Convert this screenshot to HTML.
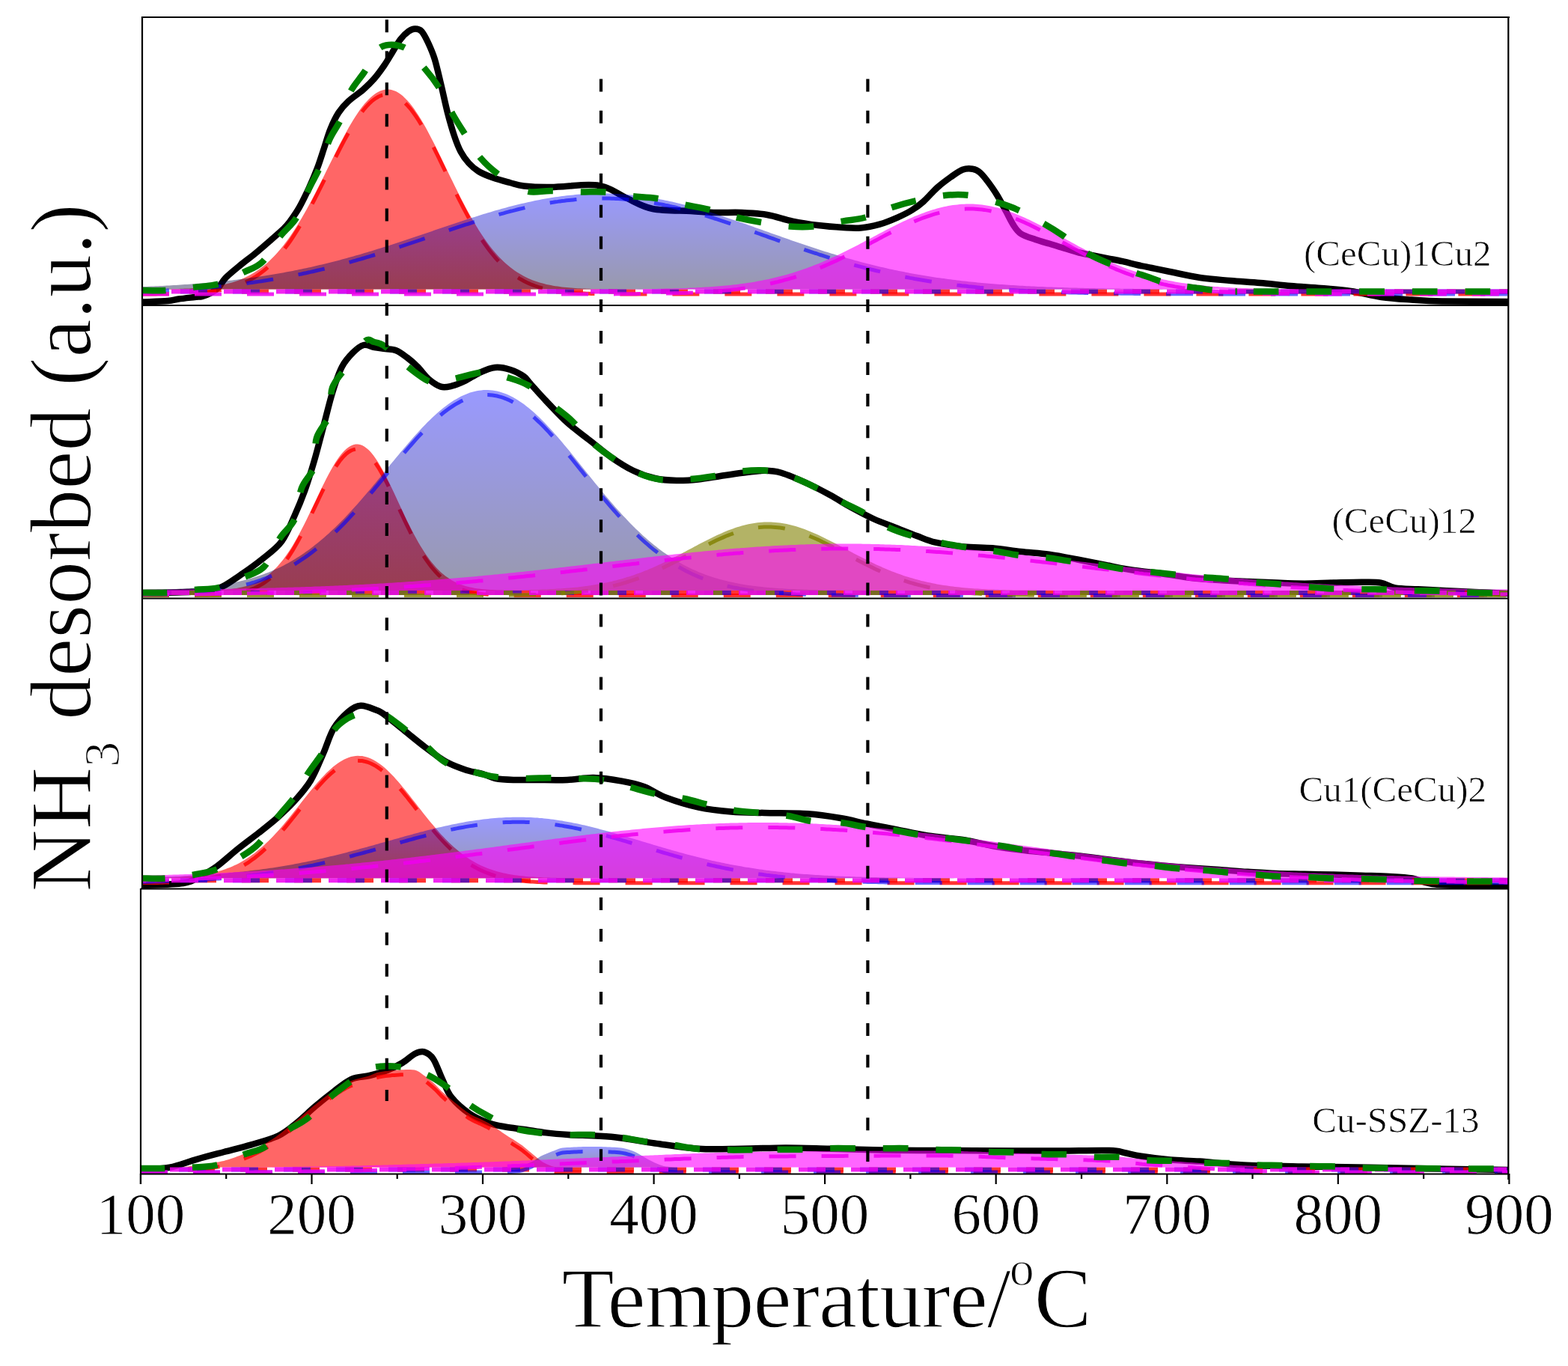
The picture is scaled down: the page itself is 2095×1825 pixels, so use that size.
<!DOCTYPE html><html><head><meta charset="utf-8"><style>html,body{margin:0;padding:0;background:#fff;overflow:hidden;}svg{display:block}</style></head><body>
<svg width="2095" height="1825" viewBox="0 0 2095 1825">
<rect width="2095" height="1825" fill="#fff"/>
<defs>
<linearGradient id="bg0_1" gradientUnits="userSpaceOnUse" x1="0" y1="258.5" x2="0" y2="386.5"><stop offset="0" stop-color="#0000ff"/><stop offset="1" stop-color="#000030"/></linearGradient>
<clipPath id="clip0"><rect x="190.0" y="23.0" width="1825.0" height="385.0"/></clipPath>
<linearGradient id="bg1_1" gradientUnits="userSpaceOnUse" x1="0" y1="521.0" x2="0" y2="789.0"><stop offset="0" stop-color="#0000ff"/><stop offset="1" stop-color="#000030"/></linearGradient>
<clipPath id="clip1"><rect x="190.0" y="408.0" width="1825.0" height="391.5"/></clipPath>
<linearGradient id="bg2_1" gradientUnits="userSpaceOnUse" x1="0" y1="1091.7" x2="0" y2="1173.3"><stop offset="0" stop-color="#0000ff"/><stop offset="1" stop-color="#000030"/></linearGradient>
<clipPath id="clip2"><rect x="190.0" y="799.5" width="1825.0" height="388.0"/></clipPath>
<linearGradient id="bg3_1" gradientUnits="userSpaceOnUse" x1="0" y1="1532.0" x2="0" y2="1559.5"><stop offset="0" stop-color="#0000ff"/><stop offset="1" stop-color="#000030"/></linearGradient>
<clipPath id="clip3"><rect x="188.0" y="1187.5" width="1827.0" height="381.0"/></clipPath>
</defs>
<g clip-path="url(#clip0)">
<path d="M190.0,403.5 C195.7,403.2 215.9,402.7 224.0,402.0 C232.1,401.3 232.5,400.3 238.5,399.5 C244.5,398.7 254.8,397.6 260.0,397.0 C265.2,396.4 266.6,396.8 270.0,396.0 C273.4,395.2 276.8,394.0 280.5,392.0 C284.2,390.0 288.5,387.5 292.0,384.0 C295.5,380.5 296.9,375.9 301.7,371.0 C306.5,366.1 314.5,359.7 321.0,354.4 C327.5,349.1 334.1,344.3 340.6,339.0 C347.1,333.7 353.5,328.1 360.0,322.4 C366.5,316.7 375.0,309.3 379.5,305.0 C384.0,300.7 383.6,301.1 387.0,296.4 C390.4,291.7 395.7,284.4 400.0,276.8 C404.3,269.2 409.0,259.4 413.0,250.7 C417.0,242.0 420.7,233.3 424.0,224.6 C427.3,215.9 429.9,207.2 432.8,198.5 C435.7,189.8 438.2,180.3 441.5,172.3 C444.8,164.3 448.3,156.8 452.3,150.6 C456.3,144.4 459.9,140.4 465.4,135.3 C470.8,130.2 479.2,125.1 485.0,120.0 C490.8,114.9 495.5,110.3 500.2,104.9 C504.9,99.5 509.3,93.3 513.3,87.5 C517.3,81.7 520.6,75.8 524.2,70.0 C527.8,64.2 531.4,57.3 535.0,52.6 C538.6,47.9 542.7,44.1 546.0,41.8 C549.3,39.4 551.7,38.5 554.6,38.5 C557.5,38.5 560.4,38.7 563.3,41.8 C566.2,44.9 569.1,50.8 572.0,57.0 C574.9,63.2 577.8,69.4 580.7,78.8 C583.6,88.2 586.5,101.6 589.4,113.6 C592.3,125.6 595.1,139.4 598.0,150.6 C600.9,161.8 603.9,172.3 606.8,181.0 C609.7,189.7 612.3,196.6 615.6,202.8 C618.9,209.0 622.4,213.6 626.4,218.0 C630.4,222.4 634.1,225.7 639.5,229.0 C644.9,232.3 652.1,235.1 659.0,237.6 C665.9,240.1 674.2,242.2 681.0,244.0 C687.8,245.8 690.8,247.5 700.0,248.5 C709.2,249.5 721.5,250.2 736.0,250.0 C750.5,249.8 774.5,246.8 787.0,247.0 C799.5,247.2 802.5,248.0 811.0,251.0 C819.5,254.0 827.8,260.3 838.0,265.0 C848.2,269.7 857.8,276.2 872.0,279.0 C886.2,281.8 908.8,281.2 923.0,282.0 C937.2,282.8 945.7,283.7 957.0,284.0 C968.3,284.3 979.7,283.5 991.0,284.0 C1002.3,284.5 1013.7,285.1 1025.0,287.0 C1036.3,288.9 1047.7,293.3 1059.0,295.6 C1070.3,297.9 1081.7,299.6 1093.0,301.0 C1104.3,302.4 1117.5,303.4 1127.0,304.0 C1136.5,304.6 1142.0,305.2 1150.0,304.5 C1158.0,303.8 1167.2,301.9 1175.3,299.6 C1183.4,297.3 1191.5,293.9 1198.6,290.8 C1205.7,287.7 1212.2,284.6 1218.0,281.0 C1223.8,277.4 1227.8,274.7 1233.6,269.5 C1239.4,264.3 1246.8,255.5 1253.0,250.0 C1259.2,244.5 1265.1,240.3 1270.6,236.4 C1276.1,232.5 1281.2,228.5 1286.0,226.7 C1290.8,224.9 1295.8,225.0 1299.7,225.7 C1303.6,226.3 1306.0,227.5 1309.5,230.6 C1313.0,233.7 1317.1,239.0 1321.0,244.2 C1324.9,249.4 1328.9,255.2 1332.8,261.7 C1336.7,268.2 1341.0,276.5 1344.5,283.0 C1348.0,289.5 1350.8,295.7 1354.0,300.6 C1357.2,305.5 1359.1,309.0 1364.0,312.2 C1368.9,315.4 1376.9,317.7 1383.4,320.0 C1389.9,322.3 1396.4,323.9 1402.8,325.8 C1409.2,327.8 1415.5,329.8 1422.0,331.7 C1428.5,333.6 1435.2,335.9 1441.7,337.5 C1448.2,339.1 1454.5,340.1 1461.0,341.4 C1467.5,342.7 1474.1,344.0 1480.6,345.3 C1487.1,346.6 1493.5,347.8 1500.0,349.2 C1506.5,350.6 1513.0,352.5 1519.5,354.0 C1526.0,355.5 1531.8,356.5 1539.0,358.0 C1546.2,359.5 1552.2,360.8 1563.0,363.0 C1573.8,365.2 1590.0,369.0 1603.5,371.0 C1617.0,373.0 1630.6,373.8 1644.0,375.0 C1657.4,376.2 1670.6,376.8 1684.0,378.0 C1697.4,379.2 1711.1,380.8 1724.6,382.0 C1738.1,383.2 1751.6,383.8 1765.0,385.0 C1778.4,386.2 1791.5,387.0 1805.0,389.0 C1818.5,391.0 1832.2,395.1 1845.7,397.0 C1859.2,398.9 1872.6,399.6 1886.0,400.5 C1899.4,401.4 1904.5,402.1 1926.0,402.5 C1947.5,402.9 2000.2,402.9 2015.0,403.0" fill="none" stroke="#000" stroke-width="8.5" stroke-linejoin="round" stroke-linecap="round"/>
<polygon points="190.0,386.4 193.0,386.4 196.0,386.4 199.0,386.4 202.0,386.4 205.0,386.4 208.0,386.4 211.0,386.3 214.0,386.3 217.0,386.3 220.0,386.2 223.0,386.2 226.0,386.2 229.0,386.1 232.0,386.1 235.0,386.0 238.0,385.9 241.0,385.8 244.0,385.7 247.0,385.6 250.0,385.5 253.0,385.4 256.0,385.2 259.0,385.1 262.0,384.9 265.0,384.7 268.0,384.5 271.0,384.2 274.0,384.0 277.0,383.6 280.0,383.3 283.0,382.9 286.0,382.5 289.0,382.1 292.0,381.6 295.0,381.0 298.0,380.4 301.0,379.8 304.0,379.0 307.0,378.3 310.0,377.4 313.0,376.5 316.0,375.5 319.0,374.4 322.0,373.2 325.0,372.0 328.0,370.6 331.0,369.1 334.0,367.5 337.0,365.8 340.0,364.0 343.0,362.1 346.0,360.0 349.0,357.8 352.0,355.5 355.0,353.0 358.0,350.4 361.0,347.6 364.0,344.6 367.0,341.5 370.0,338.3 373.0,334.8 376.0,331.2 379.0,327.5 382.0,323.6 385.0,319.5 388.0,315.2 391.0,310.8 394.0,306.2 397.0,301.4 400.0,296.5 403.0,291.5 406.0,286.3 409.0,281.0 412.0,275.5 415.0,269.9 418.0,264.3 421.0,258.5 424.0,252.6 427.0,246.7 430.0,240.7 433.0,234.7 436.0,228.6 439.0,222.5 442.0,216.5 445.0,210.4 448.0,204.4 451.0,198.5 454.0,192.6 457.0,186.9 460.0,181.2 463.0,175.7 466.0,170.3 469.0,165.2 472.0,160.2 475.0,155.4 478.0,150.9 481.0,146.6 484.0,142.6 487.0,138.8 490.0,135.4 493.0,132.2 496.0,129.4 499.0,126.9 502.0,124.8 505.0,123.0 508.0,121.6 511.0,120.5 514.0,119.8 517.0,119.5 520.0,119.6 523.0,120.0 526.0,120.9 529.0,122.1 532.0,123.8 535.0,125.8 538.0,128.1 541.0,130.9 544.0,133.9 547.0,137.3 550.0,141.0 553.0,145.1 556.0,149.4 559.0,154.0 562.0,158.8 565.0,163.8 568.0,169.1 571.0,174.5 574.0,180.2 577.0,185.9 580.0,191.8 583.0,197.8 586.0,203.9 589.0,210.1 592.0,216.3 595.0,222.5 598.0,228.7 601.0,234.9 604.0,241.1 607.0,247.2 610.0,253.3 613.0,259.3 616.0,265.2 619.0,271.0 622.0,276.7 625.0,282.3 628.0,287.7 631.0,293.0 634.0,298.1 637.0,303.1 640.0,307.9 643.0,312.6 646.0,317.0 649.0,321.3 652.0,325.5 655.0,329.4 658.0,333.2 661.0,336.8 664.0,340.2 667.0,343.4 670.0,346.5 673.0,349.4 676.0,352.2 679.0,354.8 682.0,357.2 685.0,359.5 688.0,361.7 691.0,363.7 694.0,365.6 697.0,367.3 700.0,369.0 703.0,370.5 706.0,371.9 709.0,373.2 712.0,374.4 715.0,375.5 718.0,376.5 721.0,377.5 724.0,378.3 727.0,379.1 730.0,379.9 733.0,380.5 736.0,381.1 739.0,381.7 742.0,382.2 745.0,382.6 748.0,383.0 751.0,383.4 754.0,383.8 757.0,384.1 760.0,384.3 763.0,384.6 766.0,384.8 769.0,385.0 772.0,385.2 775.0,385.3 778.0,385.5 781.0,385.6 784.0,385.7 787.0,385.8 790.0,385.9 793.0,386.0 796.0,386.0 799.0,386.1 802.0,386.1 805.0,386.2 808.0,386.2 811.0,386.3 814.0,386.3 817.0,386.3 820.0,386.4 823.0,386.4 826.0,386.4 829.0,386.4 832.0,386.4 835.0,386.4 838.0,386.4 841.0,386.4 844.0,386.5 847.0,386.5 850.0,386.5 853.0,386.5 856.0,386.5 859.0,386.5 862.0,386.5 865.0,386.5 868.0,386.5 871.0,386.5 874.0,386.5 877.0,386.5 880.0,386.5 883.0,386.5 886.0,386.5 889.0,386.5 892.0,386.5 895.0,386.5 898.0,386.5 901.0,386.5 904.0,386.5 907.0,386.5 910.0,386.5 913.0,386.5 916.0,386.5 919.0,386.5 922.0,386.5 925.0,386.5 928.0,386.5 931.0,386.5 934.0,386.5 937.0,386.5 940.0,386.5 943.0,386.5 946.0,386.5 949.0,386.5 952.0,386.5 955.0,386.5 958.0,386.5 961.0,386.5 964.0,386.5 967.0,386.5 970.0,386.5 973.0,386.5 976.0,386.5 979.0,386.5 982.0,386.5 985.0,386.5 988.0,386.5 991.0,386.5 994.0,386.5 997.0,386.5 1000.0,386.5 1003.0,386.5 1006.0,386.5 1009.0,386.5 1012.0,386.5 1015.0,386.5 1018.0,386.5 1021.0,386.5 1024.0,386.5 1027.0,386.5 1030.0,386.5 1033.0,386.5 1036.0,386.5 1039.0,386.5 1042.0,386.5 1045.0,386.5 1048.0,386.5 1051.0,386.5 1054.0,386.5 1057.0,386.5 1060.0,386.5 1063.0,386.5 1066.0,386.5 1069.0,386.5 1072.0,386.5 1075.0,386.5 1078.0,386.5 1081.0,386.5 1084.0,386.5 1087.0,386.5 1090.0,386.5 1093.0,386.5 1096.0,386.5 1099.0,386.5 1102.0,386.5 1105.0,386.5 1108.0,386.5 1111.0,386.5 1114.0,386.5 1117.0,386.5 1120.0,386.5 1123.0,386.5 1126.0,386.5 1129.0,386.5 1132.0,386.5 1135.0,386.5 1138.0,386.5 1141.0,386.5 1144.0,386.5 1147.0,386.5 1150.0,386.5 1153.0,386.5 1156.0,386.5 1159.0,386.5 1162.0,386.5 1165.0,386.5 1168.0,386.5 1171.0,386.5 1174.0,386.5 1177.0,386.5 1180.0,386.5 1183.0,386.5 1186.0,386.5 1189.0,386.5 1192.0,386.5 1195.0,386.5 1198.0,386.5 1201.0,386.5 1204.0,386.5 1207.0,386.5 1210.0,386.5 1213.0,386.5 1216.0,386.5 1219.0,386.5 1222.0,386.5 1225.0,386.5 1228.0,386.5 1231.0,386.5 1234.0,386.5 1237.0,386.5 1240.0,386.5 1243.0,386.5 1246.0,386.5 1249.0,386.5 1252.0,386.5 1255.0,386.5 1258.0,386.5 1261.0,386.5 1264.0,386.5 1267.0,386.5 1270.0,386.5 1273.0,386.5 1276.0,386.5 1279.0,386.5 1282.0,386.5 1285.0,386.5 1288.0,386.5 1291.0,386.5 1294.0,386.5 1297.0,386.5 1300.0,386.5 1303.0,386.5 1306.0,386.5 1309.0,386.5 1312.0,386.5 1315.0,386.5 1318.0,386.5 1321.0,386.5 1324.0,386.5 1327.0,386.5 1330.0,386.5 1333.0,386.5 1336.0,386.5 1339.0,386.5 1342.0,386.5 1345.0,386.5 1348.0,386.5 1351.0,386.5 1354.0,386.5 1357.0,386.5 1360.0,386.5 1363.0,386.5 1366.0,386.5 1369.0,386.5 1372.0,386.5 1375.0,386.5 1378.0,386.5 1381.0,386.5 1384.0,386.5 1387.0,386.5 1390.0,386.5 1393.0,386.5 1396.0,386.5 1399.0,386.5 1402.0,386.5 1405.0,386.5 1408.0,386.5 1411.0,386.5 1414.0,386.5 1417.0,386.5 1420.0,386.5 1423.0,386.5 1426.0,386.5 1429.0,386.5 1432.0,386.5 1435.0,386.5 1438.0,386.5 1441.0,386.5 1444.0,386.5 1447.0,386.5 1450.0,386.5 1453.0,386.5 1456.0,386.5 1459.0,386.5 1462.0,386.5 1465.0,386.5 1468.0,386.5 1471.0,386.5 1474.0,386.5 1477.0,386.5 1480.0,386.5 1483.0,386.5 1486.0,386.5 1489.0,386.5 1492.0,386.5 1495.0,386.5 1498.0,386.5 1501.0,386.5 1504.0,386.5 1507.0,386.5 1510.0,386.5 1513.0,386.5 1516.0,386.5 1519.0,386.5 1522.0,386.5 1525.0,386.5 1528.0,386.5 1531.0,386.5 1534.0,386.5 1537.0,386.5 1540.0,386.5 1543.0,386.5 1546.0,386.5 1549.0,386.5 1552.0,386.5 1555.0,386.5 1558.0,386.5 1561.0,386.5 1564.0,386.5 1567.0,386.5 1570.0,386.5 1573.0,386.5 1576.0,386.5 1579.0,386.5 1582.0,386.5 1585.0,386.5 1588.0,386.5 1591.0,386.5 1594.0,386.5 1597.0,386.5 1600.0,386.5 1603.0,386.5 1606.0,386.5 1609.0,386.5 1612.0,386.5 1615.0,386.5 1618.0,386.5 1621.0,386.5 1624.0,386.5 1627.0,386.5 1630.0,386.5 1633.0,386.5 1636.0,386.5 1639.0,386.5 1642.0,386.5 1645.0,386.5 1648.0,386.5 1651.0,386.5 1654.0,386.5 1657.0,386.5 1660.0,386.5 1663.0,386.5 1666.0,386.5 1669.0,386.5 1672.0,386.5 1675.0,386.5 1678.0,386.5 1681.0,386.5 1684.0,386.5 1687.0,386.5 1690.0,386.5 1693.0,386.5 1696.0,386.5 1699.0,386.5 1702.0,386.5 1705.0,386.5 1708.0,386.5 1711.0,386.5 1714.0,386.5 1717.0,386.5 1720.0,386.5 1723.0,386.5 1726.0,386.5 1729.0,386.5 1732.0,386.5 1735.0,386.5 1738.0,386.5 1741.0,386.5 1744.0,386.5 1747.0,386.5 1750.0,386.5 1753.0,386.5 1756.0,386.5 1759.0,386.5 1762.0,386.5 1765.0,386.5 1768.0,386.5 1771.0,386.5 1774.0,386.5 1777.0,386.5 1780.0,386.5 1783.0,386.5 1786.0,386.5 1789.0,386.5 1792.0,386.5 1795.0,386.5 1798.0,386.5 1801.0,386.5 1804.0,386.5 1807.0,386.5 1810.0,386.5 1813.0,386.5 1816.0,386.5 1819.0,386.5 1822.0,386.5 1825.0,386.5 1828.0,386.5 1831.0,386.5 1834.0,386.5 1837.0,386.5 1840.0,386.5 1843.0,386.5 1846.0,386.5 1849.0,386.5 1852.0,386.5 1855.0,386.5 1858.0,386.5 1861.0,386.5 1864.0,386.5 1867.0,386.5 1870.0,386.5 1873.0,386.5 1876.0,386.5 1879.0,386.5 1882.0,386.5 1885.0,386.5 1888.0,386.5 1891.0,386.5 1894.0,386.5 1897.0,386.5 1900.0,386.5 1903.0,386.5 1906.0,386.5 1909.0,386.5 1912.0,386.5 1915.0,386.5 1918.0,386.5 1921.0,386.5 1924.0,386.5 1927.0,386.5 1930.0,386.5 1933.0,386.5 1936.0,386.5 1939.0,386.5 1942.0,386.5 1945.0,386.5 1948.0,386.5 1951.0,386.5 1954.0,386.5 1957.0,386.5 1960.0,386.5 1963.0,386.5 1966.0,386.5 1969.0,386.5 1972.0,386.5 1975.0,386.5 1978.0,386.5 1981.0,386.5 1984.0,386.5 1987.0,386.5 1990.0,386.5 1993.0,386.5 1996.0,386.5 1999.0,386.5 2002.0,386.5 2005.0,386.5 2008.0,386.5 2011.0,386.5 2014.0,386.5 2017.0,386.5 2017.0,386.5 190.0,386.5" fill="#ff0000" fill-opacity="0.60" stroke="none"/>
<polyline points="190.0,392.9 193.0,392.9 196.0,392.9 199.0,392.9 202.0,392.9 205.0,392.9 208.0,392.9 211.0,392.8 214.0,392.8 217.0,392.8 220.0,392.7 223.0,392.7 226.0,392.7 229.0,392.6 232.0,392.6 235.0,392.5 238.0,392.4 241.0,392.3 244.0,392.2 247.0,392.1 250.0,392.0 253.0,391.9 256.0,391.7 259.0,391.6 262.0,391.4 265.0,391.2 268.0,391.0 271.0,390.7 274.0,390.5 277.0,390.1 280.0,389.8 283.0,389.4 286.0,389.0 289.0,388.6 292.0,388.1 295.0,387.5 298.0,386.9 301.0,386.3 304.0,385.5 307.0,384.8 310.0,383.9 313.0,383.0 316.0,382.0 319.0,380.9 322.0,379.7 325.0,378.5 328.0,377.1 331.0,375.6 334.0,374.0 337.0,372.3 340.0,370.5 343.0,368.6 346.0,366.5 349.0,364.3 352.0,362.0 355.0,359.5 358.0,356.9 361.0,354.1 364.0,351.1 367.0,348.0 370.0,344.8 373.0,341.3 376.0,337.7 379.0,334.0 382.0,330.1 385.0,326.0 388.0,321.7 391.0,317.3 394.0,312.7 397.0,307.9 400.0,303.0 403.0,298.0 406.0,292.8 409.0,287.5 412.0,282.0 415.0,276.4 418.0,270.8 421.0,265.0 424.0,259.1 427.0,253.2 430.0,247.2 433.0,241.2 436.0,235.1 439.0,229.0 442.0,223.0 445.0,216.9 448.0,210.9 451.0,205.0 454.0,199.1 457.0,193.4 460.0,187.7 463.0,182.2 466.0,176.8 469.0,171.7 472.0,166.7 475.0,161.9 478.0,157.4 481.0,153.1 484.0,149.1 487.0,145.3 490.0,141.9 493.0,138.7 496.0,135.9 499.0,133.4 502.0,131.3 505.0,129.5 508.0,128.1 511.0,127.0 514.0,126.3 517.0,126.0 520.0,126.1 523.0,126.5 526.0,127.4 529.0,128.6 532.0,130.3 535.0,132.3 538.0,134.6 541.0,137.4 544.0,140.4 547.0,143.8 550.0,147.5 553.0,151.6 556.0,155.9 559.0,160.5 562.0,165.3 565.0,170.3 568.0,175.6 571.0,181.0 574.0,186.7 577.0,192.4 580.0,198.3 583.0,204.3 586.0,210.4 589.0,216.6 592.0,222.8 595.0,229.0 598.0,235.2 601.0,241.4 604.0,247.6 607.0,253.7 610.0,259.8 613.0,265.8 616.0,271.7 619.0,277.5 622.0,283.2 625.0,288.8 628.0,294.2 631.0,299.5 634.0,304.6 637.0,309.6 640.0,314.4 643.0,319.1 646.0,323.5 649.0,327.8 652.0,332.0 655.0,335.9 658.0,339.7 661.0,343.3 664.0,346.7 667.0,349.9 670.0,353.0 673.0,355.9 676.0,358.7 679.0,361.3 682.0,363.7 685.0,366.0 688.0,368.2 691.0,370.2 694.0,372.1 697.0,373.8 700.0,375.5 703.0,377.0 706.0,378.4 709.0,379.7 712.0,380.9 715.0,382.0 718.0,383.0 721.0,384.0 724.0,384.8 727.0,385.6 730.0,386.4 733.0,387.0 736.0,387.6 739.0,388.2 742.0,388.7 745.0,389.1 748.0,389.5 751.0,389.9 754.0,390.3 757.0,390.6 760.0,390.8 763.0,391.1 766.0,391.3 769.0,391.5 772.0,391.7 775.0,391.8 778.0,392.0 781.0,392.1 784.0,392.2 787.0,392.3 790.0,392.4 793.0,392.5 796.0,392.5 799.0,392.6 802.0,392.6 805.0,392.7 808.0,392.7 811.0,392.8 814.0,392.8 817.0,392.8 820.0,392.9 823.0,392.9 826.0,392.9 829.0,392.9 832.0,392.9 835.0,392.9 838.0,392.9 841.0,392.9 844.0,393.0 847.0,393.0 850.0,393.0 853.0,393.0 856.0,393.0 859.0,393.0 862.0,393.0 865.0,393.0 868.0,393.0 871.0,393.0 874.0,393.0 877.0,393.0 880.0,393.0 883.0,393.0 886.0,393.0 889.0,393.0 892.0,393.0 895.0,393.0 898.0,393.0 901.0,393.0 904.0,393.0 907.0,393.0 910.0,393.0 913.0,393.0 916.0,393.0 919.0,393.0 922.0,393.0 925.0,393.0 928.0,393.0 931.0,393.0 934.0,393.0 937.0,393.0 940.0,393.0 943.0,393.0 946.0,393.0 949.0,393.0 952.0,393.0 955.0,393.0 958.0,393.0 961.0,393.0 964.0,393.0 967.0,393.0 970.0,393.0 973.0,393.0 976.0,393.0 979.0,393.0 982.0,393.0 985.0,393.0 988.0,393.0 991.0,393.0 994.0,393.0 997.0,393.0 1000.0,393.0 1003.0,393.0 1006.0,393.0 1009.0,393.0 1012.0,393.0 1015.0,393.0 1018.0,393.0 1021.0,393.0 1024.0,393.0 1027.0,393.0 1030.0,393.0 1033.0,393.0 1036.0,393.0 1039.0,393.0 1042.0,393.0 1045.0,393.0 1048.0,393.0 1051.0,393.0 1054.0,393.0 1057.0,393.0 1060.0,393.0 1063.0,393.0 1066.0,393.0 1069.0,393.0 1072.0,393.0 1075.0,393.0 1078.0,393.0 1081.0,393.0 1084.0,393.0 1087.0,393.0 1090.0,393.0 1093.0,393.0 1096.0,393.0 1099.0,393.0 1102.0,393.0 1105.0,393.0 1108.0,393.0 1111.0,393.0 1114.0,393.0 1117.0,393.0 1120.0,393.0 1123.0,393.0 1126.0,393.0 1129.0,393.0 1132.0,393.0 1135.0,393.0 1138.0,393.0 1141.0,393.0 1144.0,393.0 1147.0,393.0 1150.0,393.0 1153.0,393.0 1156.0,393.0 1159.0,393.0 1162.0,393.0 1165.0,393.0 1168.0,393.0 1171.0,393.0 1174.0,393.0 1177.0,393.0 1180.0,393.0 1183.0,393.0 1186.0,393.0 1189.0,393.0 1192.0,393.0 1195.0,393.0 1198.0,393.0 1201.0,393.0 1204.0,393.0 1207.0,393.0 1210.0,393.0 1213.0,393.0 1216.0,393.0 1219.0,393.0 1222.0,393.0 1225.0,393.0 1228.0,393.0 1231.0,393.0 1234.0,393.0 1237.0,393.0 1240.0,393.0 1243.0,393.0 1246.0,393.0 1249.0,393.0 1252.0,393.0 1255.0,393.0 1258.0,393.0 1261.0,393.0 1264.0,393.0 1267.0,393.0 1270.0,393.0 1273.0,393.0 1276.0,393.0 1279.0,393.0 1282.0,393.0 1285.0,393.0 1288.0,393.0 1291.0,393.0 1294.0,393.0 1297.0,393.0 1300.0,393.0 1303.0,393.0 1306.0,393.0 1309.0,393.0 1312.0,393.0 1315.0,393.0 1318.0,393.0 1321.0,393.0 1324.0,393.0 1327.0,393.0 1330.0,393.0 1333.0,393.0 1336.0,393.0 1339.0,393.0 1342.0,393.0 1345.0,393.0 1348.0,393.0 1351.0,393.0 1354.0,393.0 1357.0,393.0 1360.0,393.0 1363.0,393.0 1366.0,393.0 1369.0,393.0 1372.0,393.0 1375.0,393.0 1378.0,393.0 1381.0,393.0 1384.0,393.0 1387.0,393.0 1390.0,393.0 1393.0,393.0 1396.0,393.0 1399.0,393.0 1402.0,393.0 1405.0,393.0 1408.0,393.0 1411.0,393.0 1414.0,393.0 1417.0,393.0 1420.0,393.0 1423.0,393.0 1426.0,393.0 1429.0,393.0 1432.0,393.0 1435.0,393.0 1438.0,393.0 1441.0,393.0 1444.0,393.0 1447.0,393.0 1450.0,393.0 1453.0,393.0 1456.0,393.0 1459.0,393.0 1462.0,393.0 1465.0,393.0 1468.0,393.0 1471.0,393.0 1474.0,393.0 1477.0,393.0 1480.0,393.0 1483.0,393.0 1486.0,393.0 1489.0,393.0 1492.0,393.0 1495.0,393.0 1498.0,393.0 1501.0,393.0 1504.0,393.0 1507.0,393.0 1510.0,393.0 1513.0,393.0 1516.0,393.0 1519.0,393.0 1522.0,393.0 1525.0,393.0 1528.0,393.0 1531.0,393.0 1534.0,393.0 1537.0,393.0 1540.0,393.0 1543.0,393.0 1546.0,393.0 1549.0,393.0 1552.0,393.0 1555.0,393.0 1558.0,393.0 1561.0,393.0 1564.0,393.0 1567.0,393.0 1570.0,393.0 1573.0,393.0 1576.0,393.0 1579.0,393.0 1582.0,393.0 1585.0,393.0 1588.0,393.0 1591.0,393.0 1594.0,393.0 1597.0,393.0 1600.0,393.0 1603.0,393.0 1606.0,393.0 1609.0,393.0 1612.0,393.0 1615.0,393.0 1618.0,393.0 1621.0,393.0 1624.0,393.0 1627.0,393.0 1630.0,393.0 1633.0,393.0 1636.0,393.0 1639.0,393.0 1642.0,393.0 1645.0,393.0 1648.0,393.0 1651.0,393.0 1654.0,393.0 1657.0,393.0 1660.0,393.0 1663.0,393.0 1666.0,393.0 1669.0,393.0 1672.0,393.0 1675.0,393.0 1678.0,393.0 1681.0,393.0 1684.0,393.0 1687.0,393.0 1690.0,393.0 1693.0,393.0 1696.0,393.0 1699.0,393.0 1702.0,393.0 1705.0,393.0 1708.0,393.0 1711.0,393.0 1714.0,393.0 1717.0,393.0 1720.0,393.0 1723.0,393.0 1726.0,393.0 1729.0,393.0 1732.0,393.0 1735.0,393.0 1738.0,393.0 1741.0,393.0 1744.0,393.0 1747.0,393.0 1750.0,393.0 1753.0,393.0 1756.0,393.0 1759.0,393.0 1762.0,393.0 1765.0,393.0 1768.0,393.0 1771.0,393.0 1774.0,393.0 1777.0,393.0 1780.0,393.0 1783.0,393.0 1786.0,393.0 1789.0,393.0 1792.0,393.0 1795.0,393.0 1798.0,393.0 1801.0,393.0 1804.0,393.0 1807.0,393.0 1810.0,393.0 1813.0,393.0 1816.0,393.0 1819.0,393.0 1822.0,393.0 1825.0,393.0 1828.0,393.0 1831.0,393.0 1834.0,393.0 1837.0,393.0 1840.0,393.0 1843.0,393.0 1846.0,393.0 1849.0,393.0 1852.0,393.0 1855.0,393.0 1858.0,393.0 1861.0,393.0 1864.0,393.0 1867.0,393.0 1870.0,393.0 1873.0,393.0 1876.0,393.0 1879.0,393.0 1882.0,393.0 1885.0,393.0 1888.0,393.0 1891.0,393.0 1894.0,393.0 1897.0,393.0 1900.0,393.0 1903.0,393.0 1906.0,393.0 1909.0,393.0 1912.0,393.0 1915.0,393.0 1918.0,393.0 1921.0,393.0 1924.0,393.0 1927.0,393.0 1930.0,393.0 1933.0,393.0 1936.0,393.0 1939.0,393.0 1942.0,393.0 1945.0,393.0 1948.0,393.0 1951.0,393.0 1954.0,393.0 1957.0,393.0 1960.0,393.0 1963.0,393.0 1966.0,393.0 1969.0,393.0 1972.0,393.0 1975.0,393.0 1978.0,393.0 1981.0,393.0 1984.0,393.0 1987.0,393.0 1990.0,393.0 1993.0,393.0 1996.0,393.0 1999.0,393.0 2002.0,393.0 2005.0,393.0 2008.0,393.0 2011.0,393.0 2014.0,393.0 2017.0,393.0" fill="none" stroke="#ff0000" stroke-opacity="0.80" stroke-width="5" stroke-dasharray="36 34" stroke-dashoffset="0"/>
<line x1="190.0" y1="389.5" x2="2015.0" y2="389.5" stroke="#ff0000" stroke-opacity="0.80" stroke-width="6" stroke-dasharray="36 34" stroke-dashoffset="7"/>
<polygon points="190.0,383.1 193.0,383.0 196.0,382.9 199.0,382.8 202.0,382.6 205.0,382.5 208.0,382.3 211.0,382.2 214.0,382.1 217.0,381.9 220.0,381.7 223.0,381.6 226.0,381.4 229.0,381.2 232.0,381.1 235.0,380.9 238.0,380.7 241.0,380.5 244.0,380.3 247.0,380.1 250.0,379.9 253.0,379.7 256.0,379.4 259.0,379.2 262.0,379.0 265.0,378.8 268.0,378.5 271.0,378.3 274.0,378.0 277.0,377.7 280.0,377.5 283.0,377.2 286.0,376.9 289.0,376.6 292.0,376.3 295.0,376.0 298.0,375.7 301.0,375.4 304.0,375.1 307.0,374.7 310.0,374.4 313.0,374.0 316.0,373.7 319.0,373.3 322.0,372.9 325.0,372.5 328.0,372.2 331.0,371.8 334.0,371.3 337.0,370.9 340.0,370.5 343.0,370.1 346.0,369.6 349.0,369.2 352.0,368.7 355.0,368.2 358.0,367.8 361.0,367.3 364.0,366.8 367.0,366.3 370.0,365.8 373.0,365.2 376.0,364.7 379.0,364.2 382.0,363.6 385.0,363.0 388.0,362.5 391.0,361.9 394.0,361.3 397.0,360.7 400.0,360.1 403.0,359.5 406.0,358.8 409.0,358.2 412.0,357.5 415.0,356.9 418.0,356.2 421.0,355.5 424.0,354.8 427.0,354.1 430.0,353.4 433.0,352.7 436.0,352.0 439.0,351.2 442.0,350.5 445.0,349.7 448.0,348.9 451.0,348.2 454.0,347.4 457.0,346.6 460.0,345.8 463.0,344.9 466.0,344.1 469.0,343.3 472.0,342.4 475.0,341.6 478.0,340.7 481.0,339.9 484.0,339.0 487.0,338.1 490.0,337.2 493.0,336.3 496.0,335.4 499.0,334.5 502.0,333.6 505.0,332.6 508.0,331.7 511.0,330.8 514.0,329.8 517.0,328.9 520.0,327.9 523.0,326.9 526.0,326.0 529.0,325.0 532.0,324.0 535.0,323.0 538.0,322.0 541.0,321.0 544.0,320.0 547.0,319.0 550.0,318.0 553.0,317.0 556.0,316.0 559.0,315.0 562.0,314.0 565.0,312.9 568.0,311.9 571.0,310.9 574.0,309.9 577.0,308.9 580.0,307.8 583.0,306.8 586.0,305.8 589.0,304.8 592.0,303.8 595.0,302.7 598.0,301.7 601.0,300.7 604.0,299.7 607.0,298.7 610.0,297.7 613.0,296.7 616.0,295.7 619.0,294.7 622.0,293.7 625.0,292.8 628.0,291.8 631.0,290.8 634.0,289.9 637.0,288.9 640.0,288.0 643.0,287.1 646.0,286.1 649.0,285.2 652.0,284.3 655.0,283.4 658.0,282.5 661.0,281.6 664.0,280.8 667.0,279.9 670.0,279.1 673.0,278.3 676.0,277.4 679.0,276.6 682.0,275.8 685.0,275.1 688.0,274.3 691.0,273.5 694.0,272.8 697.0,272.1 700.0,271.4 703.0,270.7 706.0,270.0 709.0,269.4 712.0,268.7 715.0,268.1 718.0,267.5 721.0,266.9 724.0,266.3 727.0,265.8 730.0,265.2 733.0,264.7 736.0,264.2 739.0,263.8 742.0,263.3 745.0,262.9 748.0,262.4 751.0,262.0 754.0,261.7 757.0,261.3 760.0,261.0 763.0,260.7 766.0,260.4 769.0,260.1 772.0,259.8 775.0,259.6 778.0,259.4 781.0,259.2 784.0,259.0 787.0,258.9 790.0,258.8 793.0,258.7 796.0,258.6 799.0,258.5 802.0,258.5 805.0,258.5 808.0,258.5 811.0,258.5 814.0,258.6 817.0,258.7 820.0,258.8 823.0,258.9 826.0,259.1 829.0,259.3 832.0,259.5 835.0,259.7 838.0,260.0 841.0,260.2 844.0,260.5 847.0,260.9 850.0,261.2 853.0,261.6 856.0,262.0 859.0,262.4 862.0,262.8 865.0,263.3 868.0,263.7 871.0,264.2 874.0,264.8 877.0,265.3 880.0,265.9 883.0,266.4 886.0,267.0 889.0,267.7 892.0,268.3 895.0,269.0 898.0,269.6 901.0,270.3 904.0,271.0 907.0,271.8 910.0,272.5 913.0,273.3 916.0,274.1 919.0,274.9 922.0,275.7 925.0,276.5 928.0,277.3 931.0,278.2 934.0,279.1 937.0,279.9 940.0,280.8 943.0,281.7 946.0,282.7 949.0,283.6 952.0,284.5 955.0,285.5 958.0,286.4 961.0,287.4 964.0,288.4 967.0,289.4 970.0,290.4 973.0,291.4 976.0,292.4 979.0,293.4 982.0,294.4 985.0,295.5 988.0,296.5 991.0,297.6 994.0,298.6 997.0,299.6 1000.0,300.7 1003.0,301.8 1006.0,302.8 1009.0,303.9 1012.0,305.0 1015.0,306.0 1018.0,307.1 1021.0,308.2 1024.0,309.2 1027.0,310.3 1030.0,311.4 1033.0,312.4 1036.0,313.5 1039.0,314.6 1042.0,315.6 1045.0,316.7 1048.0,317.7 1051.0,318.8 1054.0,319.8 1057.0,320.9 1060.0,321.9 1063.0,323.0 1066.0,324.0 1069.0,325.0 1072.0,326.0 1075.0,327.1 1078.0,328.1 1081.0,329.1 1084.0,330.1 1087.0,331.1 1090.0,332.0 1093.0,333.0 1096.0,334.0 1099.0,334.9 1102.0,335.9 1105.0,336.8 1108.0,337.8 1111.0,338.7 1114.0,339.6 1117.0,340.5 1120.0,341.4 1123.0,342.3 1126.0,343.2 1129.0,344.1 1132.0,344.9 1135.0,345.8 1138.0,346.6 1141.0,347.5 1144.0,348.3 1147.0,349.1 1150.0,349.9 1153.0,350.7 1156.0,351.5 1159.0,352.3 1162.0,353.0 1165.0,353.8 1168.0,354.5 1171.0,355.2 1174.0,355.9 1177.0,356.7 1180.0,357.3 1183.0,358.0 1186.0,358.7 1189.0,359.4 1192.0,360.0 1195.0,360.7 1198.0,361.3 1201.0,361.9 1204.0,362.5 1207.0,363.1 1210.0,363.7 1213.0,364.3 1216.0,364.9 1219.0,365.4 1222.0,366.0 1225.0,366.5 1228.0,367.0 1231.0,367.5 1234.0,368.0 1237.0,368.5 1240.0,369.0 1243.0,369.5 1246.0,370.0 1249.0,370.4 1252.0,370.9 1255.0,371.3 1258.0,371.7 1261.0,372.1 1264.0,372.6 1267.0,373.0 1270.0,373.3 1273.0,373.7 1276.0,374.1 1279.0,374.5 1282.0,374.8 1285.0,375.2 1288.0,375.5 1291.0,375.8 1294.0,376.2 1297.0,376.5 1300.0,376.8 1303.0,377.1 1306.0,377.4 1309.0,377.7 1312.0,377.9 1315.0,378.2 1318.0,378.5 1321.0,378.7 1324.0,379.0 1327.0,379.2 1330.0,379.5 1333.0,379.7 1336.0,379.9 1339.0,380.1 1342.0,380.3 1345.0,380.5 1348.0,380.7 1351.0,380.9 1354.0,381.1 1357.0,381.3 1360.0,381.5 1363.0,381.7 1366.0,381.8 1369.0,382.0 1372.0,382.2 1375.0,382.3 1378.0,382.5 1381.0,382.6 1384.0,382.7 1387.0,382.9 1390.0,383.0 1393.0,383.1 1396.0,383.3 1399.0,383.4 1402.0,383.5 1405.0,383.6 1408.0,383.7 1411.0,383.8 1414.0,383.9 1417.0,384.0 1420.0,384.1 1423.0,384.2 1426.0,384.3 1429.0,384.4 1432.0,384.5 1435.0,384.5 1438.0,384.6 1441.0,384.7 1444.0,384.8 1447.0,384.8 1450.0,384.9 1453.0,385.0 1456.0,385.0 1459.0,385.1 1462.0,385.1 1465.0,385.2 1468.0,385.2 1471.0,385.3 1474.0,385.3 1477.0,385.4 1480.0,385.4 1483.0,385.5 1486.0,385.5 1489.0,385.6 1492.0,385.6 1495.0,385.6 1498.0,385.7 1501.0,385.7 1504.0,385.8 1507.0,385.8 1510.0,385.8 1513.0,385.8 1516.0,385.9 1519.0,385.9 1522.0,385.9 1525.0,386.0 1528.0,386.0 1531.0,386.0 1534.0,386.0 1537.0,386.0 1540.0,386.1 1543.0,386.1 1546.0,386.1 1549.0,386.1 1552.0,386.1 1555.0,386.2 1558.0,386.2 1561.0,386.2 1564.0,386.2 1567.0,386.2 1570.0,386.2 1573.0,386.2 1576.0,386.3 1579.0,386.3 1582.0,386.3 1585.0,386.3 1588.0,386.3 1591.0,386.3 1594.0,386.3 1597.0,386.3 1600.0,386.3 1603.0,386.3 1606.0,386.4 1609.0,386.4 1612.0,386.4 1615.0,386.4 1618.0,386.4 1621.0,386.4 1624.0,386.4 1627.0,386.4 1630.0,386.4 1633.0,386.4 1636.0,386.4 1639.0,386.4 1642.0,386.4 1645.0,386.4 1648.0,386.4 1651.0,386.4 1654.0,386.4 1657.0,386.4 1660.0,386.4 1663.0,386.4 1666.0,386.4 1669.0,386.5 1672.0,386.5 1675.0,386.5 1678.0,386.5 1681.0,386.5 1684.0,386.5 1687.0,386.5 1690.0,386.5 1693.0,386.5 1696.0,386.5 1699.0,386.5 1702.0,386.5 1705.0,386.5 1708.0,386.5 1711.0,386.5 1714.0,386.5 1717.0,386.5 1720.0,386.5 1723.0,386.5 1726.0,386.5 1729.0,386.5 1732.0,386.5 1735.0,386.5 1738.0,386.5 1741.0,386.5 1744.0,386.5 1747.0,386.5 1750.0,386.5 1753.0,386.5 1756.0,386.5 1759.0,386.5 1762.0,386.5 1765.0,386.5 1768.0,386.5 1771.0,386.5 1774.0,386.5 1777.0,386.5 1780.0,386.5 1783.0,386.5 1786.0,386.5 1789.0,386.5 1792.0,386.5 1795.0,386.5 1798.0,386.5 1801.0,386.5 1804.0,386.5 1807.0,386.5 1810.0,386.5 1813.0,386.5 1816.0,386.5 1819.0,386.5 1822.0,386.5 1825.0,386.5 1828.0,386.5 1831.0,386.5 1834.0,386.5 1837.0,386.5 1840.0,386.5 1843.0,386.5 1846.0,386.5 1849.0,386.5 1852.0,386.5 1855.0,386.5 1858.0,386.5 1861.0,386.5 1864.0,386.5 1867.0,386.5 1870.0,386.5 1873.0,386.5 1876.0,386.5 1879.0,386.5 1882.0,386.5 1885.0,386.5 1888.0,386.5 1891.0,386.5 1894.0,386.5 1897.0,386.5 1900.0,386.5 1903.0,386.5 1906.0,386.5 1909.0,386.5 1912.0,386.5 1915.0,386.5 1918.0,386.5 1921.0,386.5 1924.0,386.5 1927.0,386.5 1930.0,386.5 1933.0,386.5 1936.0,386.5 1939.0,386.5 1942.0,386.5 1945.0,386.5 1948.0,386.5 1951.0,386.5 1954.0,386.5 1957.0,386.5 1960.0,386.5 1963.0,386.5 1966.0,386.5 1969.0,386.5 1972.0,386.5 1975.0,386.5 1978.0,386.5 1981.0,386.5 1984.0,386.5 1987.0,386.5 1990.0,386.5 1993.0,386.5 1996.0,386.5 1999.0,386.5 2002.0,386.5 2005.0,386.5 2008.0,386.5 2011.0,386.5 2014.0,386.5 2017.0,386.5 2017.0,386.5 190.0,386.5" fill="url(#bg0_1)" fill-opacity="0.40" stroke="none"/>
<polyline points="190.0,389.6 193.0,389.5 196.0,389.4 199.0,389.3 202.0,389.1 205.0,389.0 208.0,388.8 211.0,388.7 214.0,388.6 217.0,388.4 220.0,388.2 223.0,388.1 226.0,387.9 229.0,387.7 232.0,387.6 235.0,387.4 238.0,387.2 241.0,387.0 244.0,386.8 247.0,386.6 250.0,386.4 253.0,386.2 256.0,385.9 259.0,385.7 262.0,385.5 265.0,385.3 268.0,385.0 271.0,384.8 274.0,384.5 277.0,384.2 280.0,384.0 283.0,383.7 286.0,383.4 289.0,383.1 292.0,382.8 295.0,382.5 298.0,382.2 301.0,381.9 304.0,381.6 307.0,381.2 310.0,380.9 313.0,380.5 316.0,380.2 319.0,379.8 322.0,379.4 325.0,379.0 328.0,378.7 331.0,378.3 334.0,377.8 337.0,377.4 340.0,377.0 343.0,376.6 346.0,376.1 349.0,375.7 352.0,375.2 355.0,374.7 358.0,374.3 361.0,373.8 364.0,373.3 367.0,372.8 370.0,372.3 373.0,371.7 376.0,371.2 379.0,370.7 382.0,370.1 385.0,369.5 388.0,369.0 391.0,368.4 394.0,367.8 397.0,367.2 400.0,366.6 403.0,366.0 406.0,365.3 409.0,364.7 412.0,364.0 415.0,363.4 418.0,362.7 421.0,362.0 424.0,361.3 427.0,360.6 430.0,359.9 433.0,359.2 436.0,358.5 439.0,357.7 442.0,357.0 445.0,356.2 448.0,355.4 451.0,354.7 454.0,353.9 457.0,353.1 460.0,352.3 463.0,351.4 466.0,350.6 469.0,349.8 472.0,348.9 475.0,348.1 478.0,347.2 481.0,346.4 484.0,345.5 487.0,344.6 490.0,343.7 493.0,342.8 496.0,341.9 499.0,341.0 502.0,340.1 505.0,339.1 508.0,338.2 511.0,337.3 514.0,336.3 517.0,335.4 520.0,334.4 523.0,333.4 526.0,332.5 529.0,331.5 532.0,330.5 535.0,329.5 538.0,328.5 541.0,327.5 544.0,326.5 547.0,325.5 550.0,324.5 553.0,323.5 556.0,322.5 559.0,321.5 562.0,320.5 565.0,319.4 568.0,318.4 571.0,317.4 574.0,316.4 577.0,315.4 580.0,314.3 583.0,313.3 586.0,312.3 589.0,311.3 592.0,310.3 595.0,309.2 598.0,308.2 601.0,307.2 604.0,306.2 607.0,305.2 610.0,304.2 613.0,303.2 616.0,302.2 619.0,301.2 622.0,300.2 625.0,299.3 628.0,298.3 631.0,297.3 634.0,296.4 637.0,295.4 640.0,294.5 643.0,293.6 646.0,292.6 649.0,291.7 652.0,290.8 655.0,289.9 658.0,289.0 661.0,288.1 664.0,287.3 667.0,286.4 670.0,285.6 673.0,284.8 676.0,283.9 679.0,283.1 682.0,282.3 685.0,281.6 688.0,280.8 691.0,280.0 694.0,279.3 697.0,278.6 700.0,277.9 703.0,277.2 706.0,276.5 709.0,275.9 712.0,275.2 715.0,274.6 718.0,274.0 721.0,273.4 724.0,272.8 727.0,272.3 730.0,271.7 733.0,271.2 736.0,270.7 739.0,270.3 742.0,269.8 745.0,269.4 748.0,268.9 751.0,268.5 754.0,268.2 757.0,267.8 760.0,267.5 763.0,267.2 766.0,266.9 769.0,266.6 772.0,266.3 775.0,266.1 778.0,265.9 781.0,265.7 784.0,265.5 787.0,265.4 790.0,265.3 793.0,265.2 796.0,265.1 799.0,265.0 802.0,265.0 805.0,265.0 808.0,265.0 811.0,265.0 814.0,265.1 817.0,265.2 820.0,265.3 823.0,265.4 826.0,265.6 829.0,265.8 832.0,266.0 835.0,266.2 838.0,266.5 841.0,266.7 844.0,267.0 847.0,267.4 850.0,267.7 853.0,268.1 856.0,268.5 859.0,268.9 862.0,269.3 865.0,269.8 868.0,270.2 871.0,270.7 874.0,271.3 877.0,271.8 880.0,272.4 883.0,272.9 886.0,273.5 889.0,274.2 892.0,274.8 895.0,275.5 898.0,276.1 901.0,276.8 904.0,277.5 907.0,278.3 910.0,279.0 913.0,279.8 916.0,280.6 919.0,281.4 922.0,282.2 925.0,283.0 928.0,283.8 931.0,284.7 934.0,285.6 937.0,286.4 940.0,287.3 943.0,288.2 946.0,289.2 949.0,290.1 952.0,291.0 955.0,292.0 958.0,292.9 961.0,293.9 964.0,294.9 967.0,295.9 970.0,296.9 973.0,297.9 976.0,298.9 979.0,299.9 982.0,300.9 985.0,302.0 988.0,303.0 991.0,304.1 994.0,305.1 997.0,306.1 1000.0,307.2 1003.0,308.3 1006.0,309.3 1009.0,310.4 1012.0,311.5 1015.0,312.5 1018.0,313.6 1021.0,314.7 1024.0,315.7 1027.0,316.8 1030.0,317.9 1033.0,318.9 1036.0,320.0 1039.0,321.1 1042.0,322.1 1045.0,323.2 1048.0,324.2 1051.0,325.3 1054.0,326.3 1057.0,327.4 1060.0,328.4 1063.0,329.5 1066.0,330.5 1069.0,331.5 1072.0,332.5 1075.0,333.6 1078.0,334.6 1081.0,335.6 1084.0,336.6 1087.0,337.6 1090.0,338.5 1093.0,339.5 1096.0,340.5 1099.0,341.4 1102.0,342.4 1105.0,343.3 1108.0,344.3 1111.0,345.2 1114.0,346.1 1117.0,347.0 1120.0,347.9 1123.0,348.8 1126.0,349.7 1129.0,350.6 1132.0,351.4 1135.0,352.3 1138.0,353.1 1141.0,354.0 1144.0,354.8 1147.0,355.6 1150.0,356.4 1153.0,357.2 1156.0,358.0 1159.0,358.8 1162.0,359.5 1165.0,360.3 1168.0,361.0 1171.0,361.7 1174.0,362.4 1177.0,363.2 1180.0,363.8 1183.0,364.5 1186.0,365.2 1189.0,365.9 1192.0,366.5 1195.0,367.2 1198.0,367.8 1201.0,368.4 1204.0,369.0 1207.0,369.6 1210.0,370.2 1213.0,370.8 1216.0,371.4 1219.0,371.9 1222.0,372.5 1225.0,373.0 1228.0,373.5 1231.0,374.0 1234.0,374.5 1237.0,375.0 1240.0,375.5 1243.0,376.0 1246.0,376.5 1249.0,376.9 1252.0,377.4 1255.0,377.8 1258.0,378.2 1261.0,378.6 1264.0,379.1 1267.0,379.5 1270.0,379.8 1273.0,380.2 1276.0,380.6 1279.0,381.0 1282.0,381.3 1285.0,381.7 1288.0,382.0 1291.0,382.3 1294.0,382.7 1297.0,383.0 1300.0,383.3 1303.0,383.6 1306.0,383.9 1309.0,384.2 1312.0,384.4 1315.0,384.7 1318.0,385.0 1321.0,385.2 1324.0,385.5 1327.0,385.7 1330.0,386.0 1333.0,386.2 1336.0,386.4 1339.0,386.6 1342.0,386.8 1345.0,387.0 1348.0,387.2 1351.0,387.4 1354.0,387.6 1357.0,387.8 1360.0,388.0 1363.0,388.2 1366.0,388.3 1369.0,388.5 1372.0,388.7 1375.0,388.8 1378.0,389.0 1381.0,389.1 1384.0,389.2 1387.0,389.4 1390.0,389.5 1393.0,389.6 1396.0,389.8 1399.0,389.9 1402.0,390.0 1405.0,390.1 1408.0,390.2 1411.0,390.3 1414.0,390.4 1417.0,390.5 1420.0,390.6 1423.0,390.7 1426.0,390.8 1429.0,390.9 1432.0,391.0 1435.0,391.0 1438.0,391.1 1441.0,391.2 1444.0,391.3 1447.0,391.3 1450.0,391.4 1453.0,391.5 1456.0,391.5 1459.0,391.6 1462.0,391.6 1465.0,391.7 1468.0,391.7 1471.0,391.8 1474.0,391.8 1477.0,391.9 1480.0,391.9 1483.0,392.0 1486.0,392.0 1489.0,392.1 1492.0,392.1 1495.0,392.1 1498.0,392.2 1501.0,392.2 1504.0,392.3 1507.0,392.3 1510.0,392.3 1513.0,392.3 1516.0,392.4 1519.0,392.4 1522.0,392.4 1525.0,392.5 1528.0,392.5 1531.0,392.5 1534.0,392.5 1537.0,392.5 1540.0,392.6 1543.0,392.6 1546.0,392.6 1549.0,392.6 1552.0,392.6 1555.0,392.7 1558.0,392.7 1561.0,392.7 1564.0,392.7 1567.0,392.7 1570.0,392.7 1573.0,392.7 1576.0,392.8 1579.0,392.8 1582.0,392.8 1585.0,392.8 1588.0,392.8 1591.0,392.8 1594.0,392.8 1597.0,392.8 1600.0,392.8 1603.0,392.8 1606.0,392.9 1609.0,392.9 1612.0,392.9 1615.0,392.9 1618.0,392.9 1621.0,392.9 1624.0,392.9 1627.0,392.9 1630.0,392.9 1633.0,392.9 1636.0,392.9 1639.0,392.9 1642.0,392.9 1645.0,392.9 1648.0,392.9 1651.0,392.9 1654.0,392.9 1657.0,392.9 1660.0,392.9 1663.0,392.9 1666.0,392.9 1669.0,393.0 1672.0,393.0 1675.0,393.0 1678.0,393.0 1681.0,393.0 1684.0,393.0 1687.0,393.0 1690.0,393.0 1693.0,393.0 1696.0,393.0 1699.0,393.0 1702.0,393.0 1705.0,393.0 1708.0,393.0 1711.0,393.0 1714.0,393.0 1717.0,393.0 1720.0,393.0 1723.0,393.0 1726.0,393.0 1729.0,393.0 1732.0,393.0 1735.0,393.0 1738.0,393.0 1741.0,393.0 1744.0,393.0 1747.0,393.0 1750.0,393.0 1753.0,393.0 1756.0,393.0 1759.0,393.0 1762.0,393.0 1765.0,393.0 1768.0,393.0 1771.0,393.0 1774.0,393.0 1777.0,393.0 1780.0,393.0 1783.0,393.0 1786.0,393.0 1789.0,393.0 1792.0,393.0 1795.0,393.0 1798.0,393.0 1801.0,393.0 1804.0,393.0 1807.0,393.0 1810.0,393.0 1813.0,393.0 1816.0,393.0 1819.0,393.0 1822.0,393.0 1825.0,393.0 1828.0,393.0 1831.0,393.0 1834.0,393.0 1837.0,393.0 1840.0,393.0 1843.0,393.0 1846.0,393.0 1849.0,393.0 1852.0,393.0 1855.0,393.0 1858.0,393.0 1861.0,393.0 1864.0,393.0 1867.0,393.0 1870.0,393.0 1873.0,393.0 1876.0,393.0 1879.0,393.0 1882.0,393.0 1885.0,393.0 1888.0,393.0 1891.0,393.0 1894.0,393.0 1897.0,393.0 1900.0,393.0 1903.0,393.0 1906.0,393.0 1909.0,393.0 1912.0,393.0 1915.0,393.0 1918.0,393.0 1921.0,393.0 1924.0,393.0 1927.0,393.0 1930.0,393.0 1933.0,393.0 1936.0,393.0 1939.0,393.0 1942.0,393.0 1945.0,393.0 1948.0,393.0 1951.0,393.0 1954.0,393.0 1957.0,393.0 1960.0,393.0 1963.0,393.0 1966.0,393.0 1969.0,393.0 1972.0,393.0 1975.0,393.0 1978.0,393.0 1981.0,393.0 1984.0,393.0 1987.0,393.0 1990.0,393.0 1993.0,393.0 1996.0,393.0 1999.0,393.0 2002.0,393.0 2005.0,393.0 2008.0,393.0 2011.0,393.0 2014.0,393.0 2017.0,393.0" fill="none" stroke="#0000ff" stroke-opacity="0.60" stroke-width="5" stroke-dasharray="36 34" stroke-dashoffset="0"/>
<line x1="190.0" y1="389.5" x2="2015.0" y2="389.5" stroke="#0000ff" stroke-opacity="0.60" stroke-width="6" stroke-dasharray="36 34" stroke-dashoffset="19"/>
<polygon points="190.0,386.5 193.0,386.5 196.0,386.5 199.0,386.5 202.0,386.5 205.0,386.5 208.0,386.5 211.0,386.5 214.0,386.5 217.0,386.5 220.0,386.5 223.0,386.5 226.0,386.5 229.0,386.5 232.0,386.5 235.0,386.5 238.0,386.5 241.0,386.5 244.0,386.5 247.0,386.5 250.0,386.5 253.0,386.5 256.0,386.5 259.0,386.5 262.0,386.5 265.0,386.5 268.0,386.5 271.0,386.5 274.0,386.5 277.0,386.5 280.0,386.5 283.0,386.5 286.0,386.5 289.0,386.5 292.0,386.5 295.0,386.5 298.0,386.5 301.0,386.5 304.0,386.5 307.0,386.5 310.0,386.5 313.0,386.5 316.0,386.5 319.0,386.5 322.0,386.5 325.0,386.5 328.0,386.5 331.0,386.5 334.0,386.5 337.0,386.5 340.0,386.5 343.0,386.5 346.0,386.5 349.0,386.5 352.0,386.5 355.0,386.5 358.0,386.5 361.0,386.5 364.0,386.5 367.0,386.5 370.0,386.5 373.0,386.5 376.0,386.5 379.0,386.5 382.0,386.5 385.0,386.5 388.0,386.5 391.0,386.5 394.0,386.5 397.0,386.5 400.0,386.5 403.0,386.5 406.0,386.5 409.0,386.5 412.0,386.5 415.0,386.5 418.0,386.5 421.0,386.5 424.0,386.5 427.0,386.5 430.0,386.5 433.0,386.5 436.0,386.5 439.0,386.5 442.0,386.5 445.0,386.5 448.0,386.5 451.0,386.5 454.0,386.5 457.0,386.5 460.0,386.5 463.0,386.5 466.0,386.5 469.0,386.5 472.0,386.5 475.0,386.5 478.0,386.5 481.0,386.5 484.0,386.5 487.0,386.5 490.0,386.5 493.0,386.5 496.0,386.5 499.0,386.5 502.0,386.5 505.0,386.5 508.0,386.5 511.0,386.5 514.0,386.5 517.0,386.5 520.0,386.5 523.0,386.5 526.0,386.5 529.0,386.5 532.0,386.5 535.0,386.5 538.0,386.5 541.0,386.5 544.0,386.5 547.0,386.5 550.0,386.5 553.0,386.5 556.0,386.5 559.0,386.5 562.0,386.5 565.0,386.5 568.0,386.5 571.0,386.5 574.0,386.5 577.0,386.5 580.0,386.5 583.0,386.5 586.0,386.5 589.0,386.5 592.0,386.5 595.0,386.5 598.0,386.5 601.0,386.5 604.0,386.5 607.0,386.5 610.0,386.5 613.0,386.5 616.0,386.5 619.0,386.5 622.0,386.5 625.0,386.5 628.0,386.5 631.0,386.5 634.0,386.5 637.0,386.5 640.0,386.5 643.0,386.5 646.0,386.5 649.0,386.5 652.0,386.5 655.0,386.5 658.0,386.5 661.0,386.5 664.0,386.5 667.0,386.5 670.0,386.5 673.0,386.5 676.0,386.5 679.0,386.5 682.0,386.5 685.0,386.5 688.0,386.5 691.0,386.5 694.0,386.5 697.0,386.5 700.0,386.5 703.0,386.5 706.0,386.5 709.0,386.5 712.0,386.5 715.0,386.5 718.0,386.5 721.0,386.5 724.0,386.5 727.0,386.5 730.0,386.5 733.0,386.5 736.0,386.5 739.0,386.5 742.0,386.5 745.0,386.5 748.0,386.5 751.0,386.5 754.0,386.5 757.0,386.5 760.0,386.5 763.0,386.5 766.0,386.5 769.0,386.5 772.0,386.5 775.0,386.5 778.0,386.5 781.0,386.5 784.0,386.4 787.0,386.4 790.0,386.4 793.0,386.4 796.0,386.4 799.0,386.4 802.0,386.4 805.0,386.4 808.0,386.4 811.0,386.4 814.0,386.4 817.0,386.4 820.0,386.4 823.0,386.3 826.0,386.3 829.0,386.3 832.0,386.3 835.0,386.3 838.0,386.3 841.0,386.2 844.0,386.2 847.0,386.2 850.0,386.2 853.0,386.1 856.0,386.1 859.0,386.1 862.0,386.1 865.0,386.0 868.0,386.0 871.0,385.9 874.0,385.9 877.0,385.9 880.0,385.8 883.0,385.7 886.0,385.7 889.0,385.6 892.0,385.6 895.0,385.5 898.0,385.4 901.0,385.3 904.0,385.3 907.0,385.2 910.0,385.1 913.0,385.0 916.0,384.9 919.0,384.8 922.0,384.6 925.0,384.5 928.0,384.4 931.0,384.2 934.0,384.1 937.0,383.9 940.0,383.8 943.0,383.6 946.0,383.4 949.0,383.2 952.0,383.0 955.0,382.8 958.0,382.5 961.0,382.3 964.0,382.0 967.0,381.8 970.0,381.5 973.0,381.2 976.0,380.9 979.0,380.6 982.0,380.2 985.0,379.9 988.0,379.5 991.0,379.1 994.0,378.7 997.0,378.3 1000.0,377.8 1003.0,377.4 1006.0,376.9 1009.0,376.4 1012.0,375.8 1015.0,375.3 1018.0,374.7 1021.0,374.1 1024.0,373.5 1027.0,372.9 1030.0,372.2 1033.0,371.5 1036.0,370.8 1039.0,370.1 1042.0,369.3 1045.0,368.6 1048.0,367.7 1051.0,366.9 1054.0,366.1 1057.0,365.2 1060.0,364.3 1063.0,363.3 1066.0,362.3 1069.0,361.3 1072.0,360.3 1075.0,359.3 1078.0,358.2 1081.0,357.1 1084.0,356.0 1087.0,354.8 1090.0,353.6 1093.0,352.4 1096.0,351.2 1099.0,349.9 1102.0,348.6 1105.0,347.3 1108.0,346.0 1111.0,344.6 1114.0,343.3 1117.0,341.9 1120.0,340.4 1123.0,339.0 1126.0,337.5 1129.0,336.1 1132.0,334.6 1135.0,333.0 1138.0,331.5 1141.0,330.0 1144.0,328.4 1147.0,326.9 1150.0,325.3 1153.0,323.7 1156.0,322.1 1159.0,320.5 1162.0,319.0 1165.0,317.4 1168.0,315.8 1171.0,314.2 1174.0,312.6 1177.0,311.0 1180.0,309.4 1183.0,307.8 1186.0,306.3 1189.0,304.7 1192.0,303.2 1195.0,301.7 1198.0,300.2 1201.0,298.7 1204.0,297.3 1207.0,295.8 1210.0,294.4 1213.0,293.1 1216.0,291.7 1219.0,290.4 1222.0,289.1 1225.0,287.9 1228.0,286.7 1231.0,285.5 1234.0,284.4 1237.0,283.3 1240.0,282.3 1243.0,281.3 1246.0,280.3 1249.0,279.4 1252.0,278.6 1255.0,277.8 1258.0,277.0 1261.0,276.3 1264.0,275.7 1267.0,275.1 1270.0,274.6 1273.0,274.1 1276.0,273.7 1279.0,273.4 1282.0,273.1 1285.0,272.8 1288.0,272.7 1291.0,272.6 1294.0,272.5 1297.0,272.5 1300.0,272.6 1303.0,272.7 1306.0,272.9 1309.0,273.2 1312.0,273.5 1315.0,273.9 1318.0,274.4 1321.0,274.9 1324.0,275.5 1327.0,276.2 1330.0,276.9 1333.0,277.6 1336.0,278.5 1339.0,279.3 1342.0,280.3 1345.0,281.3 1348.0,282.3 1351.0,283.4 1354.0,284.5 1357.0,285.7 1360.0,286.9 1363.0,288.2 1366.0,289.5 1369.0,290.8 1372.0,292.2 1375.0,293.6 1378.0,295.1 1381.0,296.5 1384.0,298.0 1387.0,299.5 1390.0,301.1 1393.0,302.7 1396.0,304.2 1399.0,305.9 1402.0,307.5 1405.0,309.1 1408.0,310.7 1411.0,312.4 1414.0,314.0 1417.0,315.7 1420.0,317.4 1423.0,319.0 1426.0,320.7 1429.0,322.3 1432.0,324.0 1435.0,325.6 1438.0,327.2 1441.0,328.9 1444.0,330.5 1447.0,332.1 1450.0,333.7 1453.0,335.2 1456.0,336.8 1459.0,338.3 1462.0,339.8 1465.0,341.3 1468.0,342.8 1471.0,344.2 1474.0,345.6 1477.0,347.0 1480.0,348.4 1483.0,349.7 1486.0,351.0 1489.0,352.3 1492.0,353.6 1495.0,354.8 1498.0,356.0 1501.0,357.2 1504.0,358.3 1507.0,359.4 1510.0,360.5 1513.0,361.6 1516.0,362.6 1519.0,363.6 1522.0,364.6 1525.0,365.5 1528.0,366.4 1531.0,367.3 1534.0,368.2 1537.0,369.0 1540.0,369.8 1543.0,370.6 1546.0,371.3 1549.0,372.0 1552.0,372.7 1555.0,373.4 1558.0,374.0 1561.0,374.7 1564.0,375.2 1567.0,375.8 1570.0,376.4 1573.0,376.9 1576.0,377.4 1579.0,377.9 1582.0,378.3 1585.0,378.8 1588.0,379.2 1591.0,379.6 1594.0,380.0 1597.0,380.3 1600.0,380.7 1603.0,381.0 1606.0,381.3 1609.0,381.6 1612.0,381.9 1615.0,382.2 1618.0,382.5 1621.0,382.7 1624.0,382.9 1627.0,383.1 1630.0,383.4 1633.0,383.6 1636.0,383.7 1639.0,383.9 1642.0,384.1 1645.0,384.2 1648.0,384.4 1651.0,384.5 1654.0,384.7 1657.0,384.8 1660.0,384.9 1663.0,385.0 1666.0,385.1 1669.0,385.2 1672.0,385.3 1675.0,385.4 1678.0,385.5 1681.0,385.5 1684.0,385.6 1687.0,385.7 1690.0,385.7 1693.0,385.8 1696.0,385.8 1699.0,385.9 1702.0,385.9 1705.0,386.0 1708.0,386.0 1711.0,386.1 1714.0,386.1 1717.0,386.1 1720.0,386.1 1723.0,386.2 1726.0,386.2 1729.0,386.2 1732.0,386.2 1735.0,386.3 1738.0,386.3 1741.0,386.3 1744.0,386.3 1747.0,386.3 1750.0,386.3 1753.0,386.4 1756.0,386.4 1759.0,386.4 1762.0,386.4 1765.0,386.4 1768.0,386.4 1771.0,386.4 1774.0,386.4 1777.0,386.4 1780.0,386.4 1783.0,386.4 1786.0,386.4 1789.0,386.5 1792.0,386.5 1795.0,386.5 1798.0,386.5 1801.0,386.5 1804.0,386.5 1807.0,386.5 1810.0,386.5 1813.0,386.5 1816.0,386.5 1819.0,386.5 1822.0,386.5 1825.0,386.5 1828.0,386.5 1831.0,386.5 1834.0,386.5 1837.0,386.5 1840.0,386.5 1843.0,386.5 1846.0,386.5 1849.0,386.5 1852.0,386.5 1855.0,386.5 1858.0,386.5 1861.0,386.5 1864.0,386.5 1867.0,386.5 1870.0,386.5 1873.0,386.5 1876.0,386.5 1879.0,386.5 1882.0,386.5 1885.0,386.5 1888.0,386.5 1891.0,386.5 1894.0,386.5 1897.0,386.5 1900.0,386.5 1903.0,386.5 1906.0,386.5 1909.0,386.5 1912.0,386.5 1915.0,386.5 1918.0,386.5 1921.0,386.5 1924.0,386.5 1927.0,386.5 1930.0,386.5 1933.0,386.5 1936.0,386.5 1939.0,386.5 1942.0,386.5 1945.0,386.5 1948.0,386.5 1951.0,386.5 1954.0,386.5 1957.0,386.5 1960.0,386.5 1963.0,386.5 1966.0,386.5 1969.0,386.5 1972.0,386.5 1975.0,386.5 1978.0,386.5 1981.0,386.5 1984.0,386.5 1987.0,386.5 1990.0,386.5 1993.0,386.5 1996.0,386.5 1999.0,386.5 2002.0,386.5 2005.0,386.5 2008.0,386.5 2011.0,386.5 2014.0,386.5 2017.0,386.5 2017.0,386.5 190.0,386.5" fill="#ff00ff" fill-opacity="0.60" stroke="none"/>
<polyline points="190.0,393.0 193.0,393.0 196.0,393.0 199.0,393.0 202.0,393.0 205.0,393.0 208.0,393.0 211.0,393.0 214.0,393.0 217.0,393.0 220.0,393.0 223.0,393.0 226.0,393.0 229.0,393.0 232.0,393.0 235.0,393.0 238.0,393.0 241.0,393.0 244.0,393.0 247.0,393.0 250.0,393.0 253.0,393.0 256.0,393.0 259.0,393.0 262.0,393.0 265.0,393.0 268.0,393.0 271.0,393.0 274.0,393.0 277.0,393.0 280.0,393.0 283.0,393.0 286.0,393.0 289.0,393.0 292.0,393.0 295.0,393.0 298.0,393.0 301.0,393.0 304.0,393.0 307.0,393.0 310.0,393.0 313.0,393.0 316.0,393.0 319.0,393.0 322.0,393.0 325.0,393.0 328.0,393.0 331.0,393.0 334.0,393.0 337.0,393.0 340.0,393.0 343.0,393.0 346.0,393.0 349.0,393.0 352.0,393.0 355.0,393.0 358.0,393.0 361.0,393.0 364.0,393.0 367.0,393.0 370.0,393.0 373.0,393.0 376.0,393.0 379.0,393.0 382.0,393.0 385.0,393.0 388.0,393.0 391.0,393.0 394.0,393.0 397.0,393.0 400.0,393.0 403.0,393.0 406.0,393.0 409.0,393.0 412.0,393.0 415.0,393.0 418.0,393.0 421.0,393.0 424.0,393.0 427.0,393.0 430.0,393.0 433.0,393.0 436.0,393.0 439.0,393.0 442.0,393.0 445.0,393.0 448.0,393.0 451.0,393.0 454.0,393.0 457.0,393.0 460.0,393.0 463.0,393.0 466.0,393.0 469.0,393.0 472.0,393.0 475.0,393.0 478.0,393.0 481.0,393.0 484.0,393.0 487.0,393.0 490.0,393.0 493.0,393.0 496.0,393.0 499.0,393.0 502.0,393.0 505.0,393.0 508.0,393.0 511.0,393.0 514.0,393.0 517.0,393.0 520.0,393.0 523.0,393.0 526.0,393.0 529.0,393.0 532.0,393.0 535.0,393.0 538.0,393.0 541.0,393.0 544.0,393.0 547.0,393.0 550.0,393.0 553.0,393.0 556.0,393.0 559.0,393.0 562.0,393.0 565.0,393.0 568.0,393.0 571.0,393.0 574.0,393.0 577.0,393.0 580.0,393.0 583.0,393.0 586.0,393.0 589.0,393.0 592.0,393.0 595.0,393.0 598.0,393.0 601.0,393.0 604.0,393.0 607.0,393.0 610.0,393.0 613.0,393.0 616.0,393.0 619.0,393.0 622.0,393.0 625.0,393.0 628.0,393.0 631.0,393.0 634.0,393.0 637.0,393.0 640.0,393.0 643.0,393.0 646.0,393.0 649.0,393.0 652.0,393.0 655.0,393.0 658.0,393.0 661.0,393.0 664.0,393.0 667.0,393.0 670.0,393.0 673.0,393.0 676.0,393.0 679.0,393.0 682.0,393.0 685.0,393.0 688.0,393.0 691.0,393.0 694.0,393.0 697.0,393.0 700.0,393.0 703.0,393.0 706.0,393.0 709.0,393.0 712.0,393.0 715.0,393.0 718.0,393.0 721.0,393.0 724.0,393.0 727.0,393.0 730.0,393.0 733.0,393.0 736.0,393.0 739.0,393.0 742.0,393.0 745.0,393.0 748.0,393.0 751.0,393.0 754.0,393.0 757.0,393.0 760.0,393.0 763.0,393.0 766.0,393.0 769.0,393.0 772.0,393.0 775.0,393.0 778.0,393.0 781.0,393.0 784.0,392.9 787.0,392.9 790.0,392.9 793.0,392.9 796.0,392.9 799.0,392.9 802.0,392.9 805.0,392.9 808.0,392.9 811.0,392.9 814.0,392.9 817.0,392.9 820.0,392.9 823.0,392.8 826.0,392.8 829.0,392.8 832.0,392.8 835.0,392.8 838.0,392.8 841.0,392.7 844.0,392.7 847.0,392.7 850.0,392.7 853.0,392.6 856.0,392.6 859.0,392.6 862.0,392.6 865.0,392.5 868.0,392.5 871.0,392.4 874.0,392.4 877.0,392.4 880.0,392.3 883.0,392.2 886.0,392.2 889.0,392.1 892.0,392.1 895.0,392.0 898.0,391.9 901.0,391.8 904.0,391.8 907.0,391.7 910.0,391.6 913.0,391.5 916.0,391.4 919.0,391.3 922.0,391.1 925.0,391.0 928.0,390.9 931.0,390.7 934.0,390.6 937.0,390.4 940.0,390.3 943.0,390.1 946.0,389.9 949.0,389.7 952.0,389.5 955.0,389.3 958.0,389.0 961.0,388.8 964.0,388.5 967.0,388.3 970.0,388.0 973.0,387.7 976.0,387.4 979.0,387.1 982.0,386.7 985.0,386.4 988.0,386.0 991.0,385.6 994.0,385.2 997.0,384.8 1000.0,384.3 1003.0,383.9 1006.0,383.4 1009.0,382.9 1012.0,382.3 1015.0,381.8 1018.0,381.2 1021.0,380.6 1024.0,380.0 1027.0,379.4 1030.0,378.7 1033.0,378.0 1036.0,377.3 1039.0,376.6 1042.0,375.8 1045.0,375.1 1048.0,374.2 1051.0,373.4 1054.0,372.6 1057.0,371.7 1060.0,370.8 1063.0,369.8 1066.0,368.8 1069.0,367.8 1072.0,366.8 1075.0,365.8 1078.0,364.7 1081.0,363.6 1084.0,362.5 1087.0,361.3 1090.0,360.1 1093.0,358.9 1096.0,357.7 1099.0,356.4 1102.0,355.1 1105.0,353.8 1108.0,352.5 1111.0,351.1 1114.0,349.8 1117.0,348.4 1120.0,346.9 1123.0,345.5 1126.0,344.0 1129.0,342.6 1132.0,341.1 1135.0,339.5 1138.0,338.0 1141.0,336.5 1144.0,334.9 1147.0,333.4 1150.0,331.8 1153.0,330.2 1156.0,328.6 1159.0,327.0 1162.0,325.5 1165.0,323.9 1168.0,322.3 1171.0,320.7 1174.0,319.1 1177.0,317.5 1180.0,315.9 1183.0,314.3 1186.0,312.8 1189.0,311.2 1192.0,309.7 1195.0,308.2 1198.0,306.7 1201.0,305.2 1204.0,303.8 1207.0,302.3 1210.0,300.9 1213.0,299.6 1216.0,298.2 1219.0,296.9 1222.0,295.6 1225.0,294.4 1228.0,293.2 1231.0,292.0 1234.0,290.9 1237.0,289.8 1240.0,288.8 1243.0,287.8 1246.0,286.8 1249.0,285.9 1252.0,285.1 1255.0,284.3 1258.0,283.5 1261.0,282.8 1264.0,282.2 1267.0,281.6 1270.0,281.1 1273.0,280.6 1276.0,280.2 1279.0,279.9 1282.0,279.6 1285.0,279.3 1288.0,279.2 1291.0,279.1 1294.0,279.0 1297.0,279.0 1300.0,279.1 1303.0,279.2 1306.0,279.4 1309.0,279.7 1312.0,280.0 1315.0,280.4 1318.0,280.9 1321.0,281.4 1324.0,282.0 1327.0,282.7 1330.0,283.4 1333.0,284.1 1336.0,285.0 1339.0,285.8 1342.0,286.8 1345.0,287.8 1348.0,288.8 1351.0,289.9 1354.0,291.0 1357.0,292.2 1360.0,293.4 1363.0,294.7 1366.0,296.0 1369.0,297.3 1372.0,298.7 1375.0,300.1 1378.0,301.6 1381.0,303.0 1384.0,304.5 1387.0,306.0 1390.0,307.6 1393.0,309.2 1396.0,310.7 1399.0,312.4 1402.0,314.0 1405.0,315.6 1408.0,317.2 1411.0,318.9 1414.0,320.5 1417.0,322.2 1420.0,323.9 1423.0,325.5 1426.0,327.2 1429.0,328.8 1432.0,330.5 1435.0,332.1 1438.0,333.7 1441.0,335.4 1444.0,337.0 1447.0,338.6 1450.0,340.2 1453.0,341.7 1456.0,343.3 1459.0,344.8 1462.0,346.3 1465.0,347.8 1468.0,349.3 1471.0,350.7 1474.0,352.1 1477.0,353.5 1480.0,354.9 1483.0,356.2 1486.0,357.5 1489.0,358.8 1492.0,360.1 1495.0,361.3 1498.0,362.5 1501.0,363.7 1504.0,364.8 1507.0,365.9 1510.0,367.0 1513.0,368.1 1516.0,369.1 1519.0,370.1 1522.0,371.1 1525.0,372.0 1528.0,372.9 1531.0,373.8 1534.0,374.7 1537.0,375.5 1540.0,376.3 1543.0,377.1 1546.0,377.8 1549.0,378.5 1552.0,379.2 1555.0,379.9 1558.0,380.5 1561.0,381.2 1564.0,381.7 1567.0,382.3 1570.0,382.9 1573.0,383.4 1576.0,383.9 1579.0,384.4 1582.0,384.8 1585.0,385.3 1588.0,385.7 1591.0,386.1 1594.0,386.5 1597.0,386.8 1600.0,387.2 1603.0,387.5 1606.0,387.8 1609.0,388.1 1612.0,388.4 1615.0,388.7 1618.0,389.0 1621.0,389.2 1624.0,389.4 1627.0,389.6 1630.0,389.9 1633.0,390.1 1636.0,390.2 1639.0,390.4 1642.0,390.6 1645.0,390.7 1648.0,390.9 1651.0,391.0 1654.0,391.2 1657.0,391.3 1660.0,391.4 1663.0,391.5 1666.0,391.6 1669.0,391.7 1672.0,391.8 1675.0,391.9 1678.0,392.0 1681.0,392.0 1684.0,392.1 1687.0,392.2 1690.0,392.2 1693.0,392.3 1696.0,392.3 1699.0,392.4 1702.0,392.4 1705.0,392.5 1708.0,392.5 1711.0,392.6 1714.0,392.6 1717.0,392.6 1720.0,392.6 1723.0,392.7 1726.0,392.7 1729.0,392.7 1732.0,392.7 1735.0,392.8 1738.0,392.8 1741.0,392.8 1744.0,392.8 1747.0,392.8 1750.0,392.8 1753.0,392.9 1756.0,392.9 1759.0,392.9 1762.0,392.9 1765.0,392.9 1768.0,392.9 1771.0,392.9 1774.0,392.9 1777.0,392.9 1780.0,392.9 1783.0,392.9 1786.0,392.9 1789.0,393.0 1792.0,393.0 1795.0,393.0 1798.0,393.0 1801.0,393.0 1804.0,393.0 1807.0,393.0 1810.0,393.0 1813.0,393.0 1816.0,393.0 1819.0,393.0 1822.0,393.0 1825.0,393.0 1828.0,393.0 1831.0,393.0 1834.0,393.0 1837.0,393.0 1840.0,393.0 1843.0,393.0 1846.0,393.0 1849.0,393.0 1852.0,393.0 1855.0,393.0 1858.0,393.0 1861.0,393.0 1864.0,393.0 1867.0,393.0 1870.0,393.0 1873.0,393.0 1876.0,393.0 1879.0,393.0 1882.0,393.0 1885.0,393.0 1888.0,393.0 1891.0,393.0 1894.0,393.0 1897.0,393.0 1900.0,393.0 1903.0,393.0 1906.0,393.0 1909.0,393.0 1912.0,393.0 1915.0,393.0 1918.0,393.0 1921.0,393.0 1924.0,393.0 1927.0,393.0 1930.0,393.0 1933.0,393.0 1936.0,393.0 1939.0,393.0 1942.0,393.0 1945.0,393.0 1948.0,393.0 1951.0,393.0 1954.0,393.0 1957.0,393.0 1960.0,393.0 1963.0,393.0 1966.0,393.0 1969.0,393.0 1972.0,393.0 1975.0,393.0 1978.0,393.0 1981.0,393.0 1984.0,393.0 1987.0,393.0 1990.0,393.0 1993.0,393.0 1996.0,393.0 1999.0,393.0 2002.0,393.0 2005.0,393.0 2008.0,393.0 2011.0,393.0 2014.0,393.0 2017.0,393.0" fill="none" stroke="#ee00ee" stroke-opacity="0.85" stroke-width="5" stroke-dasharray="36 34" stroke-dashoffset="0"/>
<line x1="190.0" y1="389.5" x2="2015.0" y2="389.5" stroke="#ee00ee" stroke-opacity="0.85" stroke-width="6" stroke-dasharray="36 34" stroke-dashoffset="31"/>
<clipPath id="gc0_0"><rect x="190.0" y="23.0" width="272.0" height="385.0"/></clipPath>
<path d="M190.0,388.0 C195.3,388.0 210.7,388.7 222.0,388.0 C233.3,387.3 246.0,385.5 258.0,384.0 C270.0,382.5 282.8,382.3 294.0,379.0 C305.2,375.7 315.6,368.8 325.0,364.0 C334.4,359.2 342.2,358.1 350.5,350.0 C358.8,341.9 367.0,325.3 374.6,315.5 C382.2,305.7 389.8,301.2 396.0,291.0 C402.2,280.8 406.7,265.5 412.0,254.0 C417.3,242.5 423.3,233.2 428.0,222.0 C432.7,210.8 435.3,197.7 440.0,187.0 C444.7,176.3 451.3,168.7 456.0,158.0 C460.7,147.3 462.8,133.3 468.0,123.0 C473.2,112.7 480.3,105.9 487.0,96.0 C493.7,86.1 499.2,68.8 508.0,63.4 C516.8,58.0 530.2,58.8 540.0,63.4 C549.8,68.0 558.9,81.6 567.0,91.0 C575.1,100.4 582.2,109.8 588.5,120.0 C594.8,130.2 598.8,141.7 604.5,152.0 C610.2,162.3 616.8,172.2 623.0,182.0 C629.2,191.8 634.8,202.5 642.0,211.0 C649.2,219.5 656.0,225.7 666.0,233.0 C676.0,240.3 690.3,251.3 702.0,255.0 C713.7,258.7 724.1,254.8 736.0,255.0 C747.9,255.2 761.6,256.2 773.5,256.5 C785.4,256.8 796.0,255.6 807.6,256.5 C819.2,257.4 831.4,260.6 843.0,262.0 C854.6,263.4 865.0,263.1 877.0,265.0 C889.0,266.9 903.3,271.0 915.0,273.5 C926.7,276.0 935.4,277.2 947.0,280.0 C958.6,282.8 972.8,287.7 984.5,290.5 C996.2,293.3 1005.1,295.0 1017.0,297.0 C1028.9,299.0 1044.4,301.6 1056.0,302.5 C1067.6,303.4 1075.0,303.6 1086.6,302.5 C1098.2,301.4 1114.1,297.6 1125.7,295.6 C1137.3,293.6 1145.0,293.6 1156.0,290.5 C1167.0,287.4 1180.8,280.7 1192.0,277.0 C1203.2,273.3 1211.2,271.1 1223.0,268.4 C1234.8,265.7 1250.5,262.2 1262.5,261.0 C1274.5,259.8 1283.6,259.5 1295.0,261.0 C1306.4,262.5 1320.3,266.8 1331.0,270.0 C1341.7,273.2 1348.5,275.2 1359.0,280.0 C1369.5,284.8 1383.8,292.7 1394.0,298.5 C1404.2,304.3 1410.0,307.9 1420.0,314.6 C1430.0,321.4 1441.6,331.9 1454.0,339.0 C1466.4,346.1 1481.8,352.0 1494.6,357.0 C1507.4,362.0 1519.9,365.3 1531.0,369.0 C1542.1,372.7 1549.2,376.3 1561.0,379.0 C1572.8,381.7 1589.3,383.3 1601.5,385.0 C1613.7,386.7 1622.2,388.2 1634.0,389.0 C1645.8,389.8 1608.5,389.4 1672.0,389.5 C1735.5,389.6 1957.8,389.5 2015.0,389.5" clip-path="url(#gc0_0)" fill="none" stroke="#008000" stroke-width="8.5" stroke-dasharray="33.8 36.8" stroke-dashoffset="2.36"/>
<clipPath id="gc0_1"><rect x="462.0" y="23.0" width="222.0" height="385.0"/></clipPath>
<path d="M190.0,388.0 C195.3,388.0 210.7,388.7 222.0,388.0 C233.3,387.3 246.0,385.5 258.0,384.0 C270.0,382.5 282.8,382.3 294.0,379.0 C305.2,375.7 315.6,368.8 325.0,364.0 C334.4,359.2 342.2,358.1 350.5,350.0 C358.8,341.9 367.0,325.3 374.6,315.5 C382.2,305.7 389.8,301.2 396.0,291.0 C402.2,280.8 406.7,265.5 412.0,254.0 C417.3,242.5 423.3,233.2 428.0,222.0 C432.7,210.8 435.3,197.7 440.0,187.0 C444.7,176.3 451.3,168.7 456.0,158.0 C460.7,147.3 462.8,133.3 468.0,123.0 C473.2,112.7 480.3,105.9 487.0,96.0 C493.7,86.1 499.2,68.8 508.0,63.4 C516.8,58.0 530.2,58.8 540.0,63.4 C549.8,68.0 558.9,81.6 567.0,91.0 C575.1,100.4 582.2,109.8 588.5,120.0 C594.8,130.2 598.8,141.7 604.5,152.0 C610.2,162.3 616.8,172.2 623.0,182.0 C629.2,191.8 634.8,202.5 642.0,211.0 C649.2,219.5 656.0,225.7 666.0,233.0 C676.0,240.3 690.3,251.3 702.0,255.0 C713.7,258.7 724.1,254.8 736.0,255.0 C747.9,255.2 761.6,256.2 773.5,256.5 C785.4,256.8 796.0,255.6 807.6,256.5 C819.2,257.4 831.4,260.6 843.0,262.0 C854.6,263.4 865.0,263.1 877.0,265.0 C889.0,266.9 903.3,271.0 915.0,273.5 C926.7,276.0 935.4,277.2 947.0,280.0 C958.6,282.8 972.8,287.7 984.5,290.5 C996.2,293.3 1005.1,295.0 1017.0,297.0 C1028.9,299.0 1044.4,301.6 1056.0,302.5 C1067.6,303.4 1075.0,303.6 1086.6,302.5 C1098.2,301.4 1114.1,297.6 1125.7,295.6 C1137.3,293.6 1145.0,293.6 1156.0,290.5 C1167.0,287.4 1180.8,280.7 1192.0,277.0 C1203.2,273.3 1211.2,271.1 1223.0,268.4 C1234.8,265.7 1250.5,262.2 1262.5,261.0 C1274.5,259.8 1283.6,259.5 1295.0,261.0 C1306.4,262.5 1320.3,266.8 1331.0,270.0 C1341.7,273.2 1348.5,275.2 1359.0,280.0 C1369.5,284.8 1383.8,292.7 1394.0,298.5 C1404.2,304.3 1410.0,307.9 1420.0,314.6 C1430.0,321.4 1441.6,331.9 1454.0,339.0 C1466.4,346.1 1481.8,352.0 1494.6,357.0 C1507.4,362.0 1519.9,365.3 1531.0,369.0 C1542.1,372.7 1549.2,376.3 1561.0,379.0 C1572.8,381.7 1589.3,383.3 1601.5,385.0 C1613.7,386.7 1622.2,388.2 1634.0,389.0 C1645.8,389.8 1608.5,389.4 1672.0,389.5 C1735.5,389.6 1957.8,389.5 2015.0,389.5" clip-path="url(#gc0_1)" fill="none" stroke="#008000" stroke-width="8.5" stroke-dasharray="33.8 36.8" stroke-dashoffset="66.09"/>
<clipPath id="gc0_2"><rect x="684.0" y="23.0" width="629.0" height="385.0"/></clipPath>
<path d="M190.0,388.0 C195.3,388.0 210.7,388.7 222.0,388.0 C233.3,387.3 246.0,385.5 258.0,384.0 C270.0,382.5 282.8,382.3 294.0,379.0 C305.2,375.7 315.6,368.8 325.0,364.0 C334.4,359.2 342.2,358.1 350.5,350.0 C358.8,341.9 367.0,325.3 374.6,315.5 C382.2,305.7 389.8,301.2 396.0,291.0 C402.2,280.8 406.7,265.5 412.0,254.0 C417.3,242.5 423.3,233.2 428.0,222.0 C432.7,210.8 435.3,197.7 440.0,187.0 C444.7,176.3 451.3,168.7 456.0,158.0 C460.7,147.3 462.8,133.3 468.0,123.0 C473.2,112.7 480.3,105.9 487.0,96.0 C493.7,86.1 499.2,68.8 508.0,63.4 C516.8,58.0 530.2,58.8 540.0,63.4 C549.8,68.0 558.9,81.6 567.0,91.0 C575.1,100.4 582.2,109.8 588.5,120.0 C594.8,130.2 598.8,141.7 604.5,152.0 C610.2,162.3 616.8,172.2 623.0,182.0 C629.2,191.8 634.8,202.5 642.0,211.0 C649.2,219.5 656.0,225.7 666.0,233.0 C676.0,240.3 690.3,251.3 702.0,255.0 C713.7,258.7 724.1,254.8 736.0,255.0 C747.9,255.2 761.6,256.2 773.5,256.5 C785.4,256.8 796.0,255.6 807.6,256.5 C819.2,257.4 831.4,260.6 843.0,262.0 C854.6,263.4 865.0,263.1 877.0,265.0 C889.0,266.9 903.3,271.0 915.0,273.5 C926.7,276.0 935.4,277.2 947.0,280.0 C958.6,282.8 972.8,287.7 984.5,290.5 C996.2,293.3 1005.1,295.0 1017.0,297.0 C1028.9,299.0 1044.4,301.6 1056.0,302.5 C1067.6,303.4 1075.0,303.6 1086.6,302.5 C1098.2,301.4 1114.1,297.6 1125.7,295.6 C1137.3,293.6 1145.0,293.6 1156.0,290.5 C1167.0,287.4 1180.8,280.7 1192.0,277.0 C1203.2,273.3 1211.2,271.1 1223.0,268.4 C1234.8,265.7 1250.5,262.2 1262.5,261.0 C1274.5,259.8 1283.6,259.5 1295.0,261.0 C1306.4,262.5 1320.3,266.8 1331.0,270.0 C1341.7,273.2 1348.5,275.2 1359.0,280.0 C1369.5,284.8 1383.8,292.7 1394.0,298.5 C1404.2,304.3 1410.0,307.9 1420.0,314.6 C1430.0,321.4 1441.6,331.9 1454.0,339.0 C1466.4,346.1 1481.8,352.0 1494.6,357.0 C1507.4,362.0 1519.9,365.3 1531.0,369.0 C1542.1,372.7 1549.2,376.3 1561.0,379.0 C1572.8,381.7 1589.3,383.3 1601.5,385.0 C1613.7,386.7 1622.2,388.2 1634.0,389.0 C1645.8,389.8 1608.5,389.4 1672.0,389.5 C1735.5,389.6 1957.8,389.5 2015.0,389.5" clip-path="url(#gc0_2)" fill="none" stroke="#008000" stroke-width="8.5" stroke-dasharray="33.8 36.8" stroke-dashoffset="56.50"/>
<clipPath id="gc0_3"><rect x="1313.0" y="23.0" width="340.0" height="385.0"/></clipPath>
<path d="M190.0,388.0 C195.3,388.0 210.7,388.7 222.0,388.0 C233.3,387.3 246.0,385.5 258.0,384.0 C270.0,382.5 282.8,382.3 294.0,379.0 C305.2,375.7 315.6,368.8 325.0,364.0 C334.4,359.2 342.2,358.1 350.5,350.0 C358.8,341.9 367.0,325.3 374.6,315.5 C382.2,305.7 389.8,301.2 396.0,291.0 C402.2,280.8 406.7,265.5 412.0,254.0 C417.3,242.5 423.3,233.2 428.0,222.0 C432.7,210.8 435.3,197.7 440.0,187.0 C444.7,176.3 451.3,168.7 456.0,158.0 C460.7,147.3 462.8,133.3 468.0,123.0 C473.2,112.7 480.3,105.9 487.0,96.0 C493.7,86.1 499.2,68.8 508.0,63.4 C516.8,58.0 530.2,58.8 540.0,63.4 C549.8,68.0 558.9,81.6 567.0,91.0 C575.1,100.4 582.2,109.8 588.5,120.0 C594.8,130.2 598.8,141.7 604.5,152.0 C610.2,162.3 616.8,172.2 623.0,182.0 C629.2,191.8 634.8,202.5 642.0,211.0 C649.2,219.5 656.0,225.7 666.0,233.0 C676.0,240.3 690.3,251.3 702.0,255.0 C713.7,258.7 724.1,254.8 736.0,255.0 C747.9,255.2 761.6,256.2 773.5,256.5 C785.4,256.8 796.0,255.6 807.6,256.5 C819.2,257.4 831.4,260.6 843.0,262.0 C854.6,263.4 865.0,263.1 877.0,265.0 C889.0,266.9 903.3,271.0 915.0,273.5 C926.7,276.0 935.4,277.2 947.0,280.0 C958.6,282.8 972.8,287.7 984.5,290.5 C996.2,293.3 1005.1,295.0 1017.0,297.0 C1028.9,299.0 1044.4,301.6 1056.0,302.5 C1067.6,303.4 1075.0,303.6 1086.6,302.5 C1098.2,301.4 1114.1,297.6 1125.7,295.6 C1137.3,293.6 1145.0,293.6 1156.0,290.5 C1167.0,287.4 1180.8,280.7 1192.0,277.0 C1203.2,273.3 1211.2,271.1 1223.0,268.4 C1234.8,265.7 1250.5,262.2 1262.5,261.0 C1274.5,259.8 1283.6,259.5 1295.0,261.0 C1306.4,262.5 1320.3,266.8 1331.0,270.0 C1341.7,273.2 1348.5,275.2 1359.0,280.0 C1369.5,284.8 1383.8,292.7 1394.0,298.5 C1404.2,304.3 1410.0,307.9 1420.0,314.6 C1430.0,321.4 1441.6,331.9 1454.0,339.0 C1466.4,346.1 1481.8,352.0 1494.6,357.0 C1507.4,362.0 1519.9,365.3 1531.0,369.0 C1542.1,372.7 1549.2,376.3 1561.0,379.0 C1572.8,381.7 1589.3,383.3 1601.5,385.0 C1613.7,386.7 1622.2,388.2 1634.0,389.0 C1645.8,389.8 1608.5,389.4 1672.0,389.5 C1735.5,389.6 1957.8,389.5 2015.0,389.5" clip-path="url(#gc0_3)" fill="none" stroke="#008000" stroke-width="8.5" stroke-dasharray="33.8 36.8" stroke-dashoffset="55.48"/>
<clipPath id="gc0_4"><rect x="1653.0" y="23.0" width="363.0" height="385.0"/></clipPath>
<path d="M190.0,388.0 C195.3,388.0 210.7,388.7 222.0,388.0 C233.3,387.3 246.0,385.5 258.0,384.0 C270.0,382.5 282.8,382.3 294.0,379.0 C305.2,375.7 315.6,368.8 325.0,364.0 C334.4,359.2 342.2,358.1 350.5,350.0 C358.8,341.9 367.0,325.3 374.6,315.5 C382.2,305.7 389.8,301.2 396.0,291.0 C402.2,280.8 406.7,265.5 412.0,254.0 C417.3,242.5 423.3,233.2 428.0,222.0 C432.7,210.8 435.3,197.7 440.0,187.0 C444.7,176.3 451.3,168.7 456.0,158.0 C460.7,147.3 462.8,133.3 468.0,123.0 C473.2,112.7 480.3,105.9 487.0,96.0 C493.7,86.1 499.2,68.8 508.0,63.4 C516.8,58.0 530.2,58.8 540.0,63.4 C549.8,68.0 558.9,81.6 567.0,91.0 C575.1,100.4 582.2,109.8 588.5,120.0 C594.8,130.2 598.8,141.7 604.5,152.0 C610.2,162.3 616.8,172.2 623.0,182.0 C629.2,191.8 634.8,202.5 642.0,211.0 C649.2,219.5 656.0,225.7 666.0,233.0 C676.0,240.3 690.3,251.3 702.0,255.0 C713.7,258.7 724.1,254.8 736.0,255.0 C747.9,255.2 761.6,256.2 773.5,256.5 C785.4,256.8 796.0,255.6 807.6,256.5 C819.2,257.4 831.4,260.6 843.0,262.0 C854.6,263.4 865.0,263.1 877.0,265.0 C889.0,266.9 903.3,271.0 915.0,273.5 C926.7,276.0 935.4,277.2 947.0,280.0 C958.6,282.8 972.8,287.7 984.5,290.5 C996.2,293.3 1005.1,295.0 1017.0,297.0 C1028.9,299.0 1044.4,301.6 1056.0,302.5 C1067.6,303.4 1075.0,303.6 1086.6,302.5 C1098.2,301.4 1114.1,297.6 1125.7,295.6 C1137.3,293.6 1145.0,293.6 1156.0,290.5 C1167.0,287.4 1180.8,280.7 1192.0,277.0 C1203.2,273.3 1211.2,271.1 1223.0,268.4 C1234.8,265.7 1250.5,262.2 1262.5,261.0 C1274.5,259.8 1283.6,259.5 1295.0,261.0 C1306.4,262.5 1320.3,266.8 1331.0,270.0 C1341.7,273.2 1348.5,275.2 1359.0,280.0 C1369.5,284.8 1383.8,292.7 1394.0,298.5 C1404.2,304.3 1410.0,307.9 1420.0,314.6 C1430.0,321.4 1441.6,331.9 1454.0,339.0 C1466.4,346.1 1481.8,352.0 1494.6,357.0 C1507.4,362.0 1519.9,365.3 1531.0,369.0 C1542.1,372.7 1549.2,376.3 1561.0,379.0 C1572.8,381.7 1589.3,383.3 1601.5,385.0 C1613.7,386.7 1622.2,388.2 1634.0,389.0 C1645.8,389.8 1608.5,389.4 1672.0,389.5 C1735.5,389.6 1957.8,389.5 2015.0,389.5" clip-path="url(#gc0_4)" fill="none" stroke="#008000" stroke-width="8.5" stroke-dasharray="33.8 36.8" stroke-dashoffset="31.24"/>
</g>
<g clip-path="url(#clip1)">
<path d="M190.0,792.0 C201.2,791.8 240.0,791.7 257.0,790.7 C274.0,789.7 281.4,789.7 292.0,786.0 C302.6,782.3 310.7,775.4 320.6,768.7 C330.5,762.0 342.3,753.6 351.6,746.0 C360.9,738.4 369.5,732.5 376.4,723.2 C383.3,713.9 387.8,701.6 393.0,690.2 C398.2,678.8 402.9,667.4 407.4,655.0 C411.9,642.6 415.7,630.0 419.8,615.9 C423.9,601.8 427.9,585.9 432.0,570.4 C436.1,554.9 440.4,536.4 444.6,523.0 C448.8,509.6 452.5,498.5 457.0,489.9 C461.5,481.3 466.6,476.1 471.4,471.3 C476.2,466.5 481.1,462.2 485.9,461.0 C490.7,459.8 495.5,463.2 500.3,464.0 C505.1,464.8 510.0,465.3 514.8,466.0 C519.6,466.7 524.4,466.3 529.2,468.2 C534.0,470.1 538.9,473.9 543.7,477.5 C548.5,481.1 553.2,485.2 558.0,490.0 C562.8,494.8 567.4,501.9 572.6,506.4 C577.8,510.8 583.8,515.2 589.0,516.7 C594.2,518.2 598.4,516.9 603.6,515.7 C608.8,514.5 613.8,512.5 620.0,509.5 C626.2,506.6 633.8,501.1 640.7,498.0 C647.6,494.9 654.5,491.7 661.4,491.0 C668.3,490.3 675.6,492.0 682.0,494.0 C688.4,496.0 695.5,499.8 700.0,503.0 C704.5,506.2 704.2,507.7 709.0,513.0 C713.8,518.3 720.8,526.4 729.0,535.0 C737.2,543.6 748.2,555.8 758.0,564.6 C767.8,573.4 777.7,580.3 787.5,588.0 C797.3,595.7 807.0,604.2 816.7,611.0 C826.5,617.8 836.3,624.1 846.0,628.8 C855.7,633.5 865.3,636.8 875.0,639.0 C884.7,641.2 894.3,641.8 904.0,642.0 C913.7,642.2 923.2,641.5 933.0,640.5 C942.8,639.5 952.7,637.5 962.5,636.0 C972.3,634.5 982.0,632.9 991.7,631.7 C1001.5,630.5 1012.3,628.8 1021.0,628.8 C1029.7,628.8 1034.3,628.8 1044.0,631.7 C1053.7,634.6 1068.3,641.1 1079.0,646.0 C1089.7,650.9 1098.6,655.7 1108.4,661.0 C1118.2,666.3 1127.9,672.7 1137.6,678.0 C1147.3,683.3 1157.0,688.6 1166.7,693.0 C1176.4,697.4 1186.3,700.8 1196.0,704.6 C1205.7,708.4 1216.0,712.6 1225.0,716.0 C1234.0,719.4 1239.5,722.3 1250.0,724.7 C1260.5,727.1 1275.3,729.1 1288.0,730.4 C1300.7,731.7 1313.4,731.2 1326.0,732.3 C1338.6,733.4 1351.2,735.6 1363.8,737.0 C1376.4,738.4 1389.1,739.0 1401.7,740.7 C1414.3,742.5 1427.0,745.1 1439.6,747.5 C1452.2,749.9 1464.8,752.6 1477.5,755.0 C1490.2,757.4 1502.8,760.1 1515.5,762.0 C1528.2,763.9 1540.8,764.8 1553.4,766.5 C1566.0,768.2 1578.4,770.6 1591.0,772.0 C1603.6,773.4 1616.3,774.2 1629.0,775.0 C1641.7,775.8 1654.3,776.4 1667.0,777.0 C1679.7,777.6 1692.3,778.1 1705.0,778.6 C1717.7,779.1 1730.3,779.7 1743.0,779.7 C1755.7,779.7 1768.3,778.9 1781.0,778.6 C1793.7,778.3 1808.3,777.8 1819.0,777.8 C1829.7,777.8 1837.5,777.3 1845.0,778.6 C1852.5,779.9 1855.7,784.0 1864.0,785.4 C1872.3,786.8 1883.3,786.7 1894.7,787.3 C1906.1,787.9 1920.0,788.6 1932.6,789.2 C1945.2,789.8 1956.8,790.4 1970.5,791.0 C1984.2,791.6 2007.6,792.7 2015.0,793.0" fill="none" stroke="#000" stroke-width="8.5" stroke-linejoin="round" stroke-linecap="round"/>
<polygon points="190.0,789.0 193.0,789.0 196.0,789.0 199.0,789.0 202.0,789.0 205.0,789.0 208.0,789.0 211.0,789.0 214.0,789.0 217.0,789.0 220.0,789.0 223.0,789.0 226.0,789.0 229.0,789.0 232.0,789.0 235.0,789.0 238.0,789.0 241.0,789.0 244.0,789.0 247.0,789.0 250.0,788.9 253.0,788.9 256.0,788.9 259.0,788.9 262.0,788.9 265.0,788.8 268.0,788.8 271.0,788.8 274.0,788.7 277.0,788.7 280.0,788.6 283.0,788.5 286.0,788.4 289.0,788.3 292.0,788.2 295.0,788.0 298.0,787.8 301.0,787.6 304.0,787.3 307.0,787.1 310.0,786.7 313.0,786.3 316.0,785.9 319.0,785.3 322.0,784.8 325.0,784.1 328.0,783.3 331.0,782.5 334.0,781.5 337.0,780.4 340.0,779.2 343.0,777.8 346.0,776.3 349.0,774.7 352.0,772.8 355.0,770.8 358.0,768.6 361.0,766.1 364.0,763.5 367.0,760.6 370.0,757.5 373.0,754.1 376.0,750.6 379.0,746.7 382.0,742.6 385.0,738.3 388.0,733.7 391.0,728.9 394.0,723.8 397.0,718.5 400.0,713.0 403.0,707.3 406.0,701.5 409.0,695.5 412.0,689.3 415.0,683.1 418.0,676.8 421.0,670.4 424.0,664.1 427.0,657.8 430.0,651.5 433.0,645.4 436.0,639.5 439.0,633.7 442.0,628.2 445.0,622.9 448.0,618.0 451.0,613.5 454.0,609.3 457.0,605.6 460.0,602.3 463.0,599.5 466.0,597.2 469.0,595.5 472.0,594.3 475.0,593.6 478.0,593.5 481.0,594.0 484.0,595.1 487.0,596.7 490.0,598.9 493.0,601.6 496.0,604.8 499.0,608.5 502.0,612.7 505.0,617.3 508.0,622.2 511.0,627.5 514.0,633.1 517.0,638.9 520.0,645.0 523.0,651.2 526.0,657.5 529.0,664.0 532.0,670.4 535.0,676.9 538.0,683.3 541.0,689.7 544.0,695.9 547.0,702.0 550.0,708.0 553.0,713.7 556.0,719.3 559.0,724.7 562.0,729.8 565.0,734.6 568.0,739.3 571.0,743.6 574.0,747.7 577.0,751.6 580.0,755.1 583.0,758.5 586.0,761.6 589.0,764.4 592.0,767.0 595.0,769.4 598.0,771.6 601.0,773.6 604.0,775.4 607.0,777.0 610.0,778.5 613.0,779.8 616.0,781.0 619.0,782.0 622.0,782.9 625.0,783.8 628.0,784.5 631.0,785.1 634.0,785.7 637.0,786.2 640.0,786.6 643.0,786.9 646.0,787.3 649.0,787.5 652.0,787.8 655.0,788.0 658.0,788.1 661.0,788.3 664.0,788.4 667.0,788.5 670.0,788.6 673.0,788.7 676.0,788.7 679.0,788.8 682.0,788.8 685.0,788.8 688.0,788.9 691.0,788.9 694.0,788.9 697.0,788.9 700.0,788.9 703.0,789.0 706.0,789.0 709.0,789.0 712.0,789.0 715.0,789.0 718.0,789.0 721.0,789.0 724.0,789.0 727.0,789.0 730.0,789.0 733.0,789.0 736.0,789.0 739.0,789.0 742.0,789.0 745.0,789.0 748.0,789.0 751.0,789.0 754.0,789.0 757.0,789.0 760.0,789.0 763.0,789.0 766.0,789.0 769.0,789.0 772.0,789.0 775.0,789.0 778.0,789.0 781.0,789.0 784.0,789.0 787.0,789.0 790.0,789.0 793.0,789.0 796.0,789.0 799.0,789.0 802.0,789.0 805.0,789.0 808.0,789.0 811.0,789.0 814.0,789.0 817.0,789.0 820.0,789.0 823.0,789.0 826.0,789.0 829.0,789.0 832.0,789.0 835.0,789.0 838.0,789.0 841.0,789.0 844.0,789.0 847.0,789.0 850.0,789.0 853.0,789.0 856.0,789.0 859.0,789.0 862.0,789.0 865.0,789.0 868.0,789.0 871.0,789.0 874.0,789.0 877.0,789.0 880.0,789.0 883.0,789.0 886.0,789.0 889.0,789.0 892.0,789.0 895.0,789.0 898.0,789.0 901.0,789.0 904.0,789.0 907.0,789.0 910.0,789.0 913.0,789.0 916.0,789.0 919.0,789.0 922.0,789.0 925.0,789.0 928.0,789.0 931.0,789.0 934.0,789.0 937.0,789.0 940.0,789.0 943.0,789.0 946.0,789.0 949.0,789.0 952.0,789.0 955.0,789.0 958.0,789.0 961.0,789.0 964.0,789.0 967.0,789.0 970.0,789.0 973.0,789.0 976.0,789.0 979.0,789.0 982.0,789.0 985.0,789.0 988.0,789.0 991.0,789.0 994.0,789.0 997.0,789.0 1000.0,789.0 1003.0,789.0 1006.0,789.0 1009.0,789.0 1012.0,789.0 1015.0,789.0 1018.0,789.0 1021.0,789.0 1024.0,789.0 1027.0,789.0 1030.0,789.0 1033.0,789.0 1036.0,789.0 1039.0,789.0 1042.0,789.0 1045.0,789.0 1048.0,789.0 1051.0,789.0 1054.0,789.0 1057.0,789.0 1060.0,789.0 1063.0,789.0 1066.0,789.0 1069.0,789.0 1072.0,789.0 1075.0,789.0 1078.0,789.0 1081.0,789.0 1084.0,789.0 1087.0,789.0 1090.0,789.0 1093.0,789.0 1096.0,789.0 1099.0,789.0 1102.0,789.0 1105.0,789.0 1108.0,789.0 1111.0,789.0 1114.0,789.0 1117.0,789.0 1120.0,789.0 1123.0,789.0 1126.0,789.0 1129.0,789.0 1132.0,789.0 1135.0,789.0 1138.0,789.0 1141.0,789.0 1144.0,789.0 1147.0,789.0 1150.0,789.0 1153.0,789.0 1156.0,789.0 1159.0,789.0 1162.0,789.0 1165.0,789.0 1168.0,789.0 1171.0,789.0 1174.0,789.0 1177.0,789.0 1180.0,789.0 1183.0,789.0 1186.0,789.0 1189.0,789.0 1192.0,789.0 1195.0,789.0 1198.0,789.0 1201.0,789.0 1204.0,789.0 1207.0,789.0 1210.0,789.0 1213.0,789.0 1216.0,789.0 1219.0,789.0 1222.0,789.0 1225.0,789.0 1228.0,789.0 1231.0,789.0 1234.0,789.0 1237.0,789.0 1240.0,789.0 1243.0,789.0 1246.0,789.0 1249.0,789.0 1252.0,789.0 1255.0,789.0 1258.0,789.0 1261.0,789.0 1264.0,789.0 1267.0,789.0 1270.0,789.0 1273.0,789.0 1276.0,789.0 1279.0,789.0 1282.0,789.0 1285.0,789.0 1288.0,789.0 1291.0,789.0 1294.0,789.0 1297.0,789.0 1300.0,789.0 1303.0,789.0 1306.0,789.0 1309.0,789.0 1312.0,789.0 1315.0,789.0 1318.0,789.0 1321.0,789.0 1324.0,789.0 1327.0,789.0 1330.0,789.0 1333.0,789.0 1336.0,789.0 1339.0,789.0 1342.0,789.0 1345.0,789.0 1348.0,789.0 1351.0,789.0 1354.0,789.0 1357.0,789.0 1360.0,789.0 1363.0,789.0 1366.0,789.0 1369.0,789.0 1372.0,789.0 1375.0,789.0 1378.0,789.0 1381.0,789.0 1384.0,789.0 1387.0,789.0 1390.0,789.0 1393.0,789.0 1396.0,789.0 1399.0,789.0 1402.0,789.0 1405.0,789.0 1408.0,789.0 1411.0,789.0 1414.0,789.0 1417.0,789.0 1420.0,789.0 1423.0,789.0 1426.0,789.0 1429.0,789.0 1432.0,789.0 1435.0,789.0 1438.0,789.0 1441.0,789.0 1444.0,789.0 1447.0,789.0 1450.0,789.0 1453.0,789.0 1456.0,789.0 1459.0,789.0 1462.0,789.0 1465.0,789.0 1468.0,789.0 1471.0,789.0 1474.0,789.0 1477.0,789.0 1480.0,789.0 1483.0,789.0 1486.0,789.0 1489.0,789.0 1492.0,789.0 1495.0,789.0 1498.0,789.0 1501.0,789.0 1504.0,789.0 1507.0,789.0 1510.0,789.0 1513.0,789.0 1516.0,789.0 1519.0,789.0 1522.0,789.0 1525.0,789.0 1528.0,789.0 1531.0,789.0 1534.0,789.0 1537.0,789.0 1540.0,789.0 1543.0,789.0 1546.0,789.0 1549.0,789.0 1552.0,789.0 1555.0,789.0 1558.0,789.0 1561.0,789.0 1564.0,789.0 1567.0,789.0 1570.0,789.0 1573.0,789.0 1576.0,789.0 1579.0,789.0 1582.0,789.0 1585.0,789.0 1588.0,789.0 1591.0,789.0 1594.0,789.0 1597.0,789.0 1600.0,789.0 1603.0,789.0 1606.0,789.0 1609.0,789.0 1612.0,789.0 1615.0,789.0 1618.0,789.0 1621.0,789.0 1624.0,789.0 1627.0,789.0 1630.0,789.0 1633.0,789.0 1636.0,789.0 1639.0,789.0 1642.0,789.0 1645.0,789.0 1648.0,789.0 1651.0,789.0 1654.0,789.0 1657.0,789.0 1660.0,789.0 1663.0,789.0 1666.0,789.0 1669.0,789.0 1672.0,789.0 1675.0,789.0 1678.0,789.0 1681.0,789.0 1684.0,789.0 1687.0,789.0 1690.0,789.0 1693.0,789.0 1696.0,789.0 1699.0,789.0 1702.0,789.0 1705.0,789.0 1708.0,789.0 1711.0,789.0 1714.0,789.0 1717.0,789.0 1720.0,789.0 1723.0,789.0 1726.0,789.0 1729.0,789.0 1732.0,789.0 1735.0,789.0 1738.0,789.0 1741.0,789.0 1744.0,789.0 1747.0,789.0 1750.0,789.0 1753.0,789.0 1756.0,789.0 1759.0,789.0 1762.0,789.0 1765.0,789.0 1768.0,789.0 1771.0,789.0 1774.0,789.0 1777.0,789.0 1780.0,789.0 1783.0,789.0 1786.0,789.0 1789.0,789.0 1792.0,789.0 1795.0,789.0 1798.0,789.0 1801.0,789.0 1804.0,789.0 1807.0,789.0 1810.0,789.0 1813.0,789.0 1816.0,789.0 1819.0,789.0 1822.0,789.0 1825.0,789.0 1828.0,789.0 1831.0,789.0 1834.0,789.0 1837.0,789.0 1840.0,789.0 1843.0,789.0 1846.0,789.0 1849.0,789.0 1852.0,789.0 1855.0,789.0 1858.0,789.0 1861.0,789.0 1864.0,789.0 1867.0,789.0 1870.0,789.0 1873.0,789.0 1876.0,789.0 1879.0,789.0 1882.0,789.0 1885.0,789.0 1888.0,789.0 1891.0,789.0 1894.0,789.0 1897.0,789.0 1900.0,789.0 1903.0,789.0 1906.0,789.0 1909.0,789.0 1912.0,789.0 1915.0,789.0 1918.0,789.0 1921.0,789.0 1924.0,789.0 1927.0,789.0 1930.0,789.0 1933.0,789.0 1936.0,789.0 1939.0,789.0 1942.0,789.0 1945.0,789.0 1948.0,789.0 1951.0,789.0 1954.0,789.0 1957.0,789.0 1960.0,789.0 1963.0,789.0 1966.0,789.0 1969.0,789.0 1972.0,789.0 1975.0,789.0 1978.0,789.0 1981.0,789.0 1984.0,789.0 1987.0,789.0 1990.0,789.0 1993.0,789.0 1996.0,789.0 1999.0,789.0 2002.0,789.0 2005.0,789.0 2008.0,789.0 2011.0,789.0 2014.0,789.0 2017.0,789.0 2017.0,789.0 190.0,789.0" fill="#ff0000" fill-opacity="0.60" stroke="none"/>
<polyline points="190.0,795.5 193.0,795.5 196.0,795.5 199.0,795.5 202.0,795.5 205.0,795.5 208.0,795.5 211.0,795.5 214.0,795.5 217.0,795.5 220.0,795.5 223.0,795.5 226.0,795.5 229.0,795.5 232.0,795.5 235.0,795.5 238.0,795.5 241.0,795.5 244.0,795.5 247.0,795.5 250.0,795.4 253.0,795.4 256.0,795.4 259.0,795.4 262.0,795.4 265.0,795.3 268.0,795.3 271.0,795.3 274.0,795.2 277.0,795.2 280.0,795.1 283.0,795.0 286.0,794.9 289.0,794.8 292.0,794.7 295.0,794.5 298.0,794.3 301.0,794.1 304.0,793.8 307.0,793.6 310.0,793.2 313.0,792.8 316.0,792.4 319.0,791.8 322.0,791.3 325.0,790.6 328.0,789.8 331.0,789.0 334.0,788.0 337.0,786.9 340.0,785.7 343.0,784.3 346.0,782.8 349.0,781.2 352.0,779.3 355.0,777.3 358.0,775.1 361.0,772.6 364.0,770.0 367.0,767.1 370.0,764.0 373.0,760.6 376.0,757.1 379.0,753.2 382.0,749.1 385.0,744.8 388.0,740.2 391.0,735.4 394.0,730.3 397.0,725.0 400.0,719.5 403.0,713.8 406.0,708.0 409.0,702.0 412.0,695.8 415.0,689.6 418.0,683.3 421.0,676.9 424.0,670.6 427.0,664.3 430.0,658.0 433.0,651.9 436.0,646.0 439.0,640.2 442.0,634.7 445.0,629.4 448.0,624.5 451.0,620.0 454.0,615.8 457.0,612.1 460.0,608.8 463.0,606.0 466.0,603.7 469.0,602.0 472.0,600.8 475.0,600.1 478.0,600.0 481.0,600.5 484.0,601.6 487.0,603.2 490.0,605.4 493.0,608.1 496.0,611.3 499.0,615.0 502.0,619.2 505.0,623.8 508.0,628.7 511.0,634.0 514.0,639.6 517.0,645.4 520.0,651.5 523.0,657.7 526.0,664.0 529.0,670.5 532.0,676.9 535.0,683.4 538.0,689.8 541.0,696.2 544.0,702.4 547.0,708.5 550.0,714.5 553.0,720.2 556.0,725.8 559.0,731.2 562.0,736.3 565.0,741.1 568.0,745.8 571.0,750.1 574.0,754.2 577.0,758.1 580.0,761.6 583.0,765.0 586.0,768.1 589.0,770.9 592.0,773.5 595.0,775.9 598.0,778.1 601.0,780.1 604.0,781.9 607.0,783.5 610.0,785.0 613.0,786.3 616.0,787.5 619.0,788.5 622.0,789.4 625.0,790.3 628.0,791.0 631.0,791.6 634.0,792.2 637.0,792.7 640.0,793.1 643.0,793.4 646.0,793.8 649.0,794.0 652.0,794.3 655.0,794.5 658.0,794.6 661.0,794.8 664.0,794.9 667.0,795.0 670.0,795.1 673.0,795.2 676.0,795.2 679.0,795.3 682.0,795.3 685.0,795.3 688.0,795.4 691.0,795.4 694.0,795.4 697.0,795.4 700.0,795.4 703.0,795.5 706.0,795.5 709.0,795.5 712.0,795.5 715.0,795.5 718.0,795.5 721.0,795.5 724.0,795.5 727.0,795.5 730.0,795.5 733.0,795.5 736.0,795.5 739.0,795.5 742.0,795.5 745.0,795.5 748.0,795.5 751.0,795.5 754.0,795.5 757.0,795.5 760.0,795.5 763.0,795.5 766.0,795.5 769.0,795.5 772.0,795.5 775.0,795.5 778.0,795.5 781.0,795.5 784.0,795.5 787.0,795.5 790.0,795.5 793.0,795.5 796.0,795.5 799.0,795.5 802.0,795.5 805.0,795.5 808.0,795.5 811.0,795.5 814.0,795.5 817.0,795.5 820.0,795.5 823.0,795.5 826.0,795.5 829.0,795.5 832.0,795.5 835.0,795.5 838.0,795.5 841.0,795.5 844.0,795.5 847.0,795.5 850.0,795.5 853.0,795.5 856.0,795.5 859.0,795.5 862.0,795.5 865.0,795.5 868.0,795.5 871.0,795.5 874.0,795.5 877.0,795.5 880.0,795.5 883.0,795.5 886.0,795.5 889.0,795.5 892.0,795.5 895.0,795.5 898.0,795.5 901.0,795.5 904.0,795.5 907.0,795.5 910.0,795.5 913.0,795.5 916.0,795.5 919.0,795.5 922.0,795.5 925.0,795.5 928.0,795.5 931.0,795.5 934.0,795.5 937.0,795.5 940.0,795.5 943.0,795.5 946.0,795.5 949.0,795.5 952.0,795.5 955.0,795.5 958.0,795.5 961.0,795.5 964.0,795.5 967.0,795.5 970.0,795.5 973.0,795.5 976.0,795.5 979.0,795.5 982.0,795.5 985.0,795.5 988.0,795.5 991.0,795.5 994.0,795.5 997.0,795.5 1000.0,795.5 1003.0,795.5 1006.0,795.5 1009.0,795.5 1012.0,795.5 1015.0,795.5 1018.0,795.5 1021.0,795.5 1024.0,795.5 1027.0,795.5 1030.0,795.5 1033.0,795.5 1036.0,795.5 1039.0,795.5 1042.0,795.5 1045.0,795.5 1048.0,795.5 1051.0,795.5 1054.0,795.5 1057.0,795.5 1060.0,795.5 1063.0,795.5 1066.0,795.5 1069.0,795.5 1072.0,795.5 1075.0,795.5 1078.0,795.5 1081.0,795.5 1084.0,795.5 1087.0,795.5 1090.0,795.5 1093.0,795.5 1096.0,795.5 1099.0,795.5 1102.0,795.5 1105.0,795.5 1108.0,795.5 1111.0,795.5 1114.0,795.5 1117.0,795.5 1120.0,795.5 1123.0,795.5 1126.0,795.5 1129.0,795.5 1132.0,795.5 1135.0,795.5 1138.0,795.5 1141.0,795.5 1144.0,795.5 1147.0,795.5 1150.0,795.5 1153.0,795.5 1156.0,795.5 1159.0,795.5 1162.0,795.5 1165.0,795.5 1168.0,795.5 1171.0,795.5 1174.0,795.5 1177.0,795.5 1180.0,795.5 1183.0,795.5 1186.0,795.5 1189.0,795.5 1192.0,795.5 1195.0,795.5 1198.0,795.5 1201.0,795.5 1204.0,795.5 1207.0,795.5 1210.0,795.5 1213.0,795.5 1216.0,795.5 1219.0,795.5 1222.0,795.5 1225.0,795.5 1228.0,795.5 1231.0,795.5 1234.0,795.5 1237.0,795.5 1240.0,795.5 1243.0,795.5 1246.0,795.5 1249.0,795.5 1252.0,795.5 1255.0,795.5 1258.0,795.5 1261.0,795.5 1264.0,795.5 1267.0,795.5 1270.0,795.5 1273.0,795.5 1276.0,795.5 1279.0,795.5 1282.0,795.5 1285.0,795.5 1288.0,795.5 1291.0,795.5 1294.0,795.5 1297.0,795.5 1300.0,795.5 1303.0,795.5 1306.0,795.5 1309.0,795.5 1312.0,795.5 1315.0,795.5 1318.0,795.5 1321.0,795.5 1324.0,795.5 1327.0,795.5 1330.0,795.5 1333.0,795.5 1336.0,795.5 1339.0,795.5 1342.0,795.5 1345.0,795.5 1348.0,795.5 1351.0,795.5 1354.0,795.5 1357.0,795.5 1360.0,795.5 1363.0,795.5 1366.0,795.5 1369.0,795.5 1372.0,795.5 1375.0,795.5 1378.0,795.5 1381.0,795.5 1384.0,795.5 1387.0,795.5 1390.0,795.5 1393.0,795.5 1396.0,795.5 1399.0,795.5 1402.0,795.5 1405.0,795.5 1408.0,795.5 1411.0,795.5 1414.0,795.5 1417.0,795.5 1420.0,795.5 1423.0,795.5 1426.0,795.5 1429.0,795.5 1432.0,795.5 1435.0,795.5 1438.0,795.5 1441.0,795.5 1444.0,795.5 1447.0,795.5 1450.0,795.5 1453.0,795.5 1456.0,795.5 1459.0,795.5 1462.0,795.5 1465.0,795.5 1468.0,795.5 1471.0,795.5 1474.0,795.5 1477.0,795.5 1480.0,795.5 1483.0,795.5 1486.0,795.5 1489.0,795.5 1492.0,795.5 1495.0,795.5 1498.0,795.5 1501.0,795.5 1504.0,795.5 1507.0,795.5 1510.0,795.5 1513.0,795.5 1516.0,795.5 1519.0,795.5 1522.0,795.5 1525.0,795.5 1528.0,795.5 1531.0,795.5 1534.0,795.5 1537.0,795.5 1540.0,795.5 1543.0,795.5 1546.0,795.5 1549.0,795.5 1552.0,795.5 1555.0,795.5 1558.0,795.5 1561.0,795.5 1564.0,795.5 1567.0,795.5 1570.0,795.5 1573.0,795.5 1576.0,795.5 1579.0,795.5 1582.0,795.5 1585.0,795.5 1588.0,795.5 1591.0,795.5 1594.0,795.5 1597.0,795.5 1600.0,795.5 1603.0,795.5 1606.0,795.5 1609.0,795.5 1612.0,795.5 1615.0,795.5 1618.0,795.5 1621.0,795.5 1624.0,795.5 1627.0,795.5 1630.0,795.5 1633.0,795.5 1636.0,795.5 1639.0,795.5 1642.0,795.5 1645.0,795.5 1648.0,795.5 1651.0,795.5 1654.0,795.5 1657.0,795.5 1660.0,795.5 1663.0,795.5 1666.0,795.5 1669.0,795.5 1672.0,795.5 1675.0,795.5 1678.0,795.5 1681.0,795.5 1684.0,795.5 1687.0,795.5 1690.0,795.5 1693.0,795.5 1696.0,795.5 1699.0,795.5 1702.0,795.5 1705.0,795.5 1708.0,795.5 1711.0,795.5 1714.0,795.5 1717.0,795.5 1720.0,795.5 1723.0,795.5 1726.0,795.5 1729.0,795.5 1732.0,795.5 1735.0,795.5 1738.0,795.5 1741.0,795.5 1744.0,795.5 1747.0,795.5 1750.0,795.5 1753.0,795.5 1756.0,795.5 1759.0,795.5 1762.0,795.5 1765.0,795.5 1768.0,795.5 1771.0,795.5 1774.0,795.5 1777.0,795.5 1780.0,795.5 1783.0,795.5 1786.0,795.5 1789.0,795.5 1792.0,795.5 1795.0,795.5 1798.0,795.5 1801.0,795.5 1804.0,795.5 1807.0,795.5 1810.0,795.5 1813.0,795.5 1816.0,795.5 1819.0,795.5 1822.0,795.5 1825.0,795.5 1828.0,795.5 1831.0,795.5 1834.0,795.5 1837.0,795.5 1840.0,795.5 1843.0,795.5 1846.0,795.5 1849.0,795.5 1852.0,795.5 1855.0,795.5 1858.0,795.5 1861.0,795.5 1864.0,795.5 1867.0,795.5 1870.0,795.5 1873.0,795.5 1876.0,795.5 1879.0,795.5 1882.0,795.5 1885.0,795.5 1888.0,795.5 1891.0,795.5 1894.0,795.5 1897.0,795.5 1900.0,795.5 1903.0,795.5 1906.0,795.5 1909.0,795.5 1912.0,795.5 1915.0,795.5 1918.0,795.5 1921.0,795.5 1924.0,795.5 1927.0,795.5 1930.0,795.5 1933.0,795.5 1936.0,795.5 1939.0,795.5 1942.0,795.5 1945.0,795.5 1948.0,795.5 1951.0,795.5 1954.0,795.5 1957.0,795.5 1960.0,795.5 1963.0,795.5 1966.0,795.5 1969.0,795.5 1972.0,795.5 1975.0,795.5 1978.0,795.5 1981.0,795.5 1984.0,795.5 1987.0,795.5 1990.0,795.5 1993.0,795.5 1996.0,795.5 1999.0,795.5 2002.0,795.5 2005.0,795.5 2008.0,795.5 2011.0,795.5 2014.0,795.5 2017.0,795.5" fill="none" stroke="#ff0000" stroke-opacity="0.80" stroke-width="5" stroke-dasharray="36 34" stroke-dashoffset="0"/>
<line x1="190.0" y1="792.0" x2="2015.0" y2="792.0" stroke="#ff0000" stroke-opacity="0.80" stroke-width="6" stroke-dasharray="36 34" stroke-dashoffset="7"/>
<polygon points="190.0,788.3 193.0,788.3 196.0,788.2 199.0,788.1 202.0,788.1 205.0,788.0 208.0,787.9 211.0,787.8 214.0,787.8 217.0,787.7 220.0,787.6 223.0,787.5 226.0,787.3 229.0,787.2 232.0,787.1 235.0,786.9 238.0,786.8 241.0,786.6 244.0,786.5 247.0,786.3 250.0,786.1 253.0,785.9 256.0,785.7 259.0,785.4 262.0,785.2 265.0,784.9 268.0,784.7 271.0,784.4 274.0,784.1 277.0,783.7 280.0,783.4 283.0,783.0 286.0,782.7 289.0,782.3 292.0,781.8 295.0,781.4 298.0,780.9 301.0,780.4 304.0,779.9 307.0,779.4 310.0,778.8 313.0,778.2 316.0,777.6 319.0,776.9 322.0,776.2 325.0,775.5 328.0,774.7 331.0,773.9 334.0,773.1 337.0,772.2 340.0,771.3 343.0,770.3 346.0,769.3 349.0,768.3 352.0,767.2 355.0,766.1 358.0,764.9 361.0,763.7 364.0,762.5 367.0,761.1 370.0,759.8 373.0,758.4 376.0,756.9 379.0,755.4 382.0,753.8 385.0,752.2 388.0,750.5 391.0,748.8 394.0,747.0 397.0,745.1 400.0,743.2 403.0,741.2 406.0,739.2 409.0,737.1 412.0,735.0 415.0,732.7 418.0,730.5 421.0,728.1 424.0,725.7 427.0,723.3 430.0,720.8 433.0,718.2 436.0,715.6 439.0,712.9 442.0,710.1 445.0,707.3 448.0,704.4 451.0,701.5 454.0,698.5 457.0,695.5 460.0,692.4 463.0,689.3 466.0,686.1 469.0,682.8 472.0,679.6 475.0,676.2 478.0,672.9 481.0,669.5 484.0,666.0 487.0,662.5 490.0,659.0 493.0,655.5 496.0,651.9 499.0,648.3 502.0,644.7 505.0,641.1 508.0,637.4 511.0,633.8 514.0,630.1 517.0,626.4 520.0,622.8 523.0,619.1 526.0,615.5 529.0,611.8 532.0,608.2 535.0,604.6 538.0,601.0 541.0,597.4 544.0,593.9 547.0,590.4 550.0,587.0 553.0,583.6 556.0,580.2 559.0,576.9 562.0,573.7 565.0,570.5 568.0,567.4 571.0,564.3 574.0,561.4 577.0,558.5 580.0,555.7 583.0,552.9 586.0,550.3 589.0,547.8 592.0,545.3 595.0,543.0 598.0,540.7 601.0,538.6 604.0,536.6 607.0,534.6 610.0,532.9 613.0,531.2 616.0,529.6 619.0,528.2 622.0,526.9 625.0,525.7 628.0,524.6 631.0,523.7 634.0,522.9 637.0,522.3 640.0,521.8 643.0,521.4 646.0,521.1 649.0,521.0 652.0,521.0 655.0,521.2 658.0,521.5 661.0,522.0 664.0,522.5 667.0,523.3 670.0,524.2 673.0,525.2 676.0,526.3 679.0,527.6 682.0,529.0 685.0,530.5 688.0,532.2 691.0,534.0 694.0,535.9 697.0,538.0 700.0,540.1 703.0,542.4 706.0,544.7 709.0,547.2 712.0,549.8 715.0,552.5 718.0,555.3 721.0,558.1 724.0,561.1 727.0,564.1 730.0,567.2 733.0,570.4 736.0,573.7 739.0,577.0 742.0,580.4 745.0,583.8 748.0,587.3 751.0,590.8 754.0,594.4 757.0,598.0 760.0,601.6 763.0,605.3 766.0,609.0 769.0,612.7 772.0,616.5 775.0,620.2 778.0,623.9 781.0,627.7 784.0,631.4 787.0,635.2 790.0,638.9 793.0,642.7 796.0,646.4 799.0,650.0 802.0,653.7 805.0,657.3 808.0,661.0 811.0,664.5 814.0,668.1 817.0,671.6 820.0,675.0 823.0,678.4 826.0,681.8 829.0,685.1 832.0,688.4 835.0,691.6 838.0,694.8 841.0,697.9 844.0,701.0 847.0,704.0 850.0,706.9 853.0,709.8 856.0,712.6 859.0,715.4 862.0,718.1 865.0,720.7 868.0,723.3 871.0,725.8 874.0,728.3 877.0,730.6 880.0,733.0 883.0,735.2 886.0,737.4 889.0,739.5 892.0,741.6 895.0,743.6 898.0,745.6 901.0,747.4 904.0,749.3 907.0,751.0 910.0,752.7 913.0,754.4 916.0,756.0 919.0,757.5 922.0,759.0 925.0,760.4 928.0,761.8 931.0,763.1 934.0,764.4 937.0,765.6 940.0,766.7 943.0,767.9 946.0,768.9 949.0,770.0 952.0,771.0 955.0,771.9 958.0,772.8 961.0,773.7 964.0,774.5 967.0,775.3 970.0,776.0 973.0,776.8 976.0,777.4 979.0,778.1 982.0,778.7 985.0,779.3 988.0,779.9 991.0,780.4 994.0,780.9 997.0,781.4 1000.0,781.9 1003.0,782.3 1006.0,782.7 1009.0,783.1 1012.0,783.4 1015.0,783.8 1018.0,784.1 1021.0,784.4 1024.0,784.7 1027.0,785.0 1030.0,785.3 1033.0,785.5 1036.0,785.7 1039.0,786.0 1042.0,786.2 1045.0,786.3 1048.0,786.5 1051.0,786.7 1054.0,786.9 1057.0,787.0 1060.0,787.1 1063.0,787.3 1066.0,787.4 1069.0,787.5 1072.0,787.6 1075.0,787.7 1078.0,787.8 1081.0,787.9 1084.0,788.0 1087.0,788.1 1090.0,788.1 1093.0,788.2 1096.0,788.3 1099.0,788.3 1102.0,788.4 1105.0,788.4 1108.0,788.5 1111.0,788.5 1114.0,788.5 1117.0,788.6 1120.0,788.6 1123.0,788.6 1126.0,788.7 1129.0,788.7 1132.0,788.7 1135.0,788.7 1138.0,788.8 1141.0,788.8 1144.0,788.8 1147.0,788.8 1150.0,788.8 1153.0,788.8 1156.0,788.9 1159.0,788.9 1162.0,788.9 1165.0,788.9 1168.0,788.9 1171.0,788.9 1174.0,788.9 1177.0,788.9 1180.0,788.9 1183.0,788.9 1186.0,788.9 1189.0,789.0 1192.0,789.0 1195.0,789.0 1198.0,789.0 1201.0,789.0 1204.0,789.0 1207.0,789.0 1210.0,789.0 1213.0,789.0 1216.0,789.0 1219.0,789.0 1222.0,789.0 1225.0,789.0 1228.0,789.0 1231.0,789.0 1234.0,789.0 1237.0,789.0 1240.0,789.0 1243.0,789.0 1246.0,789.0 1249.0,789.0 1252.0,789.0 1255.0,789.0 1258.0,789.0 1261.0,789.0 1264.0,789.0 1267.0,789.0 1270.0,789.0 1273.0,789.0 1276.0,789.0 1279.0,789.0 1282.0,789.0 1285.0,789.0 1288.0,789.0 1291.0,789.0 1294.0,789.0 1297.0,789.0 1300.0,789.0 1303.0,789.0 1306.0,789.0 1309.0,789.0 1312.0,789.0 1315.0,789.0 1318.0,789.0 1321.0,789.0 1324.0,789.0 1327.0,789.0 1330.0,789.0 1333.0,789.0 1336.0,789.0 1339.0,789.0 1342.0,789.0 1345.0,789.0 1348.0,789.0 1351.0,789.0 1354.0,789.0 1357.0,789.0 1360.0,789.0 1363.0,789.0 1366.0,789.0 1369.0,789.0 1372.0,789.0 1375.0,789.0 1378.0,789.0 1381.0,789.0 1384.0,789.0 1387.0,789.0 1390.0,789.0 1393.0,789.0 1396.0,789.0 1399.0,789.0 1402.0,789.0 1405.0,789.0 1408.0,789.0 1411.0,789.0 1414.0,789.0 1417.0,789.0 1420.0,789.0 1423.0,789.0 1426.0,789.0 1429.0,789.0 1432.0,789.0 1435.0,789.0 1438.0,789.0 1441.0,789.0 1444.0,789.0 1447.0,789.0 1450.0,789.0 1453.0,789.0 1456.0,789.0 1459.0,789.0 1462.0,789.0 1465.0,789.0 1468.0,789.0 1471.0,789.0 1474.0,789.0 1477.0,789.0 1480.0,789.0 1483.0,789.0 1486.0,789.0 1489.0,789.0 1492.0,789.0 1495.0,789.0 1498.0,789.0 1501.0,789.0 1504.0,789.0 1507.0,789.0 1510.0,789.0 1513.0,789.0 1516.0,789.0 1519.0,789.0 1522.0,789.0 1525.0,789.0 1528.0,789.0 1531.0,789.0 1534.0,789.0 1537.0,789.0 1540.0,789.0 1543.0,789.0 1546.0,789.0 1549.0,789.0 1552.0,789.0 1555.0,789.0 1558.0,789.0 1561.0,789.0 1564.0,789.0 1567.0,789.0 1570.0,789.0 1573.0,789.0 1576.0,789.0 1579.0,789.0 1582.0,789.0 1585.0,789.0 1588.0,789.0 1591.0,789.0 1594.0,789.0 1597.0,789.0 1600.0,789.0 1603.0,789.0 1606.0,789.0 1609.0,789.0 1612.0,789.0 1615.0,789.0 1618.0,789.0 1621.0,789.0 1624.0,789.0 1627.0,789.0 1630.0,789.0 1633.0,789.0 1636.0,789.0 1639.0,789.0 1642.0,789.0 1645.0,789.0 1648.0,789.0 1651.0,789.0 1654.0,789.0 1657.0,789.0 1660.0,789.0 1663.0,789.0 1666.0,789.0 1669.0,789.0 1672.0,789.0 1675.0,789.0 1678.0,789.0 1681.0,789.0 1684.0,789.0 1687.0,789.0 1690.0,789.0 1693.0,789.0 1696.0,789.0 1699.0,789.0 1702.0,789.0 1705.0,789.0 1708.0,789.0 1711.0,789.0 1714.0,789.0 1717.0,789.0 1720.0,789.0 1723.0,789.0 1726.0,789.0 1729.0,789.0 1732.0,789.0 1735.0,789.0 1738.0,789.0 1741.0,789.0 1744.0,789.0 1747.0,789.0 1750.0,789.0 1753.0,789.0 1756.0,789.0 1759.0,789.0 1762.0,789.0 1765.0,789.0 1768.0,789.0 1771.0,789.0 1774.0,789.0 1777.0,789.0 1780.0,789.0 1783.0,789.0 1786.0,789.0 1789.0,789.0 1792.0,789.0 1795.0,789.0 1798.0,789.0 1801.0,789.0 1804.0,789.0 1807.0,789.0 1810.0,789.0 1813.0,789.0 1816.0,789.0 1819.0,789.0 1822.0,789.0 1825.0,789.0 1828.0,789.0 1831.0,789.0 1834.0,789.0 1837.0,789.0 1840.0,789.0 1843.0,789.0 1846.0,789.0 1849.0,789.0 1852.0,789.0 1855.0,789.0 1858.0,789.0 1861.0,789.0 1864.0,789.0 1867.0,789.0 1870.0,789.0 1873.0,789.0 1876.0,789.0 1879.0,789.0 1882.0,789.0 1885.0,789.0 1888.0,789.0 1891.0,789.0 1894.0,789.0 1897.0,789.0 1900.0,789.0 1903.0,789.0 1906.0,789.0 1909.0,789.0 1912.0,789.0 1915.0,789.0 1918.0,789.0 1921.0,789.0 1924.0,789.0 1927.0,789.0 1930.0,789.0 1933.0,789.0 1936.0,789.0 1939.0,789.0 1942.0,789.0 1945.0,789.0 1948.0,789.0 1951.0,789.0 1954.0,789.0 1957.0,789.0 1960.0,789.0 1963.0,789.0 1966.0,789.0 1969.0,789.0 1972.0,789.0 1975.0,789.0 1978.0,789.0 1981.0,789.0 1984.0,789.0 1987.0,789.0 1990.0,789.0 1993.0,789.0 1996.0,789.0 1999.0,789.0 2002.0,789.0 2005.0,789.0 2008.0,789.0 2011.0,789.0 2014.0,789.0 2017.0,789.0 2017.0,789.0 190.0,789.0" fill="url(#bg1_1)" fill-opacity="0.40" stroke="none"/>
<polyline points="190.0,794.8 193.0,794.8 196.0,794.7 199.0,794.6 202.0,794.6 205.0,794.5 208.0,794.4 211.0,794.3 214.0,794.3 217.0,794.2 220.0,794.1 223.0,794.0 226.0,793.8 229.0,793.7 232.0,793.6 235.0,793.4 238.0,793.3 241.0,793.1 244.0,793.0 247.0,792.8 250.0,792.6 253.0,792.4 256.0,792.2 259.0,791.9 262.0,791.7 265.0,791.4 268.0,791.2 271.0,790.9 274.0,790.6 277.0,790.2 280.0,789.9 283.0,789.5 286.0,789.2 289.0,788.8 292.0,788.3 295.0,787.9 298.0,787.4 301.0,786.9 304.0,786.4 307.0,785.9 310.0,785.3 313.0,784.7 316.0,784.1 319.0,783.4 322.0,782.7 325.0,782.0 328.0,781.2 331.0,780.4 334.0,779.6 337.0,778.7 340.0,777.8 343.0,776.8 346.0,775.8 349.0,774.8 352.0,773.7 355.0,772.6 358.0,771.4 361.0,770.2 364.0,769.0 367.0,767.6 370.0,766.3 373.0,764.9 376.0,763.4 379.0,761.9 382.0,760.3 385.0,758.7 388.0,757.0 391.0,755.3 394.0,753.5 397.0,751.6 400.0,749.7 403.0,747.7 406.0,745.7 409.0,743.6 412.0,741.5 415.0,739.2 418.0,737.0 421.0,734.6 424.0,732.2 427.0,729.8 430.0,727.3 433.0,724.7 436.0,722.1 439.0,719.4 442.0,716.6 445.0,713.8 448.0,710.9 451.0,708.0 454.0,705.0 457.0,702.0 460.0,698.9 463.0,695.8 466.0,692.6 469.0,689.3 472.0,686.1 475.0,682.7 478.0,679.4 481.0,676.0 484.0,672.5 487.0,669.0 490.0,665.5 493.0,662.0 496.0,658.4 499.0,654.8 502.0,651.2 505.0,647.6 508.0,643.9 511.0,640.3 514.0,636.6 517.0,632.9 520.0,629.3 523.0,625.6 526.0,622.0 529.0,618.3 532.0,614.7 535.0,611.1 538.0,607.5 541.0,603.9 544.0,600.4 547.0,596.9 550.0,593.5 553.0,590.1 556.0,586.7 559.0,583.4 562.0,580.2 565.0,577.0 568.0,573.9 571.0,570.8 574.0,567.9 577.0,565.0 580.0,562.2 583.0,559.4 586.0,556.8 589.0,554.3 592.0,551.8 595.0,549.5 598.0,547.2 601.0,545.1 604.0,543.1 607.0,541.1 610.0,539.4 613.0,537.7 616.0,536.1 619.0,534.7 622.0,533.4 625.0,532.2 628.0,531.1 631.0,530.2 634.0,529.4 637.0,528.8 640.0,528.3 643.0,527.9 646.0,527.6 649.0,527.5 652.0,527.5 655.0,527.7 658.0,528.0 661.0,528.5 664.0,529.0 667.0,529.8 670.0,530.7 673.0,531.7 676.0,532.8 679.0,534.1 682.0,535.5 685.0,537.0 688.0,538.7 691.0,540.5 694.0,542.4 697.0,544.5 700.0,546.6 703.0,548.9 706.0,551.2 709.0,553.7 712.0,556.3 715.0,559.0 718.0,561.8 721.0,564.6 724.0,567.6 727.0,570.6 730.0,573.7 733.0,576.9 736.0,580.2 739.0,583.5 742.0,586.9 745.0,590.3 748.0,593.8 751.0,597.3 754.0,600.9 757.0,604.5 760.0,608.1 763.0,611.8 766.0,615.5 769.0,619.2 772.0,623.0 775.0,626.7 778.0,630.4 781.0,634.2 784.0,637.9 787.0,641.7 790.0,645.4 793.0,649.2 796.0,652.9 799.0,656.5 802.0,660.2 805.0,663.8 808.0,667.5 811.0,671.0 814.0,674.6 817.0,678.1 820.0,681.5 823.0,684.9 826.0,688.3 829.0,691.6 832.0,694.9 835.0,698.1 838.0,701.3 841.0,704.4 844.0,707.5 847.0,710.5 850.0,713.4 853.0,716.3 856.0,719.1 859.0,721.9 862.0,724.6 865.0,727.2 868.0,729.8 871.0,732.3 874.0,734.8 877.0,737.1 880.0,739.5 883.0,741.7 886.0,743.9 889.0,746.0 892.0,748.1 895.0,750.1 898.0,752.1 901.0,753.9 904.0,755.8 907.0,757.5 910.0,759.2 913.0,760.9 916.0,762.5 919.0,764.0 922.0,765.5 925.0,766.9 928.0,768.3 931.0,769.6 934.0,770.9 937.0,772.1 940.0,773.2 943.0,774.4 946.0,775.4 949.0,776.5 952.0,777.5 955.0,778.4 958.0,779.3 961.0,780.2 964.0,781.0 967.0,781.8 970.0,782.5 973.0,783.3 976.0,783.9 979.0,784.6 982.0,785.2 985.0,785.8 988.0,786.4 991.0,786.9 994.0,787.4 997.0,787.9 1000.0,788.4 1003.0,788.8 1006.0,789.2 1009.0,789.6 1012.0,789.9 1015.0,790.3 1018.0,790.6 1021.0,790.9 1024.0,791.2 1027.0,791.5 1030.0,791.8 1033.0,792.0 1036.0,792.2 1039.0,792.5 1042.0,792.7 1045.0,792.8 1048.0,793.0 1051.0,793.2 1054.0,793.4 1057.0,793.5 1060.0,793.6 1063.0,793.8 1066.0,793.9 1069.0,794.0 1072.0,794.1 1075.0,794.2 1078.0,794.3 1081.0,794.4 1084.0,794.5 1087.0,794.6 1090.0,794.6 1093.0,794.7 1096.0,794.8 1099.0,794.8 1102.0,794.9 1105.0,794.9 1108.0,795.0 1111.0,795.0 1114.0,795.0 1117.0,795.1 1120.0,795.1 1123.0,795.1 1126.0,795.2 1129.0,795.2 1132.0,795.2 1135.0,795.2 1138.0,795.3 1141.0,795.3 1144.0,795.3 1147.0,795.3 1150.0,795.3 1153.0,795.3 1156.0,795.4 1159.0,795.4 1162.0,795.4 1165.0,795.4 1168.0,795.4 1171.0,795.4 1174.0,795.4 1177.0,795.4 1180.0,795.4 1183.0,795.4 1186.0,795.4 1189.0,795.5 1192.0,795.5 1195.0,795.5 1198.0,795.5 1201.0,795.5 1204.0,795.5 1207.0,795.5 1210.0,795.5 1213.0,795.5 1216.0,795.5 1219.0,795.5 1222.0,795.5 1225.0,795.5 1228.0,795.5 1231.0,795.5 1234.0,795.5 1237.0,795.5 1240.0,795.5 1243.0,795.5 1246.0,795.5 1249.0,795.5 1252.0,795.5 1255.0,795.5 1258.0,795.5 1261.0,795.5 1264.0,795.5 1267.0,795.5 1270.0,795.5 1273.0,795.5 1276.0,795.5 1279.0,795.5 1282.0,795.5 1285.0,795.5 1288.0,795.5 1291.0,795.5 1294.0,795.5 1297.0,795.5 1300.0,795.5 1303.0,795.5 1306.0,795.5 1309.0,795.5 1312.0,795.5 1315.0,795.5 1318.0,795.5 1321.0,795.5 1324.0,795.5 1327.0,795.5 1330.0,795.5 1333.0,795.5 1336.0,795.5 1339.0,795.5 1342.0,795.5 1345.0,795.5 1348.0,795.5 1351.0,795.5 1354.0,795.5 1357.0,795.5 1360.0,795.5 1363.0,795.5 1366.0,795.5 1369.0,795.5 1372.0,795.5 1375.0,795.5 1378.0,795.5 1381.0,795.5 1384.0,795.5 1387.0,795.5 1390.0,795.5 1393.0,795.5 1396.0,795.5 1399.0,795.5 1402.0,795.5 1405.0,795.5 1408.0,795.5 1411.0,795.5 1414.0,795.5 1417.0,795.5 1420.0,795.5 1423.0,795.5 1426.0,795.5 1429.0,795.5 1432.0,795.5 1435.0,795.5 1438.0,795.5 1441.0,795.5 1444.0,795.5 1447.0,795.5 1450.0,795.5 1453.0,795.5 1456.0,795.5 1459.0,795.5 1462.0,795.5 1465.0,795.5 1468.0,795.5 1471.0,795.5 1474.0,795.5 1477.0,795.5 1480.0,795.5 1483.0,795.5 1486.0,795.5 1489.0,795.5 1492.0,795.5 1495.0,795.5 1498.0,795.5 1501.0,795.5 1504.0,795.5 1507.0,795.5 1510.0,795.5 1513.0,795.5 1516.0,795.5 1519.0,795.5 1522.0,795.5 1525.0,795.5 1528.0,795.5 1531.0,795.5 1534.0,795.5 1537.0,795.5 1540.0,795.5 1543.0,795.5 1546.0,795.5 1549.0,795.5 1552.0,795.5 1555.0,795.5 1558.0,795.5 1561.0,795.5 1564.0,795.5 1567.0,795.5 1570.0,795.5 1573.0,795.5 1576.0,795.5 1579.0,795.5 1582.0,795.5 1585.0,795.5 1588.0,795.5 1591.0,795.5 1594.0,795.5 1597.0,795.5 1600.0,795.5 1603.0,795.5 1606.0,795.5 1609.0,795.5 1612.0,795.5 1615.0,795.5 1618.0,795.5 1621.0,795.5 1624.0,795.5 1627.0,795.5 1630.0,795.5 1633.0,795.5 1636.0,795.5 1639.0,795.5 1642.0,795.5 1645.0,795.5 1648.0,795.5 1651.0,795.5 1654.0,795.5 1657.0,795.5 1660.0,795.5 1663.0,795.5 1666.0,795.5 1669.0,795.5 1672.0,795.5 1675.0,795.5 1678.0,795.5 1681.0,795.5 1684.0,795.5 1687.0,795.5 1690.0,795.5 1693.0,795.5 1696.0,795.5 1699.0,795.5 1702.0,795.5 1705.0,795.5 1708.0,795.5 1711.0,795.5 1714.0,795.5 1717.0,795.5 1720.0,795.5 1723.0,795.5 1726.0,795.5 1729.0,795.5 1732.0,795.5 1735.0,795.5 1738.0,795.5 1741.0,795.5 1744.0,795.5 1747.0,795.5 1750.0,795.5 1753.0,795.5 1756.0,795.5 1759.0,795.5 1762.0,795.5 1765.0,795.5 1768.0,795.5 1771.0,795.5 1774.0,795.5 1777.0,795.5 1780.0,795.5 1783.0,795.5 1786.0,795.5 1789.0,795.5 1792.0,795.5 1795.0,795.5 1798.0,795.5 1801.0,795.5 1804.0,795.5 1807.0,795.5 1810.0,795.5 1813.0,795.5 1816.0,795.5 1819.0,795.5 1822.0,795.5 1825.0,795.5 1828.0,795.5 1831.0,795.5 1834.0,795.5 1837.0,795.5 1840.0,795.5 1843.0,795.5 1846.0,795.5 1849.0,795.5 1852.0,795.5 1855.0,795.5 1858.0,795.5 1861.0,795.5 1864.0,795.5 1867.0,795.5 1870.0,795.5 1873.0,795.5 1876.0,795.5 1879.0,795.5 1882.0,795.5 1885.0,795.5 1888.0,795.5 1891.0,795.5 1894.0,795.5 1897.0,795.5 1900.0,795.5 1903.0,795.5 1906.0,795.5 1909.0,795.5 1912.0,795.5 1915.0,795.5 1918.0,795.5 1921.0,795.5 1924.0,795.5 1927.0,795.5 1930.0,795.5 1933.0,795.5 1936.0,795.5 1939.0,795.5 1942.0,795.5 1945.0,795.5 1948.0,795.5 1951.0,795.5 1954.0,795.5 1957.0,795.5 1960.0,795.5 1963.0,795.5 1966.0,795.5 1969.0,795.5 1972.0,795.5 1975.0,795.5 1978.0,795.5 1981.0,795.5 1984.0,795.5 1987.0,795.5 1990.0,795.5 1993.0,795.5 1996.0,795.5 1999.0,795.5 2002.0,795.5 2005.0,795.5 2008.0,795.5 2011.0,795.5 2014.0,795.5 2017.0,795.5" fill="none" stroke="#0000ff" stroke-opacity="0.60" stroke-width="5" stroke-dasharray="36 34" stroke-dashoffset="0"/>
<line x1="190.0" y1="792.0" x2="2015.0" y2="792.0" stroke="#0000ff" stroke-opacity="0.60" stroke-width="6" stroke-dasharray="36 34" stroke-dashoffset="19"/>
<polygon points="190.0,789.0 193.0,789.0 196.0,789.0 199.0,789.0 202.0,789.0 205.0,789.0 208.0,789.0 211.0,789.0 214.0,789.0 217.0,789.0 220.0,789.0 223.0,789.0 226.0,789.0 229.0,789.0 232.0,789.0 235.0,789.0 238.0,789.0 241.0,789.0 244.0,789.0 247.0,789.0 250.0,789.0 253.0,789.0 256.0,789.0 259.0,789.0 262.0,789.0 265.0,789.0 268.0,789.0 271.0,789.0 274.0,789.0 277.0,789.0 280.0,789.0 283.0,789.0 286.0,789.0 289.0,789.0 292.0,789.0 295.0,789.0 298.0,789.0 301.0,789.0 304.0,789.0 307.0,789.0 310.0,789.0 313.0,789.0 316.0,789.0 319.0,789.0 322.0,789.0 325.0,789.0 328.0,789.0 331.0,789.0 334.0,789.0 337.0,789.0 340.0,789.0 343.0,789.0 346.0,789.0 349.0,789.0 352.0,789.0 355.0,789.0 358.0,789.0 361.0,789.0 364.0,789.0 367.0,789.0 370.0,789.0 373.0,789.0 376.0,789.0 379.0,789.0 382.0,789.0 385.0,789.0 388.0,789.0 391.0,789.0 394.0,789.0 397.0,789.0 400.0,789.0 403.0,789.0 406.0,789.0 409.0,789.0 412.0,789.0 415.0,789.0 418.0,789.0 421.0,789.0 424.0,789.0 427.0,789.0 430.0,789.0 433.0,789.0 436.0,789.0 439.0,789.0 442.0,789.0 445.0,789.0 448.0,789.0 451.0,789.0 454.0,789.0 457.0,789.0 460.0,789.0 463.0,789.0 466.0,789.0 469.0,789.0 472.0,789.0 475.0,789.0 478.0,789.0 481.0,789.0 484.0,789.0 487.0,789.0 490.0,789.0 493.0,789.0 496.0,789.0 499.0,789.0 502.0,789.0 505.0,789.0 508.0,789.0 511.0,789.0 514.0,789.0 517.0,789.0 520.0,789.0 523.0,789.0 526.0,789.0 529.0,789.0 532.0,789.0 535.0,789.0 538.0,789.0 541.0,789.0 544.0,789.0 547.0,789.0 550.0,789.0 553.0,789.0 556.0,789.0 559.0,789.0 562.0,789.0 565.0,789.0 568.0,789.0 571.0,789.0 574.0,789.0 577.0,789.0 580.0,789.0 583.0,789.0 586.0,789.0 589.0,789.0 592.0,789.0 595.0,789.0 598.0,789.0 601.0,789.0 604.0,789.0 607.0,789.0 610.0,789.0 613.0,789.0 616.0,789.0 619.0,789.0 622.0,789.0 625.0,788.9 628.0,788.9 631.0,788.9 634.0,788.9 637.0,788.9 640.0,788.9 643.0,788.9 646.0,788.9 649.0,788.9 652.0,788.9 655.0,788.8 658.0,788.8 661.0,788.8 664.0,788.8 667.0,788.8 670.0,788.7 673.0,788.7 676.0,788.7 679.0,788.7 682.0,788.6 685.0,788.6 688.0,788.5 691.0,788.5 694.0,788.4 697.0,788.4 700.0,788.3 703.0,788.3 706.0,788.2 709.0,788.1 712.0,788.0 715.0,788.0 718.0,787.9 721.0,787.8 724.0,787.6 727.0,787.5 730.0,787.4 733.0,787.3 736.0,787.1 739.0,787.0 742.0,786.8 745.0,786.6 748.0,786.4 751.0,786.2 754.0,786.0 757.0,785.8 760.0,785.5 763.0,785.3 766.0,785.0 769.0,784.7 772.0,784.4 775.0,784.0 778.0,783.7 781.0,783.3 784.0,782.9 787.0,782.5 790.0,782.0 793.0,781.6 796.0,781.1 799.0,780.5 802.0,780.0 805.0,779.4 808.0,778.8 811.0,778.2 814.0,777.5 817.0,776.9 820.0,776.1 823.0,775.4 826.0,774.6 829.0,773.8 832.0,772.9 835.0,772.1 838.0,771.1 841.0,770.2 844.0,769.2 847.0,768.2 850.0,767.1 853.0,766.1 856.0,764.9 859.0,763.8 862.0,762.6 865.0,761.4 868.0,760.1 871.0,758.9 874.0,757.6 877.0,756.2 880.0,754.8 883.0,753.4 886.0,752.0 889.0,750.6 892.0,749.1 895.0,747.6 898.0,746.1 901.0,744.6 904.0,743.0 907.0,741.5 910.0,739.9 913.0,738.3 916.0,736.7 919.0,735.1 922.0,733.5 925.0,731.9 928.0,730.3 931.0,728.7 934.0,727.1 937.0,725.6 940.0,724.0 943.0,722.5 946.0,720.9 949.0,719.4 952.0,718.0 955.0,716.5 958.0,715.1 961.0,713.7 964.0,712.4 967.0,711.1 970.0,709.8 973.0,708.6 976.0,707.5 979.0,706.4 982.0,705.3 985.0,704.3 988.0,703.4 991.0,702.5 994.0,701.7 997.0,701.0 1000.0,700.3 1003.0,699.7 1006.0,699.2 1009.0,698.7 1012.0,698.3 1015.0,698.0 1018.0,697.8 1021.0,697.6 1024.0,697.5 1027.0,697.5 1030.0,697.6 1033.0,697.7 1036.0,697.9 1039.0,698.2 1042.0,698.6 1045.0,699.0 1048.0,699.5 1051.0,700.1 1054.0,700.8 1057.0,701.5 1060.0,702.3 1063.0,703.1 1066.0,704.0 1069.0,705.0 1072.0,706.0 1075.0,707.1 1078.0,708.3 1081.0,709.4 1084.0,710.7 1087.0,712.0 1090.0,713.3 1093.0,714.6 1096.0,716.0 1099.0,717.5 1102.0,718.9 1105.0,720.4 1108.0,721.9 1111.0,723.5 1114.0,725.0 1117.0,726.6 1120.0,728.2 1123.0,729.8 1126.0,731.4 1129.0,733.0 1132.0,734.6 1135.0,736.2 1138.0,737.8 1141.0,739.4 1144.0,740.9 1147.0,742.5 1150.0,744.1 1153.0,745.6 1156.0,747.1 1159.0,748.6 1162.0,750.1 1165.0,751.5 1168.0,753.0 1171.0,754.4 1174.0,755.8 1177.0,757.1 1180.0,758.4 1183.0,759.7 1186.0,761.0 1189.0,762.2 1192.0,763.4 1195.0,764.6 1198.0,765.7 1201.0,766.8 1204.0,767.8 1207.0,768.9 1210.0,769.9 1213.0,770.8 1216.0,771.8 1219.0,772.6 1222.0,773.5 1225.0,774.3 1228.0,775.1 1231.0,775.9 1234.0,776.6 1237.0,777.3 1240.0,778.0 1243.0,778.6 1246.0,779.2 1249.0,779.8 1252.0,780.4 1255.0,780.9 1258.0,781.4 1261.0,781.9 1264.0,782.3 1267.0,782.8 1270.0,783.2 1273.0,783.5 1276.0,783.9 1279.0,784.3 1282.0,784.6 1285.0,784.9 1288.0,785.2 1291.0,785.4 1294.0,785.7 1297.0,785.9 1300.0,786.2 1303.0,786.4 1306.0,786.6 1309.0,786.7 1312.0,786.9 1315.0,787.1 1318.0,787.2 1321.0,787.4 1324.0,787.5 1327.0,787.6 1330.0,787.7 1333.0,787.8 1336.0,787.9 1339.0,788.0 1342.0,788.1 1345.0,788.2 1348.0,788.2 1351.0,788.3 1354.0,788.4 1357.0,788.4 1360.0,788.5 1363.0,788.5 1366.0,788.6 1369.0,788.6 1372.0,788.6 1375.0,788.7 1378.0,788.7 1381.0,788.7 1384.0,788.8 1387.0,788.8 1390.0,788.8 1393.0,788.8 1396.0,788.8 1399.0,788.9 1402.0,788.9 1405.0,788.9 1408.0,788.9 1411.0,788.9 1414.0,788.9 1417.0,788.9 1420.0,788.9 1423.0,788.9 1426.0,788.9 1429.0,788.9 1432.0,789.0 1435.0,789.0 1438.0,789.0 1441.0,789.0 1444.0,789.0 1447.0,789.0 1450.0,789.0 1453.0,789.0 1456.0,789.0 1459.0,789.0 1462.0,789.0 1465.0,789.0 1468.0,789.0 1471.0,789.0 1474.0,789.0 1477.0,789.0 1480.0,789.0 1483.0,789.0 1486.0,789.0 1489.0,789.0 1492.0,789.0 1495.0,789.0 1498.0,789.0 1501.0,789.0 1504.0,789.0 1507.0,789.0 1510.0,789.0 1513.0,789.0 1516.0,789.0 1519.0,789.0 1522.0,789.0 1525.0,789.0 1528.0,789.0 1531.0,789.0 1534.0,789.0 1537.0,789.0 1540.0,789.0 1543.0,789.0 1546.0,789.0 1549.0,789.0 1552.0,789.0 1555.0,789.0 1558.0,789.0 1561.0,789.0 1564.0,789.0 1567.0,789.0 1570.0,789.0 1573.0,789.0 1576.0,789.0 1579.0,789.0 1582.0,789.0 1585.0,789.0 1588.0,789.0 1591.0,789.0 1594.0,789.0 1597.0,789.0 1600.0,789.0 1603.0,789.0 1606.0,789.0 1609.0,789.0 1612.0,789.0 1615.0,789.0 1618.0,789.0 1621.0,789.0 1624.0,789.0 1627.0,789.0 1630.0,789.0 1633.0,789.0 1636.0,789.0 1639.0,789.0 1642.0,789.0 1645.0,789.0 1648.0,789.0 1651.0,789.0 1654.0,789.0 1657.0,789.0 1660.0,789.0 1663.0,789.0 1666.0,789.0 1669.0,789.0 1672.0,789.0 1675.0,789.0 1678.0,789.0 1681.0,789.0 1684.0,789.0 1687.0,789.0 1690.0,789.0 1693.0,789.0 1696.0,789.0 1699.0,789.0 1702.0,789.0 1705.0,789.0 1708.0,789.0 1711.0,789.0 1714.0,789.0 1717.0,789.0 1720.0,789.0 1723.0,789.0 1726.0,789.0 1729.0,789.0 1732.0,789.0 1735.0,789.0 1738.0,789.0 1741.0,789.0 1744.0,789.0 1747.0,789.0 1750.0,789.0 1753.0,789.0 1756.0,789.0 1759.0,789.0 1762.0,789.0 1765.0,789.0 1768.0,789.0 1771.0,789.0 1774.0,789.0 1777.0,789.0 1780.0,789.0 1783.0,789.0 1786.0,789.0 1789.0,789.0 1792.0,789.0 1795.0,789.0 1798.0,789.0 1801.0,789.0 1804.0,789.0 1807.0,789.0 1810.0,789.0 1813.0,789.0 1816.0,789.0 1819.0,789.0 1822.0,789.0 1825.0,789.0 1828.0,789.0 1831.0,789.0 1834.0,789.0 1837.0,789.0 1840.0,789.0 1843.0,789.0 1846.0,789.0 1849.0,789.0 1852.0,789.0 1855.0,789.0 1858.0,789.0 1861.0,789.0 1864.0,789.0 1867.0,789.0 1870.0,789.0 1873.0,789.0 1876.0,789.0 1879.0,789.0 1882.0,789.0 1885.0,789.0 1888.0,789.0 1891.0,789.0 1894.0,789.0 1897.0,789.0 1900.0,789.0 1903.0,789.0 1906.0,789.0 1909.0,789.0 1912.0,789.0 1915.0,789.0 1918.0,789.0 1921.0,789.0 1924.0,789.0 1927.0,789.0 1930.0,789.0 1933.0,789.0 1936.0,789.0 1939.0,789.0 1942.0,789.0 1945.0,789.0 1948.0,789.0 1951.0,789.0 1954.0,789.0 1957.0,789.0 1960.0,789.0 1963.0,789.0 1966.0,789.0 1969.0,789.0 1972.0,789.0 1975.0,789.0 1978.0,789.0 1981.0,789.0 1984.0,789.0 1987.0,789.0 1990.0,789.0 1993.0,789.0 1996.0,789.0 1999.0,789.0 2002.0,789.0 2005.0,789.0 2008.0,789.0 2011.0,789.0 2014.0,789.0 2017.0,789.0 2017.0,789.0 190.0,789.0" fill="#808000" fill-opacity="0.60" stroke="none"/>
<polyline points="190.0,795.5 193.0,795.5 196.0,795.5 199.0,795.5 202.0,795.5 205.0,795.5 208.0,795.5 211.0,795.5 214.0,795.5 217.0,795.5 220.0,795.5 223.0,795.5 226.0,795.5 229.0,795.5 232.0,795.5 235.0,795.5 238.0,795.5 241.0,795.5 244.0,795.5 247.0,795.5 250.0,795.5 253.0,795.5 256.0,795.5 259.0,795.5 262.0,795.5 265.0,795.5 268.0,795.5 271.0,795.5 274.0,795.5 277.0,795.5 280.0,795.5 283.0,795.5 286.0,795.5 289.0,795.5 292.0,795.5 295.0,795.5 298.0,795.5 301.0,795.5 304.0,795.5 307.0,795.5 310.0,795.5 313.0,795.5 316.0,795.5 319.0,795.5 322.0,795.5 325.0,795.5 328.0,795.5 331.0,795.5 334.0,795.5 337.0,795.5 340.0,795.5 343.0,795.5 346.0,795.5 349.0,795.5 352.0,795.5 355.0,795.5 358.0,795.5 361.0,795.5 364.0,795.5 367.0,795.5 370.0,795.5 373.0,795.5 376.0,795.5 379.0,795.5 382.0,795.5 385.0,795.5 388.0,795.5 391.0,795.5 394.0,795.5 397.0,795.5 400.0,795.5 403.0,795.5 406.0,795.5 409.0,795.5 412.0,795.5 415.0,795.5 418.0,795.5 421.0,795.5 424.0,795.5 427.0,795.5 430.0,795.5 433.0,795.5 436.0,795.5 439.0,795.5 442.0,795.5 445.0,795.5 448.0,795.5 451.0,795.5 454.0,795.5 457.0,795.5 460.0,795.5 463.0,795.5 466.0,795.5 469.0,795.5 472.0,795.5 475.0,795.5 478.0,795.5 481.0,795.5 484.0,795.5 487.0,795.5 490.0,795.5 493.0,795.5 496.0,795.5 499.0,795.5 502.0,795.5 505.0,795.5 508.0,795.5 511.0,795.5 514.0,795.5 517.0,795.5 520.0,795.5 523.0,795.5 526.0,795.5 529.0,795.5 532.0,795.5 535.0,795.5 538.0,795.5 541.0,795.5 544.0,795.5 547.0,795.5 550.0,795.5 553.0,795.5 556.0,795.5 559.0,795.5 562.0,795.5 565.0,795.5 568.0,795.5 571.0,795.5 574.0,795.5 577.0,795.5 580.0,795.5 583.0,795.5 586.0,795.5 589.0,795.5 592.0,795.5 595.0,795.5 598.0,795.5 601.0,795.5 604.0,795.5 607.0,795.5 610.0,795.5 613.0,795.5 616.0,795.5 619.0,795.5 622.0,795.5 625.0,795.4 628.0,795.4 631.0,795.4 634.0,795.4 637.0,795.4 640.0,795.4 643.0,795.4 646.0,795.4 649.0,795.4 652.0,795.4 655.0,795.3 658.0,795.3 661.0,795.3 664.0,795.3 667.0,795.3 670.0,795.2 673.0,795.2 676.0,795.2 679.0,795.2 682.0,795.1 685.0,795.1 688.0,795.0 691.0,795.0 694.0,794.9 697.0,794.9 700.0,794.8 703.0,794.8 706.0,794.7 709.0,794.6 712.0,794.5 715.0,794.5 718.0,794.4 721.0,794.3 724.0,794.1 727.0,794.0 730.0,793.9 733.0,793.8 736.0,793.6 739.0,793.5 742.0,793.3 745.0,793.1 748.0,792.9 751.0,792.7 754.0,792.5 757.0,792.3 760.0,792.0 763.0,791.8 766.0,791.5 769.0,791.2 772.0,790.9 775.0,790.5 778.0,790.2 781.0,789.8 784.0,789.4 787.0,789.0 790.0,788.5 793.0,788.1 796.0,787.6 799.0,787.0 802.0,786.5 805.0,785.9 808.0,785.3 811.0,784.7 814.0,784.0 817.0,783.4 820.0,782.6 823.0,781.9 826.0,781.1 829.0,780.3 832.0,779.4 835.0,778.6 838.0,777.6 841.0,776.7 844.0,775.7 847.0,774.7 850.0,773.6 853.0,772.6 856.0,771.4 859.0,770.3 862.0,769.1 865.0,767.9 868.0,766.6 871.0,765.4 874.0,764.1 877.0,762.7 880.0,761.3 883.0,759.9 886.0,758.5 889.0,757.1 892.0,755.6 895.0,754.1 898.0,752.6 901.0,751.1 904.0,749.5 907.0,748.0 910.0,746.4 913.0,744.8 916.0,743.2 919.0,741.6 922.0,740.0 925.0,738.4 928.0,736.8 931.0,735.2 934.0,733.6 937.0,732.1 940.0,730.5 943.0,729.0 946.0,727.4 949.0,725.9 952.0,724.5 955.0,723.0 958.0,721.6 961.0,720.2 964.0,718.9 967.0,717.6 970.0,716.3 973.0,715.1 976.0,714.0 979.0,712.9 982.0,711.8 985.0,710.8 988.0,709.9 991.0,709.0 994.0,708.2 997.0,707.5 1000.0,706.8 1003.0,706.2 1006.0,705.7 1009.0,705.2 1012.0,704.8 1015.0,704.5 1018.0,704.3 1021.0,704.1 1024.0,704.0 1027.0,704.0 1030.0,704.1 1033.0,704.2 1036.0,704.4 1039.0,704.7 1042.0,705.1 1045.0,705.5 1048.0,706.0 1051.0,706.6 1054.0,707.3 1057.0,708.0 1060.0,708.8 1063.0,709.6 1066.0,710.5 1069.0,711.5 1072.0,712.5 1075.0,713.6 1078.0,714.8 1081.0,715.9 1084.0,717.2 1087.0,718.5 1090.0,719.8 1093.0,721.1 1096.0,722.5 1099.0,724.0 1102.0,725.4 1105.0,726.9 1108.0,728.4 1111.0,730.0 1114.0,731.5 1117.0,733.1 1120.0,734.7 1123.0,736.3 1126.0,737.9 1129.0,739.5 1132.0,741.1 1135.0,742.7 1138.0,744.3 1141.0,745.9 1144.0,747.4 1147.0,749.0 1150.0,750.6 1153.0,752.1 1156.0,753.6 1159.0,755.1 1162.0,756.6 1165.0,758.0 1168.0,759.5 1171.0,760.9 1174.0,762.3 1177.0,763.6 1180.0,764.9 1183.0,766.2 1186.0,767.5 1189.0,768.7 1192.0,769.9 1195.0,771.1 1198.0,772.2 1201.0,773.3 1204.0,774.3 1207.0,775.4 1210.0,776.4 1213.0,777.3 1216.0,778.3 1219.0,779.1 1222.0,780.0 1225.0,780.8 1228.0,781.6 1231.0,782.4 1234.0,783.1 1237.0,783.8 1240.0,784.5 1243.0,785.1 1246.0,785.7 1249.0,786.3 1252.0,786.9 1255.0,787.4 1258.0,787.9 1261.0,788.4 1264.0,788.8 1267.0,789.3 1270.0,789.7 1273.0,790.0 1276.0,790.4 1279.0,790.8 1282.0,791.1 1285.0,791.4 1288.0,791.7 1291.0,791.9 1294.0,792.2 1297.0,792.4 1300.0,792.7 1303.0,792.9 1306.0,793.1 1309.0,793.2 1312.0,793.4 1315.0,793.6 1318.0,793.7 1321.0,793.9 1324.0,794.0 1327.0,794.1 1330.0,794.2 1333.0,794.3 1336.0,794.4 1339.0,794.5 1342.0,794.6 1345.0,794.7 1348.0,794.7 1351.0,794.8 1354.0,794.9 1357.0,794.9 1360.0,795.0 1363.0,795.0 1366.0,795.1 1369.0,795.1 1372.0,795.1 1375.0,795.2 1378.0,795.2 1381.0,795.2 1384.0,795.3 1387.0,795.3 1390.0,795.3 1393.0,795.3 1396.0,795.3 1399.0,795.4 1402.0,795.4 1405.0,795.4 1408.0,795.4 1411.0,795.4 1414.0,795.4 1417.0,795.4 1420.0,795.4 1423.0,795.4 1426.0,795.4 1429.0,795.4 1432.0,795.5 1435.0,795.5 1438.0,795.5 1441.0,795.5 1444.0,795.5 1447.0,795.5 1450.0,795.5 1453.0,795.5 1456.0,795.5 1459.0,795.5 1462.0,795.5 1465.0,795.5 1468.0,795.5 1471.0,795.5 1474.0,795.5 1477.0,795.5 1480.0,795.5 1483.0,795.5 1486.0,795.5 1489.0,795.5 1492.0,795.5 1495.0,795.5 1498.0,795.5 1501.0,795.5 1504.0,795.5 1507.0,795.5 1510.0,795.5 1513.0,795.5 1516.0,795.5 1519.0,795.5 1522.0,795.5 1525.0,795.5 1528.0,795.5 1531.0,795.5 1534.0,795.5 1537.0,795.5 1540.0,795.5 1543.0,795.5 1546.0,795.5 1549.0,795.5 1552.0,795.5 1555.0,795.5 1558.0,795.5 1561.0,795.5 1564.0,795.5 1567.0,795.5 1570.0,795.5 1573.0,795.5 1576.0,795.5 1579.0,795.5 1582.0,795.5 1585.0,795.5 1588.0,795.5 1591.0,795.5 1594.0,795.5 1597.0,795.5 1600.0,795.5 1603.0,795.5 1606.0,795.5 1609.0,795.5 1612.0,795.5 1615.0,795.5 1618.0,795.5 1621.0,795.5 1624.0,795.5 1627.0,795.5 1630.0,795.5 1633.0,795.5 1636.0,795.5 1639.0,795.5 1642.0,795.5 1645.0,795.5 1648.0,795.5 1651.0,795.5 1654.0,795.5 1657.0,795.5 1660.0,795.5 1663.0,795.5 1666.0,795.5 1669.0,795.5 1672.0,795.5 1675.0,795.5 1678.0,795.5 1681.0,795.5 1684.0,795.5 1687.0,795.5 1690.0,795.5 1693.0,795.5 1696.0,795.5 1699.0,795.5 1702.0,795.5 1705.0,795.5 1708.0,795.5 1711.0,795.5 1714.0,795.5 1717.0,795.5 1720.0,795.5 1723.0,795.5 1726.0,795.5 1729.0,795.5 1732.0,795.5 1735.0,795.5 1738.0,795.5 1741.0,795.5 1744.0,795.5 1747.0,795.5 1750.0,795.5 1753.0,795.5 1756.0,795.5 1759.0,795.5 1762.0,795.5 1765.0,795.5 1768.0,795.5 1771.0,795.5 1774.0,795.5 1777.0,795.5 1780.0,795.5 1783.0,795.5 1786.0,795.5 1789.0,795.5 1792.0,795.5 1795.0,795.5 1798.0,795.5 1801.0,795.5 1804.0,795.5 1807.0,795.5 1810.0,795.5 1813.0,795.5 1816.0,795.5 1819.0,795.5 1822.0,795.5 1825.0,795.5 1828.0,795.5 1831.0,795.5 1834.0,795.5 1837.0,795.5 1840.0,795.5 1843.0,795.5 1846.0,795.5 1849.0,795.5 1852.0,795.5 1855.0,795.5 1858.0,795.5 1861.0,795.5 1864.0,795.5 1867.0,795.5 1870.0,795.5 1873.0,795.5 1876.0,795.5 1879.0,795.5 1882.0,795.5 1885.0,795.5 1888.0,795.5 1891.0,795.5 1894.0,795.5 1897.0,795.5 1900.0,795.5 1903.0,795.5 1906.0,795.5 1909.0,795.5 1912.0,795.5 1915.0,795.5 1918.0,795.5 1921.0,795.5 1924.0,795.5 1927.0,795.5 1930.0,795.5 1933.0,795.5 1936.0,795.5 1939.0,795.5 1942.0,795.5 1945.0,795.5 1948.0,795.5 1951.0,795.5 1954.0,795.5 1957.0,795.5 1960.0,795.5 1963.0,795.5 1966.0,795.5 1969.0,795.5 1972.0,795.5 1975.0,795.5 1978.0,795.5 1981.0,795.5 1984.0,795.5 1987.0,795.5 1990.0,795.5 1993.0,795.5 1996.0,795.5 1999.0,795.5 2002.0,795.5 2005.0,795.5 2008.0,795.5 2011.0,795.5 2014.0,795.5 2017.0,795.5" fill="none" stroke="#808000" stroke-opacity="0.80" stroke-width="5" stroke-dasharray="36 34" stroke-dashoffset="0"/>
<line x1="190.0" y1="792.0" x2="2015.0" y2="792.0" stroke="#808000" stroke-opacity="0.80" stroke-width="6" stroke-dasharray="36 34" stroke-dashoffset="31"/>
<polygon points="190.0,788.2 193.0,788.1 196.0,788.1 199.0,788.1 202.0,788.1 205.0,788.0 208.0,788.0 211.0,788.0 214.0,788.0 217.0,787.9 220.0,787.9 223.0,787.9 226.0,787.8 229.0,787.8 232.0,787.8 235.0,787.7 238.0,787.7 241.0,787.7 244.0,787.6 247.0,787.6 250.0,787.6 253.0,787.5 256.0,787.5 259.0,787.5 262.0,787.4 265.0,787.4 268.0,787.3 271.0,787.3 274.0,787.3 277.0,787.2 280.0,787.2 283.0,787.1 286.0,787.1 289.0,787.0 292.0,787.0 295.0,786.9 298.0,786.9 301.0,786.8 304.0,786.8 307.0,786.7 310.0,786.7 313.0,786.6 316.0,786.5 319.0,786.5 322.0,786.4 325.0,786.4 328.0,786.3 331.0,786.2 334.0,786.2 337.0,786.1 340.0,786.0 343.0,786.0 346.0,785.9 349.0,785.8 352.0,785.7 355.0,785.7 358.0,785.6 361.0,785.5 364.0,785.4 367.0,785.4 370.0,785.3 373.0,785.2 376.0,785.1 379.0,785.0 382.0,784.9 385.0,784.8 388.0,784.8 391.0,784.7 394.0,784.6 397.0,784.5 400.0,784.4 403.0,784.3 406.0,784.2 409.0,784.1 412.0,784.0 415.0,783.9 418.0,783.7 421.0,783.6 424.0,783.5 427.0,783.4 430.0,783.3 433.0,783.2 436.0,783.0 439.0,782.9 442.0,782.8 445.0,782.7 448.0,782.6 451.0,782.4 454.0,782.3 457.0,782.2 460.0,782.0 463.0,781.9 466.0,781.7 469.0,781.6 472.0,781.5 475.0,781.3 478.0,781.2 481.0,781.0 484.0,780.9 487.0,780.7 490.0,780.5 493.0,780.4 496.0,780.2 499.0,780.1 502.0,779.9 505.0,779.7 508.0,779.5 511.0,779.4 514.0,779.2 517.0,779.0 520.0,778.8 523.0,778.7 526.0,778.5 529.0,778.3 532.0,778.1 535.0,777.9 538.0,777.7 541.0,777.5 544.0,777.3 547.0,777.1 550.0,776.9 553.0,776.7 556.0,776.5 559.0,776.3 562.0,776.1 565.0,775.8 568.0,775.6 571.0,775.4 574.0,775.2 577.0,775.0 580.0,774.7 583.0,774.5 586.0,774.3 589.0,774.0 592.0,773.8 595.0,773.6 598.0,773.3 601.0,773.1 604.0,772.8 607.0,772.6 610.0,772.3 613.0,772.1 616.0,771.8 619.0,771.5 622.0,771.3 625.0,771.0 628.0,770.7 631.0,770.5 634.0,770.2 637.0,769.9 640.0,769.6 643.0,769.4 646.0,769.1 649.0,768.8 652.0,768.5 655.0,768.2 658.0,767.9 661.0,767.6 664.0,767.4 667.0,767.1 670.0,766.8 673.0,766.5 676.0,766.2 679.0,765.8 682.0,765.5 685.0,765.2 688.0,764.9 691.0,764.6 694.0,764.3 697.0,764.0 700.0,763.7 703.0,763.3 706.0,763.0 709.0,762.7 712.0,762.4 715.0,762.0 718.0,761.7 721.0,761.4 724.0,761.1 727.0,760.7 730.0,760.4 733.0,760.0 736.0,759.7 739.0,759.4 742.0,759.0 745.0,758.7 748.0,758.3 751.0,758.0 754.0,757.7 757.0,757.3 760.0,757.0 763.0,756.6 766.0,756.3 769.0,755.9 772.0,755.6 775.0,755.2 778.0,754.9 781.0,754.5 784.0,754.2 787.0,753.8 790.0,753.5 793.0,753.1 796.0,752.7 799.0,752.4 802.0,752.0 805.0,751.7 808.0,751.3 811.0,751.0 814.0,750.6 817.0,750.3 820.0,749.9 823.0,749.6 826.0,749.2 829.0,748.8 832.0,748.5 835.0,748.1 838.0,747.8 841.0,747.4 844.0,747.1 847.0,746.7 850.0,746.4 853.0,746.0 856.0,745.7 859.0,745.3 862.0,745.0 865.0,744.6 868.0,744.3 871.0,744.0 874.0,743.6 877.0,743.3 880.0,742.9 883.0,742.6 886.0,742.3 889.0,741.9 892.0,741.6 895.0,741.3 898.0,740.9 901.0,740.6 904.0,740.3 907.0,740.0 910.0,739.7 913.0,739.3 916.0,739.0 919.0,738.7 922.0,738.4 925.0,738.1 928.0,737.8 931.0,737.5 934.0,737.2 937.0,736.9 940.0,736.6 943.0,736.3 946.0,736.0 949.0,735.7 952.0,735.5 955.0,735.2 958.0,734.9 961.0,734.6 964.0,734.4 967.0,734.1 970.0,733.8 973.0,733.6 976.0,733.3 979.0,733.1 982.0,732.8 985.0,732.6 988.0,732.4 991.0,732.1 994.0,731.9 997.0,731.7 1000.0,731.5 1003.0,731.2 1006.0,731.0 1009.0,730.8 1012.0,730.6 1015.0,730.4 1018.0,730.2 1021.0,730.0 1024.0,729.8 1027.0,729.7 1030.0,729.5 1033.0,729.3 1036.0,729.1 1039.0,729.0 1042.0,728.8 1045.0,728.7 1048.0,728.5 1051.0,728.4 1054.0,728.2 1057.0,728.1 1060.0,728.0 1063.0,727.9 1066.0,727.7 1069.0,727.6 1072.0,727.5 1075.0,727.4 1078.0,727.3 1081.0,727.2 1084.0,727.1 1087.0,727.1 1090.0,727.0 1093.0,726.9 1096.0,726.9 1099.0,726.8 1102.0,726.7 1105.0,726.7 1108.0,726.6 1111.0,726.6 1114.0,726.6 1117.0,726.6 1120.0,726.5 1123.0,726.5 1126.0,726.5 1129.0,726.5 1132.0,726.5 1135.0,726.5 1138.0,726.5 1141.0,726.5 1144.0,726.6 1147.0,726.6 1150.0,726.6 1153.0,726.7 1156.0,726.7 1159.0,726.8 1162.0,726.8 1165.0,726.9 1168.0,726.9 1171.0,727.0 1174.0,727.1 1177.0,727.2 1180.0,727.3 1183.0,727.4 1186.0,727.4 1189.0,727.6 1192.0,727.7 1195.0,727.8 1198.0,727.9 1201.0,728.0 1204.0,728.1 1207.0,728.3 1210.0,728.4 1213.0,728.6 1216.0,728.7 1219.0,728.9 1222.0,729.0 1225.0,729.2 1228.0,729.4 1231.0,729.5 1234.0,729.7 1237.0,729.9 1240.0,730.1 1243.0,730.3 1246.0,730.5 1249.0,730.7 1252.0,730.9 1255.0,731.1 1258.0,731.3 1261.0,731.5 1264.0,731.7 1267.0,732.0 1270.0,732.2 1273.0,732.4 1276.0,732.7 1279.0,732.9 1282.0,733.2 1285.0,733.4 1288.0,733.7 1291.0,733.9 1294.0,734.2 1297.0,734.5 1300.0,734.7 1303.0,735.0 1306.0,735.3 1309.0,735.6 1312.0,735.8 1315.0,736.1 1318.0,736.4 1321.0,736.7 1324.0,737.0 1327.0,737.3 1330.0,737.6 1333.0,737.9 1336.0,738.2 1339.0,738.5 1342.0,738.8 1345.0,739.1 1348.0,739.4 1351.0,739.8 1354.0,740.1 1357.0,740.4 1360.0,740.7 1363.0,741.1 1366.0,741.4 1369.0,741.7 1372.0,742.0 1375.0,742.4 1378.0,742.7 1381.0,743.1 1384.0,743.4 1387.0,743.7 1390.0,744.1 1393.0,744.4 1396.0,744.8 1399.0,745.1 1402.0,745.4 1405.0,745.8 1408.0,746.1 1411.0,746.5 1414.0,746.8 1417.0,747.2 1420.0,747.5 1423.0,747.9 1426.0,748.3 1429.0,748.6 1432.0,749.0 1435.0,749.3 1438.0,749.7 1441.0,750.0 1444.0,750.4 1447.0,750.7 1450.0,751.1 1453.0,751.4 1456.0,751.8 1459.0,752.2 1462.0,752.5 1465.0,752.9 1468.0,753.2 1471.0,753.6 1474.0,753.9 1477.0,754.3 1480.0,754.6 1483.0,755.0 1486.0,755.3 1489.0,755.7 1492.0,756.0 1495.0,756.4 1498.0,756.7 1501.0,757.1 1504.0,757.4 1507.0,757.8 1510.0,758.1 1513.0,758.5 1516.0,758.8 1519.0,759.1 1522.0,759.5 1525.0,759.8 1528.0,760.2 1531.0,760.5 1534.0,760.8 1537.0,761.2 1540.0,761.5 1543.0,761.8 1546.0,762.2 1549.0,762.5 1552.0,762.8 1555.0,763.1 1558.0,763.4 1561.0,763.8 1564.0,764.1 1567.0,764.4 1570.0,764.7 1573.0,765.0 1576.0,765.3 1579.0,765.6 1582.0,766.0 1585.0,766.3 1588.0,766.6 1591.0,766.9 1594.0,767.2 1597.0,767.5 1600.0,767.7 1603.0,768.0 1606.0,768.3 1609.0,768.6 1612.0,768.9 1615.0,769.2 1618.0,769.5 1621.0,769.7 1624.0,770.0 1627.0,770.3 1630.0,770.6 1633.0,770.8 1636.0,771.1 1639.0,771.4 1642.0,771.6 1645.0,771.9 1648.0,772.1 1651.0,772.4 1654.0,772.6 1657.0,772.9 1660.0,773.1 1663.0,773.4 1666.0,773.6 1669.0,773.9 1672.0,774.1 1675.0,774.3 1678.0,774.6 1681.0,774.8 1684.0,775.0 1687.0,775.3 1690.0,775.5 1693.0,775.7 1696.0,775.9 1699.0,776.1 1702.0,776.4 1705.0,776.6 1708.0,776.8 1711.0,777.0 1714.0,777.2 1717.0,777.4 1720.0,777.6 1723.0,777.8 1726.0,778.0 1729.0,778.2 1732.0,778.3 1735.0,778.5 1738.0,778.7 1741.0,778.9 1744.0,779.1 1747.0,779.3 1750.0,779.4 1753.0,779.6 1756.0,779.8 1759.0,779.9 1762.0,780.1 1765.0,780.3 1768.0,780.4 1771.0,780.6 1774.0,780.8 1777.0,780.9 1780.0,781.1 1783.0,781.2 1786.0,781.4 1789.0,781.5 1792.0,781.6 1795.0,781.8 1798.0,781.9 1801.0,782.1 1804.0,782.2 1807.0,782.3 1810.0,782.5 1813.0,782.6 1816.0,782.7 1819.0,782.8 1822.0,783.0 1825.0,783.1 1828.0,783.2 1831.0,783.3 1834.0,783.4 1837.0,783.6 1840.0,783.7 1843.0,783.8 1846.0,783.9 1849.0,784.0 1852.0,784.1 1855.0,784.2 1858.0,784.3 1861.0,784.4 1864.0,784.5 1867.0,784.6 1870.0,784.7 1873.0,784.8 1876.0,784.9 1879.0,785.0 1882.0,785.0 1885.0,785.1 1888.0,785.2 1891.0,785.3 1894.0,785.4 1897.0,785.5 1900.0,785.5 1903.0,785.6 1906.0,785.7 1909.0,785.8 1912.0,785.8 1915.0,785.9 1918.0,786.0 1921.0,786.1 1924.0,786.1 1927.0,786.2 1930.0,786.3 1933.0,786.3 1936.0,786.4 1939.0,786.4 1942.0,786.5 1945.0,786.6 1948.0,786.6 1951.0,786.7 1954.0,786.7 1957.0,786.8 1960.0,786.8 1963.0,786.9 1966.0,786.9 1969.0,787.0 1972.0,787.0 1975.0,787.1 1978.0,787.1 1981.0,787.2 1984.0,787.2 1987.0,787.3 1990.0,787.3 1993.0,787.4 1996.0,787.4 1999.0,787.4 2002.0,787.5 2005.0,787.5 2008.0,787.6 2011.0,787.6 2014.0,787.6 2017.0,787.7 2017.0,789.0 190.0,789.0" fill="#ff00ff" fill-opacity="0.60" stroke="none"/>
<polyline points="190.0,794.7 193.0,794.6 196.0,794.6 199.0,794.6 202.0,794.6 205.0,794.5 208.0,794.5 211.0,794.5 214.0,794.5 217.0,794.4 220.0,794.4 223.0,794.4 226.0,794.3 229.0,794.3 232.0,794.3 235.0,794.2 238.0,794.2 241.0,794.2 244.0,794.1 247.0,794.1 250.0,794.1 253.0,794.0 256.0,794.0 259.0,794.0 262.0,793.9 265.0,793.9 268.0,793.8 271.0,793.8 274.0,793.8 277.0,793.7 280.0,793.7 283.0,793.6 286.0,793.6 289.0,793.5 292.0,793.5 295.0,793.4 298.0,793.4 301.0,793.3 304.0,793.3 307.0,793.2 310.0,793.2 313.0,793.1 316.0,793.0 319.0,793.0 322.0,792.9 325.0,792.9 328.0,792.8 331.0,792.7 334.0,792.7 337.0,792.6 340.0,792.5 343.0,792.5 346.0,792.4 349.0,792.3 352.0,792.2 355.0,792.2 358.0,792.1 361.0,792.0 364.0,791.9 367.0,791.9 370.0,791.8 373.0,791.7 376.0,791.6 379.0,791.5 382.0,791.4 385.0,791.3 388.0,791.3 391.0,791.2 394.0,791.1 397.0,791.0 400.0,790.9 403.0,790.8 406.0,790.7 409.0,790.6 412.0,790.5 415.0,790.4 418.0,790.2 421.0,790.1 424.0,790.0 427.0,789.9 430.0,789.8 433.0,789.7 436.0,789.5 439.0,789.4 442.0,789.3 445.0,789.2 448.0,789.1 451.0,788.9 454.0,788.8 457.0,788.7 460.0,788.5 463.0,788.4 466.0,788.2 469.0,788.1 472.0,788.0 475.0,787.8 478.0,787.7 481.0,787.5 484.0,787.4 487.0,787.2 490.0,787.0 493.0,786.9 496.0,786.7 499.0,786.6 502.0,786.4 505.0,786.2 508.0,786.0 511.0,785.9 514.0,785.7 517.0,785.5 520.0,785.3 523.0,785.2 526.0,785.0 529.0,784.8 532.0,784.6 535.0,784.4 538.0,784.2 541.0,784.0 544.0,783.8 547.0,783.6 550.0,783.4 553.0,783.2 556.0,783.0 559.0,782.8 562.0,782.6 565.0,782.3 568.0,782.1 571.0,781.9 574.0,781.7 577.0,781.5 580.0,781.2 583.0,781.0 586.0,780.8 589.0,780.5 592.0,780.3 595.0,780.1 598.0,779.8 601.0,779.6 604.0,779.3 607.0,779.1 610.0,778.8 613.0,778.6 616.0,778.3 619.0,778.0 622.0,777.8 625.0,777.5 628.0,777.2 631.0,777.0 634.0,776.7 637.0,776.4 640.0,776.1 643.0,775.9 646.0,775.6 649.0,775.3 652.0,775.0 655.0,774.7 658.0,774.4 661.0,774.1 664.0,773.9 667.0,773.6 670.0,773.3 673.0,773.0 676.0,772.7 679.0,772.3 682.0,772.0 685.0,771.7 688.0,771.4 691.0,771.1 694.0,770.8 697.0,770.5 700.0,770.2 703.0,769.8 706.0,769.5 709.0,769.2 712.0,768.9 715.0,768.5 718.0,768.2 721.0,767.9 724.0,767.6 727.0,767.2 730.0,766.9 733.0,766.5 736.0,766.2 739.0,765.9 742.0,765.5 745.0,765.2 748.0,764.8 751.0,764.5 754.0,764.2 757.0,763.8 760.0,763.5 763.0,763.1 766.0,762.8 769.0,762.4 772.0,762.1 775.0,761.7 778.0,761.4 781.0,761.0 784.0,760.7 787.0,760.3 790.0,760.0 793.0,759.6 796.0,759.2 799.0,758.9 802.0,758.5 805.0,758.2 808.0,757.8 811.0,757.5 814.0,757.1 817.0,756.8 820.0,756.4 823.0,756.1 826.0,755.7 829.0,755.3 832.0,755.0 835.0,754.6 838.0,754.3 841.0,753.9 844.0,753.6 847.0,753.2 850.0,752.9 853.0,752.5 856.0,752.2 859.0,751.8 862.0,751.5 865.0,751.1 868.0,750.8 871.0,750.5 874.0,750.1 877.0,749.8 880.0,749.4 883.0,749.1 886.0,748.8 889.0,748.4 892.0,748.1 895.0,747.8 898.0,747.4 901.0,747.1 904.0,746.8 907.0,746.5 910.0,746.2 913.0,745.8 916.0,745.5 919.0,745.2 922.0,744.9 925.0,744.6 928.0,744.3 931.0,744.0 934.0,743.7 937.0,743.4 940.0,743.1 943.0,742.8 946.0,742.5 949.0,742.2 952.0,742.0 955.0,741.7 958.0,741.4 961.0,741.1 964.0,740.9 967.0,740.6 970.0,740.3 973.0,740.1 976.0,739.8 979.0,739.6 982.0,739.3 985.0,739.1 988.0,738.9 991.0,738.6 994.0,738.4 997.0,738.2 1000.0,738.0 1003.0,737.7 1006.0,737.5 1009.0,737.3 1012.0,737.1 1015.0,736.9 1018.0,736.7 1021.0,736.5 1024.0,736.3 1027.0,736.2 1030.0,736.0 1033.0,735.8 1036.0,735.6 1039.0,735.5 1042.0,735.3 1045.0,735.2 1048.0,735.0 1051.0,734.9 1054.0,734.7 1057.0,734.6 1060.0,734.5 1063.0,734.4 1066.0,734.2 1069.0,734.1 1072.0,734.0 1075.0,733.9 1078.0,733.8 1081.0,733.7 1084.0,733.6 1087.0,733.6 1090.0,733.5 1093.0,733.4 1096.0,733.4 1099.0,733.3 1102.0,733.2 1105.0,733.2 1108.0,733.1 1111.0,733.1 1114.0,733.1 1117.0,733.1 1120.0,733.0 1123.0,733.0 1126.0,733.0 1129.0,733.0 1132.0,733.0 1135.0,733.0 1138.0,733.0 1141.0,733.0 1144.0,733.1 1147.0,733.1 1150.0,733.1 1153.0,733.2 1156.0,733.2 1159.0,733.3 1162.0,733.3 1165.0,733.4 1168.0,733.4 1171.0,733.5 1174.0,733.6 1177.0,733.7 1180.0,733.8 1183.0,733.9 1186.0,733.9 1189.0,734.1 1192.0,734.2 1195.0,734.3 1198.0,734.4 1201.0,734.5 1204.0,734.6 1207.0,734.8 1210.0,734.9 1213.0,735.1 1216.0,735.2 1219.0,735.4 1222.0,735.5 1225.0,735.7 1228.0,735.9 1231.0,736.0 1234.0,736.2 1237.0,736.4 1240.0,736.6 1243.0,736.8 1246.0,737.0 1249.0,737.2 1252.0,737.4 1255.0,737.6 1258.0,737.8 1261.0,738.0 1264.0,738.2 1267.0,738.5 1270.0,738.7 1273.0,738.9 1276.0,739.2 1279.0,739.4 1282.0,739.7 1285.0,739.9 1288.0,740.2 1291.0,740.4 1294.0,740.7 1297.0,741.0 1300.0,741.2 1303.0,741.5 1306.0,741.8 1309.0,742.1 1312.0,742.3 1315.0,742.6 1318.0,742.9 1321.0,743.2 1324.0,743.5 1327.0,743.8 1330.0,744.1 1333.0,744.4 1336.0,744.7 1339.0,745.0 1342.0,745.3 1345.0,745.6 1348.0,745.9 1351.0,746.3 1354.0,746.6 1357.0,746.9 1360.0,747.2 1363.0,747.6 1366.0,747.9 1369.0,748.2 1372.0,748.5 1375.0,748.9 1378.0,749.2 1381.0,749.6 1384.0,749.9 1387.0,750.2 1390.0,750.6 1393.0,750.9 1396.0,751.3 1399.0,751.6 1402.0,751.9 1405.0,752.3 1408.0,752.6 1411.0,753.0 1414.0,753.3 1417.0,753.7 1420.0,754.0 1423.0,754.4 1426.0,754.8 1429.0,755.1 1432.0,755.5 1435.0,755.8 1438.0,756.2 1441.0,756.5 1444.0,756.9 1447.0,757.2 1450.0,757.6 1453.0,757.9 1456.0,758.3 1459.0,758.7 1462.0,759.0 1465.0,759.4 1468.0,759.7 1471.0,760.1 1474.0,760.4 1477.0,760.8 1480.0,761.1 1483.0,761.5 1486.0,761.8 1489.0,762.2 1492.0,762.5 1495.0,762.9 1498.0,763.2 1501.0,763.6 1504.0,763.9 1507.0,764.3 1510.0,764.6 1513.0,765.0 1516.0,765.3 1519.0,765.6 1522.0,766.0 1525.0,766.3 1528.0,766.7 1531.0,767.0 1534.0,767.3 1537.0,767.7 1540.0,768.0 1543.0,768.3 1546.0,768.7 1549.0,769.0 1552.0,769.3 1555.0,769.6 1558.0,769.9 1561.0,770.3 1564.0,770.6 1567.0,770.9 1570.0,771.2 1573.0,771.5 1576.0,771.8 1579.0,772.1 1582.0,772.5 1585.0,772.8 1588.0,773.1 1591.0,773.4 1594.0,773.7 1597.0,774.0 1600.0,774.2 1603.0,774.5 1606.0,774.8 1609.0,775.1 1612.0,775.4 1615.0,775.7 1618.0,776.0 1621.0,776.2 1624.0,776.5 1627.0,776.8 1630.0,777.1 1633.0,777.3 1636.0,777.6 1639.0,777.9 1642.0,778.1 1645.0,778.4 1648.0,778.6 1651.0,778.9 1654.0,779.1 1657.0,779.4 1660.0,779.6 1663.0,779.9 1666.0,780.1 1669.0,780.4 1672.0,780.6 1675.0,780.8 1678.0,781.1 1681.0,781.3 1684.0,781.5 1687.0,781.8 1690.0,782.0 1693.0,782.2 1696.0,782.4 1699.0,782.6 1702.0,782.9 1705.0,783.1 1708.0,783.3 1711.0,783.5 1714.0,783.7 1717.0,783.9 1720.0,784.1 1723.0,784.3 1726.0,784.5 1729.0,784.7 1732.0,784.8 1735.0,785.0 1738.0,785.2 1741.0,785.4 1744.0,785.6 1747.0,785.8 1750.0,785.9 1753.0,786.1 1756.0,786.3 1759.0,786.4 1762.0,786.6 1765.0,786.8 1768.0,786.9 1771.0,787.1 1774.0,787.3 1777.0,787.4 1780.0,787.6 1783.0,787.7 1786.0,787.9 1789.0,788.0 1792.0,788.1 1795.0,788.3 1798.0,788.4 1801.0,788.6 1804.0,788.7 1807.0,788.8 1810.0,789.0 1813.0,789.1 1816.0,789.2 1819.0,789.3 1822.0,789.5 1825.0,789.6 1828.0,789.7 1831.0,789.8 1834.0,789.9 1837.0,790.1 1840.0,790.2 1843.0,790.3 1846.0,790.4 1849.0,790.5 1852.0,790.6 1855.0,790.7 1858.0,790.8 1861.0,790.9 1864.0,791.0 1867.0,791.1 1870.0,791.2 1873.0,791.3 1876.0,791.4 1879.0,791.5 1882.0,791.5 1885.0,791.6 1888.0,791.7 1891.0,791.8 1894.0,791.9 1897.0,792.0 1900.0,792.0 1903.0,792.1 1906.0,792.2 1909.0,792.3 1912.0,792.3 1915.0,792.4 1918.0,792.5 1921.0,792.6 1924.0,792.6 1927.0,792.7 1930.0,792.8 1933.0,792.8 1936.0,792.9 1939.0,792.9 1942.0,793.0 1945.0,793.1 1948.0,793.1 1951.0,793.2 1954.0,793.2 1957.0,793.3 1960.0,793.3 1963.0,793.4 1966.0,793.4 1969.0,793.5 1972.0,793.5 1975.0,793.6 1978.0,793.6 1981.0,793.7 1984.0,793.7 1987.0,793.8 1990.0,793.8 1993.0,793.9 1996.0,793.9 1999.0,793.9 2002.0,794.0 2005.0,794.0 2008.0,794.1 2011.0,794.1 2014.0,794.1 2017.0,794.2" fill="none" stroke="#ee00ee" stroke-opacity="0.85" stroke-width="5" stroke-dasharray="36 34" stroke-dashoffset="0"/>
<line x1="190.0" y1="792.0" x2="2015.0" y2="792.0" stroke="#ee00ee" stroke-opacity="0.85" stroke-width="6" stroke-dasharray="36 34" stroke-dashoffset="43"/>
<clipPath id="gc1_0"><rect x="190.0" y="408.0" width="286.0" height="391.5"/></clipPath>
<path d="M190.0,792.0 C195.3,792.0 210.3,792.7 222.0,792.0 C233.7,791.3 248.3,789.2 260.0,788.0 C271.7,786.8 281.3,787.7 292.0,785.0 C302.7,782.3 313.8,776.7 324.0,772.0 C334.2,767.3 344.7,765.8 353.0,757.0 C361.3,748.2 367.2,729.7 374.0,719.0 C380.8,708.3 389.2,704.2 394.0,693.0 C398.8,681.8 398.7,663.7 403.0,652.0 C407.3,640.3 416.7,634.2 420.0,623.0 C423.3,611.8 419.5,596.7 423.0,585.0 C426.5,573.3 437.5,564.2 441.0,553.0 C444.5,541.8 440.2,528.7 444.0,518.0 C447.8,507.3 456.8,499.3 464.0,489.0 C471.2,478.7 481.5,461.3 487.5,456.0 C493.5,450.7 495.6,455.9 500.0,457.0 C504.4,458.1 507.3,457.7 514.0,462.5 C520.7,467.3 530.3,478.2 540.0,486.0 C549.7,493.8 563.7,505.2 572.0,509.0 C580.3,512.8 584.2,509.5 590.0,509.0 C595.8,508.5 598.3,507.9 607.0,506.0 C615.7,504.1 633.5,498.8 642.0,497.5 C650.5,496.2 652.7,497.1 658.0,498.0 C663.3,498.9 666.0,500.2 674.0,503.0 C682.0,505.8 695.3,508.7 706.0,515.0 C716.7,521.3 728.3,533.2 738.0,541.0 C747.7,548.8 755.5,554.0 764.0,562.0 C772.5,570.0 780.2,580.8 789.0,589.0 C797.8,597.2 806.5,603.9 817.0,611.0 C827.5,618.1 840.6,626.7 851.7,631.7 C862.8,636.7 871.9,639.6 883.8,641.0 C895.7,642.4 911.1,640.8 923.0,640.0 C934.9,639.2 943.5,637.8 955.0,636.0 C966.5,634.2 979.8,630.7 991.7,629.5 C1003.7,628.3 1015.5,627.7 1026.7,629.0 C1037.9,630.3 1048.1,633.7 1058.8,637.5 C1069.5,641.3 1080.3,646.6 1091.0,652.0 C1101.7,657.4 1112.8,664.3 1123.0,669.6 C1133.2,674.9 1141.3,678.2 1152.0,684.0 C1162.7,689.8 1175.8,699.3 1187.0,704.6 C1198.2,709.9 1207.3,712.6 1219.0,716.0 C1230.7,719.4 1244.3,722.3 1257.0,725.0 C1269.7,727.7 1283.2,730.2 1295.0,732.0 C1306.8,733.8 1316.5,734.3 1327.7,736.0 C1338.9,737.7 1350.3,740.5 1362.0,742.0 C1373.7,743.5 1386.3,743.7 1398.0,745.0 C1409.7,746.3 1420.7,748.5 1432.0,750.0 C1443.3,751.5 1455.0,752.3 1466.0,754.0 C1477.0,755.7 1486.3,758.3 1498.0,760.0 C1509.7,761.7 1524.2,762.8 1536.0,764.0 C1547.8,765.2 1556.8,766.3 1568.5,767.5 C1580.2,768.7 1594.8,770.0 1606.5,771.0 C1618.2,772.0 1627.0,772.3 1638.7,773.5 C1650.4,774.7 1664.9,776.8 1676.6,778.0 C1688.3,779.2 1697.3,779.5 1709.0,780.5 C1720.7,781.5 1735.1,783.0 1746.8,784.0 C1758.5,785.0 1767.0,786.0 1779.0,786.5 C1791.0,787.0 1807.1,787.1 1818.8,787.3 C1830.5,787.5 1837.3,787.2 1849.0,787.5 C1860.7,787.8 1877.0,788.9 1889.0,789.2 C1901.0,789.5 1909.3,789.1 1921.0,789.5 C1932.7,789.9 1943.3,791.0 1959.0,791.5 C1974.7,792.0 2005.7,792.3 2015.0,792.5" clip-path="url(#gc1_0)" fill="none" stroke="#008000" stroke-width="8.5" stroke-dasharray="33.8 36.8" stroke-dashoffset="0.38"/>
<clipPath id="gc1_1"><rect x="476.0" y="408.0" width="246.0" height="391.5"/></clipPath>
<path d="M190.0,792.0 C195.3,792.0 210.3,792.7 222.0,792.0 C233.7,791.3 248.3,789.2 260.0,788.0 C271.7,786.8 281.3,787.7 292.0,785.0 C302.7,782.3 313.8,776.7 324.0,772.0 C334.2,767.3 344.7,765.8 353.0,757.0 C361.3,748.2 367.2,729.7 374.0,719.0 C380.8,708.3 389.2,704.2 394.0,693.0 C398.8,681.8 398.7,663.7 403.0,652.0 C407.3,640.3 416.7,634.2 420.0,623.0 C423.3,611.8 419.5,596.7 423.0,585.0 C426.5,573.3 437.5,564.2 441.0,553.0 C444.5,541.8 440.2,528.7 444.0,518.0 C447.8,507.3 456.8,499.3 464.0,489.0 C471.2,478.7 481.5,461.3 487.5,456.0 C493.5,450.7 495.6,455.9 500.0,457.0 C504.4,458.1 507.3,457.7 514.0,462.5 C520.7,467.3 530.3,478.2 540.0,486.0 C549.7,493.8 563.7,505.2 572.0,509.0 C580.3,512.8 584.2,509.5 590.0,509.0 C595.8,508.5 598.3,507.9 607.0,506.0 C615.7,504.1 633.5,498.8 642.0,497.5 C650.5,496.2 652.7,497.1 658.0,498.0 C663.3,498.9 666.0,500.2 674.0,503.0 C682.0,505.8 695.3,508.7 706.0,515.0 C716.7,521.3 728.3,533.2 738.0,541.0 C747.7,548.8 755.5,554.0 764.0,562.0 C772.5,570.0 780.2,580.8 789.0,589.0 C797.8,597.2 806.5,603.9 817.0,611.0 C827.5,618.1 840.6,626.7 851.7,631.7 C862.8,636.7 871.9,639.6 883.8,641.0 C895.7,642.4 911.1,640.8 923.0,640.0 C934.9,639.2 943.5,637.8 955.0,636.0 C966.5,634.2 979.8,630.7 991.7,629.5 C1003.7,628.3 1015.5,627.7 1026.7,629.0 C1037.9,630.3 1048.1,633.7 1058.8,637.5 C1069.5,641.3 1080.3,646.6 1091.0,652.0 C1101.7,657.4 1112.8,664.3 1123.0,669.6 C1133.2,674.9 1141.3,678.2 1152.0,684.0 C1162.7,689.8 1175.8,699.3 1187.0,704.6 C1198.2,709.9 1207.3,712.6 1219.0,716.0 C1230.7,719.4 1244.3,722.3 1257.0,725.0 C1269.7,727.7 1283.2,730.2 1295.0,732.0 C1306.8,733.8 1316.5,734.3 1327.7,736.0 C1338.9,737.7 1350.3,740.5 1362.0,742.0 C1373.7,743.5 1386.3,743.7 1398.0,745.0 C1409.7,746.3 1420.7,748.5 1432.0,750.0 C1443.3,751.5 1455.0,752.3 1466.0,754.0 C1477.0,755.7 1486.3,758.3 1498.0,760.0 C1509.7,761.7 1524.2,762.8 1536.0,764.0 C1547.8,765.2 1556.8,766.3 1568.5,767.5 C1580.2,768.7 1594.8,770.0 1606.5,771.0 C1618.2,772.0 1627.0,772.3 1638.7,773.5 C1650.4,774.7 1664.9,776.8 1676.6,778.0 C1688.3,779.2 1697.3,779.5 1709.0,780.5 C1720.7,781.5 1735.1,783.0 1746.8,784.0 C1758.5,785.0 1767.0,786.0 1779.0,786.5 C1791.0,787.0 1807.1,787.1 1818.8,787.3 C1830.5,787.5 1837.3,787.2 1849.0,787.5 C1860.7,787.8 1877.0,788.9 1889.0,789.2 C1901.0,789.5 1909.3,789.1 1921.0,789.5 C1932.7,789.9 1943.3,791.0 1959.0,791.5 C1974.7,792.0 2005.7,792.3 2015.0,792.5" clip-path="url(#gc1_1)" fill="none" stroke="#008000" stroke-width="8.5" stroke-dasharray="33.8 36.8" stroke-dashoffset="56.08"/>
<clipPath id="gc1_2"><rect x="722.0" y="408.0" width="516.0" height="391.5"/></clipPath>
<path d="M190.0,792.0 C195.3,792.0 210.3,792.7 222.0,792.0 C233.7,791.3 248.3,789.2 260.0,788.0 C271.7,786.8 281.3,787.7 292.0,785.0 C302.7,782.3 313.8,776.7 324.0,772.0 C334.2,767.3 344.7,765.8 353.0,757.0 C361.3,748.2 367.2,729.7 374.0,719.0 C380.8,708.3 389.2,704.2 394.0,693.0 C398.8,681.8 398.7,663.7 403.0,652.0 C407.3,640.3 416.7,634.2 420.0,623.0 C423.3,611.8 419.5,596.7 423.0,585.0 C426.5,573.3 437.5,564.2 441.0,553.0 C444.5,541.8 440.2,528.7 444.0,518.0 C447.8,507.3 456.8,499.3 464.0,489.0 C471.2,478.7 481.5,461.3 487.5,456.0 C493.5,450.7 495.6,455.9 500.0,457.0 C504.4,458.1 507.3,457.7 514.0,462.5 C520.7,467.3 530.3,478.2 540.0,486.0 C549.7,493.8 563.7,505.2 572.0,509.0 C580.3,512.8 584.2,509.5 590.0,509.0 C595.8,508.5 598.3,507.9 607.0,506.0 C615.7,504.1 633.5,498.8 642.0,497.5 C650.5,496.2 652.7,497.1 658.0,498.0 C663.3,498.9 666.0,500.2 674.0,503.0 C682.0,505.8 695.3,508.7 706.0,515.0 C716.7,521.3 728.3,533.2 738.0,541.0 C747.7,548.8 755.5,554.0 764.0,562.0 C772.5,570.0 780.2,580.8 789.0,589.0 C797.8,597.2 806.5,603.9 817.0,611.0 C827.5,618.1 840.6,626.7 851.7,631.7 C862.8,636.7 871.9,639.6 883.8,641.0 C895.7,642.4 911.1,640.8 923.0,640.0 C934.9,639.2 943.5,637.8 955.0,636.0 C966.5,634.2 979.8,630.7 991.7,629.5 C1003.7,628.3 1015.5,627.7 1026.7,629.0 C1037.9,630.3 1048.1,633.7 1058.8,637.5 C1069.5,641.3 1080.3,646.6 1091.0,652.0 C1101.7,657.4 1112.8,664.3 1123.0,669.6 C1133.2,674.9 1141.3,678.2 1152.0,684.0 C1162.7,689.8 1175.8,699.3 1187.0,704.6 C1198.2,709.9 1207.3,712.6 1219.0,716.0 C1230.7,719.4 1244.3,722.3 1257.0,725.0 C1269.7,727.7 1283.2,730.2 1295.0,732.0 C1306.8,733.8 1316.5,734.3 1327.7,736.0 C1338.9,737.7 1350.3,740.5 1362.0,742.0 C1373.7,743.5 1386.3,743.7 1398.0,745.0 C1409.7,746.3 1420.7,748.5 1432.0,750.0 C1443.3,751.5 1455.0,752.3 1466.0,754.0 C1477.0,755.7 1486.3,758.3 1498.0,760.0 C1509.7,761.7 1524.2,762.8 1536.0,764.0 C1547.8,765.2 1556.8,766.3 1568.5,767.5 C1580.2,768.7 1594.8,770.0 1606.5,771.0 C1618.2,772.0 1627.0,772.3 1638.7,773.5 C1650.4,774.7 1664.9,776.8 1676.6,778.0 C1688.3,779.2 1697.3,779.5 1709.0,780.5 C1720.7,781.5 1735.1,783.0 1746.8,784.0 C1758.5,785.0 1767.0,786.0 1779.0,786.5 C1791.0,787.0 1807.1,787.1 1818.8,787.3 C1830.5,787.5 1837.3,787.2 1849.0,787.5 C1860.7,787.8 1877.0,788.9 1889.0,789.2 C1901.0,789.5 1909.3,789.1 1921.0,789.5 C1932.7,789.9 1943.3,791.0 1959.0,791.5 C1974.7,792.0 2005.7,792.3 2015.0,792.5" clip-path="url(#gc1_2)" fill="none" stroke="#008000" stroke-width="8.5" stroke-dasharray="33.8 36.8" stroke-dashoffset="48.21"/>
<clipPath id="gc1_3"><rect x="1238.0" y="408.0" width="349.0" height="391.5"/></clipPath>
<path d="M190.0,792.0 C195.3,792.0 210.3,792.7 222.0,792.0 C233.7,791.3 248.3,789.2 260.0,788.0 C271.7,786.8 281.3,787.7 292.0,785.0 C302.7,782.3 313.8,776.7 324.0,772.0 C334.2,767.3 344.7,765.8 353.0,757.0 C361.3,748.2 367.2,729.7 374.0,719.0 C380.8,708.3 389.2,704.2 394.0,693.0 C398.8,681.8 398.7,663.7 403.0,652.0 C407.3,640.3 416.7,634.2 420.0,623.0 C423.3,611.8 419.5,596.7 423.0,585.0 C426.5,573.3 437.5,564.2 441.0,553.0 C444.5,541.8 440.2,528.7 444.0,518.0 C447.8,507.3 456.8,499.3 464.0,489.0 C471.2,478.7 481.5,461.3 487.5,456.0 C493.5,450.7 495.6,455.9 500.0,457.0 C504.4,458.1 507.3,457.7 514.0,462.5 C520.7,467.3 530.3,478.2 540.0,486.0 C549.7,493.8 563.7,505.2 572.0,509.0 C580.3,512.8 584.2,509.5 590.0,509.0 C595.8,508.5 598.3,507.9 607.0,506.0 C615.7,504.1 633.5,498.8 642.0,497.5 C650.5,496.2 652.7,497.1 658.0,498.0 C663.3,498.9 666.0,500.2 674.0,503.0 C682.0,505.8 695.3,508.7 706.0,515.0 C716.7,521.3 728.3,533.2 738.0,541.0 C747.7,548.8 755.5,554.0 764.0,562.0 C772.5,570.0 780.2,580.8 789.0,589.0 C797.8,597.2 806.5,603.9 817.0,611.0 C827.5,618.1 840.6,626.7 851.7,631.7 C862.8,636.7 871.9,639.6 883.8,641.0 C895.7,642.4 911.1,640.8 923.0,640.0 C934.9,639.2 943.5,637.8 955.0,636.0 C966.5,634.2 979.8,630.7 991.7,629.5 C1003.7,628.3 1015.5,627.7 1026.7,629.0 C1037.9,630.3 1048.1,633.7 1058.8,637.5 C1069.5,641.3 1080.3,646.6 1091.0,652.0 C1101.7,657.4 1112.8,664.3 1123.0,669.6 C1133.2,674.9 1141.3,678.2 1152.0,684.0 C1162.7,689.8 1175.8,699.3 1187.0,704.6 C1198.2,709.9 1207.3,712.6 1219.0,716.0 C1230.7,719.4 1244.3,722.3 1257.0,725.0 C1269.7,727.7 1283.2,730.2 1295.0,732.0 C1306.8,733.8 1316.5,734.3 1327.7,736.0 C1338.9,737.7 1350.3,740.5 1362.0,742.0 C1373.7,743.5 1386.3,743.7 1398.0,745.0 C1409.7,746.3 1420.7,748.5 1432.0,750.0 C1443.3,751.5 1455.0,752.3 1466.0,754.0 C1477.0,755.7 1486.3,758.3 1498.0,760.0 C1509.7,761.7 1524.2,762.8 1536.0,764.0 C1547.8,765.2 1556.8,766.3 1568.5,767.5 C1580.2,768.7 1594.8,770.0 1606.5,771.0 C1618.2,772.0 1627.0,772.3 1638.7,773.5 C1650.4,774.7 1664.9,776.8 1676.6,778.0 C1688.3,779.2 1697.3,779.5 1709.0,780.5 C1720.7,781.5 1735.1,783.0 1746.8,784.0 C1758.5,785.0 1767.0,786.0 1779.0,786.5 C1791.0,787.0 1807.1,787.1 1818.8,787.3 C1830.5,787.5 1837.3,787.2 1849.0,787.5 C1860.7,787.8 1877.0,788.9 1889.0,789.2 C1901.0,789.5 1909.3,789.1 1921.0,789.5 C1932.7,789.9 1943.3,791.0 1959.0,791.5 C1974.7,792.0 2005.7,792.3 2015.0,792.5" clip-path="url(#gc1_3)" fill="none" stroke="#008000" stroke-width="8.5" stroke-dasharray="33.8 36.8" stroke-dashoffset="44.32"/>
<clipPath id="gc1_4"><rect x="1587.0" y="408.0" width="429.0" height="391.5"/></clipPath>
<path d="M190.0,792.0 C195.3,792.0 210.3,792.7 222.0,792.0 C233.7,791.3 248.3,789.2 260.0,788.0 C271.7,786.8 281.3,787.7 292.0,785.0 C302.7,782.3 313.8,776.7 324.0,772.0 C334.2,767.3 344.7,765.8 353.0,757.0 C361.3,748.2 367.2,729.7 374.0,719.0 C380.8,708.3 389.2,704.2 394.0,693.0 C398.8,681.8 398.7,663.7 403.0,652.0 C407.3,640.3 416.7,634.2 420.0,623.0 C423.3,611.8 419.5,596.7 423.0,585.0 C426.5,573.3 437.5,564.2 441.0,553.0 C444.5,541.8 440.2,528.7 444.0,518.0 C447.8,507.3 456.8,499.3 464.0,489.0 C471.2,478.7 481.5,461.3 487.5,456.0 C493.5,450.7 495.6,455.9 500.0,457.0 C504.4,458.1 507.3,457.7 514.0,462.5 C520.7,467.3 530.3,478.2 540.0,486.0 C549.7,493.8 563.7,505.2 572.0,509.0 C580.3,512.8 584.2,509.5 590.0,509.0 C595.8,508.5 598.3,507.9 607.0,506.0 C615.7,504.1 633.5,498.8 642.0,497.5 C650.5,496.2 652.7,497.1 658.0,498.0 C663.3,498.9 666.0,500.2 674.0,503.0 C682.0,505.8 695.3,508.7 706.0,515.0 C716.7,521.3 728.3,533.2 738.0,541.0 C747.7,548.8 755.5,554.0 764.0,562.0 C772.5,570.0 780.2,580.8 789.0,589.0 C797.8,597.2 806.5,603.9 817.0,611.0 C827.5,618.1 840.6,626.7 851.7,631.7 C862.8,636.7 871.9,639.6 883.8,641.0 C895.7,642.4 911.1,640.8 923.0,640.0 C934.9,639.2 943.5,637.8 955.0,636.0 C966.5,634.2 979.8,630.7 991.7,629.5 C1003.7,628.3 1015.5,627.7 1026.7,629.0 C1037.9,630.3 1048.1,633.7 1058.8,637.5 C1069.5,641.3 1080.3,646.6 1091.0,652.0 C1101.7,657.4 1112.8,664.3 1123.0,669.6 C1133.2,674.9 1141.3,678.2 1152.0,684.0 C1162.7,689.8 1175.8,699.3 1187.0,704.6 C1198.2,709.9 1207.3,712.6 1219.0,716.0 C1230.7,719.4 1244.3,722.3 1257.0,725.0 C1269.7,727.7 1283.2,730.2 1295.0,732.0 C1306.8,733.8 1316.5,734.3 1327.7,736.0 C1338.9,737.7 1350.3,740.5 1362.0,742.0 C1373.7,743.5 1386.3,743.7 1398.0,745.0 C1409.7,746.3 1420.7,748.5 1432.0,750.0 C1443.3,751.5 1455.0,752.3 1466.0,754.0 C1477.0,755.7 1486.3,758.3 1498.0,760.0 C1509.7,761.7 1524.2,762.8 1536.0,764.0 C1547.8,765.2 1556.8,766.3 1568.5,767.5 C1580.2,768.7 1594.8,770.0 1606.5,771.0 C1618.2,772.0 1627.0,772.3 1638.7,773.5 C1650.4,774.7 1664.9,776.8 1676.6,778.0 C1688.3,779.2 1697.3,779.5 1709.0,780.5 C1720.7,781.5 1735.1,783.0 1746.8,784.0 C1758.5,785.0 1767.0,786.0 1779.0,786.5 C1791.0,787.0 1807.1,787.1 1818.8,787.3 C1830.5,787.5 1837.3,787.2 1849.0,787.5 C1860.7,787.8 1877.0,788.9 1889.0,789.2 C1901.0,789.5 1909.3,789.1 1921.0,789.5 C1932.7,789.9 1943.3,791.0 1959.0,791.5 C1974.7,792.0 2005.7,792.3 2015.0,792.5" clip-path="url(#gc1_4)" fill="none" stroke="#008000" stroke-width="8.5" stroke-dasharray="33.8 36.8" stroke-dashoffset="43.67"/>
</g>
<g clip-path="url(#clip2)">
<path d="M190.0,1183.0 C199.2,1182.5 232.5,1181.8 245.0,1180.0 C257.5,1178.2 257.6,1175.7 265.0,1172.0 C272.4,1168.3 280.7,1163.9 289.5,1157.6 C298.3,1151.3 308.7,1141.4 318.0,1134.0 C327.3,1126.6 336.6,1119.8 345.3,1113.0 C354.0,1106.2 362.1,1100.0 370.0,1093.0 C377.9,1086.0 385.3,1079.3 392.8,1071.0 C400.3,1062.7 408.5,1053.7 415.0,1043.0 C421.5,1032.3 426.7,1018.6 431.8,1007.0 C436.9,995.4 440.2,982.7 445.8,973.4 C451.4,964.1 459.3,956.1 465.3,951.0 C471.3,945.9 475.9,943.2 482.0,942.8 C488.1,942.3 496.5,946.4 501.6,948.3 C506.7,950.2 506.2,949.3 512.7,954.0 C519.2,958.7 531.3,968.9 540.6,976.3 C549.9,983.7 559.2,991.6 568.5,998.6 C577.8,1005.6 587.1,1012.9 596.4,1018.0 C605.7,1023.1 616.3,1026.6 624.4,1029.3 C632.5,1032.0 638.7,1032.2 645.0,1034.0 C651.3,1035.8 655.2,1038.7 662.0,1040.0 C668.8,1041.3 677.2,1041.7 686.0,1042.0 C694.8,1042.3 703.0,1042.0 715.0,1042.0 C727.0,1042.0 745.0,1042.5 758.0,1042.0 C771.0,1041.5 780.8,1038.7 793.0,1039.0 C805.2,1039.3 819.8,1041.6 831.0,1043.6 C842.2,1045.6 850.6,1047.3 860.4,1051.0 C870.2,1054.7 877.4,1060.9 889.6,1065.5 C901.8,1070.1 918.8,1075.4 933.4,1078.6 C948.0,1081.8 962.4,1083.2 977.0,1084.4 C991.6,1085.6 1004.0,1085.5 1021.0,1086.0 C1038.0,1086.5 1062.0,1086.1 1079.0,1087.3 C1096.0,1088.5 1109.8,1090.8 1123.0,1093.0 C1136.2,1095.2 1145.8,1098.0 1158.0,1100.5 C1170.2,1103.0 1182.4,1105.1 1196.0,1107.8 C1209.6,1110.5 1224.4,1114.1 1239.7,1116.5 C1255.0,1118.9 1273.7,1120.0 1288.0,1122.3 C1302.3,1124.5 1313.2,1127.8 1325.8,1130.0 C1338.4,1132.2 1351.1,1134.0 1363.8,1135.6 C1376.5,1137.2 1389.1,1138.1 1401.7,1139.4 C1414.3,1140.7 1427.0,1141.8 1439.6,1143.2 C1452.2,1144.6 1464.8,1146.4 1477.5,1148.0 C1490.2,1149.6 1502.8,1151.3 1515.5,1152.7 C1528.2,1154.1 1540.8,1155.4 1553.4,1156.5 C1566.0,1157.6 1578.7,1158.6 1591.3,1159.5 C1603.9,1160.4 1616.4,1161.1 1629.0,1162.0 C1641.6,1162.9 1654.3,1164.0 1667.0,1164.8 C1679.7,1165.6 1692.3,1166.5 1705.0,1167.0 C1717.7,1167.5 1730.3,1167.5 1743.0,1167.8 C1755.7,1168.1 1768.3,1168.3 1781.0,1168.6 C1793.7,1168.9 1806.4,1169.3 1819.0,1169.7 C1831.6,1170.1 1845.4,1170.3 1856.7,1170.9 C1868.0,1171.5 1877.5,1171.8 1887.0,1173.5 C1896.5,1175.2 1899.7,1179.3 1913.6,1181.0 C1927.5,1182.7 1953.6,1183.1 1970.5,1183.8 C1987.4,1184.5 2007.6,1184.8 2015.0,1185.0" fill="none" stroke="#000" stroke-width="8.5" stroke-linejoin="round" stroke-linecap="round"/>
<polygon points="190.0,1173.1 193.0,1173.1 196.0,1173.1 199.0,1173.0 202.0,1173.0 205.0,1173.0 208.0,1172.9 211.0,1172.9 214.0,1172.8 217.0,1172.7 220.0,1172.6 223.0,1172.6 226.0,1172.5 229.0,1172.3 232.0,1172.2 235.0,1172.1 238.0,1171.9 241.0,1171.7 244.0,1171.6 247.0,1171.3 250.0,1171.1 253.0,1170.8 256.0,1170.6 259.0,1170.2 262.0,1169.9 265.0,1169.5 268.0,1169.1 271.0,1168.6 274.0,1168.1 277.0,1167.6 280.0,1167.0 283.0,1166.3 286.0,1165.6 289.0,1164.9 292.0,1164.1 295.0,1163.2 298.0,1162.2 301.0,1161.2 304.0,1160.1 307.0,1158.9 310.0,1157.7 313.0,1156.3 316.0,1154.9 319.0,1153.4 322.0,1151.7 325.0,1150.0 328.0,1148.2 331.0,1146.3 334.0,1144.3 337.0,1142.1 340.0,1139.9 343.0,1137.5 346.0,1135.1 349.0,1132.5 352.0,1129.9 355.0,1127.1 358.0,1124.2 361.0,1121.2 364.0,1118.2 367.0,1115.0 370.0,1111.7 373.0,1108.4 376.0,1104.9 379.0,1101.4 382.0,1097.8 385.0,1094.2 388.0,1090.5 391.0,1086.8 394.0,1083.0 397.0,1079.2 400.0,1075.4 403.0,1071.6 406.0,1067.8 409.0,1064.0 412.0,1060.2 415.0,1056.5 418.0,1052.9 421.0,1049.3 424.0,1045.8 427.0,1042.4 430.0,1039.1 433.0,1035.9 436.0,1032.8 439.0,1029.9 442.0,1027.2 445.0,1024.6 448.0,1022.2 451.0,1020.0 454.0,1018.0 457.0,1016.2 460.0,1014.6 463.0,1013.2 466.0,1012.1 469.0,1011.1 472.0,1010.5 475.0,1010.0 478.0,1009.8 481.0,1009.9 484.0,1010.1 487.0,1010.7 490.0,1011.5 493.0,1012.5 496.0,1013.7 499.0,1015.2 502.0,1016.9 505.0,1018.9 508.0,1021.0 511.0,1023.3 514.0,1025.8 517.0,1028.5 520.0,1031.4 523.0,1034.4 526.0,1037.6 529.0,1040.9 532.0,1044.3 535.0,1047.8 538.0,1051.4 541.0,1055.1 544.0,1058.8 547.0,1062.6 550.0,1066.4 553.0,1070.3 556.0,1074.1 559.0,1078.0 562.0,1081.8 565.0,1085.7 568.0,1089.5 571.0,1093.2 574.0,1096.9 577.0,1100.6 580.0,1104.1 583.0,1107.6 586.0,1111.0 589.0,1114.4 592.0,1117.6 595.0,1120.7 598.0,1123.8 601.0,1126.7 604.0,1129.5 607.0,1132.2 610.0,1134.8 613.0,1137.3 616.0,1139.7 619.0,1142.0 622.0,1144.2 625.0,1146.2 628.0,1148.2 631.0,1150.0 634.0,1151.7 637.0,1153.4 640.0,1154.9 643.0,1156.4 646.0,1157.7 649.0,1159.0 652.0,1160.2 655.0,1161.3 658.0,1162.3 661.0,1163.3 664.0,1164.2 667.0,1165.0 670.0,1165.8 673.0,1166.5 676.0,1167.1 679.0,1167.7 682.0,1168.2 685.0,1168.7 688.0,1169.2 691.0,1169.6 694.0,1170.0 697.0,1170.3 700.0,1170.6 703.0,1170.9 706.0,1171.2 709.0,1171.4 712.0,1171.6 715.0,1171.8 718.0,1172.0 721.0,1172.1 724.0,1172.3 727.0,1172.4 730.0,1172.5 733.0,1172.6 736.0,1172.7 739.0,1172.8 742.0,1172.8 745.0,1172.9 748.0,1172.9 751.0,1173.0 754.0,1173.0 757.0,1173.1 760.0,1173.1 763.0,1173.1 766.0,1173.1 769.0,1173.2 772.0,1173.2 775.0,1173.2 778.0,1173.2 781.0,1173.2 784.0,1173.2 787.0,1173.2 790.0,1173.3 793.0,1173.3 796.0,1173.3 799.0,1173.3 802.0,1173.3 805.0,1173.3 808.0,1173.3 811.0,1173.3 814.0,1173.3 817.0,1173.3 820.0,1173.3 823.0,1173.3 826.0,1173.3 829.0,1173.3 832.0,1173.3 835.0,1173.3 838.0,1173.3 841.0,1173.3 844.0,1173.3 847.0,1173.3 850.0,1173.3 853.0,1173.3 856.0,1173.3 859.0,1173.3 862.0,1173.3 865.0,1173.3 868.0,1173.3 871.0,1173.3 874.0,1173.3 877.0,1173.3 880.0,1173.3 883.0,1173.3 886.0,1173.3 889.0,1173.3 892.0,1173.3 895.0,1173.3 898.0,1173.3 901.0,1173.3 904.0,1173.3 907.0,1173.3 910.0,1173.3 913.0,1173.3 916.0,1173.3 919.0,1173.3 922.0,1173.3 925.0,1173.3 928.0,1173.3 931.0,1173.3 934.0,1173.3 937.0,1173.3 940.0,1173.3 943.0,1173.3 946.0,1173.3 949.0,1173.3 952.0,1173.3 955.0,1173.3 958.0,1173.3 961.0,1173.3 964.0,1173.3 967.0,1173.3 970.0,1173.3 973.0,1173.3 976.0,1173.3 979.0,1173.3 982.0,1173.3 985.0,1173.3 988.0,1173.3 991.0,1173.3 994.0,1173.3 997.0,1173.3 1000.0,1173.3 1003.0,1173.3 1006.0,1173.3 1009.0,1173.3 1012.0,1173.3 1015.0,1173.3 1018.0,1173.3 1021.0,1173.3 1024.0,1173.3 1027.0,1173.3 1030.0,1173.3 1033.0,1173.3 1036.0,1173.3 1039.0,1173.3 1042.0,1173.3 1045.0,1173.3 1048.0,1173.3 1051.0,1173.3 1054.0,1173.3 1057.0,1173.3 1060.0,1173.3 1063.0,1173.3 1066.0,1173.3 1069.0,1173.3 1072.0,1173.3 1075.0,1173.3 1078.0,1173.3 1081.0,1173.3 1084.0,1173.3 1087.0,1173.3 1090.0,1173.3 1093.0,1173.3 1096.0,1173.3 1099.0,1173.3 1102.0,1173.3 1105.0,1173.3 1108.0,1173.3 1111.0,1173.3 1114.0,1173.3 1117.0,1173.3 1120.0,1173.3 1123.0,1173.3 1126.0,1173.3 1129.0,1173.3 1132.0,1173.3 1135.0,1173.3 1138.0,1173.3 1141.0,1173.3 1144.0,1173.3 1147.0,1173.3 1150.0,1173.3 1153.0,1173.3 1156.0,1173.3 1159.0,1173.3 1162.0,1173.3 1165.0,1173.3 1168.0,1173.3 1171.0,1173.3 1174.0,1173.3 1177.0,1173.3 1180.0,1173.3 1183.0,1173.3 1186.0,1173.3 1189.0,1173.3 1192.0,1173.3 1195.0,1173.3 1198.0,1173.3 1201.0,1173.3 1204.0,1173.3 1207.0,1173.3 1210.0,1173.3 1213.0,1173.3 1216.0,1173.3 1219.0,1173.3 1222.0,1173.3 1225.0,1173.3 1228.0,1173.3 1231.0,1173.3 1234.0,1173.3 1237.0,1173.3 1240.0,1173.3 1243.0,1173.3 1246.0,1173.3 1249.0,1173.3 1252.0,1173.3 1255.0,1173.3 1258.0,1173.3 1261.0,1173.3 1264.0,1173.3 1267.0,1173.3 1270.0,1173.3 1273.0,1173.3 1276.0,1173.3 1279.0,1173.3 1282.0,1173.3 1285.0,1173.3 1288.0,1173.3 1291.0,1173.3 1294.0,1173.3 1297.0,1173.3 1300.0,1173.3 1303.0,1173.3 1306.0,1173.3 1309.0,1173.3 1312.0,1173.3 1315.0,1173.3 1318.0,1173.3 1321.0,1173.3 1324.0,1173.3 1327.0,1173.3 1330.0,1173.3 1333.0,1173.3 1336.0,1173.3 1339.0,1173.3 1342.0,1173.3 1345.0,1173.3 1348.0,1173.3 1351.0,1173.3 1354.0,1173.3 1357.0,1173.3 1360.0,1173.3 1363.0,1173.3 1366.0,1173.3 1369.0,1173.3 1372.0,1173.3 1375.0,1173.3 1378.0,1173.3 1381.0,1173.3 1384.0,1173.3 1387.0,1173.3 1390.0,1173.3 1393.0,1173.3 1396.0,1173.3 1399.0,1173.3 1402.0,1173.3 1405.0,1173.3 1408.0,1173.3 1411.0,1173.3 1414.0,1173.3 1417.0,1173.3 1420.0,1173.3 1423.0,1173.3 1426.0,1173.3 1429.0,1173.3 1432.0,1173.3 1435.0,1173.3 1438.0,1173.3 1441.0,1173.3 1444.0,1173.3 1447.0,1173.3 1450.0,1173.3 1453.0,1173.3 1456.0,1173.3 1459.0,1173.3 1462.0,1173.3 1465.0,1173.3 1468.0,1173.3 1471.0,1173.3 1474.0,1173.3 1477.0,1173.3 1480.0,1173.3 1483.0,1173.3 1486.0,1173.3 1489.0,1173.3 1492.0,1173.3 1495.0,1173.3 1498.0,1173.3 1501.0,1173.3 1504.0,1173.3 1507.0,1173.3 1510.0,1173.3 1513.0,1173.3 1516.0,1173.3 1519.0,1173.3 1522.0,1173.3 1525.0,1173.3 1528.0,1173.3 1531.0,1173.3 1534.0,1173.3 1537.0,1173.3 1540.0,1173.3 1543.0,1173.3 1546.0,1173.3 1549.0,1173.3 1552.0,1173.3 1555.0,1173.3 1558.0,1173.3 1561.0,1173.3 1564.0,1173.3 1567.0,1173.3 1570.0,1173.3 1573.0,1173.3 1576.0,1173.3 1579.0,1173.3 1582.0,1173.3 1585.0,1173.3 1588.0,1173.3 1591.0,1173.3 1594.0,1173.3 1597.0,1173.3 1600.0,1173.3 1603.0,1173.3 1606.0,1173.3 1609.0,1173.3 1612.0,1173.3 1615.0,1173.3 1618.0,1173.3 1621.0,1173.3 1624.0,1173.3 1627.0,1173.3 1630.0,1173.3 1633.0,1173.3 1636.0,1173.3 1639.0,1173.3 1642.0,1173.3 1645.0,1173.3 1648.0,1173.3 1651.0,1173.3 1654.0,1173.3 1657.0,1173.3 1660.0,1173.3 1663.0,1173.3 1666.0,1173.3 1669.0,1173.3 1672.0,1173.3 1675.0,1173.3 1678.0,1173.3 1681.0,1173.3 1684.0,1173.3 1687.0,1173.3 1690.0,1173.3 1693.0,1173.3 1696.0,1173.3 1699.0,1173.3 1702.0,1173.3 1705.0,1173.3 1708.0,1173.3 1711.0,1173.3 1714.0,1173.3 1717.0,1173.3 1720.0,1173.3 1723.0,1173.3 1726.0,1173.3 1729.0,1173.3 1732.0,1173.3 1735.0,1173.3 1738.0,1173.3 1741.0,1173.3 1744.0,1173.3 1747.0,1173.3 1750.0,1173.3 1753.0,1173.3 1756.0,1173.3 1759.0,1173.3 1762.0,1173.3 1765.0,1173.3 1768.0,1173.3 1771.0,1173.3 1774.0,1173.3 1777.0,1173.3 1780.0,1173.3 1783.0,1173.3 1786.0,1173.3 1789.0,1173.3 1792.0,1173.3 1795.0,1173.3 1798.0,1173.3 1801.0,1173.3 1804.0,1173.3 1807.0,1173.3 1810.0,1173.3 1813.0,1173.3 1816.0,1173.3 1819.0,1173.3 1822.0,1173.3 1825.0,1173.3 1828.0,1173.3 1831.0,1173.3 1834.0,1173.3 1837.0,1173.3 1840.0,1173.3 1843.0,1173.3 1846.0,1173.3 1849.0,1173.3 1852.0,1173.3 1855.0,1173.3 1858.0,1173.3 1861.0,1173.3 1864.0,1173.3 1867.0,1173.3 1870.0,1173.3 1873.0,1173.3 1876.0,1173.3 1879.0,1173.3 1882.0,1173.3 1885.0,1173.3 1888.0,1173.3 1891.0,1173.3 1894.0,1173.3 1897.0,1173.3 1900.0,1173.3 1903.0,1173.3 1906.0,1173.3 1909.0,1173.3 1912.0,1173.3 1915.0,1173.3 1918.0,1173.3 1921.0,1173.3 1924.0,1173.3 1927.0,1173.3 1930.0,1173.3 1933.0,1173.3 1936.0,1173.3 1939.0,1173.3 1942.0,1173.3 1945.0,1173.3 1948.0,1173.3 1951.0,1173.3 1954.0,1173.3 1957.0,1173.3 1960.0,1173.3 1963.0,1173.3 1966.0,1173.3 1969.0,1173.3 1972.0,1173.3 1975.0,1173.3 1978.0,1173.3 1981.0,1173.3 1984.0,1173.3 1987.0,1173.3 1990.0,1173.3 1993.0,1173.3 1996.0,1173.3 1999.0,1173.3 2002.0,1173.3 2005.0,1173.3 2008.0,1173.3 2011.0,1173.3 2014.0,1173.3 2017.0,1173.3 2017.0,1173.3 190.0,1173.3" fill="#ff0000" fill-opacity="0.60" stroke="none"/>
<polyline points="190.0,1179.6 193.0,1179.6 196.0,1179.6 199.0,1179.5 202.0,1179.5 205.0,1179.5 208.0,1179.4 211.0,1179.4 214.0,1179.3 217.0,1179.2 220.0,1179.1 223.0,1179.1 226.0,1179.0 229.0,1178.8 232.0,1178.7 235.0,1178.6 238.0,1178.4 241.0,1178.2 244.0,1178.1 247.0,1177.8 250.0,1177.6 253.0,1177.3 256.0,1177.1 259.0,1176.7 262.0,1176.4 265.0,1176.0 268.0,1175.6 271.0,1175.1 274.0,1174.6 277.0,1174.1 280.0,1173.5 283.0,1172.8 286.0,1172.1 289.0,1171.4 292.0,1170.6 295.0,1169.7 298.0,1168.7 301.0,1167.7 304.0,1166.6 307.0,1165.4 310.0,1164.2 313.0,1162.8 316.0,1161.4 319.0,1159.9 322.0,1158.2 325.0,1156.5 328.0,1154.7 331.0,1152.8 334.0,1150.8 337.0,1148.6 340.0,1146.4 343.0,1144.0 346.0,1141.6 349.0,1139.0 352.0,1136.4 355.0,1133.6 358.0,1130.7 361.0,1127.7 364.0,1124.7 367.0,1121.5 370.0,1118.2 373.0,1114.9 376.0,1111.4 379.0,1107.9 382.0,1104.3 385.0,1100.7 388.0,1097.0 391.0,1093.3 394.0,1089.5 397.0,1085.7 400.0,1081.9 403.0,1078.1 406.0,1074.3 409.0,1070.5 412.0,1066.7 415.0,1063.0 418.0,1059.4 421.0,1055.8 424.0,1052.3 427.0,1048.9 430.0,1045.6 433.0,1042.4 436.0,1039.3 439.0,1036.4 442.0,1033.7 445.0,1031.1 448.0,1028.7 451.0,1026.5 454.0,1024.5 457.0,1022.7 460.0,1021.1 463.0,1019.7 466.0,1018.6 469.0,1017.6 472.0,1017.0 475.0,1016.5 478.0,1016.3 481.0,1016.4 484.0,1016.6 487.0,1017.2 490.0,1018.0 493.0,1019.0 496.0,1020.2 499.0,1021.7 502.0,1023.4 505.0,1025.4 508.0,1027.5 511.0,1029.8 514.0,1032.3 517.0,1035.0 520.0,1037.9 523.0,1040.9 526.0,1044.1 529.0,1047.4 532.0,1050.8 535.0,1054.3 538.0,1057.9 541.0,1061.6 544.0,1065.3 547.0,1069.1 550.0,1072.9 553.0,1076.8 556.0,1080.6 559.0,1084.5 562.0,1088.3 565.0,1092.2 568.0,1096.0 571.0,1099.7 574.0,1103.4 577.0,1107.1 580.0,1110.6 583.0,1114.1 586.0,1117.5 589.0,1120.9 592.0,1124.1 595.0,1127.2 598.0,1130.3 601.0,1133.2 604.0,1136.0 607.0,1138.7 610.0,1141.3 613.0,1143.8 616.0,1146.2 619.0,1148.5 622.0,1150.7 625.0,1152.7 628.0,1154.7 631.0,1156.5 634.0,1158.2 637.0,1159.9 640.0,1161.4 643.0,1162.9 646.0,1164.2 649.0,1165.5 652.0,1166.7 655.0,1167.8 658.0,1168.8 661.0,1169.8 664.0,1170.7 667.0,1171.5 670.0,1172.3 673.0,1173.0 676.0,1173.6 679.0,1174.2 682.0,1174.7 685.0,1175.2 688.0,1175.7 691.0,1176.1 694.0,1176.5 697.0,1176.8 700.0,1177.1 703.0,1177.4 706.0,1177.7 709.0,1177.9 712.0,1178.1 715.0,1178.3 718.0,1178.5 721.0,1178.6 724.0,1178.8 727.0,1178.9 730.0,1179.0 733.0,1179.1 736.0,1179.2 739.0,1179.3 742.0,1179.3 745.0,1179.4 748.0,1179.4 751.0,1179.5 754.0,1179.5 757.0,1179.6 760.0,1179.6 763.0,1179.6 766.0,1179.6 769.0,1179.7 772.0,1179.7 775.0,1179.7 778.0,1179.7 781.0,1179.7 784.0,1179.7 787.0,1179.7 790.0,1179.8 793.0,1179.8 796.0,1179.8 799.0,1179.8 802.0,1179.8 805.0,1179.8 808.0,1179.8 811.0,1179.8 814.0,1179.8 817.0,1179.8 820.0,1179.8 823.0,1179.8 826.0,1179.8 829.0,1179.8 832.0,1179.8 835.0,1179.8 838.0,1179.8 841.0,1179.8 844.0,1179.8 847.0,1179.8 850.0,1179.8 853.0,1179.8 856.0,1179.8 859.0,1179.8 862.0,1179.8 865.0,1179.8 868.0,1179.8 871.0,1179.8 874.0,1179.8 877.0,1179.8 880.0,1179.8 883.0,1179.8 886.0,1179.8 889.0,1179.8 892.0,1179.8 895.0,1179.8 898.0,1179.8 901.0,1179.8 904.0,1179.8 907.0,1179.8 910.0,1179.8 913.0,1179.8 916.0,1179.8 919.0,1179.8 922.0,1179.8 925.0,1179.8 928.0,1179.8 931.0,1179.8 934.0,1179.8 937.0,1179.8 940.0,1179.8 943.0,1179.8 946.0,1179.8 949.0,1179.8 952.0,1179.8 955.0,1179.8 958.0,1179.8 961.0,1179.8 964.0,1179.8 967.0,1179.8 970.0,1179.8 973.0,1179.8 976.0,1179.8 979.0,1179.8 982.0,1179.8 985.0,1179.8 988.0,1179.8 991.0,1179.8 994.0,1179.8 997.0,1179.8 1000.0,1179.8 1003.0,1179.8 1006.0,1179.8 1009.0,1179.8 1012.0,1179.8 1015.0,1179.8 1018.0,1179.8 1021.0,1179.8 1024.0,1179.8 1027.0,1179.8 1030.0,1179.8 1033.0,1179.8 1036.0,1179.8 1039.0,1179.8 1042.0,1179.8 1045.0,1179.8 1048.0,1179.8 1051.0,1179.8 1054.0,1179.8 1057.0,1179.8 1060.0,1179.8 1063.0,1179.8 1066.0,1179.8 1069.0,1179.8 1072.0,1179.8 1075.0,1179.8 1078.0,1179.8 1081.0,1179.8 1084.0,1179.8 1087.0,1179.8 1090.0,1179.8 1093.0,1179.8 1096.0,1179.8 1099.0,1179.8 1102.0,1179.8 1105.0,1179.8 1108.0,1179.8 1111.0,1179.8 1114.0,1179.8 1117.0,1179.8 1120.0,1179.8 1123.0,1179.8 1126.0,1179.8 1129.0,1179.8 1132.0,1179.8 1135.0,1179.8 1138.0,1179.8 1141.0,1179.8 1144.0,1179.8 1147.0,1179.8 1150.0,1179.8 1153.0,1179.8 1156.0,1179.8 1159.0,1179.8 1162.0,1179.8 1165.0,1179.8 1168.0,1179.8 1171.0,1179.8 1174.0,1179.8 1177.0,1179.8 1180.0,1179.8 1183.0,1179.8 1186.0,1179.8 1189.0,1179.8 1192.0,1179.8 1195.0,1179.8 1198.0,1179.8 1201.0,1179.8 1204.0,1179.8 1207.0,1179.8 1210.0,1179.8 1213.0,1179.8 1216.0,1179.8 1219.0,1179.8 1222.0,1179.8 1225.0,1179.8 1228.0,1179.8 1231.0,1179.8 1234.0,1179.8 1237.0,1179.8 1240.0,1179.8 1243.0,1179.8 1246.0,1179.8 1249.0,1179.8 1252.0,1179.8 1255.0,1179.8 1258.0,1179.8 1261.0,1179.8 1264.0,1179.8 1267.0,1179.8 1270.0,1179.8 1273.0,1179.8 1276.0,1179.8 1279.0,1179.8 1282.0,1179.8 1285.0,1179.8 1288.0,1179.8 1291.0,1179.8 1294.0,1179.8 1297.0,1179.8 1300.0,1179.8 1303.0,1179.8 1306.0,1179.8 1309.0,1179.8 1312.0,1179.8 1315.0,1179.8 1318.0,1179.8 1321.0,1179.8 1324.0,1179.8 1327.0,1179.8 1330.0,1179.8 1333.0,1179.8 1336.0,1179.8 1339.0,1179.8 1342.0,1179.8 1345.0,1179.8 1348.0,1179.8 1351.0,1179.8 1354.0,1179.8 1357.0,1179.8 1360.0,1179.8 1363.0,1179.8 1366.0,1179.8 1369.0,1179.8 1372.0,1179.8 1375.0,1179.8 1378.0,1179.8 1381.0,1179.8 1384.0,1179.8 1387.0,1179.8 1390.0,1179.8 1393.0,1179.8 1396.0,1179.8 1399.0,1179.8 1402.0,1179.8 1405.0,1179.8 1408.0,1179.8 1411.0,1179.8 1414.0,1179.8 1417.0,1179.8 1420.0,1179.8 1423.0,1179.8 1426.0,1179.8 1429.0,1179.8 1432.0,1179.8 1435.0,1179.8 1438.0,1179.8 1441.0,1179.8 1444.0,1179.8 1447.0,1179.8 1450.0,1179.8 1453.0,1179.8 1456.0,1179.8 1459.0,1179.8 1462.0,1179.8 1465.0,1179.8 1468.0,1179.8 1471.0,1179.8 1474.0,1179.8 1477.0,1179.8 1480.0,1179.8 1483.0,1179.8 1486.0,1179.8 1489.0,1179.8 1492.0,1179.8 1495.0,1179.8 1498.0,1179.8 1501.0,1179.8 1504.0,1179.8 1507.0,1179.8 1510.0,1179.8 1513.0,1179.8 1516.0,1179.8 1519.0,1179.8 1522.0,1179.8 1525.0,1179.8 1528.0,1179.8 1531.0,1179.8 1534.0,1179.8 1537.0,1179.8 1540.0,1179.8 1543.0,1179.8 1546.0,1179.8 1549.0,1179.8 1552.0,1179.8 1555.0,1179.8 1558.0,1179.8 1561.0,1179.8 1564.0,1179.8 1567.0,1179.8 1570.0,1179.8 1573.0,1179.8 1576.0,1179.8 1579.0,1179.8 1582.0,1179.8 1585.0,1179.8 1588.0,1179.8 1591.0,1179.8 1594.0,1179.8 1597.0,1179.8 1600.0,1179.8 1603.0,1179.8 1606.0,1179.8 1609.0,1179.8 1612.0,1179.8 1615.0,1179.8 1618.0,1179.8 1621.0,1179.8 1624.0,1179.8 1627.0,1179.8 1630.0,1179.8 1633.0,1179.8 1636.0,1179.8 1639.0,1179.8 1642.0,1179.8 1645.0,1179.8 1648.0,1179.8 1651.0,1179.8 1654.0,1179.8 1657.0,1179.8 1660.0,1179.8 1663.0,1179.8 1666.0,1179.8 1669.0,1179.8 1672.0,1179.8 1675.0,1179.8 1678.0,1179.8 1681.0,1179.8 1684.0,1179.8 1687.0,1179.8 1690.0,1179.8 1693.0,1179.8 1696.0,1179.8 1699.0,1179.8 1702.0,1179.8 1705.0,1179.8 1708.0,1179.8 1711.0,1179.8 1714.0,1179.8 1717.0,1179.8 1720.0,1179.8 1723.0,1179.8 1726.0,1179.8 1729.0,1179.8 1732.0,1179.8 1735.0,1179.8 1738.0,1179.8 1741.0,1179.8 1744.0,1179.8 1747.0,1179.8 1750.0,1179.8 1753.0,1179.8 1756.0,1179.8 1759.0,1179.8 1762.0,1179.8 1765.0,1179.8 1768.0,1179.8 1771.0,1179.8 1774.0,1179.8 1777.0,1179.8 1780.0,1179.8 1783.0,1179.8 1786.0,1179.8 1789.0,1179.8 1792.0,1179.8 1795.0,1179.8 1798.0,1179.8 1801.0,1179.8 1804.0,1179.8 1807.0,1179.8 1810.0,1179.8 1813.0,1179.8 1816.0,1179.8 1819.0,1179.8 1822.0,1179.8 1825.0,1179.8 1828.0,1179.8 1831.0,1179.8 1834.0,1179.8 1837.0,1179.8 1840.0,1179.8 1843.0,1179.8 1846.0,1179.8 1849.0,1179.8 1852.0,1179.8 1855.0,1179.8 1858.0,1179.8 1861.0,1179.8 1864.0,1179.8 1867.0,1179.8 1870.0,1179.8 1873.0,1179.8 1876.0,1179.8 1879.0,1179.8 1882.0,1179.8 1885.0,1179.8 1888.0,1179.8 1891.0,1179.8 1894.0,1179.8 1897.0,1179.8 1900.0,1179.8 1903.0,1179.8 1906.0,1179.8 1909.0,1179.8 1912.0,1179.8 1915.0,1179.8 1918.0,1179.8 1921.0,1179.8 1924.0,1179.8 1927.0,1179.8 1930.0,1179.8 1933.0,1179.8 1936.0,1179.8 1939.0,1179.8 1942.0,1179.8 1945.0,1179.8 1948.0,1179.8 1951.0,1179.8 1954.0,1179.8 1957.0,1179.8 1960.0,1179.8 1963.0,1179.8 1966.0,1179.8 1969.0,1179.8 1972.0,1179.8 1975.0,1179.8 1978.0,1179.8 1981.0,1179.8 1984.0,1179.8 1987.0,1179.8 1990.0,1179.8 1993.0,1179.8 1996.0,1179.8 1999.0,1179.8 2002.0,1179.8 2005.0,1179.8 2008.0,1179.8 2011.0,1179.8 2014.0,1179.8 2017.0,1179.8" fill="none" stroke="#ff0000" stroke-opacity="0.80" stroke-width="5" stroke-dasharray="36 34" stroke-dashoffset="0"/>
<line x1="190.0" y1="1176.3" x2="2015.0" y2="1176.3" stroke="#ff0000" stroke-opacity="0.80" stroke-width="6" stroke-dasharray="36 34" stroke-dashoffset="7"/>
<polygon points="190.0,1172.0 193.0,1171.9 196.0,1171.9 199.0,1171.8 202.0,1171.7 205.0,1171.6 208.0,1171.5 211.0,1171.5 214.0,1171.4 217.0,1171.3 220.0,1171.2 223.0,1171.1 226.0,1171.0 229.0,1170.9 232.0,1170.8 235.0,1170.6 238.0,1170.5 241.0,1170.4 244.0,1170.3 247.0,1170.1 250.0,1170.0 253.0,1169.8 256.0,1169.7 259.0,1169.5 262.0,1169.4 265.0,1169.2 268.0,1169.0 271.0,1168.8 274.0,1168.7 277.0,1168.5 280.0,1168.3 283.0,1168.1 286.0,1167.8 289.0,1167.6 292.0,1167.4 295.0,1167.2 298.0,1166.9 301.0,1166.7 304.0,1166.4 307.0,1166.1 310.0,1165.9 313.0,1165.6 316.0,1165.3 319.0,1165.0 322.0,1164.7 325.0,1164.4 328.0,1164.0 331.0,1163.7 334.0,1163.3 337.0,1163.0 340.0,1162.6 343.0,1162.3 346.0,1161.9 349.0,1161.5 352.0,1161.1 355.0,1160.7 358.0,1160.2 361.0,1159.8 364.0,1159.4 367.0,1158.9 370.0,1158.4 373.0,1158.0 376.0,1157.5 379.0,1157.0 382.0,1156.5 385.0,1156.0 388.0,1155.4 391.0,1154.9 394.0,1154.3 397.0,1153.8 400.0,1153.2 403.0,1152.6 406.0,1152.0 409.0,1151.4 412.0,1150.8 415.0,1150.2 418.0,1149.6 421.0,1148.9 424.0,1148.3 427.0,1147.6 430.0,1146.9 433.0,1146.2 436.0,1145.5 439.0,1144.8 442.0,1144.1 445.0,1143.4 448.0,1142.7 451.0,1141.9 454.0,1141.2 457.0,1140.4 460.0,1139.7 463.0,1138.9 466.0,1138.1 469.0,1137.3 472.0,1136.5 475.0,1135.7 478.0,1134.9 481.0,1134.1 484.0,1133.3 487.0,1132.5 490.0,1131.7 493.0,1130.8 496.0,1130.0 499.0,1129.2 502.0,1128.3 505.0,1127.5 508.0,1126.6 511.0,1125.8 514.0,1124.9 517.0,1124.1 520.0,1123.2 523.0,1122.4 526.0,1121.5 529.0,1120.7 532.0,1119.9 535.0,1119.0 538.0,1118.2 541.0,1117.3 544.0,1116.5 547.0,1115.7 550.0,1114.9 553.0,1114.0 556.0,1113.2 559.0,1112.4 562.0,1111.6 565.0,1110.9 568.0,1110.1 571.0,1109.3 574.0,1108.5 577.0,1107.8 580.0,1107.1 583.0,1106.3 586.0,1105.6 589.0,1104.9 592.0,1104.2 595.0,1103.5 598.0,1102.9 601.0,1102.2 604.0,1101.6 607.0,1101.0 610.0,1100.4 613.0,1099.8 616.0,1099.2 619.0,1098.7 622.0,1098.1 625.0,1097.6 628.0,1097.1 631.0,1096.7 634.0,1096.2 637.0,1095.8 640.0,1095.4 643.0,1095.0 646.0,1094.6 649.0,1094.2 652.0,1093.9 655.0,1093.6 658.0,1093.3 661.0,1093.1 664.0,1092.8 667.0,1092.6 670.0,1092.4 673.0,1092.2 676.0,1092.1 679.0,1092.0 682.0,1091.9 685.0,1091.8 688.0,1091.7 691.0,1091.7 694.0,1091.7 697.0,1091.7 700.0,1091.8 703.0,1091.9 706.0,1092.0 709.0,1092.1 712.0,1092.2 715.0,1092.4 718.0,1092.6 721.0,1092.9 724.0,1093.1 727.0,1093.4 730.0,1093.8 733.0,1094.1 736.0,1094.5 739.0,1094.8 742.0,1095.3 745.0,1095.7 748.0,1096.2 751.0,1096.6 754.0,1097.2 757.0,1097.7 760.0,1098.2 763.0,1098.8 766.0,1099.4 769.0,1100.0 772.0,1100.6 775.0,1101.3 778.0,1102.0 781.0,1102.6 784.0,1103.3 787.0,1104.1 790.0,1104.8 793.0,1105.5 796.0,1106.3 799.0,1107.1 802.0,1107.9 805.0,1108.7 808.0,1109.5 811.0,1110.3 814.0,1111.1 817.0,1112.0 820.0,1112.8 823.0,1113.7 826.0,1114.6 829.0,1115.4 832.0,1116.3 835.0,1117.2 838.0,1118.1 841.0,1119.0 844.0,1119.9 847.0,1120.8 850.0,1121.7 853.0,1122.6 856.0,1123.5 859.0,1124.4 862.0,1125.3 865.0,1126.2 868.0,1127.1 871.0,1128.0 874.0,1128.9 877.0,1129.8 880.0,1130.7 883.0,1131.6 886.0,1132.5 889.0,1133.3 892.0,1134.2 895.0,1135.1 898.0,1135.9 901.0,1136.8 904.0,1137.6 907.0,1138.5 910.0,1139.3 913.0,1140.1 916.0,1140.9 919.0,1141.7 922.0,1142.5 925.0,1143.3 928.0,1144.1 931.0,1144.8 934.0,1145.6 937.0,1146.3 940.0,1147.1 943.0,1147.8 946.0,1148.5 949.0,1149.2 952.0,1149.9 955.0,1150.5 958.0,1151.2 961.0,1151.8 964.0,1152.5 967.0,1153.1 970.0,1153.7 973.0,1154.3 976.0,1154.9 979.0,1155.5 982.0,1156.0 985.0,1156.6 988.0,1157.1 991.0,1157.6 994.0,1158.2 997.0,1158.7 1000.0,1159.1 1003.0,1159.6 1006.0,1160.1 1009.0,1160.6 1012.0,1161.0 1015.0,1161.4 1018.0,1161.8 1021.0,1162.3 1024.0,1162.7 1027.0,1163.0 1030.0,1163.4 1033.0,1163.8 1036.0,1164.1 1039.0,1164.5 1042.0,1164.8 1045.0,1165.1 1048.0,1165.5 1051.0,1165.8 1054.0,1166.1 1057.0,1166.4 1060.0,1166.6 1063.0,1166.9 1066.0,1167.2 1069.0,1167.4 1072.0,1167.7 1075.0,1167.9 1078.0,1168.1 1081.0,1168.3 1084.0,1168.5 1087.0,1168.7 1090.0,1168.9 1093.0,1169.1 1096.0,1169.3 1099.0,1169.5 1102.0,1169.7 1105.0,1169.8 1108.0,1170.0 1111.0,1170.1 1114.0,1170.3 1117.0,1170.4 1120.0,1170.5 1123.0,1170.7 1126.0,1170.8 1129.0,1170.9 1132.0,1171.0 1135.0,1171.1 1138.0,1171.2 1141.0,1171.3 1144.0,1171.4 1147.0,1171.5 1150.0,1171.6 1153.0,1171.7 1156.0,1171.8 1159.0,1171.9 1162.0,1171.9 1165.0,1172.0 1168.0,1172.1 1171.0,1172.1 1174.0,1172.2 1177.0,1172.3 1180.0,1172.3 1183.0,1172.4 1186.0,1172.4 1189.0,1172.5 1192.0,1172.5 1195.0,1172.5 1198.0,1172.6 1201.0,1172.6 1204.0,1172.7 1207.0,1172.7 1210.0,1172.7 1213.0,1172.8 1216.0,1172.8 1219.0,1172.8 1222.0,1172.9 1225.0,1172.9 1228.0,1172.9 1231.0,1172.9 1234.0,1172.9 1237.0,1173.0 1240.0,1173.0 1243.0,1173.0 1246.0,1173.0 1249.0,1173.0 1252.0,1173.1 1255.0,1173.1 1258.0,1173.1 1261.0,1173.1 1264.0,1173.1 1267.0,1173.1 1270.0,1173.1 1273.0,1173.1 1276.0,1173.2 1279.0,1173.2 1282.0,1173.2 1285.0,1173.2 1288.0,1173.2 1291.0,1173.2 1294.0,1173.2 1297.0,1173.2 1300.0,1173.2 1303.0,1173.2 1306.0,1173.2 1309.0,1173.2 1312.0,1173.2 1315.0,1173.2 1318.0,1173.2 1321.0,1173.2 1324.0,1173.3 1327.0,1173.3 1330.0,1173.3 1333.0,1173.3 1336.0,1173.3 1339.0,1173.3 1342.0,1173.3 1345.0,1173.3 1348.0,1173.3 1351.0,1173.3 1354.0,1173.3 1357.0,1173.3 1360.0,1173.3 1363.0,1173.3 1366.0,1173.3 1369.0,1173.3 1372.0,1173.3 1375.0,1173.3 1378.0,1173.3 1381.0,1173.3 1384.0,1173.3 1387.0,1173.3 1390.0,1173.3 1393.0,1173.3 1396.0,1173.3 1399.0,1173.3 1402.0,1173.3 1405.0,1173.3 1408.0,1173.3 1411.0,1173.3 1414.0,1173.3 1417.0,1173.3 1420.0,1173.3 1423.0,1173.3 1426.0,1173.3 1429.0,1173.3 1432.0,1173.3 1435.0,1173.3 1438.0,1173.3 1441.0,1173.3 1444.0,1173.3 1447.0,1173.3 1450.0,1173.3 1453.0,1173.3 1456.0,1173.3 1459.0,1173.3 1462.0,1173.3 1465.0,1173.3 1468.0,1173.3 1471.0,1173.3 1474.0,1173.3 1477.0,1173.3 1480.0,1173.3 1483.0,1173.3 1486.0,1173.3 1489.0,1173.3 1492.0,1173.3 1495.0,1173.3 1498.0,1173.3 1501.0,1173.3 1504.0,1173.3 1507.0,1173.3 1510.0,1173.3 1513.0,1173.3 1516.0,1173.3 1519.0,1173.3 1522.0,1173.3 1525.0,1173.3 1528.0,1173.3 1531.0,1173.3 1534.0,1173.3 1537.0,1173.3 1540.0,1173.3 1543.0,1173.3 1546.0,1173.3 1549.0,1173.3 1552.0,1173.3 1555.0,1173.3 1558.0,1173.3 1561.0,1173.3 1564.0,1173.3 1567.0,1173.3 1570.0,1173.3 1573.0,1173.3 1576.0,1173.3 1579.0,1173.3 1582.0,1173.3 1585.0,1173.3 1588.0,1173.3 1591.0,1173.3 1594.0,1173.3 1597.0,1173.3 1600.0,1173.3 1603.0,1173.3 1606.0,1173.3 1609.0,1173.3 1612.0,1173.3 1615.0,1173.3 1618.0,1173.3 1621.0,1173.3 1624.0,1173.3 1627.0,1173.3 1630.0,1173.3 1633.0,1173.3 1636.0,1173.3 1639.0,1173.3 1642.0,1173.3 1645.0,1173.3 1648.0,1173.3 1651.0,1173.3 1654.0,1173.3 1657.0,1173.3 1660.0,1173.3 1663.0,1173.3 1666.0,1173.3 1669.0,1173.3 1672.0,1173.3 1675.0,1173.3 1678.0,1173.3 1681.0,1173.3 1684.0,1173.3 1687.0,1173.3 1690.0,1173.3 1693.0,1173.3 1696.0,1173.3 1699.0,1173.3 1702.0,1173.3 1705.0,1173.3 1708.0,1173.3 1711.0,1173.3 1714.0,1173.3 1717.0,1173.3 1720.0,1173.3 1723.0,1173.3 1726.0,1173.3 1729.0,1173.3 1732.0,1173.3 1735.0,1173.3 1738.0,1173.3 1741.0,1173.3 1744.0,1173.3 1747.0,1173.3 1750.0,1173.3 1753.0,1173.3 1756.0,1173.3 1759.0,1173.3 1762.0,1173.3 1765.0,1173.3 1768.0,1173.3 1771.0,1173.3 1774.0,1173.3 1777.0,1173.3 1780.0,1173.3 1783.0,1173.3 1786.0,1173.3 1789.0,1173.3 1792.0,1173.3 1795.0,1173.3 1798.0,1173.3 1801.0,1173.3 1804.0,1173.3 1807.0,1173.3 1810.0,1173.3 1813.0,1173.3 1816.0,1173.3 1819.0,1173.3 1822.0,1173.3 1825.0,1173.3 1828.0,1173.3 1831.0,1173.3 1834.0,1173.3 1837.0,1173.3 1840.0,1173.3 1843.0,1173.3 1846.0,1173.3 1849.0,1173.3 1852.0,1173.3 1855.0,1173.3 1858.0,1173.3 1861.0,1173.3 1864.0,1173.3 1867.0,1173.3 1870.0,1173.3 1873.0,1173.3 1876.0,1173.3 1879.0,1173.3 1882.0,1173.3 1885.0,1173.3 1888.0,1173.3 1891.0,1173.3 1894.0,1173.3 1897.0,1173.3 1900.0,1173.3 1903.0,1173.3 1906.0,1173.3 1909.0,1173.3 1912.0,1173.3 1915.0,1173.3 1918.0,1173.3 1921.0,1173.3 1924.0,1173.3 1927.0,1173.3 1930.0,1173.3 1933.0,1173.3 1936.0,1173.3 1939.0,1173.3 1942.0,1173.3 1945.0,1173.3 1948.0,1173.3 1951.0,1173.3 1954.0,1173.3 1957.0,1173.3 1960.0,1173.3 1963.0,1173.3 1966.0,1173.3 1969.0,1173.3 1972.0,1173.3 1975.0,1173.3 1978.0,1173.3 1981.0,1173.3 1984.0,1173.3 1987.0,1173.3 1990.0,1173.3 1993.0,1173.3 1996.0,1173.3 1999.0,1173.3 2002.0,1173.3 2005.0,1173.3 2008.0,1173.3 2011.0,1173.3 2014.0,1173.3 2017.0,1173.3 2017.0,1173.3 190.0,1173.3" fill="url(#bg2_1)" fill-opacity="0.40" stroke="none"/>
<polyline points="190.0,1178.5 193.0,1178.4 196.0,1178.4 199.0,1178.3 202.0,1178.2 205.0,1178.1 208.0,1178.0 211.0,1178.0 214.0,1177.9 217.0,1177.8 220.0,1177.7 223.0,1177.6 226.0,1177.5 229.0,1177.4 232.0,1177.3 235.0,1177.1 238.0,1177.0 241.0,1176.9 244.0,1176.8 247.0,1176.6 250.0,1176.5 253.0,1176.3 256.0,1176.2 259.0,1176.0 262.0,1175.9 265.0,1175.7 268.0,1175.5 271.0,1175.3 274.0,1175.2 277.0,1175.0 280.0,1174.8 283.0,1174.6 286.0,1174.3 289.0,1174.1 292.0,1173.9 295.0,1173.7 298.0,1173.4 301.0,1173.2 304.0,1172.9 307.0,1172.6 310.0,1172.4 313.0,1172.1 316.0,1171.8 319.0,1171.5 322.0,1171.2 325.0,1170.9 328.0,1170.5 331.0,1170.2 334.0,1169.8 337.0,1169.5 340.0,1169.1 343.0,1168.8 346.0,1168.4 349.0,1168.0 352.0,1167.6 355.0,1167.2 358.0,1166.7 361.0,1166.3 364.0,1165.9 367.0,1165.4 370.0,1164.9 373.0,1164.5 376.0,1164.0 379.0,1163.5 382.0,1163.0 385.0,1162.5 388.0,1161.9 391.0,1161.4 394.0,1160.8 397.0,1160.3 400.0,1159.7 403.0,1159.1 406.0,1158.5 409.0,1157.9 412.0,1157.3 415.0,1156.7 418.0,1156.1 421.0,1155.4 424.0,1154.8 427.0,1154.1 430.0,1153.4 433.0,1152.7 436.0,1152.0 439.0,1151.3 442.0,1150.6 445.0,1149.9 448.0,1149.2 451.0,1148.4 454.0,1147.7 457.0,1146.9 460.0,1146.2 463.0,1145.4 466.0,1144.6 469.0,1143.8 472.0,1143.0 475.0,1142.2 478.0,1141.4 481.0,1140.6 484.0,1139.8 487.0,1139.0 490.0,1138.2 493.0,1137.3 496.0,1136.5 499.0,1135.7 502.0,1134.8 505.0,1134.0 508.0,1133.1 511.0,1132.3 514.0,1131.4 517.0,1130.6 520.0,1129.7 523.0,1128.9 526.0,1128.0 529.0,1127.2 532.0,1126.4 535.0,1125.5 538.0,1124.7 541.0,1123.8 544.0,1123.0 547.0,1122.2 550.0,1121.4 553.0,1120.5 556.0,1119.7 559.0,1118.9 562.0,1118.1 565.0,1117.4 568.0,1116.6 571.0,1115.8 574.0,1115.0 577.0,1114.3 580.0,1113.6 583.0,1112.8 586.0,1112.1 589.0,1111.4 592.0,1110.7 595.0,1110.0 598.0,1109.4 601.0,1108.7 604.0,1108.1 607.0,1107.5 610.0,1106.9 613.0,1106.3 616.0,1105.7 619.0,1105.2 622.0,1104.6 625.0,1104.1 628.0,1103.6 631.0,1103.2 634.0,1102.7 637.0,1102.3 640.0,1101.9 643.0,1101.5 646.0,1101.1 649.0,1100.7 652.0,1100.4 655.0,1100.1 658.0,1099.8 661.0,1099.6 664.0,1099.3 667.0,1099.1 670.0,1098.9 673.0,1098.7 676.0,1098.6 679.0,1098.5 682.0,1098.4 685.0,1098.3 688.0,1098.2 691.0,1098.2 694.0,1098.2 697.0,1098.2 700.0,1098.3 703.0,1098.4 706.0,1098.5 709.0,1098.6 712.0,1098.7 715.0,1098.9 718.0,1099.1 721.0,1099.4 724.0,1099.6 727.0,1099.9 730.0,1100.3 733.0,1100.6 736.0,1101.0 739.0,1101.3 742.0,1101.8 745.0,1102.2 748.0,1102.7 751.0,1103.1 754.0,1103.7 757.0,1104.2 760.0,1104.7 763.0,1105.3 766.0,1105.9 769.0,1106.5 772.0,1107.1 775.0,1107.8 778.0,1108.5 781.0,1109.1 784.0,1109.8 787.0,1110.6 790.0,1111.3 793.0,1112.0 796.0,1112.8 799.0,1113.6 802.0,1114.4 805.0,1115.2 808.0,1116.0 811.0,1116.8 814.0,1117.6 817.0,1118.5 820.0,1119.3 823.0,1120.2 826.0,1121.1 829.0,1121.9 832.0,1122.8 835.0,1123.7 838.0,1124.6 841.0,1125.5 844.0,1126.4 847.0,1127.3 850.0,1128.2 853.0,1129.1 856.0,1130.0 859.0,1130.9 862.0,1131.8 865.0,1132.7 868.0,1133.6 871.0,1134.5 874.0,1135.4 877.0,1136.3 880.0,1137.2 883.0,1138.1 886.0,1139.0 889.0,1139.8 892.0,1140.7 895.0,1141.6 898.0,1142.4 901.0,1143.3 904.0,1144.1 907.0,1145.0 910.0,1145.8 913.0,1146.6 916.0,1147.4 919.0,1148.2 922.0,1149.0 925.0,1149.8 928.0,1150.6 931.0,1151.3 934.0,1152.1 937.0,1152.8 940.0,1153.6 943.0,1154.3 946.0,1155.0 949.0,1155.7 952.0,1156.4 955.0,1157.0 958.0,1157.7 961.0,1158.3 964.0,1159.0 967.0,1159.6 970.0,1160.2 973.0,1160.8 976.0,1161.4 979.0,1162.0 982.0,1162.5 985.0,1163.1 988.0,1163.6 991.0,1164.1 994.0,1164.7 997.0,1165.2 1000.0,1165.6 1003.0,1166.1 1006.0,1166.6 1009.0,1167.1 1012.0,1167.5 1015.0,1167.9 1018.0,1168.3 1021.0,1168.8 1024.0,1169.2 1027.0,1169.5 1030.0,1169.9 1033.0,1170.3 1036.0,1170.6 1039.0,1171.0 1042.0,1171.3 1045.0,1171.6 1048.0,1172.0 1051.0,1172.3 1054.0,1172.6 1057.0,1172.9 1060.0,1173.1 1063.0,1173.4 1066.0,1173.7 1069.0,1173.9 1072.0,1174.2 1075.0,1174.4 1078.0,1174.6 1081.0,1174.8 1084.0,1175.0 1087.0,1175.2 1090.0,1175.4 1093.0,1175.6 1096.0,1175.8 1099.0,1176.0 1102.0,1176.2 1105.0,1176.3 1108.0,1176.5 1111.0,1176.6 1114.0,1176.8 1117.0,1176.9 1120.0,1177.0 1123.0,1177.2 1126.0,1177.3 1129.0,1177.4 1132.0,1177.5 1135.0,1177.6 1138.0,1177.7 1141.0,1177.8 1144.0,1177.9 1147.0,1178.0 1150.0,1178.1 1153.0,1178.2 1156.0,1178.3 1159.0,1178.4 1162.0,1178.4 1165.0,1178.5 1168.0,1178.6 1171.0,1178.6 1174.0,1178.7 1177.0,1178.8 1180.0,1178.8 1183.0,1178.9 1186.0,1178.9 1189.0,1179.0 1192.0,1179.0 1195.0,1179.0 1198.0,1179.1 1201.0,1179.1 1204.0,1179.2 1207.0,1179.2 1210.0,1179.2 1213.0,1179.3 1216.0,1179.3 1219.0,1179.3 1222.0,1179.4 1225.0,1179.4 1228.0,1179.4 1231.0,1179.4 1234.0,1179.4 1237.0,1179.5 1240.0,1179.5 1243.0,1179.5 1246.0,1179.5 1249.0,1179.5 1252.0,1179.6 1255.0,1179.6 1258.0,1179.6 1261.0,1179.6 1264.0,1179.6 1267.0,1179.6 1270.0,1179.6 1273.0,1179.6 1276.0,1179.7 1279.0,1179.7 1282.0,1179.7 1285.0,1179.7 1288.0,1179.7 1291.0,1179.7 1294.0,1179.7 1297.0,1179.7 1300.0,1179.7 1303.0,1179.7 1306.0,1179.7 1309.0,1179.7 1312.0,1179.7 1315.0,1179.7 1318.0,1179.7 1321.0,1179.7 1324.0,1179.8 1327.0,1179.8 1330.0,1179.8 1333.0,1179.8 1336.0,1179.8 1339.0,1179.8 1342.0,1179.8 1345.0,1179.8 1348.0,1179.8 1351.0,1179.8 1354.0,1179.8 1357.0,1179.8 1360.0,1179.8 1363.0,1179.8 1366.0,1179.8 1369.0,1179.8 1372.0,1179.8 1375.0,1179.8 1378.0,1179.8 1381.0,1179.8 1384.0,1179.8 1387.0,1179.8 1390.0,1179.8 1393.0,1179.8 1396.0,1179.8 1399.0,1179.8 1402.0,1179.8 1405.0,1179.8 1408.0,1179.8 1411.0,1179.8 1414.0,1179.8 1417.0,1179.8 1420.0,1179.8 1423.0,1179.8 1426.0,1179.8 1429.0,1179.8 1432.0,1179.8 1435.0,1179.8 1438.0,1179.8 1441.0,1179.8 1444.0,1179.8 1447.0,1179.8 1450.0,1179.8 1453.0,1179.8 1456.0,1179.8 1459.0,1179.8 1462.0,1179.8 1465.0,1179.8 1468.0,1179.8 1471.0,1179.8 1474.0,1179.8 1477.0,1179.8 1480.0,1179.8 1483.0,1179.8 1486.0,1179.8 1489.0,1179.8 1492.0,1179.8 1495.0,1179.8 1498.0,1179.8 1501.0,1179.8 1504.0,1179.8 1507.0,1179.8 1510.0,1179.8 1513.0,1179.8 1516.0,1179.8 1519.0,1179.8 1522.0,1179.8 1525.0,1179.8 1528.0,1179.8 1531.0,1179.8 1534.0,1179.8 1537.0,1179.8 1540.0,1179.8 1543.0,1179.8 1546.0,1179.8 1549.0,1179.8 1552.0,1179.8 1555.0,1179.8 1558.0,1179.8 1561.0,1179.8 1564.0,1179.8 1567.0,1179.8 1570.0,1179.8 1573.0,1179.8 1576.0,1179.8 1579.0,1179.8 1582.0,1179.8 1585.0,1179.8 1588.0,1179.8 1591.0,1179.8 1594.0,1179.8 1597.0,1179.8 1600.0,1179.8 1603.0,1179.8 1606.0,1179.8 1609.0,1179.8 1612.0,1179.8 1615.0,1179.8 1618.0,1179.8 1621.0,1179.8 1624.0,1179.8 1627.0,1179.8 1630.0,1179.8 1633.0,1179.8 1636.0,1179.8 1639.0,1179.8 1642.0,1179.8 1645.0,1179.8 1648.0,1179.8 1651.0,1179.8 1654.0,1179.8 1657.0,1179.8 1660.0,1179.8 1663.0,1179.8 1666.0,1179.8 1669.0,1179.8 1672.0,1179.8 1675.0,1179.8 1678.0,1179.8 1681.0,1179.8 1684.0,1179.8 1687.0,1179.8 1690.0,1179.8 1693.0,1179.8 1696.0,1179.8 1699.0,1179.8 1702.0,1179.8 1705.0,1179.8 1708.0,1179.8 1711.0,1179.8 1714.0,1179.8 1717.0,1179.8 1720.0,1179.8 1723.0,1179.8 1726.0,1179.8 1729.0,1179.8 1732.0,1179.8 1735.0,1179.8 1738.0,1179.8 1741.0,1179.8 1744.0,1179.8 1747.0,1179.8 1750.0,1179.8 1753.0,1179.8 1756.0,1179.8 1759.0,1179.8 1762.0,1179.8 1765.0,1179.8 1768.0,1179.8 1771.0,1179.8 1774.0,1179.8 1777.0,1179.8 1780.0,1179.8 1783.0,1179.8 1786.0,1179.8 1789.0,1179.8 1792.0,1179.8 1795.0,1179.8 1798.0,1179.8 1801.0,1179.8 1804.0,1179.8 1807.0,1179.8 1810.0,1179.8 1813.0,1179.8 1816.0,1179.8 1819.0,1179.8 1822.0,1179.8 1825.0,1179.8 1828.0,1179.8 1831.0,1179.8 1834.0,1179.8 1837.0,1179.8 1840.0,1179.8 1843.0,1179.8 1846.0,1179.8 1849.0,1179.8 1852.0,1179.8 1855.0,1179.8 1858.0,1179.8 1861.0,1179.8 1864.0,1179.8 1867.0,1179.8 1870.0,1179.8 1873.0,1179.8 1876.0,1179.8 1879.0,1179.8 1882.0,1179.8 1885.0,1179.8 1888.0,1179.8 1891.0,1179.8 1894.0,1179.8 1897.0,1179.8 1900.0,1179.8 1903.0,1179.8 1906.0,1179.8 1909.0,1179.8 1912.0,1179.8 1915.0,1179.8 1918.0,1179.8 1921.0,1179.8 1924.0,1179.8 1927.0,1179.8 1930.0,1179.8 1933.0,1179.8 1936.0,1179.8 1939.0,1179.8 1942.0,1179.8 1945.0,1179.8 1948.0,1179.8 1951.0,1179.8 1954.0,1179.8 1957.0,1179.8 1960.0,1179.8 1963.0,1179.8 1966.0,1179.8 1969.0,1179.8 1972.0,1179.8 1975.0,1179.8 1978.0,1179.8 1981.0,1179.8 1984.0,1179.8 1987.0,1179.8 1990.0,1179.8 1993.0,1179.8 1996.0,1179.8 1999.0,1179.8 2002.0,1179.8 2005.0,1179.8 2008.0,1179.8 2011.0,1179.8 2014.0,1179.8 2017.0,1179.8" fill="none" stroke="#0000ff" stroke-opacity="0.60" stroke-width="5" stroke-dasharray="36 34" stroke-dashoffset="0"/>
<line x1="190.0" y1="1176.3" x2="2015.0" y2="1176.3" stroke="#0000ff" stroke-opacity="0.60" stroke-width="6" stroke-dasharray="36 34" stroke-dashoffset="19"/>
<polygon points="190.0,1169.8 193.0,1169.8 196.0,1169.7 199.0,1169.6 202.0,1169.5 205.0,1169.4 208.0,1169.4 211.0,1169.3 214.0,1169.2 217.0,1169.1 220.0,1169.0 223.0,1168.9 226.0,1168.8 229.0,1168.7 232.0,1168.6 235.0,1168.5 238.0,1168.4 241.0,1168.3 244.0,1168.2 247.0,1168.1 250.0,1168.0 253.0,1167.9 256.0,1167.8 259.0,1167.7 262.0,1167.6 265.0,1167.4 268.0,1167.3 271.0,1167.2 274.0,1167.1 277.0,1166.9 280.0,1166.8 283.0,1166.7 286.0,1166.6 289.0,1166.4 292.0,1166.3 295.0,1166.2 298.0,1166.0 301.0,1165.9 304.0,1165.7 307.0,1165.6 310.0,1165.4 313.0,1165.3 316.0,1165.1 319.0,1165.0 322.0,1164.8 325.0,1164.7 328.0,1164.5 331.0,1164.3 334.0,1164.2 337.0,1164.0 340.0,1163.8 343.0,1163.7 346.0,1163.5 349.0,1163.3 352.0,1163.1 355.0,1162.9 358.0,1162.8 361.0,1162.6 364.0,1162.4 367.0,1162.2 370.0,1162.0 373.0,1161.8 376.0,1161.6 379.0,1161.4 382.0,1161.2 385.0,1161.0 388.0,1160.8 391.0,1160.6 394.0,1160.3 397.0,1160.1 400.0,1159.9 403.0,1159.7 406.0,1159.4 409.0,1159.2 412.0,1159.0 415.0,1158.8 418.0,1158.5 421.0,1158.3 424.0,1158.0 427.0,1157.8 430.0,1157.5 433.0,1157.3 436.0,1157.0 439.0,1156.8 442.0,1156.5 445.0,1156.3 448.0,1156.0 451.0,1155.7 454.0,1155.5 457.0,1155.2 460.0,1154.9 463.0,1154.6 466.0,1154.4 469.0,1154.1 472.0,1153.8 475.0,1153.5 478.0,1153.2 481.0,1152.9 484.0,1152.6 487.0,1152.3 490.0,1152.0 493.0,1151.7 496.0,1151.4 499.0,1151.1 502.0,1150.8 505.0,1150.5 508.0,1150.2 511.0,1149.9 514.0,1149.6 517.0,1149.2 520.0,1148.9 523.0,1148.6 526.0,1148.3 529.0,1147.9 532.0,1147.6 535.0,1147.2 538.0,1146.9 541.0,1146.6 544.0,1146.2 547.0,1145.9 550.0,1145.5 553.0,1145.2 556.0,1144.8 559.0,1144.5 562.0,1144.1 565.0,1143.8 568.0,1143.4 571.0,1143.0 574.0,1142.7 577.0,1142.3 580.0,1141.9 583.0,1141.6 586.0,1141.2 589.0,1140.8 592.0,1140.4 595.0,1140.1 598.0,1139.7 601.0,1139.3 604.0,1138.9 607.0,1138.6 610.0,1138.2 613.0,1137.8 616.0,1137.4 619.0,1137.0 622.0,1136.6 625.0,1136.2 628.0,1135.8 631.0,1135.4 634.0,1135.0 637.0,1134.6 640.0,1134.3 643.0,1133.9 646.0,1133.5 649.0,1133.1 652.0,1132.7 655.0,1132.3 658.0,1131.9 661.0,1131.5 664.0,1131.1 667.0,1130.7 670.0,1130.3 673.0,1129.8 676.0,1129.4 679.0,1129.0 682.0,1128.6 685.0,1128.2 688.0,1127.8 691.0,1127.4 694.0,1127.0 697.0,1126.6 700.0,1126.2 703.0,1125.8 706.0,1125.4 709.0,1125.0 712.0,1124.6 715.0,1124.2 718.0,1123.8 721.0,1123.4 724.0,1123.0 727.0,1122.6 730.0,1122.2 733.0,1121.8 736.0,1121.4 739.0,1121.0 742.0,1120.6 745.0,1120.3 748.0,1119.9 751.0,1119.5 754.0,1119.1 757.0,1118.7 760.0,1118.3 763.0,1117.9 766.0,1117.6 769.0,1117.2 772.0,1116.8 775.0,1116.4 778.0,1116.1 781.0,1115.7 784.0,1115.3 787.0,1115.0 790.0,1114.6 793.0,1114.2 796.0,1113.9 799.0,1113.5 802.0,1113.2 805.0,1112.8 808.0,1112.5 811.0,1112.1 814.0,1111.8 817.0,1111.5 820.0,1111.1 823.0,1110.8 826.0,1110.5 829.0,1110.1 832.0,1109.8 835.0,1109.5 838.0,1109.2 841.0,1108.9 844.0,1108.6 847.0,1108.3 850.0,1108.0 853.0,1107.7 856.0,1107.4 859.0,1107.1 862.0,1106.8 865.0,1106.5 868.0,1106.3 871.0,1106.0 874.0,1105.7 877.0,1105.5 880.0,1105.2 883.0,1105.0 886.0,1104.7 889.0,1104.5 892.0,1104.2 895.0,1104.0 898.0,1103.8 901.0,1103.5 904.0,1103.3 907.0,1103.1 910.0,1102.9 913.0,1102.7 916.0,1102.5 919.0,1102.3 922.0,1102.1 925.0,1101.9 928.0,1101.7 931.0,1101.6 934.0,1101.4 937.0,1101.2 940.0,1101.1 943.0,1100.9 946.0,1100.8 949.0,1100.7 952.0,1100.5 955.0,1100.4 958.0,1100.3 961.0,1100.1 964.0,1100.0 967.0,1099.9 970.0,1099.8 973.0,1099.7 976.0,1099.6 979.0,1099.6 982.0,1099.5 985.0,1099.4 988.0,1099.3 991.0,1099.3 994.0,1099.2 997.0,1099.2 1000.0,1099.1 1003.0,1099.1 1006.0,1099.1 1009.0,1099.0 1012.0,1099.0 1015.0,1099.0 1018.0,1099.0 1021.0,1099.0 1024.0,1099.0 1027.0,1099.0 1030.0,1099.0 1033.0,1099.1 1036.0,1099.1 1039.0,1099.1 1042.0,1099.2 1045.0,1099.2 1048.0,1099.3 1051.0,1099.3 1054.0,1099.4 1057.0,1099.5 1060.0,1099.5 1063.0,1099.6 1066.0,1099.7 1069.0,1099.8 1072.0,1099.9 1075.0,1100.0 1078.0,1100.1 1081.0,1100.2 1084.0,1100.3 1087.0,1100.5 1090.0,1100.6 1093.0,1100.7 1096.0,1100.9 1099.0,1101.0 1102.0,1101.2 1105.0,1101.4 1108.0,1101.5 1111.0,1101.7 1114.0,1101.9 1117.0,1102.1 1120.0,1102.2 1123.0,1102.4 1126.0,1102.6 1129.0,1102.8 1132.0,1103.0 1135.0,1103.3 1138.0,1103.5 1141.0,1103.7 1144.0,1103.9 1147.0,1104.2 1150.0,1104.4 1153.0,1104.6 1156.0,1104.9 1159.0,1105.1 1162.0,1105.4 1165.0,1105.6 1168.0,1105.9 1171.0,1106.2 1174.0,1106.5 1177.0,1106.7 1180.0,1107.0 1183.0,1107.3 1186.0,1107.6 1189.0,1107.9 1192.0,1108.2 1195.0,1108.5 1198.0,1108.8 1201.0,1109.1 1204.0,1109.4 1207.0,1109.7 1210.0,1110.0 1213.0,1110.4 1216.0,1110.7 1219.0,1111.0 1222.0,1111.4 1225.0,1111.7 1228.0,1112.0 1231.0,1112.4 1234.0,1112.7 1237.0,1113.1 1240.0,1113.4 1243.0,1113.8 1246.0,1114.1 1249.0,1114.5 1252.0,1114.8 1255.0,1115.2 1258.0,1115.6 1261.0,1115.9 1264.0,1116.3 1267.0,1116.7 1270.0,1117.1 1273.0,1117.4 1276.0,1117.8 1279.0,1118.2 1282.0,1118.6 1285.0,1119.0 1288.0,1119.3 1291.0,1119.7 1294.0,1120.1 1297.0,1120.5 1300.0,1120.9 1303.0,1121.3 1306.0,1121.7 1309.0,1122.1 1312.0,1122.5 1315.0,1122.9 1318.0,1123.3 1321.0,1123.7 1324.0,1124.1 1327.0,1124.5 1330.0,1124.9 1333.0,1125.3 1336.0,1125.7 1339.0,1126.1 1342.0,1126.5 1345.0,1126.9 1348.0,1127.3 1351.0,1127.7 1354.0,1128.1 1357.0,1128.5 1360.0,1128.9 1363.0,1129.3 1366.0,1129.7 1369.0,1130.1 1372.0,1130.5 1375.0,1130.9 1378.0,1131.3 1381.0,1131.7 1384.0,1132.1 1387.0,1132.5 1390.0,1132.9 1393.0,1133.3 1396.0,1133.7 1399.0,1134.1 1402.0,1134.5 1405.0,1134.9 1408.0,1135.3 1411.0,1135.7 1414.0,1136.1 1417.0,1136.5 1420.0,1136.9 1423.0,1137.3 1426.0,1137.7 1429.0,1138.0 1432.0,1138.4 1435.0,1138.8 1438.0,1139.2 1441.0,1139.6 1444.0,1139.9 1447.0,1140.3 1450.0,1140.7 1453.0,1141.1 1456.0,1141.4 1459.0,1141.8 1462.0,1142.2 1465.0,1142.6 1468.0,1142.9 1471.0,1143.3 1474.0,1143.6 1477.0,1144.0 1480.0,1144.4 1483.0,1144.7 1486.0,1145.1 1489.0,1145.4 1492.0,1145.8 1495.0,1146.1 1498.0,1146.5 1501.0,1146.8 1504.0,1147.1 1507.0,1147.5 1510.0,1147.8 1513.0,1148.1 1516.0,1148.5 1519.0,1148.8 1522.0,1149.1 1525.0,1149.4 1528.0,1149.8 1531.0,1150.1 1534.0,1150.4 1537.0,1150.7 1540.0,1151.0 1543.0,1151.3 1546.0,1151.6 1549.0,1151.9 1552.0,1152.2 1555.0,1152.5 1558.0,1152.8 1561.0,1153.1 1564.0,1153.4 1567.0,1153.7 1570.0,1154.0 1573.0,1154.3 1576.0,1154.6 1579.0,1154.8 1582.0,1155.1 1585.0,1155.4 1588.0,1155.7 1591.0,1155.9 1594.0,1156.2 1597.0,1156.4 1600.0,1156.7 1603.0,1157.0 1606.0,1157.2 1609.0,1157.5 1612.0,1157.7 1615.0,1158.0 1618.0,1158.2 1621.0,1158.4 1624.0,1158.7 1627.0,1158.9 1630.0,1159.1 1633.0,1159.4 1636.0,1159.6 1639.0,1159.8 1642.0,1160.0 1645.0,1160.3 1648.0,1160.5 1651.0,1160.7 1654.0,1160.9 1657.0,1161.1 1660.0,1161.3 1663.0,1161.5 1666.0,1161.7 1669.0,1161.9 1672.0,1162.1 1675.0,1162.3 1678.0,1162.5 1681.0,1162.7 1684.0,1162.9 1687.0,1163.1 1690.0,1163.2 1693.0,1163.4 1696.0,1163.6 1699.0,1163.8 1702.0,1163.9 1705.0,1164.1 1708.0,1164.3 1711.0,1164.4 1714.0,1164.6 1717.0,1164.8 1720.0,1164.9 1723.0,1165.1 1726.0,1165.2 1729.0,1165.4 1732.0,1165.5 1735.0,1165.7 1738.0,1165.8 1741.0,1166.0 1744.0,1166.1 1747.0,1166.2 1750.0,1166.4 1753.0,1166.5 1756.0,1166.6 1759.0,1166.8 1762.0,1166.9 1765.0,1167.0 1768.0,1167.2 1771.0,1167.3 1774.0,1167.4 1777.0,1167.5 1780.0,1167.6 1783.0,1167.7 1786.0,1167.9 1789.0,1168.0 1792.0,1168.1 1795.0,1168.2 1798.0,1168.3 1801.0,1168.4 1804.0,1168.5 1807.0,1168.6 1810.0,1168.7 1813.0,1168.8 1816.0,1168.9 1819.0,1169.0 1822.0,1169.1 1825.0,1169.2 1828.0,1169.2 1831.0,1169.3 1834.0,1169.4 1837.0,1169.5 1840.0,1169.6 1843.0,1169.7 1846.0,1169.7 1849.0,1169.8 1852.0,1169.9 1855.0,1170.0 1858.0,1170.0 1861.0,1170.1 1864.0,1170.2 1867.0,1170.3 1870.0,1170.3 1873.0,1170.4 1876.0,1170.5 1879.0,1170.5 1882.0,1170.6 1885.0,1170.7 1888.0,1170.7 1891.0,1170.8 1894.0,1170.8 1897.0,1170.9 1900.0,1170.9 1903.0,1171.0 1906.0,1171.1 1909.0,1171.1 1912.0,1171.2 1915.0,1171.2 1918.0,1171.3 1921.0,1171.3 1924.0,1171.4 1927.0,1171.4 1930.0,1171.4 1933.0,1171.5 1936.0,1171.5 1939.0,1171.6 1942.0,1171.6 1945.0,1171.7 1948.0,1171.7 1951.0,1171.7 1954.0,1171.8 1957.0,1171.8 1960.0,1171.9 1963.0,1171.9 1966.0,1171.9 1969.0,1172.0 1972.0,1172.0 1975.0,1172.0 1978.0,1172.1 1981.0,1172.1 1984.0,1172.1 1987.0,1172.1 1990.0,1172.2 1993.0,1172.2 1996.0,1172.2 1999.0,1172.3 2002.0,1172.3 2005.0,1172.3 2008.0,1172.3 2011.0,1172.4 2014.0,1172.4 2017.0,1172.4 2017.0,1173.3 190.0,1173.3" fill="#ff00ff" fill-opacity="0.60" stroke="none"/>
<polyline points="190.0,1176.3 193.0,1176.3 196.0,1176.2 199.0,1176.1 202.0,1176.0 205.0,1175.9 208.0,1175.9 211.0,1175.8 214.0,1175.7 217.0,1175.6 220.0,1175.5 223.0,1175.4 226.0,1175.3 229.0,1175.2 232.0,1175.1 235.0,1175.0 238.0,1174.9 241.0,1174.8 244.0,1174.7 247.0,1174.6 250.0,1174.5 253.0,1174.4 256.0,1174.3 259.0,1174.2 262.0,1174.1 265.0,1173.9 268.0,1173.8 271.0,1173.7 274.0,1173.6 277.0,1173.4 280.0,1173.3 283.0,1173.2 286.0,1173.1 289.0,1172.9 292.0,1172.8 295.0,1172.7 298.0,1172.5 301.0,1172.4 304.0,1172.2 307.0,1172.1 310.0,1171.9 313.0,1171.8 316.0,1171.6 319.0,1171.5 322.0,1171.3 325.0,1171.2 328.0,1171.0 331.0,1170.8 334.0,1170.7 337.0,1170.5 340.0,1170.3 343.0,1170.2 346.0,1170.0 349.0,1169.8 352.0,1169.6 355.0,1169.4 358.0,1169.3 361.0,1169.1 364.0,1168.9 367.0,1168.7 370.0,1168.5 373.0,1168.3 376.0,1168.1 379.0,1167.9 382.0,1167.7 385.0,1167.5 388.0,1167.3 391.0,1167.1 394.0,1166.8 397.0,1166.6 400.0,1166.4 403.0,1166.2 406.0,1165.9 409.0,1165.7 412.0,1165.5 415.0,1165.3 418.0,1165.0 421.0,1164.8 424.0,1164.5 427.0,1164.3 430.0,1164.0 433.0,1163.8 436.0,1163.5 439.0,1163.3 442.0,1163.0 445.0,1162.8 448.0,1162.5 451.0,1162.2 454.0,1162.0 457.0,1161.7 460.0,1161.4 463.0,1161.1 466.0,1160.9 469.0,1160.6 472.0,1160.3 475.0,1160.0 478.0,1159.7 481.0,1159.4 484.0,1159.1 487.0,1158.8 490.0,1158.5 493.0,1158.2 496.0,1157.9 499.0,1157.6 502.0,1157.3 505.0,1157.0 508.0,1156.7 511.0,1156.4 514.0,1156.1 517.0,1155.7 520.0,1155.4 523.0,1155.1 526.0,1154.8 529.0,1154.4 532.0,1154.1 535.0,1153.7 538.0,1153.4 541.0,1153.1 544.0,1152.7 547.0,1152.4 550.0,1152.0 553.0,1151.7 556.0,1151.3 559.0,1151.0 562.0,1150.6 565.0,1150.3 568.0,1149.9 571.0,1149.5 574.0,1149.2 577.0,1148.8 580.0,1148.4 583.0,1148.1 586.0,1147.7 589.0,1147.3 592.0,1146.9 595.0,1146.6 598.0,1146.2 601.0,1145.8 604.0,1145.4 607.0,1145.1 610.0,1144.7 613.0,1144.3 616.0,1143.9 619.0,1143.5 622.0,1143.1 625.0,1142.7 628.0,1142.3 631.0,1141.9 634.0,1141.5 637.0,1141.1 640.0,1140.8 643.0,1140.4 646.0,1140.0 649.0,1139.6 652.0,1139.2 655.0,1138.8 658.0,1138.4 661.0,1138.0 664.0,1137.6 667.0,1137.2 670.0,1136.8 673.0,1136.3 676.0,1135.9 679.0,1135.5 682.0,1135.1 685.0,1134.7 688.0,1134.3 691.0,1133.9 694.0,1133.5 697.0,1133.1 700.0,1132.7 703.0,1132.3 706.0,1131.9 709.0,1131.5 712.0,1131.1 715.0,1130.7 718.0,1130.3 721.0,1129.9 724.0,1129.5 727.0,1129.1 730.0,1128.7 733.0,1128.3 736.0,1127.9 739.0,1127.5 742.0,1127.1 745.0,1126.8 748.0,1126.4 751.0,1126.0 754.0,1125.6 757.0,1125.2 760.0,1124.8 763.0,1124.4 766.0,1124.1 769.0,1123.7 772.0,1123.3 775.0,1122.9 778.0,1122.6 781.0,1122.2 784.0,1121.8 787.0,1121.5 790.0,1121.1 793.0,1120.7 796.0,1120.4 799.0,1120.0 802.0,1119.7 805.0,1119.3 808.0,1119.0 811.0,1118.6 814.0,1118.3 817.0,1118.0 820.0,1117.6 823.0,1117.3 826.0,1117.0 829.0,1116.6 832.0,1116.3 835.0,1116.0 838.0,1115.7 841.0,1115.4 844.0,1115.1 847.0,1114.8 850.0,1114.5 853.0,1114.2 856.0,1113.9 859.0,1113.6 862.0,1113.3 865.0,1113.0 868.0,1112.8 871.0,1112.5 874.0,1112.2 877.0,1112.0 880.0,1111.7 883.0,1111.5 886.0,1111.2 889.0,1111.0 892.0,1110.7 895.0,1110.5 898.0,1110.3 901.0,1110.0 904.0,1109.8 907.0,1109.6 910.0,1109.4 913.0,1109.2 916.0,1109.0 919.0,1108.8 922.0,1108.6 925.0,1108.4 928.0,1108.2 931.0,1108.1 934.0,1107.9 937.0,1107.7 940.0,1107.6 943.0,1107.4 946.0,1107.3 949.0,1107.2 952.0,1107.0 955.0,1106.9 958.0,1106.8 961.0,1106.6 964.0,1106.5 967.0,1106.4 970.0,1106.3 973.0,1106.2 976.0,1106.1 979.0,1106.1 982.0,1106.0 985.0,1105.9 988.0,1105.8 991.0,1105.8 994.0,1105.7 997.0,1105.7 1000.0,1105.6 1003.0,1105.6 1006.0,1105.6 1009.0,1105.5 1012.0,1105.5 1015.0,1105.5 1018.0,1105.5 1021.0,1105.5 1024.0,1105.5 1027.0,1105.5 1030.0,1105.5 1033.0,1105.6 1036.0,1105.6 1039.0,1105.6 1042.0,1105.7 1045.0,1105.7 1048.0,1105.8 1051.0,1105.8 1054.0,1105.9 1057.0,1106.0 1060.0,1106.0 1063.0,1106.1 1066.0,1106.2 1069.0,1106.3 1072.0,1106.4 1075.0,1106.5 1078.0,1106.6 1081.0,1106.7 1084.0,1106.8 1087.0,1107.0 1090.0,1107.1 1093.0,1107.2 1096.0,1107.4 1099.0,1107.5 1102.0,1107.7 1105.0,1107.9 1108.0,1108.0 1111.0,1108.2 1114.0,1108.4 1117.0,1108.6 1120.0,1108.7 1123.0,1108.9 1126.0,1109.1 1129.0,1109.3 1132.0,1109.5 1135.0,1109.8 1138.0,1110.0 1141.0,1110.2 1144.0,1110.4 1147.0,1110.7 1150.0,1110.9 1153.0,1111.1 1156.0,1111.4 1159.0,1111.6 1162.0,1111.9 1165.0,1112.1 1168.0,1112.4 1171.0,1112.7 1174.0,1113.0 1177.0,1113.2 1180.0,1113.5 1183.0,1113.8 1186.0,1114.1 1189.0,1114.4 1192.0,1114.7 1195.0,1115.0 1198.0,1115.3 1201.0,1115.6 1204.0,1115.9 1207.0,1116.2 1210.0,1116.5 1213.0,1116.9 1216.0,1117.2 1219.0,1117.5 1222.0,1117.9 1225.0,1118.2 1228.0,1118.5 1231.0,1118.9 1234.0,1119.2 1237.0,1119.6 1240.0,1119.9 1243.0,1120.3 1246.0,1120.6 1249.0,1121.0 1252.0,1121.3 1255.0,1121.7 1258.0,1122.1 1261.0,1122.4 1264.0,1122.8 1267.0,1123.2 1270.0,1123.6 1273.0,1123.9 1276.0,1124.3 1279.0,1124.7 1282.0,1125.1 1285.0,1125.5 1288.0,1125.8 1291.0,1126.2 1294.0,1126.6 1297.0,1127.0 1300.0,1127.4 1303.0,1127.8 1306.0,1128.2 1309.0,1128.6 1312.0,1129.0 1315.0,1129.4 1318.0,1129.8 1321.0,1130.2 1324.0,1130.6 1327.0,1131.0 1330.0,1131.4 1333.0,1131.8 1336.0,1132.2 1339.0,1132.6 1342.0,1133.0 1345.0,1133.4 1348.0,1133.8 1351.0,1134.2 1354.0,1134.6 1357.0,1135.0 1360.0,1135.4 1363.0,1135.8 1366.0,1136.2 1369.0,1136.6 1372.0,1137.0 1375.0,1137.4 1378.0,1137.8 1381.0,1138.2 1384.0,1138.6 1387.0,1139.0 1390.0,1139.4 1393.0,1139.8 1396.0,1140.2 1399.0,1140.6 1402.0,1141.0 1405.0,1141.4 1408.0,1141.8 1411.0,1142.2 1414.0,1142.6 1417.0,1143.0 1420.0,1143.4 1423.0,1143.8 1426.0,1144.2 1429.0,1144.5 1432.0,1144.9 1435.0,1145.3 1438.0,1145.7 1441.0,1146.1 1444.0,1146.4 1447.0,1146.8 1450.0,1147.2 1453.0,1147.6 1456.0,1147.9 1459.0,1148.3 1462.0,1148.7 1465.0,1149.1 1468.0,1149.4 1471.0,1149.8 1474.0,1150.1 1477.0,1150.5 1480.0,1150.9 1483.0,1151.2 1486.0,1151.6 1489.0,1151.9 1492.0,1152.3 1495.0,1152.6 1498.0,1153.0 1501.0,1153.3 1504.0,1153.6 1507.0,1154.0 1510.0,1154.3 1513.0,1154.6 1516.0,1155.0 1519.0,1155.3 1522.0,1155.6 1525.0,1155.9 1528.0,1156.3 1531.0,1156.6 1534.0,1156.9 1537.0,1157.2 1540.0,1157.5 1543.0,1157.8 1546.0,1158.1 1549.0,1158.4 1552.0,1158.7 1555.0,1159.0 1558.0,1159.3 1561.0,1159.6 1564.0,1159.9 1567.0,1160.2 1570.0,1160.5 1573.0,1160.8 1576.0,1161.1 1579.0,1161.3 1582.0,1161.6 1585.0,1161.9 1588.0,1162.2 1591.0,1162.4 1594.0,1162.7 1597.0,1162.9 1600.0,1163.2 1603.0,1163.5 1606.0,1163.7 1609.0,1164.0 1612.0,1164.2 1615.0,1164.5 1618.0,1164.7 1621.0,1164.9 1624.0,1165.2 1627.0,1165.4 1630.0,1165.6 1633.0,1165.9 1636.0,1166.1 1639.0,1166.3 1642.0,1166.5 1645.0,1166.8 1648.0,1167.0 1651.0,1167.2 1654.0,1167.4 1657.0,1167.6 1660.0,1167.8 1663.0,1168.0 1666.0,1168.2 1669.0,1168.4 1672.0,1168.6 1675.0,1168.8 1678.0,1169.0 1681.0,1169.2 1684.0,1169.4 1687.0,1169.6 1690.0,1169.7 1693.0,1169.9 1696.0,1170.1 1699.0,1170.3 1702.0,1170.4 1705.0,1170.6 1708.0,1170.8 1711.0,1170.9 1714.0,1171.1 1717.0,1171.3 1720.0,1171.4 1723.0,1171.6 1726.0,1171.7 1729.0,1171.9 1732.0,1172.0 1735.0,1172.2 1738.0,1172.3 1741.0,1172.5 1744.0,1172.6 1747.0,1172.7 1750.0,1172.9 1753.0,1173.0 1756.0,1173.1 1759.0,1173.3 1762.0,1173.4 1765.0,1173.5 1768.0,1173.7 1771.0,1173.8 1774.0,1173.9 1777.0,1174.0 1780.0,1174.1 1783.0,1174.2 1786.0,1174.4 1789.0,1174.5 1792.0,1174.6 1795.0,1174.7 1798.0,1174.8 1801.0,1174.9 1804.0,1175.0 1807.0,1175.1 1810.0,1175.2 1813.0,1175.3 1816.0,1175.4 1819.0,1175.5 1822.0,1175.6 1825.0,1175.7 1828.0,1175.7 1831.0,1175.8 1834.0,1175.9 1837.0,1176.0 1840.0,1176.1 1843.0,1176.2 1846.0,1176.2 1849.0,1176.3 1852.0,1176.4 1855.0,1176.5 1858.0,1176.5 1861.0,1176.6 1864.0,1176.7 1867.0,1176.8 1870.0,1176.8 1873.0,1176.9 1876.0,1177.0 1879.0,1177.0 1882.0,1177.1 1885.0,1177.2 1888.0,1177.2 1891.0,1177.3 1894.0,1177.3 1897.0,1177.4 1900.0,1177.4 1903.0,1177.5 1906.0,1177.6 1909.0,1177.6 1912.0,1177.7 1915.0,1177.7 1918.0,1177.8 1921.0,1177.8 1924.0,1177.9 1927.0,1177.9 1930.0,1177.9 1933.0,1178.0 1936.0,1178.0 1939.0,1178.1 1942.0,1178.1 1945.0,1178.2 1948.0,1178.2 1951.0,1178.2 1954.0,1178.3 1957.0,1178.3 1960.0,1178.4 1963.0,1178.4 1966.0,1178.4 1969.0,1178.5 1972.0,1178.5 1975.0,1178.5 1978.0,1178.6 1981.0,1178.6 1984.0,1178.6 1987.0,1178.6 1990.0,1178.7 1993.0,1178.7 1996.0,1178.7 1999.0,1178.8 2002.0,1178.8 2005.0,1178.8 2008.0,1178.8 2011.0,1178.9 2014.0,1178.9 2017.0,1178.9" fill="none" stroke="#ee00ee" stroke-opacity="0.85" stroke-width="5" stroke-dasharray="36 34" stroke-dashoffset="0"/>
<line x1="190.0" y1="1176.3" x2="2015.0" y2="1176.3" stroke="#ee00ee" stroke-opacity="0.85" stroke-width="6" stroke-dasharray="36 34" stroke-dashoffset="31"/>
<clipPath id="gc2_0"><rect x="190.0" y="799.5" width="308.0" height="388.0"/></clipPath>
<path d="M190.0,1173.4 C195.3,1173.4 210.8,1174.1 222.0,1173.4 C233.2,1172.7 245.8,1171.0 257.0,1169.0 C268.2,1167.0 278.8,1165.4 289.0,1161.7 C299.2,1158.0 308.5,1152.8 318.0,1147.0 C327.5,1141.2 337.2,1135.9 346.0,1126.7 C354.8,1117.5 363.0,1102.2 371.0,1091.7 C379.0,1081.2 387.2,1073.8 394.0,1064.0 C400.8,1054.2 405.4,1043.0 411.7,1033.0 C418.0,1023.0 426.2,1013.7 432.0,1004.0 C437.8,994.3 441.4,982.3 446.7,975.0 C452.0,967.7 458.2,963.7 464.0,960.0 C469.8,956.3 475.7,954.3 481.7,953.0 C487.7,951.7 494.6,951.7 500.0,952.0 C505.4,952.3 507.3,951.0 514.0,954.6 C520.7,958.2 531.0,966.8 540.0,973.6 C549.0,980.4 558.8,988.0 568.0,995.5 C577.2,1003.0 585.1,1013.0 595.5,1018.8 C605.9,1024.6 619.3,1027.3 630.5,1030.5 C641.7,1033.7 650.5,1036.4 662.6,1038.0 C674.7,1039.6 690.9,1039.8 703.0,1040.0 C715.1,1040.2 723.8,1039.2 735.5,1039.2 C747.2,1039.2 761.4,1039.5 773.0,1040.0 C784.6,1040.5 793.3,1040.0 805.0,1042.0 C816.7,1044.0 831.1,1048.8 843.0,1052.0 C854.9,1055.2 864.6,1058.5 876.5,1061.0 C888.4,1063.5 902.5,1064.5 914.4,1067.0 C926.3,1069.5 936.6,1073.0 948.0,1075.7 C959.4,1078.4 971.6,1081.3 983.0,1083.0 C994.4,1084.7 1004.8,1084.8 1016.5,1086.0 C1028.2,1087.2 1041.3,1088.1 1053.0,1090.0 C1064.7,1091.9 1074.8,1096.0 1086.5,1097.5 C1098.2,1099.0 1111.3,1097.8 1123.0,1099.0 C1134.7,1100.2 1144.8,1103.3 1156.5,1105.0 C1168.2,1106.7 1181.3,1107.3 1193.0,1109.0 C1204.7,1110.7 1214.3,1113.2 1226.5,1115.0 C1238.7,1116.8 1254.2,1118.5 1266.0,1120.0 C1277.8,1121.5 1285.2,1122.3 1297.0,1124.0 C1308.8,1125.7 1324.9,1128.1 1337.0,1130.0 C1349.1,1131.9 1357.8,1133.9 1369.5,1135.6 C1381.2,1137.3 1395.3,1138.4 1407.0,1140.0 C1418.7,1141.6 1429.8,1143.7 1439.6,1145.0 C1449.4,1146.3 1456.2,1146.7 1466.0,1148.0 C1475.8,1149.3 1486.7,1151.4 1498.4,1152.7 C1510.1,1154.0 1524.0,1154.8 1536.0,1156.0 C1548.0,1157.2 1558.7,1158.9 1570.4,1160.0 C1582.2,1161.1 1595.1,1161.6 1606.5,1162.5 C1617.9,1163.4 1627.0,1164.5 1638.7,1165.5 C1650.4,1166.5 1664.9,1167.6 1676.6,1168.5 C1688.3,1169.4 1697.3,1170.4 1709.0,1171.0 C1720.7,1171.6 1734.8,1171.6 1746.8,1172.0 C1758.8,1172.4 1769.0,1173.2 1781.0,1173.5 C1793.0,1173.8 1807.1,1173.8 1818.8,1174.0 C1830.5,1174.2 1839.3,1174.5 1851.0,1175.0 C1862.7,1175.5 1861.7,1176.6 1889.0,1177.0 C1916.3,1177.4 1994.0,1177.4 2015.0,1177.5" clip-path="url(#gc2_0)" fill="none" stroke="#008000" stroke-width="8.5" stroke-dasharray="33.8 36.8" stroke-dashoffset="3.30"/>
<clipPath id="gc2_1"><rect x="498.0" y="799.5" width="606.0" height="388.0"/></clipPath>
<path d="M190.0,1173.4 C195.3,1173.4 210.8,1174.1 222.0,1173.4 C233.2,1172.7 245.8,1171.0 257.0,1169.0 C268.2,1167.0 278.8,1165.4 289.0,1161.7 C299.2,1158.0 308.5,1152.8 318.0,1147.0 C327.5,1141.2 337.2,1135.9 346.0,1126.7 C354.8,1117.5 363.0,1102.2 371.0,1091.7 C379.0,1081.2 387.2,1073.8 394.0,1064.0 C400.8,1054.2 405.4,1043.0 411.7,1033.0 C418.0,1023.0 426.2,1013.7 432.0,1004.0 C437.8,994.3 441.4,982.3 446.7,975.0 C452.0,967.7 458.2,963.7 464.0,960.0 C469.8,956.3 475.7,954.3 481.7,953.0 C487.7,951.7 494.6,951.7 500.0,952.0 C505.4,952.3 507.3,951.0 514.0,954.6 C520.7,958.2 531.0,966.8 540.0,973.6 C549.0,980.4 558.8,988.0 568.0,995.5 C577.2,1003.0 585.1,1013.0 595.5,1018.8 C605.9,1024.6 619.3,1027.3 630.5,1030.5 C641.7,1033.7 650.5,1036.4 662.6,1038.0 C674.7,1039.6 690.9,1039.8 703.0,1040.0 C715.1,1040.2 723.8,1039.2 735.5,1039.2 C747.2,1039.2 761.4,1039.5 773.0,1040.0 C784.6,1040.5 793.3,1040.0 805.0,1042.0 C816.7,1044.0 831.1,1048.8 843.0,1052.0 C854.9,1055.2 864.6,1058.5 876.5,1061.0 C888.4,1063.5 902.5,1064.5 914.4,1067.0 C926.3,1069.5 936.6,1073.0 948.0,1075.7 C959.4,1078.4 971.6,1081.3 983.0,1083.0 C994.4,1084.7 1004.8,1084.8 1016.5,1086.0 C1028.2,1087.2 1041.3,1088.1 1053.0,1090.0 C1064.7,1091.9 1074.8,1096.0 1086.5,1097.5 C1098.2,1099.0 1111.3,1097.8 1123.0,1099.0 C1134.7,1100.2 1144.8,1103.3 1156.5,1105.0 C1168.2,1106.7 1181.3,1107.3 1193.0,1109.0 C1204.7,1110.7 1214.3,1113.2 1226.5,1115.0 C1238.7,1116.8 1254.2,1118.5 1266.0,1120.0 C1277.8,1121.5 1285.2,1122.3 1297.0,1124.0 C1308.8,1125.7 1324.9,1128.1 1337.0,1130.0 C1349.1,1131.9 1357.8,1133.9 1369.5,1135.6 C1381.2,1137.3 1395.3,1138.4 1407.0,1140.0 C1418.7,1141.6 1429.8,1143.7 1439.6,1145.0 C1449.4,1146.3 1456.2,1146.7 1466.0,1148.0 C1475.8,1149.3 1486.7,1151.4 1498.4,1152.7 C1510.1,1154.0 1524.0,1154.8 1536.0,1156.0 C1548.0,1157.2 1558.7,1158.9 1570.4,1160.0 C1582.2,1161.1 1595.1,1161.6 1606.5,1162.5 C1617.9,1163.4 1627.0,1164.5 1638.7,1165.5 C1650.4,1166.5 1664.9,1167.6 1676.6,1168.5 C1688.3,1169.4 1697.3,1170.4 1709.0,1171.0 C1720.7,1171.6 1734.8,1171.6 1746.8,1172.0 C1758.8,1172.4 1769.0,1173.2 1781.0,1173.5 C1793.0,1173.8 1807.1,1173.8 1818.8,1174.0 C1830.5,1174.2 1839.3,1174.5 1851.0,1175.0 C1862.7,1175.5 1861.7,1176.6 1889.0,1177.0 C1916.3,1177.4 1994.0,1177.4 2015.0,1177.5" clip-path="url(#gc2_1)" fill="none" stroke="#008000" stroke-width="8.5" stroke-dasharray="33.8 36.8" stroke-dashoffset="66.95"/>
<clipPath id="gc2_2"><rect x="1104.0" y="799.5" width="484.0" height="388.0"/></clipPath>
<path d="M190.0,1173.4 C195.3,1173.4 210.8,1174.1 222.0,1173.4 C233.2,1172.7 245.8,1171.0 257.0,1169.0 C268.2,1167.0 278.8,1165.4 289.0,1161.7 C299.2,1158.0 308.5,1152.8 318.0,1147.0 C327.5,1141.2 337.2,1135.9 346.0,1126.7 C354.8,1117.5 363.0,1102.2 371.0,1091.7 C379.0,1081.2 387.2,1073.8 394.0,1064.0 C400.8,1054.2 405.4,1043.0 411.7,1033.0 C418.0,1023.0 426.2,1013.7 432.0,1004.0 C437.8,994.3 441.4,982.3 446.7,975.0 C452.0,967.7 458.2,963.7 464.0,960.0 C469.8,956.3 475.7,954.3 481.7,953.0 C487.7,951.7 494.6,951.7 500.0,952.0 C505.4,952.3 507.3,951.0 514.0,954.6 C520.7,958.2 531.0,966.8 540.0,973.6 C549.0,980.4 558.8,988.0 568.0,995.5 C577.2,1003.0 585.1,1013.0 595.5,1018.8 C605.9,1024.6 619.3,1027.3 630.5,1030.5 C641.7,1033.7 650.5,1036.4 662.6,1038.0 C674.7,1039.6 690.9,1039.8 703.0,1040.0 C715.1,1040.2 723.8,1039.2 735.5,1039.2 C747.2,1039.2 761.4,1039.5 773.0,1040.0 C784.6,1040.5 793.3,1040.0 805.0,1042.0 C816.7,1044.0 831.1,1048.8 843.0,1052.0 C854.9,1055.2 864.6,1058.5 876.5,1061.0 C888.4,1063.5 902.5,1064.5 914.4,1067.0 C926.3,1069.5 936.6,1073.0 948.0,1075.7 C959.4,1078.4 971.6,1081.3 983.0,1083.0 C994.4,1084.7 1004.8,1084.8 1016.5,1086.0 C1028.2,1087.2 1041.3,1088.1 1053.0,1090.0 C1064.7,1091.9 1074.8,1096.0 1086.5,1097.5 C1098.2,1099.0 1111.3,1097.8 1123.0,1099.0 C1134.7,1100.2 1144.8,1103.3 1156.5,1105.0 C1168.2,1106.7 1181.3,1107.3 1193.0,1109.0 C1204.7,1110.7 1214.3,1113.2 1226.5,1115.0 C1238.7,1116.8 1254.2,1118.5 1266.0,1120.0 C1277.8,1121.5 1285.2,1122.3 1297.0,1124.0 C1308.8,1125.7 1324.9,1128.1 1337.0,1130.0 C1349.1,1131.9 1357.8,1133.9 1369.5,1135.6 C1381.2,1137.3 1395.3,1138.4 1407.0,1140.0 C1418.7,1141.6 1429.8,1143.7 1439.6,1145.0 C1449.4,1146.3 1456.2,1146.7 1466.0,1148.0 C1475.8,1149.3 1486.7,1151.4 1498.4,1152.7 C1510.1,1154.0 1524.0,1154.8 1536.0,1156.0 C1548.0,1157.2 1558.7,1158.9 1570.4,1160.0 C1582.2,1161.1 1595.1,1161.6 1606.5,1162.5 C1617.9,1163.4 1627.0,1164.5 1638.7,1165.5 C1650.4,1166.5 1664.9,1167.6 1676.6,1168.5 C1688.3,1169.4 1697.3,1170.4 1709.0,1171.0 C1720.7,1171.6 1734.8,1171.6 1746.8,1172.0 C1758.8,1172.4 1769.0,1173.2 1781.0,1173.5 C1793.0,1173.8 1807.1,1173.8 1818.8,1174.0 C1830.5,1174.2 1839.3,1174.5 1851.0,1175.0 C1862.7,1175.5 1861.7,1176.6 1889.0,1177.0 C1916.3,1177.4 1994.0,1177.4 2015.0,1177.5" clip-path="url(#gc2_2)" fill="none" stroke="#008000" stroke-width="8.5" stroke-dasharray="33.8 36.8" stroke-dashoffset="63.72"/>
<clipPath id="gc2_3"><rect x="1588.0" y="799.5" width="428.0" height="388.0"/></clipPath>
<path d="M190.0,1173.4 C195.3,1173.4 210.8,1174.1 222.0,1173.4 C233.2,1172.7 245.8,1171.0 257.0,1169.0 C268.2,1167.0 278.8,1165.4 289.0,1161.7 C299.2,1158.0 308.5,1152.8 318.0,1147.0 C327.5,1141.2 337.2,1135.9 346.0,1126.7 C354.8,1117.5 363.0,1102.2 371.0,1091.7 C379.0,1081.2 387.2,1073.8 394.0,1064.0 C400.8,1054.2 405.4,1043.0 411.7,1033.0 C418.0,1023.0 426.2,1013.7 432.0,1004.0 C437.8,994.3 441.4,982.3 446.7,975.0 C452.0,967.7 458.2,963.7 464.0,960.0 C469.8,956.3 475.7,954.3 481.7,953.0 C487.7,951.7 494.6,951.7 500.0,952.0 C505.4,952.3 507.3,951.0 514.0,954.6 C520.7,958.2 531.0,966.8 540.0,973.6 C549.0,980.4 558.8,988.0 568.0,995.5 C577.2,1003.0 585.1,1013.0 595.5,1018.8 C605.9,1024.6 619.3,1027.3 630.5,1030.5 C641.7,1033.7 650.5,1036.4 662.6,1038.0 C674.7,1039.6 690.9,1039.8 703.0,1040.0 C715.1,1040.2 723.8,1039.2 735.5,1039.2 C747.2,1039.2 761.4,1039.5 773.0,1040.0 C784.6,1040.5 793.3,1040.0 805.0,1042.0 C816.7,1044.0 831.1,1048.8 843.0,1052.0 C854.9,1055.2 864.6,1058.5 876.5,1061.0 C888.4,1063.5 902.5,1064.5 914.4,1067.0 C926.3,1069.5 936.6,1073.0 948.0,1075.7 C959.4,1078.4 971.6,1081.3 983.0,1083.0 C994.4,1084.7 1004.8,1084.8 1016.5,1086.0 C1028.2,1087.2 1041.3,1088.1 1053.0,1090.0 C1064.7,1091.9 1074.8,1096.0 1086.5,1097.5 C1098.2,1099.0 1111.3,1097.8 1123.0,1099.0 C1134.7,1100.2 1144.8,1103.3 1156.5,1105.0 C1168.2,1106.7 1181.3,1107.3 1193.0,1109.0 C1204.7,1110.7 1214.3,1113.2 1226.5,1115.0 C1238.7,1116.8 1254.2,1118.5 1266.0,1120.0 C1277.8,1121.5 1285.2,1122.3 1297.0,1124.0 C1308.8,1125.7 1324.9,1128.1 1337.0,1130.0 C1349.1,1131.9 1357.8,1133.9 1369.5,1135.6 C1381.2,1137.3 1395.3,1138.4 1407.0,1140.0 C1418.7,1141.6 1429.8,1143.7 1439.6,1145.0 C1449.4,1146.3 1456.2,1146.7 1466.0,1148.0 C1475.8,1149.3 1486.7,1151.4 1498.4,1152.7 C1510.1,1154.0 1524.0,1154.8 1536.0,1156.0 C1548.0,1157.2 1558.7,1158.9 1570.4,1160.0 C1582.2,1161.1 1595.1,1161.6 1606.5,1162.5 C1617.9,1163.4 1627.0,1164.5 1638.7,1165.5 C1650.4,1166.5 1664.9,1167.6 1676.6,1168.5 C1688.3,1169.4 1697.3,1170.4 1709.0,1171.0 C1720.7,1171.6 1734.8,1171.6 1746.8,1172.0 C1758.8,1172.4 1769.0,1173.2 1781.0,1173.5 C1793.0,1173.8 1807.1,1173.8 1818.8,1174.0 C1830.5,1174.2 1839.3,1174.5 1851.0,1175.0 C1862.7,1175.5 1861.7,1176.6 1889.0,1177.0 C1916.3,1177.4 1994.0,1177.4 2015.0,1177.5" clip-path="url(#gc2_3)" fill="none" stroke="#008000" stroke-width="8.5" stroke-dasharray="33.8 36.8" stroke-dashoffset="69.40"/>
</g>
<g clip-path="url(#clip3)">
<path d="M188.0,1562.5 C194.4,1562.0 214.0,1562.0 226.5,1559.7 C239.0,1557.4 250.8,1552.2 263.0,1548.8 C275.1,1545.3 287.3,1542.2 299.4,1539.0 C311.5,1535.8 323.6,1532.9 335.8,1529.3 C348.0,1525.7 362.2,1522.1 372.3,1517.2 C382.4,1512.3 388.5,1506.5 396.6,1500.0 C404.7,1493.5 412.9,1485.2 421.0,1478.3 C429.1,1471.4 437.1,1464.9 445.2,1458.8 C453.3,1452.7 461.4,1445.4 469.5,1441.8 C477.6,1438.2 485.7,1439.0 493.8,1437.0 C501.9,1435.0 510.7,1432.5 518.0,1429.7 C525.3,1426.9 531.5,1423.7 537.6,1420.0 C543.7,1416.3 549.7,1410.2 554.6,1407.8 C559.5,1405.4 562.7,1404.2 566.8,1405.4 C570.9,1406.6 575.0,1408.9 579.0,1415.0 C583.0,1421.1 587.0,1433.3 591.0,1441.8 C595.0,1450.3 597.1,1458.3 603.2,1466.0 C609.3,1473.7 619.4,1482.3 627.5,1488.0 C635.6,1493.7 644.1,1497.1 652.0,1500.0 C659.9,1502.9 666.9,1504.0 675.0,1505.5 C683.1,1507.0 691.4,1507.7 700.5,1509.0 C709.6,1510.3 720.0,1512.2 729.7,1513.4 C739.4,1514.6 744.4,1515.1 758.9,1516.0 C773.4,1516.9 797.4,1516.9 816.7,1518.8 C836.1,1520.7 855.5,1524.8 875.0,1527.5 C894.5,1530.2 913.9,1533.6 933.4,1534.8 C952.9,1536.0 972.3,1535.0 991.7,1534.8 C1011.1,1534.6 1030.5,1533.4 1050.0,1533.4 C1069.5,1533.4 1089.0,1534.3 1108.4,1534.8 C1127.9,1535.3 1147.3,1535.9 1166.7,1536.3 C1186.1,1536.7 1202.8,1536.8 1225.0,1536.9 C1247.2,1537.1 1270.5,1537.1 1300.0,1537.2 C1329.5,1537.3 1371.4,1537.5 1401.7,1537.5 C1432.0,1537.5 1465.3,1536.6 1482.0,1537.0 C1498.7,1537.4 1494.8,1538.7 1502.0,1540.0 C1509.2,1541.3 1514.7,1543.1 1525.0,1544.7 C1535.3,1546.3 1551.0,1548.4 1564.0,1549.6 C1577.0,1550.8 1586.8,1550.5 1603.0,1551.6 C1619.2,1552.7 1638.3,1555.3 1661.0,1556.4 C1683.7,1557.5 1719.0,1558.0 1739.0,1558.4 C1759.0,1558.8 1761.4,1558.7 1781.0,1559.0 C1800.6,1559.3 1831.4,1559.8 1856.7,1560.2 C1882.0,1560.7 1906.0,1561.2 1932.6,1561.7 C1959.1,1562.2 2002.1,1562.7 2016.0,1562.9" fill="none" stroke="#000" stroke-width="8.5" stroke-linejoin="round" stroke-linecap="round"/>
<polygon points="188.0,1559.5 191.0,1559.5 194.0,1559.5 197.0,1559.5 200.0,1559.5 203.0,1559.5 206.0,1559.5 209.0,1559.5 212.0,1559.5 215.0,1559.5 218.0,1559.5 221.0,1559.5 224.0,1559.5 227.0,1559.5 230.0,1559.5 233.0,1559.5 236.0,1559.4 239.0,1559.3 242.0,1559.1 245.0,1558.9 248.0,1558.7 251.0,1558.4 254.0,1558.1 257.0,1557.8 260.0,1557.4 263.0,1557.1 266.0,1556.6 269.0,1556.2 272.0,1555.8 275.0,1555.3 278.0,1554.8 281.0,1554.3 284.0,1553.8 287.0,1553.3 290.0,1552.8 293.0,1552.2 296.0,1551.6 299.0,1550.9 302.0,1550.1 305.0,1549.2 308.0,1548.3 311.0,1547.3 314.0,1546.2 317.0,1545.1 320.0,1544.0 323.0,1542.8 326.0,1541.6 329.0,1540.4 332.0,1539.2 335.0,1537.9 338.0,1536.5 341.0,1535.1 344.0,1533.5 347.0,1532.0 350.0,1530.3 353.0,1528.6 356.0,1526.9 359.0,1525.1 362.0,1523.2 365.0,1521.3 368.0,1519.2 371.0,1517.0 374.0,1514.7 377.0,1512.4 380.0,1510.0 383.0,1507.6 386.0,1505.2 389.0,1502.8 392.0,1500.4 395.0,1497.9 398.0,1495.4 401.0,1492.9 404.0,1490.3 407.0,1487.7 410.0,1485.1 413.0,1482.6 416.0,1480.1 419.0,1477.6 422.0,1475.2 425.0,1472.8 428.0,1470.5 431.0,1468.1 434.0,1465.8 437.0,1463.6 440.0,1461.4 443.0,1459.3 446.0,1457.3 449.0,1455.4 452.0,1453.5 455.0,1451.6 458.0,1449.7 461.0,1448.0 464.0,1446.4 467.0,1445.0 470.0,1443.8 473.0,1442.8 476.0,1441.8 479.0,1441.0 482.0,1440.2 485.0,1439.5 488.0,1438.7 491.0,1437.9 494.0,1436.9 497.0,1435.8 500.0,1434.5 503.0,1433.3 506.0,1432.5 509.0,1432.0 512.0,1431.5 515.0,1431.1 518.0,1430.7 521.0,1430.4 524.0,1430.1 527.0,1429.9 530.0,1429.7 533.0,1429.5 536.0,1429.3 539.0,1429.2 542.0,1429.1 545.0,1429.0 548.0,1429.0 551.0,1429.3 554.0,1429.6 557.0,1430.4 560.0,1432.0 563.0,1434.2 566.0,1436.4 569.0,1438.6 572.0,1440.8 575.0,1443.3 578.0,1445.8 581.0,1448.6 584.0,1451.6 587.0,1454.8 590.0,1457.9 593.0,1460.6 596.0,1463.3 599.0,1465.8 602.0,1468.3 605.0,1470.8 608.0,1473.2 611.0,1475.6 614.0,1478.0 617.0,1480.5 620.0,1482.8 623.0,1485.0 626.0,1487.1 629.0,1488.9 632.0,1490.5 635.0,1491.9 638.0,1493.3 641.0,1494.6 644.0,1496.0 647.0,1497.4 650.0,1498.9 653.0,1500.6 656.0,1502.4 659.0,1504.4 662.0,1506.5 665.0,1508.7 668.0,1510.8 671.0,1513.0 674.0,1515.0 677.0,1517.0 680.0,1518.9 683.0,1520.7 686.0,1522.6 689.0,1524.5 692.0,1526.4 695.0,1528.4 698.0,1530.6 701.0,1532.9 704.0,1535.4 707.0,1538.0 710.0,1540.6 713.0,1543.0 716.0,1545.4 719.0,1547.9 722.0,1550.3 725.0,1552.4 728.0,1554.0 731.0,1555.4 734.0,1556.7 737.0,1557.9 740.0,1558.8 743.0,1559.4 746.0,1559.5 749.0,1559.5 752.0,1559.5 755.0,1559.5 758.0,1559.5 761.0,1559.5 764.0,1559.5 767.0,1559.5 770.0,1559.5 773.0,1559.5 776.0,1559.5 779.0,1559.5 782.0,1559.5 785.0,1559.5 788.0,1559.5 791.0,1559.5 794.0,1559.5 797.0,1559.5 800.0,1559.5 803.0,1559.5 806.0,1559.5 809.0,1559.5 812.0,1559.5 815.0,1559.5 818.0,1559.5 821.0,1559.5 824.0,1559.5 827.0,1559.5 830.0,1559.5 833.0,1559.5 836.0,1559.5 839.0,1559.5 842.0,1559.5 845.0,1559.5 848.0,1559.5 851.0,1559.5 854.0,1559.5 857.0,1559.5 860.0,1559.5 863.0,1559.5 866.0,1559.5 869.0,1559.5 872.0,1559.5 875.0,1559.5 878.0,1559.5 881.0,1559.5 884.0,1559.5 887.0,1559.5 890.0,1559.5 893.0,1559.5 896.0,1559.5 899.0,1559.5 902.0,1559.5 905.0,1559.5 908.0,1559.5 911.0,1559.5 914.0,1559.5 917.0,1559.5 920.0,1559.5 923.0,1559.5 926.0,1559.5 929.0,1559.5 932.0,1559.5 935.0,1559.5 938.0,1559.5 941.0,1559.5 944.0,1559.5 947.0,1559.5 950.0,1559.5 953.0,1559.5 956.0,1559.5 959.0,1559.5 962.0,1559.5 965.0,1559.5 968.0,1559.5 971.0,1559.5 974.0,1559.5 977.0,1559.5 980.0,1559.5 983.0,1559.5 986.0,1559.5 989.0,1559.5 992.0,1559.5 995.0,1559.5 998.0,1559.5 1001.0,1559.5 1004.0,1559.5 1007.0,1559.5 1010.0,1559.5 1013.0,1559.5 1016.0,1559.5 1019.0,1559.5 1022.0,1559.5 1025.0,1559.5 1028.0,1559.5 1031.0,1559.5 1034.0,1559.5 1037.0,1559.5 1040.0,1559.5 1043.0,1559.5 1046.0,1559.5 1049.0,1559.5 1052.0,1559.5 1055.0,1559.5 1058.0,1559.5 1061.0,1559.5 1064.0,1559.5 1067.0,1559.5 1070.0,1559.5 1073.0,1559.5 1076.0,1559.5 1079.0,1559.5 1082.0,1559.5 1085.0,1559.5 1088.0,1559.5 1091.0,1559.5 1094.0,1559.5 1097.0,1559.5 1100.0,1559.5 1103.0,1559.5 1106.0,1559.5 1109.0,1559.5 1112.0,1559.5 1115.0,1559.5 1118.0,1559.5 1121.0,1559.5 1124.0,1559.5 1127.0,1559.5 1130.0,1559.5 1133.0,1559.5 1136.0,1559.5 1139.0,1559.5 1142.0,1559.5 1145.0,1559.5 1148.0,1559.5 1151.0,1559.5 1154.0,1559.5 1157.0,1559.5 1160.0,1559.5 1163.0,1559.5 1166.0,1559.5 1169.0,1559.5 1172.0,1559.5 1175.0,1559.5 1178.0,1559.5 1181.0,1559.5 1184.0,1559.5 1187.0,1559.5 1190.0,1559.5 1193.0,1559.5 1196.0,1559.5 1199.0,1559.5 1202.0,1559.5 1205.0,1559.5 1208.0,1559.5 1211.0,1559.5 1214.0,1559.5 1217.0,1559.5 1220.0,1559.5 1223.0,1559.5 1226.0,1559.5 1229.0,1559.5 1232.0,1559.5 1235.0,1559.5 1238.0,1559.5 1241.0,1559.5 1244.0,1559.5 1247.0,1559.5 1250.0,1559.5 1253.0,1559.5 1256.0,1559.5 1259.0,1559.5 1262.0,1559.5 1265.0,1559.5 1268.0,1559.5 1271.0,1559.5 1274.0,1559.5 1277.0,1559.5 1280.0,1559.5 1283.0,1559.5 1286.0,1559.5 1289.0,1559.5 1292.0,1559.5 1295.0,1559.5 1298.0,1559.5 1301.0,1559.5 1304.0,1559.5 1307.0,1559.5 1310.0,1559.5 1313.0,1559.5 1316.0,1559.5 1319.0,1559.5 1322.0,1559.5 1325.0,1559.5 1328.0,1559.5 1331.0,1559.5 1334.0,1559.5 1337.0,1559.5 1340.0,1559.5 1343.0,1559.5 1346.0,1559.5 1349.0,1559.5 1352.0,1559.5 1355.0,1559.5 1358.0,1559.5 1361.0,1559.5 1364.0,1559.5 1367.0,1559.5 1370.0,1559.5 1373.0,1559.5 1376.0,1559.5 1379.0,1559.5 1382.0,1559.5 1385.0,1559.5 1388.0,1559.5 1391.0,1559.5 1394.0,1559.5 1397.0,1559.5 1400.0,1559.5 1403.0,1559.5 1406.0,1559.5 1409.0,1559.5 1412.0,1559.5 1415.0,1559.5 1418.0,1559.5 1421.0,1559.5 1424.0,1559.5 1427.0,1559.5 1430.0,1559.5 1433.0,1559.5 1436.0,1559.5 1439.0,1559.5 1442.0,1559.5 1445.0,1559.5 1448.0,1559.5 1451.0,1559.5 1454.0,1559.5 1457.0,1559.5 1460.0,1559.5 1463.0,1559.5 1466.0,1559.5 1469.0,1559.5 1472.0,1559.5 1475.0,1559.5 1478.0,1559.5 1481.0,1559.5 1484.0,1559.5 1487.0,1559.5 1490.0,1559.5 1493.0,1559.5 1496.0,1559.5 1499.0,1559.5 1502.0,1559.5 1505.0,1559.5 1508.0,1559.5 1511.0,1559.5 1514.0,1559.5 1517.0,1559.5 1520.0,1559.5 1523.0,1559.5 1526.0,1559.5 1529.0,1559.5 1532.0,1559.5 1535.0,1559.5 1538.0,1559.5 1541.0,1559.5 1544.0,1559.5 1547.0,1559.5 1550.0,1559.5 1553.0,1559.5 1556.0,1559.5 1559.0,1559.5 1562.0,1559.5 1565.0,1559.5 1568.0,1559.5 1571.0,1559.5 1574.0,1559.5 1577.0,1559.5 1580.0,1559.5 1583.0,1559.5 1586.0,1559.5 1589.0,1559.5 1592.0,1559.5 1595.0,1559.5 1598.0,1559.5 1601.0,1559.5 1604.0,1559.5 1607.0,1559.5 1610.0,1559.5 1613.0,1559.5 1616.0,1559.5 1619.0,1559.5 1622.0,1559.5 1625.0,1559.5 1628.0,1559.5 1631.0,1559.5 1634.0,1559.5 1637.0,1559.5 1640.0,1559.5 1643.0,1559.5 1646.0,1559.5 1649.0,1559.5 1652.0,1559.5 1655.0,1559.5 1658.0,1559.5 1661.0,1559.5 1664.0,1559.5 1667.0,1559.5 1670.0,1559.5 1673.0,1559.5 1676.0,1559.5 1679.0,1559.5 1682.0,1559.5 1685.0,1559.5 1688.0,1559.5 1691.0,1559.5 1694.0,1559.5 1697.0,1559.5 1700.0,1559.5 1703.0,1559.5 1706.0,1559.5 1709.0,1559.5 1712.0,1559.5 1715.0,1559.5 1718.0,1559.5 1721.0,1559.5 1724.0,1559.5 1727.0,1559.5 1730.0,1559.5 1733.0,1559.5 1736.0,1559.5 1739.0,1559.5 1742.0,1559.5 1745.0,1559.5 1748.0,1559.5 1751.0,1559.5 1754.0,1559.5 1757.0,1559.5 1760.0,1559.5 1763.0,1559.5 1766.0,1559.5 1769.0,1559.5 1772.0,1559.5 1775.0,1559.5 1778.0,1559.5 1781.0,1559.5 1784.0,1559.5 1787.0,1559.5 1790.0,1559.5 1793.0,1559.5 1796.0,1559.5 1799.0,1559.5 1802.0,1559.5 1805.0,1559.5 1808.0,1559.5 1811.0,1559.5 1814.0,1559.5 1817.0,1559.5 1820.0,1559.5 1823.0,1559.5 1826.0,1559.5 1829.0,1559.5 1832.0,1559.5 1835.0,1559.5 1838.0,1559.5 1841.0,1559.5 1844.0,1559.5 1847.0,1559.5 1850.0,1559.5 1853.0,1559.5 1856.0,1559.5 1859.0,1559.5 1862.0,1559.5 1865.0,1559.5 1868.0,1559.5 1871.0,1559.5 1874.0,1559.5 1877.0,1559.5 1880.0,1559.5 1883.0,1559.5 1886.0,1559.5 1889.0,1559.5 1892.0,1559.5 1895.0,1559.5 1898.0,1559.5 1901.0,1559.5 1904.0,1559.5 1907.0,1559.5 1910.0,1559.5 1913.0,1559.5 1916.0,1559.5 1919.0,1559.5 1922.0,1559.5 1925.0,1559.5 1928.0,1559.5 1931.0,1559.5 1934.0,1559.5 1937.0,1559.5 1940.0,1559.5 1943.0,1559.5 1946.0,1559.5 1949.0,1559.5 1952.0,1559.5 1955.0,1559.5 1958.0,1559.5 1961.0,1559.5 1964.0,1559.5 1967.0,1559.5 1970.0,1559.5 1973.0,1559.5 1976.0,1559.5 1979.0,1559.5 1982.0,1559.5 1985.0,1559.5 1988.0,1559.5 1991.0,1559.5 1994.0,1559.5 1997.0,1559.5 2000.0,1559.5 2003.0,1559.5 2006.0,1559.5 2009.0,1559.5 2012.0,1559.5 2015.0,1559.5 2018.0,1559.5 2018.0,1559.5 188.0,1559.5" fill="#ff0000" fill-opacity="0.60" stroke="none"/>
<polyline points="188.0,1566.0 191.0,1566.0 194.0,1566.0 197.0,1566.0 200.0,1566.0 203.0,1566.0 206.0,1566.0 209.0,1566.0 212.0,1566.0 215.0,1566.0 218.0,1566.0 221.0,1566.0 224.0,1566.0 227.0,1566.0 230.0,1566.0 233.0,1566.0 236.0,1565.9 239.0,1565.8 242.0,1565.6 245.0,1565.4 248.0,1565.2 251.0,1564.9 254.0,1564.6 257.0,1564.3 260.0,1563.9 263.0,1563.6 266.0,1563.1 269.0,1562.7 272.0,1562.3 275.0,1561.8 278.0,1561.3 281.0,1560.8 284.0,1560.3 287.0,1559.8 290.0,1559.3 293.0,1558.7 296.0,1558.1 299.0,1557.4 302.0,1556.6 305.0,1555.7 308.0,1554.8 311.0,1553.8 314.0,1552.7 317.0,1551.6 320.0,1550.5 323.0,1549.3 326.0,1548.1 329.0,1546.9 332.0,1545.7 335.0,1544.4 338.0,1543.0 341.0,1541.6 344.0,1540.0 347.0,1538.5 350.0,1536.8 353.0,1535.1 356.0,1533.4 359.0,1531.6 362.0,1529.7 365.0,1527.8 368.0,1525.7 371.0,1523.5 374.0,1521.2 377.0,1518.9 380.0,1516.5 383.0,1514.1 386.0,1511.7 389.0,1509.3 392.0,1506.9 395.0,1504.4 398.0,1501.9 401.0,1499.4 404.0,1496.8 407.0,1494.2 410.0,1491.6 413.0,1489.1 416.0,1486.6 419.0,1484.1 422.0,1481.7 425.0,1479.3 428.0,1477.0 431.0,1474.6 434.0,1472.3 437.0,1470.1 440.0,1467.9 443.0,1465.8 446.0,1463.8 449.0,1461.9 452.0,1460.0 455.0,1458.1 458.0,1456.2 461.0,1454.5 464.0,1452.9 467.0,1451.5 470.0,1450.3 473.0,1449.3 476.0,1448.3 479.0,1447.5 482.0,1446.7 485.0,1446.0 488.0,1445.2 491.0,1444.4 494.0,1443.4 497.0,1442.3 500.0,1441.0 503.0,1439.8 506.0,1439.0 509.0,1438.5 512.0,1438.0 515.0,1437.6 518.0,1437.2 521.0,1436.9 524.0,1436.6 527.0,1436.4 530.0,1436.2 533.0,1436.0 536.0,1435.8 539.0,1435.7 542.0,1435.6 545.0,1435.5 548.0,1435.5 551.0,1435.8 554.0,1436.1 557.0,1436.9 560.0,1438.5 563.0,1440.7 566.0,1442.9 569.0,1445.1 572.0,1447.3 575.0,1449.8 578.0,1452.3 581.0,1455.1 584.0,1458.1 587.0,1461.3 590.0,1464.4 593.0,1467.1 596.0,1469.8 599.0,1472.3 602.0,1474.8 605.0,1477.3 608.0,1479.7 611.0,1482.1 614.0,1484.5 617.0,1487.0 620.0,1489.3 623.0,1491.5 626.0,1493.6 629.0,1495.4 632.0,1497.0 635.0,1498.4 638.0,1499.8 641.0,1501.1 644.0,1502.5 647.0,1503.9 650.0,1505.4 653.0,1507.1 656.0,1508.9 659.0,1510.9 662.0,1513.0 665.0,1515.2 668.0,1517.3 671.0,1519.5 674.0,1521.5 677.0,1523.5 680.0,1525.4 683.0,1527.2 686.0,1529.1 689.0,1531.0 692.0,1532.9 695.0,1534.9 698.0,1537.1 701.0,1539.4 704.0,1541.9 707.0,1544.5 710.0,1547.1 713.0,1549.5 716.0,1551.9 719.0,1554.4 722.0,1556.8 725.0,1558.9 728.0,1560.5 731.0,1561.9 734.0,1563.2 737.0,1564.4 740.0,1565.3 743.0,1565.9 746.0,1566.0 749.0,1566.0 752.0,1566.0 755.0,1566.0 758.0,1566.0 761.0,1566.0 764.0,1566.0 767.0,1566.0 770.0,1566.0 773.0,1566.0 776.0,1566.0 779.0,1566.0 782.0,1566.0 785.0,1566.0 788.0,1566.0 791.0,1566.0 794.0,1566.0 797.0,1566.0 800.0,1566.0 803.0,1566.0 806.0,1566.0 809.0,1566.0 812.0,1566.0 815.0,1566.0 818.0,1566.0 821.0,1566.0 824.0,1566.0 827.0,1566.0 830.0,1566.0 833.0,1566.0 836.0,1566.0 839.0,1566.0 842.0,1566.0 845.0,1566.0 848.0,1566.0 851.0,1566.0 854.0,1566.0 857.0,1566.0 860.0,1566.0 863.0,1566.0 866.0,1566.0 869.0,1566.0 872.0,1566.0 875.0,1566.0 878.0,1566.0 881.0,1566.0 884.0,1566.0 887.0,1566.0 890.0,1566.0 893.0,1566.0 896.0,1566.0 899.0,1566.0 902.0,1566.0 905.0,1566.0 908.0,1566.0 911.0,1566.0 914.0,1566.0 917.0,1566.0 920.0,1566.0 923.0,1566.0 926.0,1566.0 929.0,1566.0 932.0,1566.0 935.0,1566.0 938.0,1566.0 941.0,1566.0 944.0,1566.0 947.0,1566.0 950.0,1566.0 953.0,1566.0 956.0,1566.0 959.0,1566.0 962.0,1566.0 965.0,1566.0 968.0,1566.0 971.0,1566.0 974.0,1566.0 977.0,1566.0 980.0,1566.0 983.0,1566.0 986.0,1566.0 989.0,1566.0 992.0,1566.0 995.0,1566.0 998.0,1566.0 1001.0,1566.0 1004.0,1566.0 1007.0,1566.0 1010.0,1566.0 1013.0,1566.0 1016.0,1566.0 1019.0,1566.0 1022.0,1566.0 1025.0,1566.0 1028.0,1566.0 1031.0,1566.0 1034.0,1566.0 1037.0,1566.0 1040.0,1566.0 1043.0,1566.0 1046.0,1566.0 1049.0,1566.0 1052.0,1566.0 1055.0,1566.0 1058.0,1566.0 1061.0,1566.0 1064.0,1566.0 1067.0,1566.0 1070.0,1566.0 1073.0,1566.0 1076.0,1566.0 1079.0,1566.0 1082.0,1566.0 1085.0,1566.0 1088.0,1566.0 1091.0,1566.0 1094.0,1566.0 1097.0,1566.0 1100.0,1566.0 1103.0,1566.0 1106.0,1566.0 1109.0,1566.0 1112.0,1566.0 1115.0,1566.0 1118.0,1566.0 1121.0,1566.0 1124.0,1566.0 1127.0,1566.0 1130.0,1566.0 1133.0,1566.0 1136.0,1566.0 1139.0,1566.0 1142.0,1566.0 1145.0,1566.0 1148.0,1566.0 1151.0,1566.0 1154.0,1566.0 1157.0,1566.0 1160.0,1566.0 1163.0,1566.0 1166.0,1566.0 1169.0,1566.0 1172.0,1566.0 1175.0,1566.0 1178.0,1566.0 1181.0,1566.0 1184.0,1566.0 1187.0,1566.0 1190.0,1566.0 1193.0,1566.0 1196.0,1566.0 1199.0,1566.0 1202.0,1566.0 1205.0,1566.0 1208.0,1566.0 1211.0,1566.0 1214.0,1566.0 1217.0,1566.0 1220.0,1566.0 1223.0,1566.0 1226.0,1566.0 1229.0,1566.0 1232.0,1566.0 1235.0,1566.0 1238.0,1566.0 1241.0,1566.0 1244.0,1566.0 1247.0,1566.0 1250.0,1566.0 1253.0,1566.0 1256.0,1566.0 1259.0,1566.0 1262.0,1566.0 1265.0,1566.0 1268.0,1566.0 1271.0,1566.0 1274.0,1566.0 1277.0,1566.0 1280.0,1566.0 1283.0,1566.0 1286.0,1566.0 1289.0,1566.0 1292.0,1566.0 1295.0,1566.0 1298.0,1566.0 1301.0,1566.0 1304.0,1566.0 1307.0,1566.0 1310.0,1566.0 1313.0,1566.0 1316.0,1566.0 1319.0,1566.0 1322.0,1566.0 1325.0,1566.0 1328.0,1566.0 1331.0,1566.0 1334.0,1566.0 1337.0,1566.0 1340.0,1566.0 1343.0,1566.0 1346.0,1566.0 1349.0,1566.0 1352.0,1566.0 1355.0,1566.0 1358.0,1566.0 1361.0,1566.0 1364.0,1566.0 1367.0,1566.0 1370.0,1566.0 1373.0,1566.0 1376.0,1566.0 1379.0,1566.0 1382.0,1566.0 1385.0,1566.0 1388.0,1566.0 1391.0,1566.0 1394.0,1566.0 1397.0,1566.0 1400.0,1566.0 1403.0,1566.0 1406.0,1566.0 1409.0,1566.0 1412.0,1566.0 1415.0,1566.0 1418.0,1566.0 1421.0,1566.0 1424.0,1566.0 1427.0,1566.0 1430.0,1566.0 1433.0,1566.0 1436.0,1566.0 1439.0,1566.0 1442.0,1566.0 1445.0,1566.0 1448.0,1566.0 1451.0,1566.0 1454.0,1566.0 1457.0,1566.0 1460.0,1566.0 1463.0,1566.0 1466.0,1566.0 1469.0,1566.0 1472.0,1566.0 1475.0,1566.0 1478.0,1566.0 1481.0,1566.0 1484.0,1566.0 1487.0,1566.0 1490.0,1566.0 1493.0,1566.0 1496.0,1566.0 1499.0,1566.0 1502.0,1566.0 1505.0,1566.0 1508.0,1566.0 1511.0,1566.0 1514.0,1566.0 1517.0,1566.0 1520.0,1566.0 1523.0,1566.0 1526.0,1566.0 1529.0,1566.0 1532.0,1566.0 1535.0,1566.0 1538.0,1566.0 1541.0,1566.0 1544.0,1566.0 1547.0,1566.0 1550.0,1566.0 1553.0,1566.0 1556.0,1566.0 1559.0,1566.0 1562.0,1566.0 1565.0,1566.0 1568.0,1566.0 1571.0,1566.0 1574.0,1566.0 1577.0,1566.0 1580.0,1566.0 1583.0,1566.0 1586.0,1566.0 1589.0,1566.0 1592.0,1566.0 1595.0,1566.0 1598.0,1566.0 1601.0,1566.0 1604.0,1566.0 1607.0,1566.0 1610.0,1566.0 1613.0,1566.0 1616.0,1566.0 1619.0,1566.0 1622.0,1566.0 1625.0,1566.0 1628.0,1566.0 1631.0,1566.0 1634.0,1566.0 1637.0,1566.0 1640.0,1566.0 1643.0,1566.0 1646.0,1566.0 1649.0,1566.0 1652.0,1566.0 1655.0,1566.0 1658.0,1566.0 1661.0,1566.0 1664.0,1566.0 1667.0,1566.0 1670.0,1566.0 1673.0,1566.0 1676.0,1566.0 1679.0,1566.0 1682.0,1566.0 1685.0,1566.0 1688.0,1566.0 1691.0,1566.0 1694.0,1566.0 1697.0,1566.0 1700.0,1566.0 1703.0,1566.0 1706.0,1566.0 1709.0,1566.0 1712.0,1566.0 1715.0,1566.0 1718.0,1566.0 1721.0,1566.0 1724.0,1566.0 1727.0,1566.0 1730.0,1566.0 1733.0,1566.0 1736.0,1566.0 1739.0,1566.0 1742.0,1566.0 1745.0,1566.0 1748.0,1566.0 1751.0,1566.0 1754.0,1566.0 1757.0,1566.0 1760.0,1566.0 1763.0,1566.0 1766.0,1566.0 1769.0,1566.0 1772.0,1566.0 1775.0,1566.0 1778.0,1566.0 1781.0,1566.0 1784.0,1566.0 1787.0,1566.0 1790.0,1566.0 1793.0,1566.0 1796.0,1566.0 1799.0,1566.0 1802.0,1566.0 1805.0,1566.0 1808.0,1566.0 1811.0,1566.0 1814.0,1566.0 1817.0,1566.0 1820.0,1566.0 1823.0,1566.0 1826.0,1566.0 1829.0,1566.0 1832.0,1566.0 1835.0,1566.0 1838.0,1566.0 1841.0,1566.0 1844.0,1566.0 1847.0,1566.0 1850.0,1566.0 1853.0,1566.0 1856.0,1566.0 1859.0,1566.0 1862.0,1566.0 1865.0,1566.0 1868.0,1566.0 1871.0,1566.0 1874.0,1566.0 1877.0,1566.0 1880.0,1566.0 1883.0,1566.0 1886.0,1566.0 1889.0,1566.0 1892.0,1566.0 1895.0,1566.0 1898.0,1566.0 1901.0,1566.0 1904.0,1566.0 1907.0,1566.0 1910.0,1566.0 1913.0,1566.0 1916.0,1566.0 1919.0,1566.0 1922.0,1566.0 1925.0,1566.0 1928.0,1566.0 1931.0,1566.0 1934.0,1566.0 1937.0,1566.0 1940.0,1566.0 1943.0,1566.0 1946.0,1566.0 1949.0,1566.0 1952.0,1566.0 1955.0,1566.0 1958.0,1566.0 1961.0,1566.0 1964.0,1566.0 1967.0,1566.0 1970.0,1566.0 1973.0,1566.0 1976.0,1566.0 1979.0,1566.0 1982.0,1566.0 1985.0,1566.0 1988.0,1566.0 1991.0,1566.0 1994.0,1566.0 1997.0,1566.0 2000.0,1566.0 2003.0,1566.0 2006.0,1566.0 2009.0,1566.0 2012.0,1566.0 2015.0,1566.0 2018.0,1566.0" fill="none" stroke="#ff0000" stroke-opacity="0.80" stroke-width="5" stroke-dasharray="36 34" stroke-dashoffset="0"/>
<line x1="188.0" y1="1562.5" x2="2015.0" y2="1562.5" stroke="#ff0000" stroke-opacity="0.80" stroke-width="6" stroke-dasharray="36 34" stroke-dashoffset="7"/>
<polygon points="188.0,1559.5 191.0,1559.5 194.0,1559.5 197.0,1559.5 200.0,1559.5 203.0,1559.5 206.0,1559.5 209.0,1559.5 212.0,1559.5 215.0,1559.5 218.0,1559.5 221.0,1559.5 224.0,1559.5 227.0,1559.5 230.0,1559.5 233.0,1559.5 236.0,1559.5 239.0,1559.5 242.0,1559.5 245.0,1559.5 248.0,1559.5 251.0,1559.5 254.0,1559.5 257.0,1559.5 260.0,1559.5 263.0,1559.5 266.0,1559.5 269.0,1559.5 272.0,1559.5 275.0,1559.5 278.0,1559.5 281.0,1559.5 284.0,1559.5 287.0,1559.5 290.0,1559.5 293.0,1559.5 296.0,1559.5 299.0,1559.5 302.0,1559.5 305.0,1559.5 308.0,1559.5 311.0,1559.5 314.0,1559.5 317.0,1559.5 320.0,1559.5 323.0,1559.5 326.0,1559.5 329.0,1559.5 332.0,1559.5 335.0,1559.5 338.0,1559.5 341.0,1559.5 344.0,1559.5 347.0,1559.5 350.0,1559.5 353.0,1559.5 356.0,1559.5 359.0,1559.5 362.0,1559.5 365.0,1559.5 368.0,1559.5 371.0,1559.5 374.0,1559.5 377.0,1559.5 380.0,1559.5 383.0,1559.5 386.0,1559.5 389.0,1559.5 392.0,1559.5 395.0,1559.5 398.0,1559.5 401.0,1559.5 404.0,1559.5 407.0,1559.5 410.0,1559.5 413.0,1559.5 416.0,1559.5 419.0,1559.5 422.0,1559.5 425.0,1559.5 428.0,1559.5 431.0,1559.5 434.0,1559.5 437.0,1559.5 440.0,1559.5 443.0,1559.5 446.0,1559.5 449.0,1559.5 452.0,1559.5 455.0,1559.5 458.0,1559.5 461.0,1559.5 464.0,1559.5 467.0,1559.5 470.0,1559.5 473.0,1559.5 476.0,1559.5 479.0,1559.5 482.0,1559.5 485.0,1559.5 488.0,1559.5 491.0,1559.5 494.0,1559.5 497.0,1559.5 500.0,1559.5 503.0,1559.5 506.0,1559.5 509.0,1559.5 512.0,1559.5 515.0,1559.5 518.0,1559.5 521.0,1559.5 524.0,1559.5 527.0,1559.5 530.0,1559.5 533.0,1559.5 536.0,1559.5 539.0,1559.5 542.0,1559.5 545.0,1559.5 548.0,1559.5 551.0,1559.5 554.0,1559.5 557.0,1559.5 560.0,1559.5 563.0,1559.5 566.0,1559.5 569.0,1559.5 572.0,1559.5 575.0,1559.5 578.0,1559.5 581.0,1559.5 584.0,1559.5 587.0,1559.5 590.0,1559.5 593.0,1559.5 596.0,1559.5 599.0,1559.5 602.0,1559.5 605.0,1559.5 608.0,1559.5 611.0,1559.5 614.0,1559.5 617.0,1559.5 620.0,1559.5 623.0,1559.5 626.0,1559.5 629.0,1559.5 632.0,1559.5 635.0,1559.5 638.0,1559.5 641.0,1559.5 644.0,1559.5 647.0,1559.5 650.0,1559.5 653.0,1559.5 656.0,1559.5 659.0,1559.5 662.0,1559.5 665.0,1559.5 668.0,1559.4 671.0,1559.4 674.0,1559.3 677.0,1559.2 680.0,1559.0 683.0,1558.9 686.0,1558.7 689.0,1558.6 692.0,1558.3 695.0,1557.8 698.0,1557.0 701.0,1556.0 704.0,1554.9 707.0,1553.7 710.0,1552.5 713.0,1550.9 716.0,1549.0 719.0,1546.9 722.0,1545.0 725.0,1543.5 728.0,1542.2 731.0,1540.9 734.0,1539.7 737.0,1538.6 740.0,1537.5 743.0,1536.3 746.0,1535.1 749.0,1534.1 752.0,1533.5 755.0,1533.3 758.0,1533.1 761.0,1532.9 764.0,1532.7 767.0,1532.5 770.0,1532.4 773.0,1532.3 776.0,1532.2 779.0,1532.1 782.0,1532.1 785.0,1532.0 788.0,1532.0 791.0,1532.0 794.0,1532.0 797.0,1532.0 800.0,1532.1 803.0,1532.1 806.0,1532.2 809.0,1532.3 812.0,1532.4 815.0,1532.5 818.0,1532.7 821.0,1532.8 824.0,1532.9 827.0,1533.2 830.0,1533.6 833.0,1534.1 836.0,1534.8 839.0,1535.6 842.0,1536.5 845.0,1537.5 848.0,1538.7 851.0,1540.2 854.0,1542.0 857.0,1543.8 860.0,1545.5 863.0,1547.2 866.0,1548.9 869.0,1550.6 872.0,1552.1 875.0,1553.5 878.0,1554.8 881.0,1556.0 884.0,1557.1 887.0,1558.0 890.0,1558.5 893.0,1558.8 896.0,1559.1 899.0,1559.3 902.0,1559.4 905.0,1559.5 908.0,1559.5 911.0,1559.5 914.0,1559.5 917.0,1559.5 920.0,1559.5 923.0,1559.5 926.0,1559.5 929.0,1559.5 932.0,1559.5 935.0,1559.5 938.0,1559.5 941.0,1559.5 944.0,1559.5 947.0,1559.5 950.0,1559.5 953.0,1559.5 956.0,1559.5 959.0,1559.5 962.0,1559.5 965.0,1559.5 968.0,1559.5 971.0,1559.5 974.0,1559.5 977.0,1559.5 980.0,1559.5 983.0,1559.5 986.0,1559.5 989.0,1559.5 992.0,1559.5 995.0,1559.5 998.0,1559.5 1001.0,1559.5 1004.0,1559.5 1007.0,1559.5 1010.0,1559.5 1013.0,1559.5 1016.0,1559.5 1019.0,1559.5 1022.0,1559.5 1025.0,1559.5 1028.0,1559.5 1031.0,1559.5 1034.0,1559.5 1037.0,1559.5 1040.0,1559.5 1043.0,1559.5 1046.0,1559.5 1049.0,1559.5 1052.0,1559.5 1055.0,1559.5 1058.0,1559.5 1061.0,1559.5 1064.0,1559.5 1067.0,1559.5 1070.0,1559.5 1073.0,1559.5 1076.0,1559.5 1079.0,1559.5 1082.0,1559.5 1085.0,1559.5 1088.0,1559.5 1091.0,1559.5 1094.0,1559.5 1097.0,1559.5 1100.0,1559.5 1103.0,1559.5 1106.0,1559.5 1109.0,1559.5 1112.0,1559.5 1115.0,1559.5 1118.0,1559.5 1121.0,1559.5 1124.0,1559.5 1127.0,1559.5 1130.0,1559.5 1133.0,1559.5 1136.0,1559.5 1139.0,1559.5 1142.0,1559.5 1145.0,1559.5 1148.0,1559.5 1151.0,1559.5 1154.0,1559.5 1157.0,1559.5 1160.0,1559.5 1163.0,1559.5 1166.0,1559.5 1169.0,1559.5 1172.0,1559.5 1175.0,1559.5 1178.0,1559.5 1181.0,1559.5 1184.0,1559.5 1187.0,1559.5 1190.0,1559.5 1193.0,1559.5 1196.0,1559.5 1199.0,1559.5 1202.0,1559.5 1205.0,1559.5 1208.0,1559.5 1211.0,1559.5 1214.0,1559.5 1217.0,1559.5 1220.0,1559.5 1223.0,1559.5 1226.0,1559.5 1229.0,1559.5 1232.0,1559.5 1235.0,1559.5 1238.0,1559.5 1241.0,1559.5 1244.0,1559.5 1247.0,1559.5 1250.0,1559.5 1253.0,1559.5 1256.0,1559.5 1259.0,1559.5 1262.0,1559.5 1265.0,1559.5 1268.0,1559.5 1271.0,1559.5 1274.0,1559.5 1277.0,1559.5 1280.0,1559.5 1283.0,1559.5 1286.0,1559.5 1289.0,1559.5 1292.0,1559.5 1295.0,1559.5 1298.0,1559.5 1301.0,1559.5 1304.0,1559.5 1307.0,1559.5 1310.0,1559.5 1313.0,1559.5 1316.0,1559.5 1319.0,1559.5 1322.0,1559.5 1325.0,1559.5 1328.0,1559.5 1331.0,1559.5 1334.0,1559.5 1337.0,1559.5 1340.0,1559.5 1343.0,1559.5 1346.0,1559.5 1349.0,1559.5 1352.0,1559.5 1355.0,1559.5 1358.0,1559.5 1361.0,1559.5 1364.0,1559.5 1367.0,1559.5 1370.0,1559.5 1373.0,1559.5 1376.0,1559.5 1379.0,1559.5 1382.0,1559.5 1385.0,1559.5 1388.0,1559.5 1391.0,1559.5 1394.0,1559.5 1397.0,1559.5 1400.0,1559.5 1403.0,1559.5 1406.0,1559.5 1409.0,1559.5 1412.0,1559.5 1415.0,1559.5 1418.0,1559.5 1421.0,1559.5 1424.0,1559.5 1427.0,1559.5 1430.0,1559.5 1433.0,1559.5 1436.0,1559.5 1439.0,1559.5 1442.0,1559.5 1445.0,1559.5 1448.0,1559.5 1451.0,1559.5 1454.0,1559.5 1457.0,1559.5 1460.0,1559.5 1463.0,1559.5 1466.0,1559.5 1469.0,1559.5 1472.0,1559.5 1475.0,1559.5 1478.0,1559.5 1481.0,1559.5 1484.0,1559.5 1487.0,1559.5 1490.0,1559.5 1493.0,1559.5 1496.0,1559.5 1499.0,1559.5 1502.0,1559.5 1505.0,1559.5 1508.0,1559.5 1511.0,1559.5 1514.0,1559.5 1517.0,1559.5 1520.0,1559.5 1523.0,1559.5 1526.0,1559.5 1529.0,1559.5 1532.0,1559.5 1535.0,1559.5 1538.0,1559.5 1541.0,1559.5 1544.0,1559.5 1547.0,1559.5 1550.0,1559.5 1553.0,1559.5 1556.0,1559.5 1559.0,1559.5 1562.0,1559.5 1565.0,1559.5 1568.0,1559.5 1571.0,1559.5 1574.0,1559.5 1577.0,1559.5 1580.0,1559.5 1583.0,1559.5 1586.0,1559.5 1589.0,1559.5 1592.0,1559.5 1595.0,1559.5 1598.0,1559.5 1601.0,1559.5 1604.0,1559.5 1607.0,1559.5 1610.0,1559.5 1613.0,1559.5 1616.0,1559.5 1619.0,1559.5 1622.0,1559.5 1625.0,1559.5 1628.0,1559.5 1631.0,1559.5 1634.0,1559.5 1637.0,1559.5 1640.0,1559.5 1643.0,1559.5 1646.0,1559.5 1649.0,1559.5 1652.0,1559.5 1655.0,1559.5 1658.0,1559.5 1661.0,1559.5 1664.0,1559.5 1667.0,1559.5 1670.0,1559.5 1673.0,1559.5 1676.0,1559.5 1679.0,1559.5 1682.0,1559.5 1685.0,1559.5 1688.0,1559.5 1691.0,1559.5 1694.0,1559.5 1697.0,1559.5 1700.0,1559.5 1703.0,1559.5 1706.0,1559.5 1709.0,1559.5 1712.0,1559.5 1715.0,1559.5 1718.0,1559.5 1721.0,1559.5 1724.0,1559.5 1727.0,1559.5 1730.0,1559.5 1733.0,1559.5 1736.0,1559.5 1739.0,1559.5 1742.0,1559.5 1745.0,1559.5 1748.0,1559.5 1751.0,1559.5 1754.0,1559.5 1757.0,1559.5 1760.0,1559.5 1763.0,1559.5 1766.0,1559.5 1769.0,1559.5 1772.0,1559.5 1775.0,1559.5 1778.0,1559.5 1781.0,1559.5 1784.0,1559.5 1787.0,1559.5 1790.0,1559.5 1793.0,1559.5 1796.0,1559.5 1799.0,1559.5 1802.0,1559.5 1805.0,1559.5 1808.0,1559.5 1811.0,1559.5 1814.0,1559.5 1817.0,1559.5 1820.0,1559.5 1823.0,1559.5 1826.0,1559.5 1829.0,1559.5 1832.0,1559.5 1835.0,1559.5 1838.0,1559.5 1841.0,1559.5 1844.0,1559.5 1847.0,1559.5 1850.0,1559.5 1853.0,1559.5 1856.0,1559.5 1859.0,1559.5 1862.0,1559.5 1865.0,1559.5 1868.0,1559.5 1871.0,1559.5 1874.0,1559.5 1877.0,1559.5 1880.0,1559.5 1883.0,1559.5 1886.0,1559.5 1889.0,1559.5 1892.0,1559.5 1895.0,1559.5 1898.0,1559.5 1901.0,1559.5 1904.0,1559.5 1907.0,1559.5 1910.0,1559.5 1913.0,1559.5 1916.0,1559.5 1919.0,1559.5 1922.0,1559.5 1925.0,1559.5 1928.0,1559.5 1931.0,1559.5 1934.0,1559.5 1937.0,1559.5 1940.0,1559.5 1943.0,1559.5 1946.0,1559.5 1949.0,1559.5 1952.0,1559.5 1955.0,1559.5 1958.0,1559.5 1961.0,1559.5 1964.0,1559.5 1967.0,1559.5 1970.0,1559.5 1973.0,1559.5 1976.0,1559.5 1979.0,1559.5 1982.0,1559.5 1985.0,1559.5 1988.0,1559.5 1991.0,1559.5 1994.0,1559.5 1997.0,1559.5 2000.0,1559.5 2003.0,1559.5 2006.0,1559.5 2009.0,1559.5 2012.0,1559.5 2015.0,1559.5 2018.0,1559.5 2018.0,1559.5 188.0,1559.5" fill="url(#bg3_1)" fill-opacity="0.40" stroke="none"/>
<polyline points="188.0,1566.0 191.0,1566.0 194.0,1566.0 197.0,1566.0 200.0,1566.0 203.0,1566.0 206.0,1566.0 209.0,1566.0 212.0,1566.0 215.0,1566.0 218.0,1566.0 221.0,1566.0 224.0,1566.0 227.0,1566.0 230.0,1566.0 233.0,1566.0 236.0,1566.0 239.0,1566.0 242.0,1566.0 245.0,1566.0 248.0,1566.0 251.0,1566.0 254.0,1566.0 257.0,1566.0 260.0,1566.0 263.0,1566.0 266.0,1566.0 269.0,1566.0 272.0,1566.0 275.0,1566.0 278.0,1566.0 281.0,1566.0 284.0,1566.0 287.0,1566.0 290.0,1566.0 293.0,1566.0 296.0,1566.0 299.0,1566.0 302.0,1566.0 305.0,1566.0 308.0,1566.0 311.0,1566.0 314.0,1566.0 317.0,1566.0 320.0,1566.0 323.0,1566.0 326.0,1566.0 329.0,1566.0 332.0,1566.0 335.0,1566.0 338.0,1566.0 341.0,1566.0 344.0,1566.0 347.0,1566.0 350.0,1566.0 353.0,1566.0 356.0,1566.0 359.0,1566.0 362.0,1566.0 365.0,1566.0 368.0,1566.0 371.0,1566.0 374.0,1566.0 377.0,1566.0 380.0,1566.0 383.0,1566.0 386.0,1566.0 389.0,1566.0 392.0,1566.0 395.0,1566.0 398.0,1566.0 401.0,1566.0 404.0,1566.0 407.0,1566.0 410.0,1566.0 413.0,1566.0 416.0,1566.0 419.0,1566.0 422.0,1566.0 425.0,1566.0 428.0,1566.0 431.0,1566.0 434.0,1566.0 437.0,1566.0 440.0,1566.0 443.0,1566.0 446.0,1566.0 449.0,1566.0 452.0,1566.0 455.0,1566.0 458.0,1566.0 461.0,1566.0 464.0,1566.0 467.0,1566.0 470.0,1566.0 473.0,1566.0 476.0,1566.0 479.0,1566.0 482.0,1566.0 485.0,1566.0 488.0,1566.0 491.0,1566.0 494.0,1566.0 497.0,1566.0 500.0,1566.0 503.0,1566.0 506.0,1566.0 509.0,1566.0 512.0,1566.0 515.0,1566.0 518.0,1566.0 521.0,1566.0 524.0,1566.0 527.0,1566.0 530.0,1566.0 533.0,1566.0 536.0,1566.0 539.0,1566.0 542.0,1566.0 545.0,1566.0 548.0,1566.0 551.0,1566.0 554.0,1566.0 557.0,1566.0 560.0,1566.0 563.0,1566.0 566.0,1566.0 569.0,1566.0 572.0,1566.0 575.0,1566.0 578.0,1566.0 581.0,1566.0 584.0,1566.0 587.0,1566.0 590.0,1566.0 593.0,1566.0 596.0,1566.0 599.0,1566.0 602.0,1566.0 605.0,1566.0 608.0,1566.0 611.0,1566.0 614.0,1566.0 617.0,1566.0 620.0,1566.0 623.0,1566.0 626.0,1566.0 629.0,1566.0 632.0,1566.0 635.0,1566.0 638.0,1566.0 641.0,1566.0 644.0,1566.0 647.0,1566.0 650.0,1566.0 653.0,1566.0 656.0,1566.0 659.0,1566.0 662.0,1566.0 665.0,1566.0 668.0,1565.9 671.0,1565.9 674.0,1565.8 677.0,1565.7 680.0,1565.5 683.0,1565.4 686.0,1565.2 689.0,1565.1 692.0,1564.8 695.0,1564.3 698.0,1563.5 701.0,1562.5 704.0,1561.4 707.0,1560.2 710.0,1559.0 713.0,1557.4 716.0,1555.5 719.0,1553.4 722.0,1551.5 725.0,1550.0 728.0,1548.7 731.0,1547.4 734.0,1546.2 737.0,1545.1 740.0,1544.0 743.0,1542.8 746.0,1541.6 749.0,1540.6 752.0,1540.0 755.0,1539.8 758.0,1539.6 761.0,1539.4 764.0,1539.2 767.0,1539.0 770.0,1538.9 773.0,1538.8 776.0,1538.7 779.0,1538.6 782.0,1538.6 785.0,1538.5 788.0,1538.5 791.0,1538.5 794.0,1538.5 797.0,1538.5 800.0,1538.6 803.0,1538.6 806.0,1538.7 809.0,1538.8 812.0,1538.9 815.0,1539.0 818.0,1539.2 821.0,1539.3 824.0,1539.4 827.0,1539.7 830.0,1540.1 833.0,1540.6 836.0,1541.3 839.0,1542.1 842.0,1543.0 845.0,1544.0 848.0,1545.2 851.0,1546.7 854.0,1548.5 857.0,1550.3 860.0,1552.0 863.0,1553.7 866.0,1555.4 869.0,1557.1 872.0,1558.6 875.0,1560.0 878.0,1561.3 881.0,1562.5 884.0,1563.6 887.0,1564.5 890.0,1565.0 893.0,1565.3 896.0,1565.6 899.0,1565.8 902.0,1565.9 905.0,1566.0 908.0,1566.0 911.0,1566.0 914.0,1566.0 917.0,1566.0 920.0,1566.0 923.0,1566.0 926.0,1566.0 929.0,1566.0 932.0,1566.0 935.0,1566.0 938.0,1566.0 941.0,1566.0 944.0,1566.0 947.0,1566.0 950.0,1566.0 953.0,1566.0 956.0,1566.0 959.0,1566.0 962.0,1566.0 965.0,1566.0 968.0,1566.0 971.0,1566.0 974.0,1566.0 977.0,1566.0 980.0,1566.0 983.0,1566.0 986.0,1566.0 989.0,1566.0 992.0,1566.0 995.0,1566.0 998.0,1566.0 1001.0,1566.0 1004.0,1566.0 1007.0,1566.0 1010.0,1566.0 1013.0,1566.0 1016.0,1566.0 1019.0,1566.0 1022.0,1566.0 1025.0,1566.0 1028.0,1566.0 1031.0,1566.0 1034.0,1566.0 1037.0,1566.0 1040.0,1566.0 1043.0,1566.0 1046.0,1566.0 1049.0,1566.0 1052.0,1566.0 1055.0,1566.0 1058.0,1566.0 1061.0,1566.0 1064.0,1566.0 1067.0,1566.0 1070.0,1566.0 1073.0,1566.0 1076.0,1566.0 1079.0,1566.0 1082.0,1566.0 1085.0,1566.0 1088.0,1566.0 1091.0,1566.0 1094.0,1566.0 1097.0,1566.0 1100.0,1566.0 1103.0,1566.0 1106.0,1566.0 1109.0,1566.0 1112.0,1566.0 1115.0,1566.0 1118.0,1566.0 1121.0,1566.0 1124.0,1566.0 1127.0,1566.0 1130.0,1566.0 1133.0,1566.0 1136.0,1566.0 1139.0,1566.0 1142.0,1566.0 1145.0,1566.0 1148.0,1566.0 1151.0,1566.0 1154.0,1566.0 1157.0,1566.0 1160.0,1566.0 1163.0,1566.0 1166.0,1566.0 1169.0,1566.0 1172.0,1566.0 1175.0,1566.0 1178.0,1566.0 1181.0,1566.0 1184.0,1566.0 1187.0,1566.0 1190.0,1566.0 1193.0,1566.0 1196.0,1566.0 1199.0,1566.0 1202.0,1566.0 1205.0,1566.0 1208.0,1566.0 1211.0,1566.0 1214.0,1566.0 1217.0,1566.0 1220.0,1566.0 1223.0,1566.0 1226.0,1566.0 1229.0,1566.0 1232.0,1566.0 1235.0,1566.0 1238.0,1566.0 1241.0,1566.0 1244.0,1566.0 1247.0,1566.0 1250.0,1566.0 1253.0,1566.0 1256.0,1566.0 1259.0,1566.0 1262.0,1566.0 1265.0,1566.0 1268.0,1566.0 1271.0,1566.0 1274.0,1566.0 1277.0,1566.0 1280.0,1566.0 1283.0,1566.0 1286.0,1566.0 1289.0,1566.0 1292.0,1566.0 1295.0,1566.0 1298.0,1566.0 1301.0,1566.0 1304.0,1566.0 1307.0,1566.0 1310.0,1566.0 1313.0,1566.0 1316.0,1566.0 1319.0,1566.0 1322.0,1566.0 1325.0,1566.0 1328.0,1566.0 1331.0,1566.0 1334.0,1566.0 1337.0,1566.0 1340.0,1566.0 1343.0,1566.0 1346.0,1566.0 1349.0,1566.0 1352.0,1566.0 1355.0,1566.0 1358.0,1566.0 1361.0,1566.0 1364.0,1566.0 1367.0,1566.0 1370.0,1566.0 1373.0,1566.0 1376.0,1566.0 1379.0,1566.0 1382.0,1566.0 1385.0,1566.0 1388.0,1566.0 1391.0,1566.0 1394.0,1566.0 1397.0,1566.0 1400.0,1566.0 1403.0,1566.0 1406.0,1566.0 1409.0,1566.0 1412.0,1566.0 1415.0,1566.0 1418.0,1566.0 1421.0,1566.0 1424.0,1566.0 1427.0,1566.0 1430.0,1566.0 1433.0,1566.0 1436.0,1566.0 1439.0,1566.0 1442.0,1566.0 1445.0,1566.0 1448.0,1566.0 1451.0,1566.0 1454.0,1566.0 1457.0,1566.0 1460.0,1566.0 1463.0,1566.0 1466.0,1566.0 1469.0,1566.0 1472.0,1566.0 1475.0,1566.0 1478.0,1566.0 1481.0,1566.0 1484.0,1566.0 1487.0,1566.0 1490.0,1566.0 1493.0,1566.0 1496.0,1566.0 1499.0,1566.0 1502.0,1566.0 1505.0,1566.0 1508.0,1566.0 1511.0,1566.0 1514.0,1566.0 1517.0,1566.0 1520.0,1566.0 1523.0,1566.0 1526.0,1566.0 1529.0,1566.0 1532.0,1566.0 1535.0,1566.0 1538.0,1566.0 1541.0,1566.0 1544.0,1566.0 1547.0,1566.0 1550.0,1566.0 1553.0,1566.0 1556.0,1566.0 1559.0,1566.0 1562.0,1566.0 1565.0,1566.0 1568.0,1566.0 1571.0,1566.0 1574.0,1566.0 1577.0,1566.0 1580.0,1566.0 1583.0,1566.0 1586.0,1566.0 1589.0,1566.0 1592.0,1566.0 1595.0,1566.0 1598.0,1566.0 1601.0,1566.0 1604.0,1566.0 1607.0,1566.0 1610.0,1566.0 1613.0,1566.0 1616.0,1566.0 1619.0,1566.0 1622.0,1566.0 1625.0,1566.0 1628.0,1566.0 1631.0,1566.0 1634.0,1566.0 1637.0,1566.0 1640.0,1566.0 1643.0,1566.0 1646.0,1566.0 1649.0,1566.0 1652.0,1566.0 1655.0,1566.0 1658.0,1566.0 1661.0,1566.0 1664.0,1566.0 1667.0,1566.0 1670.0,1566.0 1673.0,1566.0 1676.0,1566.0 1679.0,1566.0 1682.0,1566.0 1685.0,1566.0 1688.0,1566.0 1691.0,1566.0 1694.0,1566.0 1697.0,1566.0 1700.0,1566.0 1703.0,1566.0 1706.0,1566.0 1709.0,1566.0 1712.0,1566.0 1715.0,1566.0 1718.0,1566.0 1721.0,1566.0 1724.0,1566.0 1727.0,1566.0 1730.0,1566.0 1733.0,1566.0 1736.0,1566.0 1739.0,1566.0 1742.0,1566.0 1745.0,1566.0 1748.0,1566.0 1751.0,1566.0 1754.0,1566.0 1757.0,1566.0 1760.0,1566.0 1763.0,1566.0 1766.0,1566.0 1769.0,1566.0 1772.0,1566.0 1775.0,1566.0 1778.0,1566.0 1781.0,1566.0 1784.0,1566.0 1787.0,1566.0 1790.0,1566.0 1793.0,1566.0 1796.0,1566.0 1799.0,1566.0 1802.0,1566.0 1805.0,1566.0 1808.0,1566.0 1811.0,1566.0 1814.0,1566.0 1817.0,1566.0 1820.0,1566.0 1823.0,1566.0 1826.0,1566.0 1829.0,1566.0 1832.0,1566.0 1835.0,1566.0 1838.0,1566.0 1841.0,1566.0 1844.0,1566.0 1847.0,1566.0 1850.0,1566.0 1853.0,1566.0 1856.0,1566.0 1859.0,1566.0 1862.0,1566.0 1865.0,1566.0 1868.0,1566.0 1871.0,1566.0 1874.0,1566.0 1877.0,1566.0 1880.0,1566.0 1883.0,1566.0 1886.0,1566.0 1889.0,1566.0 1892.0,1566.0 1895.0,1566.0 1898.0,1566.0 1901.0,1566.0 1904.0,1566.0 1907.0,1566.0 1910.0,1566.0 1913.0,1566.0 1916.0,1566.0 1919.0,1566.0 1922.0,1566.0 1925.0,1566.0 1928.0,1566.0 1931.0,1566.0 1934.0,1566.0 1937.0,1566.0 1940.0,1566.0 1943.0,1566.0 1946.0,1566.0 1949.0,1566.0 1952.0,1566.0 1955.0,1566.0 1958.0,1566.0 1961.0,1566.0 1964.0,1566.0 1967.0,1566.0 1970.0,1566.0 1973.0,1566.0 1976.0,1566.0 1979.0,1566.0 1982.0,1566.0 1985.0,1566.0 1988.0,1566.0 1991.0,1566.0 1994.0,1566.0 1997.0,1566.0 2000.0,1566.0 2003.0,1566.0 2006.0,1566.0 2009.0,1566.0 2012.0,1566.0 2015.0,1566.0 2018.0,1566.0" fill="none" stroke="#0000ff" stroke-opacity="0.60" stroke-width="5" stroke-dasharray="36 34" stroke-dashoffset="0"/>
<line x1="188.0" y1="1562.5" x2="2015.0" y2="1562.5" stroke="#0000ff" stroke-opacity="0.60" stroke-width="6" stroke-dasharray="36 34" stroke-dashoffset="19"/>
<polygon points="188.0,1559.5 191.0,1559.5 194.0,1559.5 197.0,1559.5 200.0,1559.5 203.0,1559.5 206.0,1559.5 209.0,1559.5 212.0,1559.5 215.0,1559.5 218.0,1559.5 221.0,1559.5 224.0,1559.5 227.0,1559.5 230.0,1559.5 233.0,1559.5 236.0,1559.5 239.0,1559.5 242.0,1559.5 245.0,1559.5 248.0,1559.5 251.0,1559.5 254.0,1559.5 257.0,1559.5 260.0,1559.5 263.0,1559.5 266.0,1559.5 269.0,1559.5 272.0,1559.5 275.0,1559.5 278.0,1559.5 281.0,1559.5 284.0,1559.5 287.0,1559.5 290.0,1559.5 293.0,1559.5 296.0,1559.5 299.0,1559.5 302.0,1559.5 305.0,1559.5 308.0,1559.5 311.0,1559.5 314.0,1559.5 317.0,1559.5 320.0,1559.5 323.0,1559.4 326.0,1559.4 329.0,1559.4 332.0,1559.4 335.0,1559.4 338.0,1559.4 341.0,1559.3 344.0,1559.3 347.0,1559.3 350.0,1559.3 353.0,1559.2 356.0,1559.2 359.0,1559.2 362.0,1559.2 365.0,1559.1 368.0,1559.1 371.0,1559.1 374.0,1559.0 377.0,1559.0 380.0,1559.0 383.0,1558.9 386.0,1558.9 389.0,1558.9 392.0,1558.8 395.0,1558.8 398.0,1558.7 401.0,1558.7 404.0,1558.7 407.0,1558.6 410.0,1558.6 413.0,1558.5 416.0,1558.5 419.0,1558.5 422.0,1558.4 425.0,1558.4 428.0,1558.3 431.0,1558.3 434.0,1558.2 437.0,1558.2 440.0,1558.1 443.0,1558.1 446.0,1558.1 449.0,1558.0 452.0,1558.0 455.0,1557.9 458.0,1557.9 461.0,1557.8 464.0,1557.8 467.0,1557.7 470.0,1557.6 473.0,1557.6 476.0,1557.5 479.0,1557.4 482.0,1557.4 485.0,1557.3 488.0,1557.2 491.0,1557.1 494.0,1557.1 497.0,1557.0 500.0,1556.9 503.0,1556.8 506.0,1556.7 509.0,1556.7 512.0,1556.6 515.0,1556.5 518.0,1556.4 521.0,1556.3 524.0,1556.2 527.0,1556.1 530.0,1556.1 533.0,1556.0 536.0,1555.9 539.0,1555.8 542.0,1555.7 545.0,1555.6 548.0,1555.6 551.0,1555.5 554.0,1555.4 557.0,1555.3 560.0,1555.2 563.0,1555.1 566.0,1555.1 569.0,1555.0 572.0,1554.9 575.0,1554.8 578.0,1554.7 581.0,1554.6 584.0,1554.6 587.0,1554.5 590.0,1554.4 593.0,1554.3 596.0,1554.2 599.0,1554.1 602.0,1554.0 605.0,1553.9 608.0,1553.9 611.0,1553.8 614.0,1553.7 617.0,1553.6 620.0,1553.5 623.0,1553.4 626.0,1553.3 629.0,1553.2 632.0,1553.1 635.0,1553.0 638.0,1552.9 641.0,1552.8 644.0,1552.7 647.0,1552.6 650.0,1552.5 653.0,1552.4 656.0,1552.3 659.0,1552.2 662.0,1552.1 665.0,1552.0 668.0,1551.8 671.0,1551.7 674.0,1551.6 677.0,1551.5 680.0,1551.4 683.0,1551.3 686.0,1551.1 689.0,1551.0 692.0,1550.9 695.0,1550.8 698.0,1550.6 701.0,1550.5 704.0,1550.4 707.0,1550.3 710.0,1550.1 713.0,1550.0 716.0,1549.9 719.0,1549.7 722.0,1549.6 725.0,1549.5 728.0,1549.4 731.0,1549.2 734.0,1549.1 737.0,1549.0 740.0,1548.8 743.0,1548.7 746.0,1548.6 749.0,1548.5 752.0,1548.3 755.0,1548.2 758.0,1548.1 761.0,1548.0 764.0,1547.8 767.0,1547.7 770.0,1547.6 773.0,1547.5 776.0,1547.3 779.0,1547.2 782.0,1547.1 785.0,1547.0 788.0,1546.9 791.0,1546.7 794.0,1546.6 797.0,1546.5 800.0,1546.4 803.0,1546.2 806.0,1546.1 809.0,1546.0 812.0,1545.9 815.0,1545.8 818.0,1545.6 821.0,1545.5 824.0,1545.4 827.0,1545.3 830.0,1545.1 833.0,1545.0 836.0,1544.9 839.0,1544.8 842.0,1544.7 845.0,1544.5 848.0,1544.4 851.0,1544.3 854.0,1544.2 857.0,1544.0 860.0,1543.9 863.0,1543.8 866.0,1543.7 869.0,1543.5 872.0,1543.4 875.0,1543.3 878.0,1543.2 881.0,1543.0 884.0,1542.9 887.0,1542.8 890.0,1542.6 893.0,1542.5 896.0,1542.4 899.0,1542.2 902.0,1542.1 905.0,1542.0 908.0,1541.9 911.0,1541.7 914.0,1541.6 917.0,1541.5 920.0,1541.4 923.0,1541.3 926.0,1541.1 929.0,1541.0 932.0,1540.9 935.0,1540.8 938.0,1540.7 941.0,1540.6 944.0,1540.5 947.0,1540.4 950.0,1540.3 953.0,1540.2 956.0,1540.1 959.0,1540.0 962.0,1539.9 965.0,1539.8 968.0,1539.7 971.0,1539.7 974.0,1539.6 977.0,1539.5 980.0,1539.4 983.0,1539.3 986.0,1539.3 989.0,1539.2 992.0,1539.1 995.0,1539.1 998.0,1539.0 1001.0,1539.0 1004.0,1538.9 1007.0,1538.9 1010.0,1538.9 1013.0,1538.8 1016.0,1538.8 1019.0,1538.7 1022.0,1538.7 1025.0,1538.7 1028.0,1538.6 1031.0,1538.6 1034.0,1538.5 1037.0,1538.5 1040.0,1538.5 1043.0,1538.4 1046.0,1538.4 1049.0,1538.4 1052.0,1538.4 1055.0,1538.3 1058.0,1538.3 1061.0,1538.3 1064.0,1538.2 1067.0,1538.2 1070.0,1538.2 1073.0,1538.2 1076.0,1538.2 1079.0,1538.1 1082.0,1538.1 1085.0,1538.1 1088.0,1538.1 1091.0,1538.1 1094.0,1538.0 1097.0,1538.0 1100.0,1538.0 1103.0,1538.0 1106.0,1538.0 1109.0,1538.0 1112.0,1537.9 1115.0,1537.9 1118.0,1537.9 1121.0,1537.9 1124.0,1537.9 1127.0,1537.9 1130.0,1537.8 1133.0,1537.8 1136.0,1537.8 1139.0,1537.8 1142.0,1537.8 1145.0,1537.8 1148.0,1537.8 1151.0,1537.8 1154.0,1537.7 1157.0,1537.7 1160.0,1537.7 1163.0,1537.7 1166.0,1537.7 1169.0,1537.7 1172.0,1537.7 1175.0,1537.7 1178.0,1537.6 1181.0,1537.6 1184.0,1537.6 1187.0,1537.6 1190.0,1537.6 1193.0,1537.6 1196.0,1537.6 1199.0,1537.6 1202.0,1537.6 1205.0,1537.6 1208.0,1537.6 1211.0,1537.5 1214.0,1537.5 1217.0,1537.5 1220.0,1537.5 1223.0,1537.5 1226.0,1537.5 1229.0,1537.5 1232.0,1537.5 1235.0,1537.5 1238.0,1537.5 1241.0,1537.5 1244.0,1537.5 1247.0,1537.5 1250.0,1537.5 1253.0,1537.5 1256.0,1537.5 1259.0,1537.6 1262.0,1537.6 1265.0,1537.6 1268.0,1537.7 1271.0,1537.7 1274.0,1537.8 1277.0,1537.9 1280.0,1538.0 1283.0,1538.0 1286.0,1538.1 1289.0,1538.2 1292.0,1538.3 1295.0,1538.4 1298.0,1538.4 1301.0,1538.5 1304.0,1538.6 1307.0,1538.7 1310.0,1538.8 1313.0,1538.9 1316.0,1539.1 1319.0,1539.2 1322.0,1539.3 1325.0,1539.5 1328.0,1539.6 1331.0,1539.7 1334.0,1539.9 1337.0,1540.0 1340.0,1540.1 1343.0,1540.2 1346.0,1540.4 1349.0,1540.5 1352.0,1540.6 1355.0,1540.7 1358.0,1540.8 1361.0,1540.8 1364.0,1540.9 1367.0,1541.0 1370.0,1541.1 1373.0,1541.2 1376.0,1541.3 1379.0,1541.3 1382.0,1541.4 1385.0,1541.5 1388.0,1541.6 1391.0,1541.7 1394.0,1541.7 1397.0,1541.8 1400.0,1541.9 1403.0,1542.0 1406.0,1542.0 1409.0,1542.1 1412.0,1542.2 1415.0,1542.3 1418.0,1542.3 1421.0,1542.4 1424.0,1542.5 1427.0,1542.6 1430.0,1542.7 1433.0,1542.8 1436.0,1542.8 1439.0,1542.9 1442.0,1543.0 1445.0,1543.1 1448.0,1543.2 1451.0,1543.3 1454.0,1543.4 1457.0,1543.5 1460.0,1543.6 1463.0,1543.8 1466.0,1543.9 1469.0,1544.0 1472.0,1544.1 1475.0,1544.2 1478.0,1544.4 1481.0,1544.5 1484.0,1544.7 1487.0,1544.8 1490.0,1545.0 1493.0,1545.2 1496.0,1545.5 1499.0,1545.7 1502.0,1546.1 1505.0,1546.4 1508.0,1546.8 1511.0,1547.1 1514.0,1547.5 1517.0,1547.8 1520.0,1548.1 1523.0,1548.4 1526.0,1548.7 1529.0,1548.9 1532.0,1549.2 1535.0,1549.4 1538.0,1549.6 1541.0,1549.8 1544.0,1550.0 1547.0,1550.2 1550.0,1550.4 1553.0,1550.6 1556.0,1550.8 1559.0,1551.0 1562.0,1551.2 1565.0,1551.4 1568.0,1551.5 1571.0,1551.7 1574.0,1551.9 1577.0,1552.1 1580.0,1552.3 1583.0,1552.5 1586.0,1552.7 1589.0,1552.9 1592.0,1553.1 1595.0,1553.3 1598.0,1553.6 1601.0,1553.8 1604.0,1554.0 1607.0,1554.2 1610.0,1554.4 1613.0,1554.7 1616.0,1554.9 1619.0,1555.1 1622.0,1555.3 1625.0,1555.5 1628.0,1555.7 1631.0,1555.8 1634.0,1556.0 1637.0,1556.2 1640.0,1556.3 1643.0,1556.4 1646.0,1556.6 1649.0,1556.7 1652.0,1556.8 1655.0,1557.0 1658.0,1557.1 1661.0,1557.2 1664.0,1557.3 1667.0,1557.4 1670.0,1557.6 1673.0,1557.7 1676.0,1557.8 1679.0,1557.9 1682.0,1558.0 1685.0,1558.1 1688.0,1558.2 1691.0,1558.3 1694.0,1558.4 1697.0,1558.5 1700.0,1558.6 1703.0,1558.7 1706.0,1558.8 1709.0,1558.9 1712.0,1558.9 1715.0,1559.0 1718.0,1559.1 1721.0,1559.1 1724.0,1559.2 1727.0,1559.2 1730.0,1559.2 1733.0,1559.3 1736.0,1559.3 1739.0,1559.3 1742.0,1559.3 1745.0,1559.3 1748.0,1559.3 1751.0,1559.3 1754.0,1559.3 1757.0,1559.4 1760.0,1559.4 1763.0,1559.4 1766.0,1559.4 1769.0,1559.4 1772.0,1559.4 1775.0,1559.4 1778.0,1559.4 1781.0,1559.4 1784.0,1559.4 1787.0,1559.4 1790.0,1559.4 1793.0,1559.4 1796.0,1559.5 1799.0,1559.5 1802.0,1559.5 1805.0,1559.5 1808.0,1559.5 1811.0,1559.5 1814.0,1559.5 1817.0,1559.5 1820.0,1559.5 1823.0,1559.5 1826.0,1559.5 1829.0,1559.5 1832.0,1559.5 1835.0,1559.5 1838.0,1559.5 1841.0,1559.5 1844.0,1559.5 1847.0,1559.5 1850.0,1559.5 1853.0,1559.5 1856.0,1559.5 1859.0,1559.5 1862.0,1559.5 1865.0,1559.5 1868.0,1559.5 1871.0,1559.5 1874.0,1559.5 1877.0,1559.5 1880.0,1559.5 1883.0,1559.5 1886.0,1559.5 1889.0,1559.5 1892.0,1559.5 1895.0,1559.5 1898.0,1559.5 1901.0,1559.5 1904.0,1559.5 1907.0,1559.5 1910.0,1559.5 1913.0,1559.5 1916.0,1559.5 1919.0,1559.5 1922.0,1559.5 1925.0,1559.5 1928.0,1559.5 1931.0,1559.5 1934.0,1559.5 1937.0,1559.5 1940.0,1559.5 1943.0,1559.5 1946.0,1559.5 1949.0,1559.5 1952.0,1559.5 1955.0,1559.5 1958.0,1559.5 1961.0,1559.5 1964.0,1559.5 1967.0,1559.5 1970.0,1559.5 1973.0,1559.5 1976.0,1559.5 1979.0,1559.5 1982.0,1559.5 1985.0,1559.5 1988.0,1559.5 1991.0,1559.5 1994.0,1559.5 1997.0,1559.5 2000.0,1559.5 2003.0,1559.5 2006.0,1559.5 2009.0,1559.5 2012.0,1559.5 2015.0,1559.5 2018.0,1559.5 2018.0,1559.5 188.0,1559.5" fill="#ff00ff" fill-opacity="0.60" stroke="none"/>
<polyline points="188.0,1566.0 191.0,1566.0 194.0,1566.0 197.0,1566.0 200.0,1566.0 203.0,1566.0 206.0,1566.0 209.0,1566.0 212.0,1566.0 215.0,1566.0 218.0,1566.0 221.0,1566.0 224.0,1566.0 227.0,1566.0 230.0,1566.0 233.0,1566.0 236.0,1566.0 239.0,1566.0 242.0,1566.0 245.0,1566.0 248.0,1566.0 251.0,1566.0 254.0,1566.0 257.0,1566.0 260.0,1566.0 263.0,1566.0 266.0,1566.0 269.0,1566.0 272.0,1566.0 275.0,1566.0 278.0,1566.0 281.0,1566.0 284.0,1566.0 287.0,1566.0 290.0,1566.0 293.0,1566.0 296.0,1566.0 299.0,1566.0 302.0,1566.0 305.0,1566.0 308.0,1566.0 311.0,1566.0 314.0,1566.0 317.0,1566.0 320.0,1566.0 323.0,1565.9 326.0,1565.9 329.0,1565.9 332.0,1565.9 335.0,1565.9 338.0,1565.9 341.0,1565.8 344.0,1565.8 347.0,1565.8 350.0,1565.8 353.0,1565.7 356.0,1565.7 359.0,1565.7 362.0,1565.7 365.0,1565.6 368.0,1565.6 371.0,1565.6 374.0,1565.5 377.0,1565.5 380.0,1565.5 383.0,1565.4 386.0,1565.4 389.0,1565.4 392.0,1565.3 395.0,1565.3 398.0,1565.2 401.0,1565.2 404.0,1565.2 407.0,1565.1 410.0,1565.1 413.0,1565.0 416.0,1565.0 419.0,1565.0 422.0,1564.9 425.0,1564.9 428.0,1564.8 431.0,1564.8 434.0,1564.7 437.0,1564.7 440.0,1564.6 443.0,1564.6 446.0,1564.6 449.0,1564.5 452.0,1564.5 455.0,1564.4 458.0,1564.4 461.0,1564.3 464.0,1564.3 467.0,1564.2 470.0,1564.1 473.0,1564.1 476.0,1564.0 479.0,1563.9 482.0,1563.9 485.0,1563.8 488.0,1563.7 491.0,1563.6 494.0,1563.6 497.0,1563.5 500.0,1563.4 503.0,1563.3 506.0,1563.2 509.0,1563.2 512.0,1563.1 515.0,1563.0 518.0,1562.9 521.0,1562.8 524.0,1562.7 527.0,1562.6 530.0,1562.6 533.0,1562.5 536.0,1562.4 539.0,1562.3 542.0,1562.2 545.0,1562.1 548.0,1562.1 551.0,1562.0 554.0,1561.9 557.0,1561.8 560.0,1561.7 563.0,1561.6 566.0,1561.6 569.0,1561.5 572.0,1561.4 575.0,1561.3 578.0,1561.2 581.0,1561.1 584.0,1561.1 587.0,1561.0 590.0,1560.9 593.0,1560.8 596.0,1560.7 599.0,1560.6 602.0,1560.5 605.0,1560.4 608.0,1560.4 611.0,1560.3 614.0,1560.2 617.0,1560.1 620.0,1560.0 623.0,1559.9 626.0,1559.8 629.0,1559.7 632.0,1559.6 635.0,1559.5 638.0,1559.4 641.0,1559.3 644.0,1559.2 647.0,1559.1 650.0,1559.0 653.0,1558.9 656.0,1558.8 659.0,1558.7 662.0,1558.6 665.0,1558.5 668.0,1558.3 671.0,1558.2 674.0,1558.1 677.0,1558.0 680.0,1557.9 683.0,1557.8 686.0,1557.6 689.0,1557.5 692.0,1557.4 695.0,1557.3 698.0,1557.1 701.0,1557.0 704.0,1556.9 707.0,1556.8 710.0,1556.6 713.0,1556.5 716.0,1556.4 719.0,1556.2 722.0,1556.1 725.0,1556.0 728.0,1555.9 731.0,1555.7 734.0,1555.6 737.0,1555.5 740.0,1555.3 743.0,1555.2 746.0,1555.1 749.0,1555.0 752.0,1554.8 755.0,1554.7 758.0,1554.6 761.0,1554.5 764.0,1554.3 767.0,1554.2 770.0,1554.1 773.0,1554.0 776.0,1553.8 779.0,1553.7 782.0,1553.6 785.0,1553.5 788.0,1553.4 791.0,1553.2 794.0,1553.1 797.0,1553.0 800.0,1552.9 803.0,1552.7 806.0,1552.6 809.0,1552.5 812.0,1552.4 815.0,1552.3 818.0,1552.1 821.0,1552.0 824.0,1551.9 827.0,1551.8 830.0,1551.6 833.0,1551.5 836.0,1551.4 839.0,1551.3 842.0,1551.2 845.0,1551.0 848.0,1550.9 851.0,1550.8 854.0,1550.7 857.0,1550.5 860.0,1550.4 863.0,1550.3 866.0,1550.2 869.0,1550.0 872.0,1549.9 875.0,1549.8 878.0,1549.7 881.0,1549.5 884.0,1549.4 887.0,1549.3 890.0,1549.1 893.0,1549.0 896.0,1548.9 899.0,1548.7 902.0,1548.6 905.0,1548.5 908.0,1548.4 911.0,1548.2 914.0,1548.1 917.0,1548.0 920.0,1547.9 923.0,1547.8 926.0,1547.6 929.0,1547.5 932.0,1547.4 935.0,1547.3 938.0,1547.2 941.0,1547.1 944.0,1547.0 947.0,1546.9 950.0,1546.8 953.0,1546.7 956.0,1546.6 959.0,1546.5 962.0,1546.4 965.0,1546.3 968.0,1546.2 971.0,1546.2 974.0,1546.1 977.0,1546.0 980.0,1545.9 983.0,1545.8 986.0,1545.8 989.0,1545.7 992.0,1545.6 995.0,1545.6 998.0,1545.5 1001.0,1545.5 1004.0,1545.4 1007.0,1545.4 1010.0,1545.4 1013.0,1545.3 1016.0,1545.3 1019.0,1545.2 1022.0,1545.2 1025.0,1545.2 1028.0,1545.1 1031.0,1545.1 1034.0,1545.0 1037.0,1545.0 1040.0,1545.0 1043.0,1544.9 1046.0,1544.9 1049.0,1544.9 1052.0,1544.9 1055.0,1544.8 1058.0,1544.8 1061.0,1544.8 1064.0,1544.7 1067.0,1544.7 1070.0,1544.7 1073.0,1544.7 1076.0,1544.7 1079.0,1544.6 1082.0,1544.6 1085.0,1544.6 1088.0,1544.6 1091.0,1544.6 1094.0,1544.5 1097.0,1544.5 1100.0,1544.5 1103.0,1544.5 1106.0,1544.5 1109.0,1544.5 1112.0,1544.4 1115.0,1544.4 1118.0,1544.4 1121.0,1544.4 1124.0,1544.4 1127.0,1544.4 1130.0,1544.3 1133.0,1544.3 1136.0,1544.3 1139.0,1544.3 1142.0,1544.3 1145.0,1544.3 1148.0,1544.3 1151.0,1544.3 1154.0,1544.2 1157.0,1544.2 1160.0,1544.2 1163.0,1544.2 1166.0,1544.2 1169.0,1544.2 1172.0,1544.2 1175.0,1544.2 1178.0,1544.1 1181.0,1544.1 1184.0,1544.1 1187.0,1544.1 1190.0,1544.1 1193.0,1544.1 1196.0,1544.1 1199.0,1544.1 1202.0,1544.1 1205.0,1544.1 1208.0,1544.1 1211.0,1544.0 1214.0,1544.0 1217.0,1544.0 1220.0,1544.0 1223.0,1544.0 1226.0,1544.0 1229.0,1544.0 1232.0,1544.0 1235.0,1544.0 1238.0,1544.0 1241.0,1544.0 1244.0,1544.0 1247.0,1544.0 1250.0,1544.0 1253.0,1544.0 1256.0,1544.0 1259.0,1544.1 1262.0,1544.1 1265.0,1544.1 1268.0,1544.2 1271.0,1544.2 1274.0,1544.3 1277.0,1544.4 1280.0,1544.5 1283.0,1544.5 1286.0,1544.6 1289.0,1544.7 1292.0,1544.8 1295.0,1544.9 1298.0,1544.9 1301.0,1545.0 1304.0,1545.1 1307.0,1545.2 1310.0,1545.3 1313.0,1545.4 1316.0,1545.6 1319.0,1545.7 1322.0,1545.8 1325.0,1546.0 1328.0,1546.1 1331.0,1546.2 1334.0,1546.4 1337.0,1546.5 1340.0,1546.6 1343.0,1546.7 1346.0,1546.9 1349.0,1547.0 1352.0,1547.1 1355.0,1547.2 1358.0,1547.3 1361.0,1547.3 1364.0,1547.4 1367.0,1547.5 1370.0,1547.6 1373.0,1547.7 1376.0,1547.8 1379.0,1547.8 1382.0,1547.9 1385.0,1548.0 1388.0,1548.1 1391.0,1548.2 1394.0,1548.2 1397.0,1548.3 1400.0,1548.4 1403.0,1548.5 1406.0,1548.5 1409.0,1548.6 1412.0,1548.7 1415.0,1548.8 1418.0,1548.8 1421.0,1548.9 1424.0,1549.0 1427.0,1549.1 1430.0,1549.2 1433.0,1549.3 1436.0,1549.3 1439.0,1549.4 1442.0,1549.5 1445.0,1549.6 1448.0,1549.7 1451.0,1549.8 1454.0,1549.9 1457.0,1550.0 1460.0,1550.1 1463.0,1550.3 1466.0,1550.4 1469.0,1550.5 1472.0,1550.6 1475.0,1550.7 1478.0,1550.9 1481.0,1551.0 1484.0,1551.2 1487.0,1551.3 1490.0,1551.5 1493.0,1551.7 1496.0,1552.0 1499.0,1552.2 1502.0,1552.6 1505.0,1552.9 1508.0,1553.3 1511.0,1553.6 1514.0,1554.0 1517.0,1554.3 1520.0,1554.6 1523.0,1554.9 1526.0,1555.2 1529.0,1555.4 1532.0,1555.7 1535.0,1555.9 1538.0,1556.1 1541.0,1556.3 1544.0,1556.5 1547.0,1556.7 1550.0,1556.9 1553.0,1557.1 1556.0,1557.3 1559.0,1557.5 1562.0,1557.7 1565.0,1557.9 1568.0,1558.0 1571.0,1558.2 1574.0,1558.4 1577.0,1558.6 1580.0,1558.8 1583.0,1559.0 1586.0,1559.2 1589.0,1559.4 1592.0,1559.6 1595.0,1559.8 1598.0,1560.1 1601.0,1560.3 1604.0,1560.5 1607.0,1560.7 1610.0,1560.9 1613.0,1561.2 1616.0,1561.4 1619.0,1561.6 1622.0,1561.8 1625.0,1562.0 1628.0,1562.2 1631.0,1562.3 1634.0,1562.5 1637.0,1562.7 1640.0,1562.8 1643.0,1562.9 1646.0,1563.1 1649.0,1563.2 1652.0,1563.3 1655.0,1563.5 1658.0,1563.6 1661.0,1563.7 1664.0,1563.8 1667.0,1563.9 1670.0,1564.1 1673.0,1564.2 1676.0,1564.3 1679.0,1564.4 1682.0,1564.5 1685.0,1564.6 1688.0,1564.7 1691.0,1564.8 1694.0,1564.9 1697.0,1565.0 1700.0,1565.1 1703.0,1565.2 1706.0,1565.3 1709.0,1565.4 1712.0,1565.4 1715.0,1565.5 1718.0,1565.6 1721.0,1565.6 1724.0,1565.7 1727.0,1565.7 1730.0,1565.7 1733.0,1565.8 1736.0,1565.8 1739.0,1565.8 1742.0,1565.8 1745.0,1565.8 1748.0,1565.8 1751.0,1565.8 1754.0,1565.8 1757.0,1565.9 1760.0,1565.9 1763.0,1565.9 1766.0,1565.9 1769.0,1565.9 1772.0,1565.9 1775.0,1565.9 1778.0,1565.9 1781.0,1565.9 1784.0,1565.9 1787.0,1565.9 1790.0,1565.9 1793.0,1565.9 1796.0,1566.0 1799.0,1566.0 1802.0,1566.0 1805.0,1566.0 1808.0,1566.0 1811.0,1566.0 1814.0,1566.0 1817.0,1566.0 1820.0,1566.0 1823.0,1566.0 1826.0,1566.0 1829.0,1566.0 1832.0,1566.0 1835.0,1566.0 1838.0,1566.0 1841.0,1566.0 1844.0,1566.0 1847.0,1566.0 1850.0,1566.0 1853.0,1566.0 1856.0,1566.0 1859.0,1566.0 1862.0,1566.0 1865.0,1566.0 1868.0,1566.0 1871.0,1566.0 1874.0,1566.0 1877.0,1566.0 1880.0,1566.0 1883.0,1566.0 1886.0,1566.0 1889.0,1566.0 1892.0,1566.0 1895.0,1566.0 1898.0,1566.0 1901.0,1566.0 1904.0,1566.0 1907.0,1566.0 1910.0,1566.0 1913.0,1566.0 1916.0,1566.0 1919.0,1566.0 1922.0,1566.0 1925.0,1566.0 1928.0,1566.0 1931.0,1566.0 1934.0,1566.0 1937.0,1566.0 1940.0,1566.0 1943.0,1566.0 1946.0,1566.0 1949.0,1566.0 1952.0,1566.0 1955.0,1566.0 1958.0,1566.0 1961.0,1566.0 1964.0,1566.0 1967.0,1566.0 1970.0,1566.0 1973.0,1566.0 1976.0,1566.0 1979.0,1566.0 1982.0,1566.0 1985.0,1566.0 1988.0,1566.0 1991.0,1566.0 1994.0,1566.0 1997.0,1566.0 2000.0,1566.0 2003.0,1566.0 2006.0,1566.0 2009.0,1566.0 2012.0,1566.0 2015.0,1566.0 2018.0,1566.0" fill="none" stroke="#ee00ee" stroke-opacity="0.85" stroke-width="5" stroke-dasharray="36 34" stroke-dashoffset="0"/>
<line x1="188.0" y1="1562.5" x2="2015.0" y2="1562.5" stroke="#ee00ee" stroke-opacity="0.85" stroke-width="6" stroke-dasharray="36 34" stroke-dashoffset="31"/>
<clipPath id="gc3_0"><rect x="188.0" y="1187.5" width="296.0" height="381.0"/></clipPath>
<path d="M188.0,1561.0 C193.2,1561.0 207.5,1561.2 219.0,1561.0 C230.5,1560.8 245.3,1560.3 257.0,1559.6 C268.7,1558.9 277.3,1559.6 289.0,1556.7 C300.7,1553.8 316.3,1546.0 327.0,1542.0 C337.7,1538.0 343.5,1538.3 353.0,1533.0 C362.5,1527.7 374.7,1516.2 384.0,1510.0 C393.3,1503.8 399.5,1502.8 409.0,1495.5 C418.5,1488.2 431.3,1474.2 441.0,1466.0 C450.7,1457.8 459.7,1451.5 467.0,1446.0 C474.3,1440.5 479.2,1436.4 485.0,1433.0 C490.8,1429.6 493.8,1426.7 502.0,1425.4 C510.2,1424.1 523.3,1424.0 534.0,1425.4 C544.7,1426.8 556.2,1430.1 566.0,1434.0 C575.8,1437.9 583.3,1442.7 592.6,1449.0 C601.9,1455.3 612.2,1465.2 621.7,1472.0 C631.2,1478.8 638.8,1483.8 649.5,1489.6 C660.2,1495.4 674.6,1503.1 686.0,1507.0 C697.4,1510.9 706.3,1511.5 718.0,1513.0 C729.7,1514.5 744.2,1515.5 756.0,1516.0 C767.8,1516.5 777.5,1515.5 789.0,1516.0 C800.5,1516.5 813.3,1517.6 825.0,1519.0 C836.7,1520.4 847.3,1522.9 859.0,1524.6 C870.7,1526.3 883.1,1527.3 895.0,1529.0 C906.9,1530.7 918.5,1533.6 930.5,1534.8 C942.5,1536.0 955.3,1536.0 967.0,1536.3 C978.7,1536.5 988.7,1536.4 1000.5,1536.3 C1012.3,1536.2 1025.9,1535.8 1038.0,1535.7 C1050.1,1535.6 1061.3,1536.0 1073.0,1535.7 C1084.7,1535.5 1096.3,1534.5 1108.0,1534.2 C1119.7,1534.0 1131.0,1534.2 1143.0,1534.2 C1155.0,1534.2 1168.3,1534.2 1180.0,1534.2 C1191.7,1534.2 1201.2,1533.9 1213.0,1534.2 C1224.8,1534.5 1238.8,1535.6 1251.0,1536.0 C1263.2,1536.4 1274.2,1536.0 1286.0,1536.5 C1297.8,1537.0 1310.3,1538.5 1322.0,1539.0 C1333.7,1539.5 1344.0,1539.0 1356.0,1539.5 C1368.0,1540.0 1382.0,1541.5 1394.0,1542.0 C1406.0,1542.5 1416.3,1541.9 1428.0,1542.5 C1439.7,1543.1 1452.3,1545.2 1464.0,1545.8 C1475.7,1546.4 1486.0,1545.2 1498.0,1546.0 C1510.0,1546.8 1524.0,1549.5 1536.0,1550.3 C1548.0,1551.1 1558.0,1550.5 1570.0,1551.0 C1582.0,1551.5 1595.9,1552.9 1608.0,1553.4 C1620.1,1553.9 1630.8,1553.5 1642.5,1554.0 C1654.2,1554.5 1666.8,1555.9 1678.5,1556.4 C1690.2,1556.9 1700.6,1556.7 1712.6,1557.0 C1724.6,1557.3 1738.6,1557.8 1750.6,1558.0 C1762.6,1558.2 1773.0,1558.1 1784.7,1558.5 C1796.4,1558.9 1809.0,1559.9 1820.7,1560.2 C1832.4,1560.5 1843.3,1560.4 1855.0,1560.5 C1866.7,1560.6 1864.3,1560.8 1891.0,1561.0 C1917.7,1561.2 1994.3,1561.6 2015.0,1561.7" clip-path="url(#gc3_0)" fill="none" stroke="#008000" stroke-width="8.5" stroke-dasharray="33.8 36.8" stroke-dashoffset="1.57"/>
<clipPath id="gc3_1"><rect x="484.0" y="1187.5" width="535.0" height="381.0"/></clipPath>
<path d="M188.0,1561.0 C193.2,1561.0 207.5,1561.2 219.0,1561.0 C230.5,1560.8 245.3,1560.3 257.0,1559.6 C268.7,1558.9 277.3,1559.6 289.0,1556.7 C300.7,1553.8 316.3,1546.0 327.0,1542.0 C337.7,1538.0 343.5,1538.3 353.0,1533.0 C362.5,1527.7 374.7,1516.2 384.0,1510.0 C393.3,1503.8 399.5,1502.8 409.0,1495.5 C418.5,1488.2 431.3,1474.2 441.0,1466.0 C450.7,1457.8 459.7,1451.5 467.0,1446.0 C474.3,1440.5 479.2,1436.4 485.0,1433.0 C490.8,1429.6 493.8,1426.7 502.0,1425.4 C510.2,1424.1 523.3,1424.0 534.0,1425.4 C544.7,1426.8 556.2,1430.1 566.0,1434.0 C575.8,1437.9 583.3,1442.7 592.6,1449.0 C601.9,1455.3 612.2,1465.2 621.7,1472.0 C631.2,1478.8 638.8,1483.8 649.5,1489.6 C660.2,1495.4 674.6,1503.1 686.0,1507.0 C697.4,1510.9 706.3,1511.5 718.0,1513.0 C729.7,1514.5 744.2,1515.5 756.0,1516.0 C767.8,1516.5 777.5,1515.5 789.0,1516.0 C800.5,1516.5 813.3,1517.6 825.0,1519.0 C836.7,1520.4 847.3,1522.9 859.0,1524.6 C870.7,1526.3 883.1,1527.3 895.0,1529.0 C906.9,1530.7 918.5,1533.6 930.5,1534.8 C942.5,1536.0 955.3,1536.0 967.0,1536.3 C978.7,1536.5 988.7,1536.4 1000.5,1536.3 C1012.3,1536.2 1025.9,1535.8 1038.0,1535.7 C1050.1,1535.6 1061.3,1536.0 1073.0,1535.7 C1084.7,1535.5 1096.3,1534.5 1108.0,1534.2 C1119.7,1534.0 1131.0,1534.2 1143.0,1534.2 C1155.0,1534.2 1168.3,1534.2 1180.0,1534.2 C1191.7,1534.2 1201.2,1533.9 1213.0,1534.2 C1224.8,1534.5 1238.8,1535.6 1251.0,1536.0 C1263.2,1536.4 1274.2,1536.0 1286.0,1536.5 C1297.8,1537.0 1310.3,1538.5 1322.0,1539.0 C1333.7,1539.5 1344.0,1539.0 1356.0,1539.5 C1368.0,1540.0 1382.0,1541.5 1394.0,1542.0 C1406.0,1542.5 1416.3,1541.9 1428.0,1542.5 C1439.7,1543.1 1452.3,1545.2 1464.0,1545.8 C1475.7,1546.4 1486.0,1545.2 1498.0,1546.0 C1510.0,1546.8 1524.0,1549.5 1536.0,1550.3 C1548.0,1551.1 1558.0,1550.5 1570.0,1551.0 C1582.0,1551.5 1595.9,1552.9 1608.0,1553.4 C1620.1,1553.9 1630.8,1553.5 1642.5,1554.0 C1654.2,1554.5 1666.8,1555.9 1678.5,1556.4 C1690.2,1556.9 1700.6,1556.7 1712.6,1557.0 C1724.6,1557.3 1738.6,1557.8 1750.6,1558.0 C1762.6,1558.2 1773.0,1558.1 1784.7,1558.5 C1796.4,1558.9 1809.0,1559.9 1820.7,1560.2 C1832.4,1560.5 1843.3,1560.4 1855.0,1560.5 C1866.7,1560.6 1864.3,1560.8 1891.0,1561.0 C1917.7,1561.2 1994.3,1561.6 2015.0,1561.7" clip-path="url(#gc3_1)" fill="none" stroke="#008000" stroke-width="8.5" stroke-dasharray="33.8 36.8" stroke-dashoffset="69.06"/>
<clipPath id="gc3_2"><rect x="1019.0" y="1187.5" width="570.0" height="381.0"/></clipPath>
<path d="M188.0,1561.0 C193.2,1561.0 207.5,1561.2 219.0,1561.0 C230.5,1560.8 245.3,1560.3 257.0,1559.6 C268.7,1558.9 277.3,1559.6 289.0,1556.7 C300.7,1553.8 316.3,1546.0 327.0,1542.0 C337.7,1538.0 343.5,1538.3 353.0,1533.0 C362.5,1527.7 374.7,1516.2 384.0,1510.0 C393.3,1503.8 399.5,1502.8 409.0,1495.5 C418.5,1488.2 431.3,1474.2 441.0,1466.0 C450.7,1457.8 459.7,1451.5 467.0,1446.0 C474.3,1440.5 479.2,1436.4 485.0,1433.0 C490.8,1429.6 493.8,1426.7 502.0,1425.4 C510.2,1424.1 523.3,1424.0 534.0,1425.4 C544.7,1426.8 556.2,1430.1 566.0,1434.0 C575.8,1437.9 583.3,1442.7 592.6,1449.0 C601.9,1455.3 612.2,1465.2 621.7,1472.0 C631.2,1478.8 638.8,1483.8 649.5,1489.6 C660.2,1495.4 674.6,1503.1 686.0,1507.0 C697.4,1510.9 706.3,1511.5 718.0,1513.0 C729.7,1514.5 744.2,1515.5 756.0,1516.0 C767.8,1516.5 777.5,1515.5 789.0,1516.0 C800.5,1516.5 813.3,1517.6 825.0,1519.0 C836.7,1520.4 847.3,1522.9 859.0,1524.6 C870.7,1526.3 883.1,1527.3 895.0,1529.0 C906.9,1530.7 918.5,1533.6 930.5,1534.8 C942.5,1536.0 955.3,1536.0 967.0,1536.3 C978.7,1536.5 988.7,1536.4 1000.5,1536.3 C1012.3,1536.2 1025.9,1535.8 1038.0,1535.7 C1050.1,1535.6 1061.3,1536.0 1073.0,1535.7 C1084.7,1535.5 1096.3,1534.5 1108.0,1534.2 C1119.7,1534.0 1131.0,1534.2 1143.0,1534.2 C1155.0,1534.2 1168.3,1534.2 1180.0,1534.2 C1191.7,1534.2 1201.2,1533.9 1213.0,1534.2 C1224.8,1534.5 1238.8,1535.6 1251.0,1536.0 C1263.2,1536.4 1274.2,1536.0 1286.0,1536.5 C1297.8,1537.0 1310.3,1538.5 1322.0,1539.0 C1333.7,1539.5 1344.0,1539.0 1356.0,1539.5 C1368.0,1540.0 1382.0,1541.5 1394.0,1542.0 C1406.0,1542.5 1416.3,1541.9 1428.0,1542.5 C1439.7,1543.1 1452.3,1545.2 1464.0,1545.8 C1475.7,1546.4 1486.0,1545.2 1498.0,1546.0 C1510.0,1546.8 1524.0,1549.5 1536.0,1550.3 C1548.0,1551.1 1558.0,1550.5 1570.0,1551.0 C1582.0,1551.5 1595.9,1552.9 1608.0,1553.4 C1620.1,1553.9 1630.8,1553.5 1642.5,1554.0 C1654.2,1554.5 1666.8,1555.9 1678.5,1556.4 C1690.2,1556.9 1700.6,1556.7 1712.6,1557.0 C1724.6,1557.3 1738.6,1557.8 1750.6,1558.0 C1762.6,1558.2 1773.0,1558.1 1784.7,1558.5 C1796.4,1558.9 1809.0,1559.9 1820.7,1560.2 C1832.4,1560.5 1843.3,1560.4 1855.0,1560.5 C1866.7,1560.6 1864.3,1560.8 1891.0,1561.0 C1917.7,1561.2 1994.3,1561.6 2015.0,1561.7" clip-path="url(#gc3_2)" fill="none" stroke="#008000" stroke-width="8.5" stroke-dasharray="33.8 36.8" stroke-dashoffset="2.29"/>
<clipPath id="gc3_3"><rect x="1589.0" y="1187.5" width="427.0" height="381.0"/></clipPath>
<path d="M188.0,1561.0 C193.2,1561.0 207.5,1561.2 219.0,1561.0 C230.5,1560.8 245.3,1560.3 257.0,1559.6 C268.7,1558.9 277.3,1559.6 289.0,1556.7 C300.7,1553.8 316.3,1546.0 327.0,1542.0 C337.7,1538.0 343.5,1538.3 353.0,1533.0 C362.5,1527.7 374.7,1516.2 384.0,1510.0 C393.3,1503.8 399.5,1502.8 409.0,1495.5 C418.5,1488.2 431.3,1474.2 441.0,1466.0 C450.7,1457.8 459.7,1451.5 467.0,1446.0 C474.3,1440.5 479.2,1436.4 485.0,1433.0 C490.8,1429.6 493.8,1426.7 502.0,1425.4 C510.2,1424.1 523.3,1424.0 534.0,1425.4 C544.7,1426.8 556.2,1430.1 566.0,1434.0 C575.8,1437.9 583.3,1442.7 592.6,1449.0 C601.9,1455.3 612.2,1465.2 621.7,1472.0 C631.2,1478.8 638.8,1483.8 649.5,1489.6 C660.2,1495.4 674.6,1503.1 686.0,1507.0 C697.4,1510.9 706.3,1511.5 718.0,1513.0 C729.7,1514.5 744.2,1515.5 756.0,1516.0 C767.8,1516.5 777.5,1515.5 789.0,1516.0 C800.5,1516.5 813.3,1517.6 825.0,1519.0 C836.7,1520.4 847.3,1522.9 859.0,1524.6 C870.7,1526.3 883.1,1527.3 895.0,1529.0 C906.9,1530.7 918.5,1533.6 930.5,1534.8 C942.5,1536.0 955.3,1536.0 967.0,1536.3 C978.7,1536.5 988.7,1536.4 1000.5,1536.3 C1012.3,1536.2 1025.9,1535.8 1038.0,1535.7 C1050.1,1535.6 1061.3,1536.0 1073.0,1535.7 C1084.7,1535.5 1096.3,1534.5 1108.0,1534.2 C1119.7,1534.0 1131.0,1534.2 1143.0,1534.2 C1155.0,1534.2 1168.3,1534.2 1180.0,1534.2 C1191.7,1534.2 1201.2,1533.9 1213.0,1534.2 C1224.8,1534.5 1238.8,1535.6 1251.0,1536.0 C1263.2,1536.4 1274.2,1536.0 1286.0,1536.5 C1297.8,1537.0 1310.3,1538.5 1322.0,1539.0 C1333.7,1539.5 1344.0,1539.0 1356.0,1539.5 C1368.0,1540.0 1382.0,1541.5 1394.0,1542.0 C1406.0,1542.5 1416.3,1541.9 1428.0,1542.5 C1439.7,1543.1 1452.3,1545.2 1464.0,1545.8 C1475.7,1546.4 1486.0,1545.2 1498.0,1546.0 C1510.0,1546.8 1524.0,1549.5 1536.0,1550.3 C1548.0,1551.1 1558.0,1550.5 1570.0,1551.0 C1582.0,1551.5 1595.9,1552.9 1608.0,1553.4 C1620.1,1553.9 1630.8,1553.5 1642.5,1554.0 C1654.2,1554.5 1666.8,1555.9 1678.5,1556.4 C1690.2,1556.9 1700.6,1556.7 1712.6,1557.0 C1724.6,1557.3 1738.6,1557.8 1750.6,1558.0 C1762.6,1558.2 1773.0,1558.1 1784.7,1558.5 C1796.4,1558.9 1809.0,1559.9 1820.7,1560.2 C1832.4,1560.5 1843.3,1560.4 1855.0,1560.5 C1866.7,1560.6 1864.3,1560.8 1891.0,1561.0 C1917.7,1561.2 1994.3,1561.6 2015.0,1561.7" clip-path="url(#gc3_3)" fill="none" stroke="#008000" stroke-width="8.5" stroke-dasharray="33.8 36.8" stroke-dashoffset="66.55"/>
</g>
<line x1="516.8" y1="26.2" x2="516.8" y2="1471.0" stroke="#000" stroke-width="4.2" stroke-dasharray="17 25.05"/>
<line x1="803.0" y1="105.6" x2="803.0" y2="1551.0" stroke="#000" stroke-width="4.2" stroke-dasharray="17 25.05"/>
<line x1="1159.4" y1="105.6" x2="1159.4" y2="1552.0" stroke="#000" stroke-width="4.2" stroke-dasharray="17 25.05"/>
<g stroke="#000" stroke-width="2.2" fill="none">
<line x1="190" y1="23" x2="2017" y2="23"/>
<line x1="190" y1="22" x2="190" y2="1187.5"/>
<line x1="188" y1="1187" x2="188" y2="1582"/>
<line x1="2015.3" y1="22" x2="2015.3" y2="1576"/>
<line x1="190" y1="408.0" x2="2016" y2="408.0"/>
<line x1="190" y1="799.5" x2="2016" y2="799.5"/>
<line x1="188" y1="1187.5" x2="2016" y2="1187.5"/>
<line x1="188" y1="1568.5" x2="2016" y2="1568.5"/>
<line x1="187.9" y1="1568" x2="187.9" y2="1582.0"/>
<line x1="302.2" y1="1568" x2="302.2" y2="1575.0"/>
<line x1="416.5" y1="1568" x2="416.5" y2="1582.0"/>
<line x1="530.7" y1="1568" x2="530.7" y2="1575.0"/>
<line x1="645.0" y1="1568" x2="645.0" y2="1582.0"/>
<line x1="759.3" y1="1568" x2="759.3" y2="1575.0"/>
<line x1="873.6" y1="1568" x2="873.6" y2="1582.0"/>
<line x1="987.9" y1="1568" x2="987.9" y2="1575.0"/>
<line x1="1102.1" y1="1568" x2="1102.1" y2="1582.0"/>
<line x1="1216.4" y1="1568" x2="1216.4" y2="1575.0"/>
<line x1="1330.7" y1="1568" x2="1330.7" y2="1582.0"/>
<line x1="1445.0" y1="1568" x2="1445.0" y2="1575.0"/>
<line x1="1559.3" y1="1568" x2="1559.3" y2="1582.0"/>
<line x1="1673.5" y1="1568" x2="1673.5" y2="1575.0"/>
<line x1="1787.8" y1="1568" x2="1787.8" y2="1582.0"/>
<line x1="1902.1" y1="1568" x2="1902.1" y2="1575.0"/>
<line x1="2016.4" y1="1568" x2="2016.4" y2="1582.0"/>
</g>
<g font-family="'Liberation Serif', serif" font-size="79" text-anchor="middle" fill="#000" stroke="#fff" stroke-width="0.8">
<text x="187.9" y="1648.3">100</text>
<text x="416.5" y="1648.3">200</text>
<text x="645.0" y="1648.3">300</text>
<text x="873.6" y="1648.3">400</text>
<text x="1102.1" y="1648.3">500</text>
<text x="1330.7" y="1648.3">600</text>
<text x="1559.3" y="1648.3">700</text>
<text x="1787.8" y="1648.3">800</text>
<text x="2016.4" y="1648.3">900</text>
</g>
<text x="750.4" y="1773" font-family="'Liberation Serif', serif" font-size="115" fill="#000" stroke="#fff" stroke-width="1.4"><tspan letter-spacing="-1">Temperature/</tspan><tspan dy="-56" font-size="66" dx="-1">o</tspan><tspan dy="56">C</tspan></text>
<text transform="translate(120.5,1191.5) rotate(-90)" font-family="'Liberation Serif', serif" font-size="115.5" fill="#000" stroke="#fff" stroke-width="1.4">NH<tspan dy="38.5" font-size="68">3</tspan><tspan dy="-38.5"> desorbed (a.u.)</tspan></text>
<text x="1992.4" y="355.2" text-anchor="end" font-family="'Liberation Serif', serif" font-size="49" fill="#000" stroke="#fff" stroke-width="0.7">(CeCu)1Cu2</text>
<text x="1972.8" y="711.5" text-anchor="end" font-family="'Liberation Serif', serif" font-size="49" fill="#000" stroke="#fff" stroke-width="0.7">(CeCu)12</text>
<text x="1986.0" y="1070.7" text-anchor="end" font-family="'Liberation Serif', serif" font-size="49" fill="#000" stroke="#fff" stroke-width="0.7">Cu1(CeCu)2</text>
<text x="1976.6" y="1513.3" text-anchor="end" font-family="'Liberation Serif', serif" font-size="49" fill="#000" stroke="#fff" stroke-width="0.7">Cu-SSZ-13</text>
</svg></body></html>
